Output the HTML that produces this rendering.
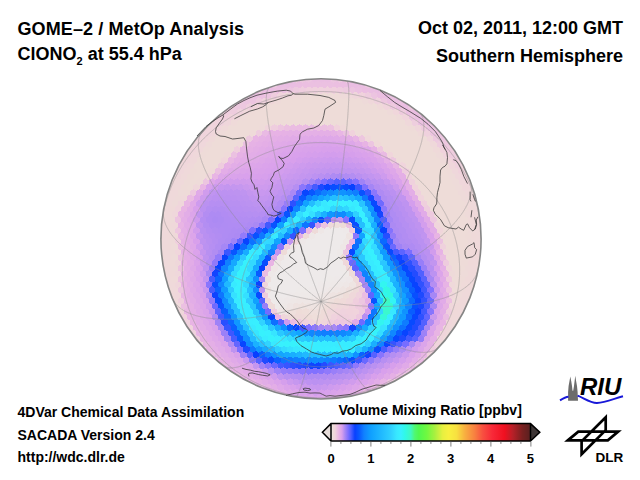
<!DOCTYPE html><html><head><meta charset="utf-8"><style>
body{margin:0;width:640px;height:480px;background:#fff;position:relative;overflow:hidden;font-family:"Liberation Sans",Arial,sans-serif;font-weight:bold;color:#000}
.t{position:absolute;white-space:nowrap;line-height:1}
svg{position:absolute;left:0;top:0}
</style></head><body>

<svg width="640" height="480" viewBox="0 0 640 480">
<defs><clipPath id="gc"><circle cx="321.0" cy="238.9" r="160.1"/></clipPath></defs>
<g clip-path="url(#gc)" shape-rendering="crispEdges"><path fill="#eedcd8" d="M318.1 70.2l3.27 1.90v3.80l-3.27 1.90l-3.27-1.90v-3.80zM324.4 70.2l3.27 1.90v3.80l-3.27 1.90l-3.27-1.90v-3.80zM311.9 91.8l3.27 1.90v3.80l-3.27 1.90l-3.27-1.90v-3.80zM318.1 91.8l3.27 1.90v3.80l-3.27 1.90l-3.27-1.90v-3.80zM324.4 91.8l3.27 1.90v3.80l-3.27 1.90l-3.27-1.90v-3.80zM283.8 97.2l3.27 1.90v3.80l-3.27 1.90l-3.27-1.90v-3.80zM290.1 97.2l3.27 1.90v3.80l-3.27 1.90l-3.27-1.90v-3.80zM296.3 97.2l3.27 1.90v3.80l-3.27 1.90l-3.27-1.90v-3.80zM302.5 97.2l3.27 1.90v3.80l-3.27 1.90l-3.27-1.90v-3.80zM308.8 97.2l3.27 1.90v3.80l-3.27 1.90l-3.27-1.90v-3.80zM315.0 97.2l3.27 1.90v3.80l-3.27 1.90l-3.27-1.90v-3.80zM321.2 97.2l3.27 1.90v3.80l-3.27 1.90l-3.27-1.90v-3.80zM327.5 97.2l3.27 1.90v3.80l-3.27 1.90l-3.27-1.90v-3.80zM333.7 97.2l3.27 1.90v3.80l-3.27 1.90l-3.27-1.90v-3.80zM339.9 97.2l3.27 1.90v3.80l-3.27 1.90l-3.27-1.90v-3.80zM346.2 97.2l3.27 1.90v3.80l-3.27 1.90l-3.27-1.90v-3.80zM352.4 97.2l3.27 1.90v3.80l-3.27 1.90l-3.27-1.90v-3.80zM358.6 97.2l3.27 1.90v3.80l-3.27 1.90l-3.27-1.90v-3.80zM268.2 102.6l3.27 1.90v3.80l-3.27 1.90l-3.27-1.90v-3.80zM274.5 102.6l3.27 1.90v3.80l-3.27 1.90l-3.27-1.90v-3.80zM280.7 102.6l3.27 1.90v3.80l-3.27 1.90l-3.27-1.90v-3.80zM286.9 102.6l3.27 1.90v3.80l-3.27 1.90l-3.27-1.90v-3.80zM293.2 102.6l3.27 1.90v3.80l-3.27 1.90l-3.27-1.90v-3.80zM299.4 102.6l3.27 1.90v3.80l-3.27 1.90l-3.27-1.90v-3.80zM305.6 102.6l3.27 1.90v3.80l-3.27 1.90l-3.27-1.90v-3.80zM311.9 102.6l3.27 1.90v3.80l-3.27 1.90l-3.27-1.90v-3.80zM318.1 102.6l3.27 1.90v3.80l-3.27 1.90l-3.27-1.90v-3.80zM324.4 102.6l3.27 1.90v3.80l-3.27 1.90l-3.27-1.90v-3.80zM330.6 102.6l3.27 1.90v3.80l-3.27 1.90l-3.27-1.90v-3.80zM336.8 102.6l3.27 1.90v3.80l-3.27 1.90l-3.27-1.90v-3.80zM343.1 102.6l3.27 1.90v3.80l-3.27 1.90l-3.27-1.90v-3.80zM349.3 102.6l3.27 1.90v3.80l-3.27 1.90l-3.27-1.90v-3.80zM355.5 102.6l3.27 1.90v3.80l-3.27 1.90l-3.27-1.90v-3.80zM361.8 102.6l3.27 1.90v3.80l-3.27 1.90l-3.27-1.90v-3.80zM368.0 102.6l3.27 1.90v3.80l-3.27 1.90l-3.27-1.90v-3.80zM374.2 102.6l3.27 1.90v3.80l-3.27 1.90l-3.27-1.90v-3.80zM258.9 108.0l3.27 1.90v3.80l-3.27 1.90l-3.27-1.90v-3.80zM265.1 108.0l3.27 1.90v3.80l-3.27 1.90l-3.27-1.90v-3.80zM271.4 108.0l3.27 1.90v3.80l-3.27 1.90l-3.27-1.90v-3.80zM277.6 108.0l3.27 1.90v3.80l-3.27 1.90l-3.27-1.90v-3.80zM283.8 108.0l3.27 1.90v3.80l-3.27 1.90l-3.27-1.90v-3.80zM290.1 108.0l3.27 1.90v3.80l-3.27 1.90l-3.27-1.90v-3.80zM296.3 108.0l3.27 1.90v3.80l-3.27 1.90l-3.27-1.90v-3.80zM302.5 108.0l3.27 1.90v3.80l-3.27 1.90l-3.27-1.90v-3.80zM308.8 108.0l3.27 1.90v3.80l-3.27 1.90l-3.27-1.90v-3.80zM315.0 108.0l3.27 1.90v3.80l-3.27 1.90l-3.27-1.90v-3.80zM321.2 108.0l3.27 1.90v3.80l-3.27 1.90l-3.27-1.90v-3.80zM327.5 108.0l3.27 1.90v3.80l-3.27 1.90l-3.27-1.90v-3.80zM333.7 108.0l3.27 1.90v3.80l-3.27 1.90l-3.27-1.90v-3.80zM339.9 108.0l3.27 1.90v3.80l-3.27 1.90l-3.27-1.90v-3.80zM346.2 108.0l3.27 1.90v3.80l-3.27 1.90l-3.27-1.90v-3.80zM352.4 108.0l3.27 1.90v3.80l-3.27 1.90l-3.27-1.90v-3.80zM358.6 108.0l3.27 1.90v3.80l-3.27 1.90l-3.27-1.90v-3.80zM364.9 108.0l3.27 1.90v3.80l-3.27 1.90l-3.27-1.90v-3.80zM371.1 108.0l3.27 1.90v3.80l-3.27 1.90l-3.27-1.90v-3.80zM377.4 108.0l3.27 1.90v3.80l-3.27 1.90l-3.27-1.90v-3.80zM383.6 108.0l3.27 1.90v3.80l-3.27 1.90l-3.27-1.90v-3.80zM249.5 113.4l3.27 1.90v3.80l-3.27 1.90l-3.27-1.90v-3.80zM255.8 113.4l3.27 1.90v3.80l-3.27 1.90l-3.27-1.90v-3.80zM262.0 113.4l3.27 1.90v3.80l-3.27 1.90l-3.27-1.90v-3.80zM268.2 113.4l3.27 1.90v3.80l-3.27 1.90l-3.27-1.90v-3.80zM274.5 113.4l3.27 1.90v3.80l-3.27 1.90l-3.27-1.90v-3.80zM280.7 113.4l3.27 1.90v3.80l-3.27 1.90l-3.27-1.90v-3.80zM286.9 113.4l3.27 1.90v3.80l-3.27 1.90l-3.27-1.90v-3.80zM293.2 113.4l3.27 1.90v3.80l-3.27 1.90l-3.27-1.90v-3.80zM299.4 113.4l3.27 1.90v3.80l-3.27 1.90l-3.27-1.90v-3.80zM305.6 113.4l3.27 1.90v3.80l-3.27 1.90l-3.27-1.90v-3.80zM311.9 113.4l3.27 1.90v3.80l-3.27 1.90l-3.27-1.90v-3.80zM318.1 113.4l3.27 1.90v3.80l-3.27 1.90l-3.27-1.90v-3.80zM324.4 113.4l3.27 1.90v3.80l-3.27 1.90l-3.27-1.90v-3.80zM330.6 113.4l3.27 1.90v3.80l-3.27 1.90l-3.27-1.90v-3.80zM336.8 113.4l3.27 1.90v3.80l-3.27 1.90l-3.27-1.90v-3.80zM343.1 113.4l3.27 1.90v3.80l-3.27 1.90l-3.27-1.90v-3.80zM349.3 113.4l3.27 1.90v3.80l-3.27 1.90l-3.27-1.90v-3.80zM355.5 113.4l3.27 1.90v3.80l-3.27 1.90l-3.27-1.90v-3.80zM361.8 113.4l3.27 1.90v3.80l-3.27 1.90l-3.27-1.90v-3.80zM368.0 113.4l3.27 1.90v3.80l-3.27 1.90l-3.27-1.90v-3.80zM374.2 113.4l3.27 1.90v3.80l-3.27 1.90l-3.27-1.90v-3.80zM380.5 113.4l3.27 1.90v3.80l-3.27 1.90l-3.27-1.90v-3.80zM386.7 113.4l3.27 1.90v3.80l-3.27 1.90l-3.27-1.90v-3.80zM392.9 113.4l3.27 1.90v3.80l-3.27 1.90l-3.27-1.90v-3.80zM240.2 118.8l3.27 1.90v3.80l-3.27 1.90l-3.27-1.90v-3.80zM246.4 118.8l3.27 1.90v3.80l-3.27 1.90l-3.27-1.90v-3.80zM252.6 118.8l3.27 1.90v3.80l-3.27 1.90l-3.27-1.90v-3.80zM258.9 118.8l3.27 1.90v3.80l-3.27 1.90l-3.27-1.90v-3.80zM265.1 118.8l3.27 1.90v3.80l-3.27 1.90l-3.27-1.90v-3.80zM271.4 118.8l3.27 1.90v3.80l-3.27 1.90l-3.27-1.90v-3.80zM277.6 118.8l3.27 1.90v3.80l-3.27 1.90l-3.27-1.90v-3.80zM283.8 118.8l3.27 1.90v3.80l-3.27 1.90l-3.27-1.90v-3.80zM290.1 118.8l3.27 1.90v3.80l-3.27 1.90l-3.27-1.90v-3.80zM296.3 118.8l3.27 1.90v3.80l-3.27 1.90l-3.27-1.90v-3.80zM302.5 118.8l3.27 1.90v3.80l-3.27 1.90l-3.27-1.90v-3.80zM308.8 118.8l3.27 1.90v3.80l-3.27 1.90l-3.27-1.90v-3.80zM315.0 118.8l3.27 1.90v3.80l-3.27 1.90l-3.27-1.90v-3.80zM321.2 118.8l3.27 1.90v3.80l-3.27 1.90l-3.27-1.90v-3.80zM327.5 118.8l3.27 1.90v3.80l-3.27 1.90l-3.27-1.90v-3.80zM333.7 118.8l3.27 1.90v3.80l-3.27 1.90l-3.27-1.90v-3.80zM339.9 118.8l3.27 1.90v3.80l-3.27 1.90l-3.27-1.90v-3.80zM346.2 118.8l3.27 1.90v3.80l-3.27 1.90l-3.27-1.90v-3.80zM352.4 118.8l3.27 1.90v3.80l-3.27 1.90l-3.27-1.90v-3.80zM358.6 118.8l3.27 1.90v3.80l-3.27 1.90l-3.27-1.90v-3.80zM364.9 118.8l3.27 1.90v3.80l-3.27 1.90l-3.27-1.90v-3.80zM371.1 118.8l3.27 1.90v3.80l-3.27 1.90l-3.27-1.90v-3.80zM377.4 118.8l3.27 1.90v3.80l-3.27 1.90l-3.27-1.90v-3.80zM383.6 118.8l3.27 1.90v3.80l-3.27 1.90l-3.27-1.90v-3.80zM389.8 118.8l3.27 1.90v3.80l-3.27 1.90l-3.27-1.90v-3.80zM396.1 118.8l3.27 1.90v3.80l-3.27 1.90l-3.27-1.90v-3.80zM402.3 118.8l3.27 1.90v3.80l-3.27 1.90l-3.27-1.90v-3.80zM230.8 124.2l3.27 1.90v3.80l-3.27 1.90l-3.27-1.90v-3.80zM237.1 124.2l3.27 1.90v3.80l-3.27 1.90l-3.27-1.90v-3.80zM243.3 124.2l3.27 1.90v3.80l-3.27 1.90l-3.27-1.90v-3.80zM249.5 124.2l3.27 1.90v3.80l-3.27 1.90l-3.27-1.90v-3.80zM255.8 124.2l3.27 1.90v3.80l-3.27 1.90l-3.27-1.90v-3.80zM349.3 124.2l3.27 1.90v3.80l-3.27 1.90l-3.27-1.90v-3.80zM355.5 124.2l3.27 1.90v3.80l-3.27 1.90l-3.27-1.90v-3.80zM361.8 124.2l3.27 1.90v3.80l-3.27 1.90l-3.27-1.90v-3.80zM368.0 124.2l3.27 1.90v3.80l-3.27 1.90l-3.27-1.90v-3.80zM374.2 124.2l3.27 1.90v3.80l-3.27 1.90l-3.27-1.90v-3.80zM380.5 124.2l3.27 1.90v3.80l-3.27 1.90l-3.27-1.90v-3.80zM386.7 124.2l3.27 1.90v3.80l-3.27 1.90l-3.27-1.90v-3.80zM392.9 124.2l3.27 1.90v3.80l-3.27 1.90l-3.27-1.90v-3.80zM399.2 124.2l3.27 1.90v3.80l-3.27 1.90l-3.27-1.90v-3.80zM405.4 124.2l3.27 1.90v3.80l-3.27 1.90l-3.27-1.90v-3.80zM227.7 129.6l3.27 1.90v3.80l-3.27 1.90l-3.27-1.90v-3.80zM233.9 129.6l3.27 1.90v3.80l-3.27 1.90l-3.27-1.90v-3.80zM240.2 129.6l3.27 1.90v3.80l-3.27 1.90l-3.27-1.90v-3.80zM246.4 129.6l3.27 1.90v3.80l-3.27 1.90l-3.27-1.90v-3.80zM364.9 129.6l3.27 1.90v3.80l-3.27 1.90l-3.27-1.90v-3.80zM371.1 129.6l3.27 1.90v3.80l-3.27 1.90l-3.27-1.90v-3.80zM377.4 129.6l3.27 1.90v3.80l-3.27 1.90l-3.27-1.90v-3.80zM383.6 129.6l3.27 1.90v3.80l-3.27 1.90l-3.27-1.90v-3.80zM389.8 129.6l3.27 1.90v3.80l-3.27 1.90l-3.27-1.90v-3.80zM396.1 129.6l3.27 1.90v3.80l-3.27 1.90l-3.27-1.90v-3.80zM402.3 129.6l3.27 1.90v3.80l-3.27 1.90l-3.27-1.90v-3.80zM408.5 129.6l3.27 1.90v3.80l-3.27 1.90l-3.27-1.90v-3.80zM414.8 129.6l3.27 1.90v3.80l-3.27 1.90l-3.27-1.90v-3.80zM218.4 135.0l3.27 1.90v3.80l-3.27 1.90l-3.27-1.90v-3.80zM224.6 135.0l3.27 1.90v3.80l-3.27 1.90l-3.27-1.90v-3.80zM230.8 135.0l3.27 1.90v3.80l-3.27 1.90l-3.27-1.90v-3.80zM237.1 135.0l3.27 1.90v3.80l-3.27 1.90l-3.27-1.90v-3.80zM243.3 135.0l3.27 1.90v3.80l-3.27 1.90l-3.27-1.90v-3.80zM374.2 135.0l3.27 1.90v3.80l-3.27 1.90l-3.27-1.90v-3.80zM380.5 135.0l3.27 1.90v3.80l-3.27 1.90l-3.27-1.90v-3.80zM386.7 135.0l3.27 1.90v3.80l-3.27 1.90l-3.27-1.90v-3.80zM392.9 135.0l3.27 1.90v3.80l-3.27 1.90l-3.27-1.90v-3.80zM399.2 135.0l3.27 1.90v3.80l-3.27 1.90l-3.27-1.90v-3.80zM405.4 135.0l3.27 1.90v3.80l-3.27 1.90l-3.27-1.90v-3.80zM411.7 135.0l3.27 1.90v3.80l-3.27 1.90l-3.27-1.90v-3.80zM417.9 135.0l3.27 1.90v3.80l-3.27 1.90l-3.27-1.90v-3.80zM424.1 135.0l3.27 1.90v3.80l-3.27 1.90l-3.27-1.90v-3.80zM215.2 140.4l3.27 1.90v3.80l-3.27 1.90l-3.27-1.90v-3.80zM221.5 140.4l3.27 1.90v3.80l-3.27 1.90l-3.27-1.90v-3.80zM227.7 140.4l3.27 1.90v3.80l-3.27 1.90l-3.27-1.90v-3.80zM233.9 140.4l3.27 1.90v3.80l-3.27 1.90l-3.27-1.90v-3.80zM383.6 140.4l3.27 1.90v3.80l-3.27 1.90l-3.27-1.90v-3.80zM389.8 140.4l3.27 1.90v3.80l-3.27 1.90l-3.27-1.90v-3.80zM396.1 140.4l3.27 1.90v3.80l-3.27 1.90l-3.27-1.90v-3.80zM402.3 140.4l3.27 1.90v3.80l-3.27 1.90l-3.27-1.90v-3.80zM408.5 140.4l3.27 1.90v3.80l-3.27 1.90l-3.27-1.90v-3.80zM414.8 140.4l3.27 1.90v3.80l-3.27 1.90l-3.27-1.90v-3.80zM421.0 140.4l3.27 1.90v3.80l-3.27 1.90l-3.27-1.90v-3.80zM427.2 140.4l3.27 1.90v3.80l-3.27 1.90l-3.27-1.90v-3.80zM212.1 145.8l3.27 1.90v3.80l-3.27 1.90l-3.27-1.90v-3.80zM218.4 145.8l3.27 1.90v3.80l-3.27 1.90l-3.27-1.90v-3.80zM224.6 145.8l3.27 1.90v3.80l-3.27 1.90l-3.27-1.90v-3.80zM230.8 145.8l3.27 1.90v3.80l-3.27 1.90l-3.27-1.90v-3.80zM392.9 145.8l3.27 1.90v3.80l-3.27 1.90l-3.27-1.90v-3.80zM399.2 145.8l3.27 1.90v3.80l-3.27 1.90l-3.27-1.90v-3.80zM405.4 145.8l3.27 1.90v3.80l-3.27 1.90l-3.27-1.90v-3.80zM411.7 145.8l3.27 1.90v3.80l-3.27 1.90l-3.27-1.90v-3.80zM417.9 145.8l3.27 1.90v3.80l-3.27 1.90l-3.27-1.90v-3.80zM424.1 145.8l3.27 1.90v3.80l-3.27 1.90l-3.27-1.90v-3.80zM430.4 145.8l3.27 1.90v3.80l-3.27 1.90l-3.27-1.90v-3.80zM209.0 151.2l3.27 1.90v3.80l-3.27 1.90l-3.27-1.90v-3.80zM215.2 151.2l3.27 1.90v3.80l-3.27 1.90l-3.27-1.90v-3.80zM221.5 151.2l3.27 1.90v3.80l-3.27 1.90l-3.27-1.90v-3.80zM396.1 151.2l3.27 1.90v3.80l-3.27 1.90l-3.27-1.90v-3.80zM402.3 151.2l3.27 1.90v3.80l-3.27 1.90l-3.27-1.90v-3.80zM408.5 151.2l3.27 1.90v3.80l-3.27 1.90l-3.27-1.90v-3.80zM414.8 151.2l3.27 1.90v3.80l-3.27 1.90l-3.27-1.90v-3.80zM421.0 151.2l3.27 1.90v3.80l-3.27 1.90l-3.27-1.90v-3.80zM427.2 151.2l3.27 1.90v3.80l-3.27 1.90l-3.27-1.90v-3.80zM433.5 151.2l3.27 1.90v3.80l-3.27 1.90l-3.27-1.90v-3.80zM199.6 156.6l3.27 1.90v3.80l-3.27 1.90l-3.27-1.90v-3.80zM205.9 156.6l3.27 1.90v3.80l-3.27 1.90l-3.27-1.90v-3.80zM212.1 156.6l3.27 1.90v3.80l-3.27 1.90l-3.27-1.90v-3.80zM218.4 156.6l3.27 1.90v3.80l-3.27 1.90l-3.27-1.90v-3.80zM405.4 156.6l3.27 1.90v3.80l-3.27 1.90l-3.27-1.90v-3.80zM411.7 156.6l3.27 1.90v3.80l-3.27 1.90l-3.27-1.90v-3.80zM417.9 156.6l3.27 1.90v3.80l-3.27 1.90l-3.27-1.90v-3.80zM424.1 156.6l3.27 1.90v3.80l-3.27 1.90l-3.27-1.90v-3.80zM430.4 156.6l3.27 1.90v3.80l-3.27 1.90l-3.27-1.90v-3.80zM436.6 156.6l3.27 1.90v3.80l-3.27 1.90l-3.27-1.90v-3.80zM196.5 162.0l3.27 1.90v3.80l-3.27 1.90l-3.27-1.90v-3.80zM202.8 162.0l3.27 1.90v3.80l-3.27 1.90l-3.27-1.90v-3.80zM209.0 162.0l3.27 1.90v3.80l-3.27 1.90l-3.27-1.90v-3.80zM215.2 162.0l3.27 1.90v3.80l-3.27 1.90l-3.27-1.90v-3.80zM408.5 162.0l3.27 1.90v3.80l-3.27 1.90l-3.27-1.90v-3.80zM414.8 162.0l3.27 1.90v3.80l-3.27 1.90l-3.27-1.90v-3.80zM421.0 162.0l3.27 1.90v3.80l-3.27 1.90l-3.27-1.90v-3.80zM427.2 162.0l3.27 1.90v3.80l-3.27 1.90l-3.27-1.90v-3.80zM433.5 162.0l3.27 1.90v3.80l-3.27 1.90l-3.27-1.90v-3.80zM439.7 162.0l3.27 1.90v3.80l-3.27 1.90l-3.27-1.90v-3.80zM199.6 167.4l3.27 1.90v3.80l-3.27 1.90l-3.27-1.90v-3.80zM205.9 167.4l3.27 1.90v3.80l-3.27 1.90l-3.27-1.90v-3.80zM411.7 167.4l3.27 1.90v3.80l-3.27 1.90l-3.27-1.90v-3.80zM417.9 167.4l3.27 1.90v3.80l-3.27 1.90l-3.27-1.90v-3.80zM424.1 167.4l3.27 1.90v3.80l-3.27 1.90l-3.27-1.90v-3.80zM430.4 167.4l3.27 1.90v3.80l-3.27 1.90l-3.27-1.90v-3.80zM436.6 167.4l3.27 1.90v3.80l-3.27 1.90l-3.27-1.90v-3.80zM442.8 167.4l3.27 1.90v3.80l-3.27 1.90l-3.27-1.90v-3.80zM196.5 172.8l3.27 1.90v3.80l-3.27 1.90l-3.27-1.90v-3.80zM202.8 172.8l3.27 1.90v3.80l-3.27 1.90l-3.27-1.90v-3.80zM414.8 172.8l3.27 1.90v3.80l-3.27 1.90l-3.27-1.90v-3.80zM421.0 172.8l3.27 1.90v3.80l-3.27 1.90l-3.27-1.90v-3.80zM427.2 172.8l3.27 1.90v3.80l-3.27 1.90l-3.27-1.90v-3.80zM433.5 172.8l3.27 1.90v3.80l-3.27 1.90l-3.27-1.90v-3.80zM439.7 172.8l3.27 1.90v3.80l-3.27 1.90l-3.27-1.90v-3.80zM445.9 172.8l3.27 1.90v3.80l-3.27 1.90l-3.27-1.90v-3.80zM193.4 178.2l3.27 1.90v3.80l-3.27 1.90l-3.27-1.90v-3.80zM417.9 178.2l3.27 1.90v3.80l-3.27 1.90l-3.27-1.90v-3.80zM424.1 178.2l3.27 1.90v3.80l-3.27 1.90l-3.27-1.90v-3.80zM430.4 178.2l3.27 1.90v3.80l-3.27 1.90l-3.27-1.90v-3.80zM436.6 178.2l3.27 1.90v3.80l-3.27 1.90l-3.27-1.90v-3.80zM442.8 178.2l3.27 1.90v3.80l-3.27 1.90l-3.27-1.90v-3.80zM449.1 178.2l3.27 1.90v3.80l-3.27 1.90l-3.27-1.90v-3.80zM165.4 183.6l3.27 1.90v3.80l-3.27 1.90l-3.27-1.90v-3.80zM190.3 183.6l3.27 1.90v3.80l-3.27 1.90l-3.27-1.90v-3.80zM421.0 183.6l3.27 1.90v3.80l-3.27 1.90l-3.27-1.90v-3.80zM427.2 183.6l3.27 1.90v3.80l-3.27 1.90l-3.27-1.90v-3.80zM433.5 183.6l3.27 1.90v3.80l-3.27 1.90l-3.27-1.90v-3.80zM439.7 183.6l3.27 1.90v3.80l-3.27 1.90l-3.27-1.90v-3.80zM445.9 183.6l3.27 1.90v3.80l-3.27 1.90l-3.27-1.90v-3.80zM452.2 183.6l3.27 1.90v3.80l-3.27 1.90l-3.27-1.90v-3.80zM477.1 183.6l3.27 1.90v3.80l-3.27 1.90l-3.27-1.90v-3.80zM424.1 189.0l3.27 1.90v3.80l-3.27 1.90l-3.27-1.90v-3.80zM430.4 189.0l3.27 1.90v3.80l-3.27 1.90l-3.27-1.90v-3.80zM436.6 189.0l3.27 1.90v3.80l-3.27 1.90l-3.27-1.90v-3.80zM442.8 189.0l3.27 1.90v3.80l-3.27 1.90l-3.27-1.90v-3.80zM449.1 189.0l3.27 1.90v3.80l-3.27 1.90l-3.27-1.90v-3.80zM455.3 189.0l3.27 1.90v3.80l-3.27 1.90l-3.27-1.90v-3.80zM427.2 194.4l3.27 1.90v3.80l-3.27 1.90l-3.27-1.90v-3.80zM433.5 194.4l3.27 1.90v3.80l-3.27 1.90l-3.27-1.90v-3.80zM439.7 194.4l3.27 1.90v3.80l-3.27 1.90l-3.27-1.90v-3.80zM445.9 194.4l3.27 1.90v3.80l-3.27 1.90l-3.27-1.90v-3.80zM452.2 194.4l3.27 1.90v3.80l-3.27 1.90l-3.27-1.90v-3.80zM458.4 194.4l3.27 1.90v3.80l-3.27 1.90l-3.27-1.90v-3.80zM430.4 199.8l3.27 1.90v3.80l-3.27 1.90l-3.27-1.90v-3.80zM436.6 199.8l3.27 1.90v3.80l-3.27 1.90l-3.27-1.90v-3.80zM442.8 199.8l3.27 1.90v3.80l-3.27 1.90l-3.27-1.90v-3.80zM449.1 199.8l3.27 1.90v3.80l-3.27 1.90l-3.27-1.90v-3.80zM455.3 199.8l3.27 1.90v3.80l-3.27 1.90l-3.27-1.90v-3.80zM461.5 199.8l3.27 1.90v3.80l-3.27 1.90l-3.27-1.90v-3.80zM159.1 205.2l3.27 1.90v3.80l-3.27 1.90l-3.27-1.90v-3.80zM433.5 205.2l3.27 1.90v3.80l-3.27 1.90l-3.27-1.90v-3.80zM439.7 205.2l3.27 1.90v3.80l-3.27 1.90l-3.27-1.90v-3.80zM445.9 205.2l3.27 1.90v3.80l-3.27 1.90l-3.27-1.90v-3.80zM452.2 205.2l3.27 1.90v3.80l-3.27 1.90l-3.27-1.90v-3.80zM458.4 205.2l3.27 1.90v3.80l-3.27 1.90l-3.27-1.90v-3.80zM436.6 210.6l3.27 1.90v3.80l-3.27 1.90l-3.27-1.90v-3.80zM442.8 210.6l3.27 1.90v3.80l-3.27 1.90l-3.27-1.90v-3.80zM449.1 210.6l3.27 1.90v3.80l-3.27 1.90l-3.27-1.90v-3.80zM455.3 210.6l3.27 1.90v3.80l-3.27 1.90l-3.27-1.90v-3.80zM461.5 210.6l3.27 1.90v3.80l-3.27 1.90l-3.27-1.90v-3.80zM439.7 216.0l3.27 1.90v3.80l-3.27 1.90l-3.27-1.90v-3.80zM445.9 216.0l3.27 1.90v3.80l-3.27 1.90l-3.27-1.90v-3.80zM452.2 216.0l3.27 1.90v3.80l-3.27 1.90l-3.27-1.90v-3.80zM458.4 216.0l3.27 1.90v3.80l-3.27 1.90l-3.27-1.90v-3.80zM464.7 216.0l3.27 1.90v3.80l-3.27 1.90l-3.27-1.90v-3.80zM343.1 221.4l3.27 1.90v3.80l-3.27 1.90l-3.27-1.90v-3.80zM442.8 221.4l3.27 1.90v3.80l-3.27 1.90l-3.27-1.90v-3.80zM449.1 221.4l3.27 1.90v3.80l-3.27 1.90l-3.27-1.90v-3.80zM455.3 221.4l3.27 1.90v3.80l-3.27 1.90l-3.27-1.90v-3.80zM461.5 221.4l3.27 1.90v3.80l-3.27 1.90l-3.27-1.90v-3.80zM445.9 226.8l3.27 1.90v3.80l-3.27 1.90l-3.27-1.90v-3.80zM452.2 226.8l3.27 1.90v3.80l-3.27 1.90l-3.27-1.90v-3.80zM458.4 226.8l3.27 1.90v3.80l-3.27 1.90l-3.27-1.90v-3.80zM464.7 226.8l3.27 1.90v3.80l-3.27 1.90l-3.27-1.90v-3.80zM156.0 232.2l3.27 1.90v3.80l-3.27 1.90l-3.27-1.90v-3.80zM449.1 232.2l3.27 1.90v3.80l-3.27 1.90l-3.27-1.90v-3.80zM455.3 232.2l3.27 1.90v3.80l-3.27 1.90l-3.27-1.90v-3.80zM461.5 232.2l3.27 1.90v3.80l-3.27 1.90l-3.27-1.90v-3.80zM445.9 237.6l3.27 1.90v3.80l-3.27 1.90l-3.27-1.90v-3.80zM452.2 237.6l3.27 1.90v3.80l-3.27 1.90l-3.27-1.90v-3.80zM458.4 237.6l3.27 1.90v3.80l-3.27 1.90l-3.27-1.90v-3.80zM464.7 237.6l3.27 1.90v3.80l-3.27 1.90l-3.27-1.90v-3.80zM449.1 243.0l3.27 1.90v3.80l-3.27 1.90l-3.27-1.90v-3.80zM455.3 243.0l3.27 1.90v3.80l-3.27 1.90l-3.27-1.90v-3.80zM461.5 243.0l3.27 1.90v3.80l-3.27 1.90l-3.27-1.90v-3.80zM452.2 248.4l3.27 1.90v3.80l-3.27 1.90l-3.27-1.90v-3.80zM458.4 248.4l3.27 1.90v3.80l-3.27 1.90l-3.27-1.90v-3.80zM464.7 248.4l3.27 1.90v3.80l-3.27 1.90l-3.27-1.90v-3.80zM343.1 253.8l3.27 1.90v3.80l-3.27 1.90l-3.27-1.90v-3.80zM449.1 253.8l3.27 1.90v3.80l-3.27 1.90l-3.27-1.90v-3.80zM455.3 253.8l3.27 1.90v3.80l-3.27 1.90l-3.27-1.90v-3.80zM461.5 253.8l3.27 1.90v3.80l-3.27 1.90l-3.27-1.90v-3.80zM452.2 259.1l3.27 1.90v3.80l-3.27 1.90l-3.27-1.90v-3.80zM458.4 259.1l3.27 1.90v3.80l-3.27 1.90l-3.27-1.90v-3.80zM455.3 264.6l3.27 1.90v3.80l-3.27 1.90l-3.27-1.90v-3.80zM461.5 264.6l3.27 1.90v3.80l-3.27 1.90l-3.27-1.90v-3.80zM458.4 270.0l3.27 1.90v3.80l-3.27 1.90l-3.27-1.90v-3.80zM162.2 275.4l3.27 1.90v3.80l-3.27 1.90l-3.27-1.90v-3.80zM455.3 275.4l3.27 1.90v3.80l-3.27 1.90l-3.27-1.90v-3.80zM480.2 275.4l3.27 1.90v3.80l-3.27 1.90l-3.27-1.90v-3.80zM458.4 280.8l3.27 1.90v3.80l-3.27 1.90l-3.27-1.90v-3.80zM455.3 286.1l3.27 1.90v3.80l-3.27 1.90l-3.27-1.90v-3.80zM168.5 297.0l3.27 1.90v3.80l-3.27 1.90l-3.27-1.90v-3.80zM336.8 297.0l3.27 1.90v3.80l-3.27 1.90l-3.27-1.90v-3.80zM474.0 297.0l3.27 1.90v3.80l-3.27 1.90l-3.27-1.90v-3.80zM470.9 302.4l3.27 1.90v3.80l-3.27 1.90l-3.27-1.90v-3.80zM299.4 307.8l3.27 1.90v3.80l-3.27 1.90l-3.27-1.90v-3.80zM467.8 307.8l3.27 1.90v3.80l-3.27 1.90l-3.27-1.90v-3.80zM308.8 313.2l3.27 1.90v3.80l-3.27 1.90l-3.27-1.90v-3.80zM187.2 329.4l3.27 1.90v3.80l-3.27 1.90l-3.27-1.90v-3.80zM455.3 329.4l3.27 1.90v3.80l-3.27 1.90l-3.27-1.90v-3.80zM190.3 334.8l3.27 1.90v3.80l-3.27 1.90l-3.27-1.90v-3.80zM452.2 334.8l3.27 1.90v3.80l-3.27 1.90l-3.27-1.90v-3.80zM436.6 351.0l3.27 1.90v3.80l-3.27 1.90l-3.27-1.90v-3.80zM209.0 356.4l3.27 1.90v3.80l-3.27 1.90l-3.27-1.90v-3.80zM411.7 372.6l3.27 1.90v3.80l-3.27 1.90l-3.27-1.90v-3.80zM402.3 378.0l3.27 1.90v3.80l-3.27 1.90l-3.27-1.90v-3.80zM392.9 383.4l3.27 1.90v3.80l-3.27 1.90l-3.27-1.90v-3.80z"/><path fill="#eedad9" d="M283.8 75.6l3.27 1.90v3.80l-3.27 1.90l-3.27-1.90v-3.80zM389.8 86.4l3.27 1.90v3.80l-3.27 1.90l-3.27-1.90v-3.80zM299.4 91.8l3.27 1.90v3.80l-3.27 1.90l-3.27-1.90v-3.80zM343.1 91.8l3.27 1.90v3.80l-3.27 1.90l-3.27-1.90v-3.80zM277.6 97.2l3.27 1.90v3.80l-3.27 1.90l-3.27-1.90v-3.80zM364.9 97.2l3.27 1.90v3.80l-3.27 1.90l-3.27-1.90v-3.80zM389.8 108.0l3.27 1.90v3.80l-3.27 1.90l-3.27-1.90v-3.80zM399.2 113.4l3.27 1.90v3.80l-3.27 1.90l-3.27-1.90v-3.80zM196.5 129.6l3.27 1.90v3.80l-3.27 1.90l-3.27-1.90v-3.80zM445.9 129.6l3.27 1.90v3.80l-3.27 1.90l-3.27-1.90v-3.80zM209.0 140.4l3.27 1.90v3.80l-3.27 1.90l-3.27-1.90v-3.80zM439.7 151.2l3.27 1.90v3.80l-3.27 1.90l-3.27-1.90v-3.80zM442.8 156.6l3.27 1.90v3.80l-3.27 1.90l-3.27-1.90v-3.80zM474.0 178.2l3.27 1.90v3.80l-3.27 1.90l-3.27-1.90v-3.80zM461.5 189.0l3.27 1.90v3.80l-3.27 1.90l-3.27-1.90v-3.80zM177.8 194.4l3.27 1.90v3.80l-3.27 1.90l-3.27-1.90v-3.80zM464.7 194.4l3.27 1.90v3.80l-3.27 1.90l-3.27-1.90v-3.80zM174.7 199.8l3.27 1.90v3.80l-3.27 1.90l-3.27-1.90v-3.80zM467.8 210.6l3.27 1.90v3.80l-3.27 1.90l-3.27-1.90v-3.80zM171.6 216.0l3.27 1.90v3.80l-3.27 1.90l-3.27-1.90v-3.80zM171.6 226.8l3.27 1.90v3.80l-3.27 1.90l-3.27-1.90v-3.80zM470.9 226.8l3.27 1.90v3.80l-3.27 1.90l-3.27-1.90v-3.80zM159.1 237.6l3.27 1.90v3.80l-3.27 1.90l-3.27-1.90v-3.80zM171.6 237.6l3.27 1.90v3.80l-3.27 1.90l-3.27-1.90v-3.80zM470.9 237.6l3.27 1.90v3.80l-3.27 1.90l-3.27-1.90v-3.80zM483.4 237.6l3.27 1.90v3.80l-3.27 1.90l-3.27-1.90v-3.80zM171.6 248.4l3.27 1.90v3.80l-3.27 1.90l-3.27-1.90v-3.80zM162.2 264.6l3.27 1.90v3.80l-3.27 1.90l-3.27-1.90v-3.80zM174.7 264.6l3.27 1.90v3.80l-3.27 1.90l-3.27-1.90v-3.80zM467.8 264.6l3.27 1.90v3.80l-3.27 1.90l-3.27-1.90v-3.80zM480.2 264.6l3.27 1.90v3.80l-3.27 1.90l-3.27-1.90v-3.80zM452.2 270.0l3.27 1.90v3.80l-3.27 1.90l-3.27-1.90v-3.80zM355.5 275.4l3.27 1.90v3.80l-3.27 1.90l-3.27-1.90v-3.80zM355.5 286.1l3.27 1.90v3.80l-3.27 1.90l-3.27-1.90v-3.80zM461.5 286.1l3.27 1.90v3.80l-3.27 1.90l-3.27-1.90v-3.80zM290.1 313.2l3.27 1.90v3.80l-3.27 1.90l-3.27-1.90v-3.80zM296.3 313.2l3.27 1.90v3.80l-3.27 1.90l-3.27-1.90v-3.80zM302.5 313.2l3.27 1.90v3.80l-3.27 1.90l-3.27-1.90v-3.80zM439.7 345.6l3.27 1.90v3.80l-3.27 1.90l-3.27-1.90v-3.80z"/><path fill="#f0d5db" d="M290.1 75.6l3.27 1.90v3.80l-3.27 1.90l-3.27-1.90v-3.80zM352.4 75.6l3.27 1.90v3.80l-3.27 1.90l-3.27-1.90v-3.80zM399.2 91.8l3.27 1.90v3.80l-3.27 1.90l-3.27-1.90v-3.80zM255.8 102.6l3.27 1.90v3.80l-3.27 1.90l-3.27-1.90v-3.80zM449.1 135.0l3.27 1.90v3.80l-3.27 1.90l-3.27-1.90v-3.80zM193.4 145.8l3.27 1.90v3.80l-3.27 1.90l-3.27-1.90v-3.80zM389.8 151.2l3.27 1.90v3.80l-3.27 1.90l-3.27-1.90v-3.80zM449.1 156.6l3.27 1.90v3.80l-3.27 1.90l-3.27-1.90v-3.80zM461.5 156.6l3.27 1.90v3.80l-3.27 1.90l-3.27-1.90v-3.80zM467.8 178.2l3.27 1.90v3.80l-3.27 1.90l-3.27-1.90v-3.80zM439.7 226.8l3.27 1.90v3.80l-3.27 1.90l-3.27-1.90v-3.80zM324.4 318.6l3.27 1.90v3.80l-3.27 1.90l-3.27-1.90v-3.80zM445.9 324.0l3.27 1.90v3.80l-3.27 1.90l-3.27-1.90v-3.80zM442.8 329.4l3.27 1.90v3.80l-3.27 1.90l-3.27-1.90v-3.80zM265.1 388.8l3.27 1.90v3.80l-3.27 1.90l-3.27-1.90v-3.80z"/><path fill="#efcedd" d="M296.3 75.6l3.27 1.90v3.80l-3.27 1.90l-3.27-1.90v-3.80zM346.2 75.6l3.27 1.90v3.80l-3.27 1.90l-3.27-1.90v-3.80zM455.3 156.6l3.27 1.90v3.80l-3.27 1.90l-3.27-1.90v-3.80zM361.8 286.1l3.27 1.90v3.80l-3.27 1.90l-3.27-1.90v-3.80zM355.5 297.0l3.27 1.90v3.80l-3.27 1.90l-3.27-1.90v-3.80zM274.5 307.8l3.27 1.90v3.80l-3.27 1.90l-3.27-1.90v-3.80zM339.9 313.2l3.27 1.90v3.80l-3.27 1.90l-3.27-1.90v-3.80z"/><path fill="#edc7df" d="M302.5 75.6l3.27 1.90v3.80l-3.27 1.90l-3.27-1.90v-3.80zM383.6 97.2l3.27 1.90v3.80l-3.27 1.90l-3.27-1.90v-3.80zM380.5 145.8l3.27 1.90v3.80l-3.27 1.90l-3.27-1.90v-3.80zM392.9 156.6l3.27 1.90v3.80l-3.27 1.90l-3.27-1.90v-3.80zM177.8 226.8l3.27 1.90v3.80l-3.27 1.90l-3.27-1.90v-3.80zM299.4 318.6l3.27 1.90v3.80l-3.27 1.90l-3.27-1.90v-3.80zM343.1 318.6l3.27 1.90v3.80l-3.27 1.90l-3.27-1.90v-3.80zM227.7 367.1l3.27 1.90v3.80l-3.27 1.90l-3.27-1.90v-3.80zM246.4 378.0l3.27 1.90v3.80l-3.27 1.90l-3.27-1.90v-3.80z"/><path fill="#ecc5e0" d="M308.8 75.6l3.27 1.90v3.80l-3.27 1.90l-3.27-1.90v-3.80zM333.7 75.6l3.27 1.90v3.80l-3.27 1.90l-3.27-1.90v-3.80zM290.1 86.4l3.27 1.90v3.80l-3.27 1.90l-3.27-1.90v-3.80zM352.4 86.4l3.27 1.90v3.80l-3.27 1.90l-3.27-1.90v-3.80zM249.5 91.8l3.27 1.90v3.80l-3.27 1.90l-3.27-1.90v-3.80zM252.6 97.2l3.27 1.90v3.80l-3.27 1.90l-3.27-1.90v-3.80zM411.7 113.4l3.27 1.90v3.80l-3.27 1.90l-3.27-1.90v-3.80zM280.7 124.2l3.27 1.90v3.80l-3.27 1.90l-3.27-1.90v-3.80zM436.6 124.2l3.27 1.90v3.80l-3.27 1.90l-3.27-1.90v-3.80zM433.5 129.6l3.27 1.90v3.80l-3.27 1.90l-3.27-1.90v-3.80zM439.7 129.6l3.27 1.90v3.80l-3.27 1.90l-3.27-1.90v-3.80zM371.1 140.4l3.27 1.90v3.80l-3.27 1.90l-3.27-1.90v-3.80zM205.9 178.2l3.27 1.90v3.80l-3.27 1.90l-3.27-1.90v-3.80zM180.9 286.1l3.27 1.90v3.80l-3.27 1.90l-3.27-1.90v-3.80z"/><path fill="#eabee2" d="M315.0 75.6l3.27 1.90v3.80l-3.27 1.90l-3.27-1.90v-3.80zM321.2 75.6l3.27 1.90v3.80l-3.27 1.90l-3.27-1.90v-3.80zM327.5 75.6l3.27 1.90v3.80l-3.27 1.90l-3.27-1.90v-3.80zM280.7 81.0l3.27 1.90v3.80l-3.27 1.90l-3.27-1.90v-3.80zM286.9 81.0l3.27 1.90v3.80l-3.27 1.90l-3.27-1.90v-3.80zM293.2 81.0l3.27 1.90v3.80l-3.27 1.90l-3.27-1.90v-3.80zM349.3 81.0l3.27 1.90v3.80l-3.27 1.90l-3.27-1.90v-3.80zM355.5 81.0l3.27 1.90v3.80l-3.27 1.90l-3.27-1.90v-3.80zM361.8 81.0l3.27 1.90v3.80l-3.27 1.90l-3.27-1.90v-3.80zM265.1 86.4l3.27 1.90v3.80l-3.27 1.90l-3.27-1.90v-3.80zM271.4 86.4l3.27 1.90v3.80l-3.27 1.90l-3.27-1.90v-3.80zM371.1 86.4l3.27 1.90v3.80l-3.27 1.90l-3.27-1.90v-3.80zM377.4 86.4l3.27 1.90v3.80l-3.27 1.90l-3.27-1.90v-3.80zM386.7 91.8l3.27 1.90v3.80l-3.27 1.90l-3.27-1.90v-3.80zM396.1 97.2l3.27 1.90v3.80l-3.27 1.90l-3.27-1.90v-3.80zM405.4 102.6l3.27 1.90v3.80l-3.27 1.90l-3.27-1.90v-3.80zM414.8 108.0l3.27 1.90v3.80l-3.27 1.90l-3.27-1.90v-3.80zM417.9 113.4l3.27 1.90v3.80l-3.27 1.90l-3.27-1.90v-3.80zM311.9 124.2l3.27 1.90v3.80l-3.27 1.90l-3.27-1.90v-3.80z"/><path fill="#edc8df" d="M339.9 75.6l3.27 1.90v3.80l-3.27 1.90l-3.27-1.90v-3.80zM274.5 81.0l3.27 1.90v3.80l-3.27 1.90l-3.27-1.90v-3.80zM368.0 81.0l3.27 1.90v3.80l-3.27 1.90l-3.27-1.90v-3.80zM243.3 102.6l3.27 1.90v3.80l-3.27 1.90l-3.27-1.90v-3.80zM411.7 102.6l3.27 1.90v3.80l-3.27 1.90l-3.27-1.90v-3.80zM445.9 140.4l3.27 1.90v3.80l-3.27 1.90l-3.27-1.90v-3.80zM433.5 216.0l3.27 1.90v3.80l-3.27 1.90l-3.27-1.90v-3.80zM358.6 313.2l3.27 1.90v3.80l-3.27 1.90l-3.27-1.90v-3.80zM336.8 318.6l3.27 1.90v3.80l-3.27 1.90l-3.27-1.90v-3.80z"/><path fill="#eedbd8" d="M358.6 75.6l3.27 1.90v3.80l-3.27 1.90l-3.27-1.90v-3.80zM305.6 91.8l3.27 1.90v3.80l-3.27 1.90l-3.27-1.90v-3.80zM330.6 91.8l3.27 1.90v3.80l-3.27 1.90l-3.27-1.90v-3.80zM336.8 91.8l3.27 1.90v3.80l-3.27 1.90l-3.27-1.90v-3.80zM417.9 102.6l3.27 1.90v3.80l-3.27 1.90l-3.27-1.90v-3.80zM252.6 108.0l3.27 1.90v3.80l-3.27 1.90l-3.27-1.90v-3.80zM199.6 124.2l3.27 1.90v3.80l-3.27 1.90l-3.27-1.90v-3.80zM411.7 124.2l3.27 1.90v3.80l-3.27 1.90l-3.27-1.90v-3.80zM442.8 124.2l3.27 1.90v3.80l-3.27 1.90l-3.27-1.90v-3.80zM205.9 145.8l3.27 1.90v3.80l-3.27 1.90l-3.27-1.90v-3.80zM386.7 145.8l3.27 1.90v3.80l-3.27 1.90l-3.27-1.90v-3.80zM202.8 151.2l3.27 1.90v3.80l-3.27 1.90l-3.27-1.90v-3.80zM445.9 162.0l3.27 1.90v3.80l-3.27 1.90l-3.27-1.90v-3.80zM193.4 167.4l3.27 1.90v3.80l-3.27 1.90l-3.27-1.90v-3.80zM449.1 167.4l3.27 1.90v3.80l-3.27 1.90l-3.27-1.90v-3.80zM190.3 172.8l3.27 1.90v3.80l-3.27 1.90l-3.27-1.90v-3.80zM187.2 178.2l3.27 1.90v3.80l-3.27 1.90l-3.27-1.90v-3.80zM184.1 183.6l3.27 1.90v3.80l-3.27 1.90l-3.27-1.90v-3.80zM187.2 189.0l3.27 1.90v3.80l-3.27 1.90l-3.27-1.90v-3.80zM464.7 205.2l3.27 1.90v3.80l-3.27 1.90l-3.27-1.90v-3.80zM159.1 216.0l3.27 1.90v3.80l-3.27 1.90l-3.27-1.90v-3.80zM483.4 216.0l3.27 1.90v3.80l-3.27 1.90l-3.27-1.90v-3.80zM305.6 232.2l3.27 1.90v3.80l-3.27 1.90l-3.27-1.90v-3.80zM467.8 232.2l3.27 1.90v3.80l-3.27 1.90l-3.27-1.90v-3.80zM283.8 248.4l3.27 1.90v3.80l-3.27 1.90l-3.27-1.90v-3.80zM159.1 259.1l3.27 1.90v3.80l-3.27 1.90l-3.27-1.90v-3.80zM464.7 259.1l3.27 1.90v3.80l-3.27 1.90l-3.27-1.90v-3.80zM483.4 259.1l3.27 1.90v3.80l-3.27 1.90l-3.27-1.90v-3.80zM461.5 275.4l3.27 1.90v3.80l-3.27 1.90l-3.27-1.90v-3.80zM171.6 302.4l3.27 1.90v3.80l-3.27 1.90l-3.27-1.90v-3.80zM174.7 307.8l3.27 1.90v3.80l-3.27 1.90l-3.27-1.90v-3.80zM324.4 307.8l3.27 1.90v3.80l-3.27 1.90l-3.27-1.90v-3.80zM321.2 313.2l3.27 1.90v3.80l-3.27 1.90l-3.27-1.90v-3.80zM464.7 313.2l3.27 1.90v3.80l-3.27 1.90l-3.27-1.90v-3.80zM461.5 318.6l3.27 1.90v3.80l-3.27 1.90l-3.27-1.90v-3.80zM184.1 324.0l3.27 1.90v3.80l-3.27 1.90l-3.27-1.90v-3.80zM458.4 324.0l3.27 1.90v3.80l-3.27 1.90l-3.27-1.90v-3.80zM424.1 361.8l3.27 1.90v3.80l-3.27 1.90l-3.27-1.90v-3.80z"/><path fill="#f0d6db" d="M268.2 81.0l3.27 1.90v3.80l-3.27 1.90l-3.27-1.90v-3.80zM374.2 81.0l3.27 1.90v3.80l-3.27 1.90l-3.27-1.90v-3.80zM221.5 108.0l3.27 1.90v3.80l-3.27 1.90l-3.27-1.90v-3.80zM396.1 108.0l3.27 1.90v3.80l-3.27 1.90l-3.27-1.90v-3.80zM218.4 124.2l3.27 1.90v3.80l-3.27 1.90l-3.27-1.90v-3.80zM205.9 135.0l3.27 1.90v3.80l-3.27 1.90l-3.27-1.90v-3.80zM190.3 151.2l3.27 1.90v3.80l-3.27 1.90l-3.27-1.90v-3.80zM224.6 156.6l3.27 1.90v3.80l-3.27 1.90l-3.27-1.90v-3.80zM464.7 162.0l3.27 1.90v3.80l-3.27 1.90l-3.27-1.90v-3.80zM209.0 172.8l3.27 1.90v3.80l-3.27 1.90l-3.27-1.90v-3.80zM177.8 248.4l3.27 1.90v3.80l-3.27 1.90l-3.27-1.90v-3.80zM346.2 302.4l3.27 1.90v3.80l-3.27 1.90l-3.27-1.90v-3.80zM449.1 318.6l3.27 1.90v3.80l-3.27 1.90l-3.27-1.90v-3.80z"/><path fill="#ebbee1" d="M299.4 81.0l3.27 1.90v3.80l-3.27 1.90l-3.27-1.90v-3.80zM343.1 81.0l3.27 1.90v3.80l-3.27 1.90l-3.27-1.90v-3.80zM364.9 86.4l3.27 1.90v3.80l-3.27 1.90l-3.27-1.90v-3.80zM364.9 302.4l3.27 1.90v3.80l-3.27 1.90l-3.27-1.90v-3.80z"/><path fill="#ebbfe1" d="M305.6 81.0l3.27 1.90v3.80l-3.27 1.90l-3.27-1.90v-3.80zM336.8 81.0l3.27 1.90v3.80l-3.27 1.90l-3.27-1.90v-3.80zM277.6 86.4l3.27 1.90v3.80l-3.27 1.90l-3.27-1.90v-3.80zM380.5 91.8l3.27 1.90v3.80l-3.27 1.90l-3.27-1.90v-3.80zM408.5 108.0l3.27 1.90v3.80l-3.27 1.90l-3.27-1.90v-3.80zM424.1 113.4l3.27 1.90v3.80l-3.27 1.90l-3.27-1.90v-3.80zM427.2 118.8l3.27 1.90v3.80l-3.27 1.90l-3.27-1.90v-3.80zM286.9 124.2l3.27 1.90v3.80l-3.27 1.90l-3.27-1.90v-3.80zM318.1 124.2l3.27 1.90v3.80l-3.27 1.90l-3.27-1.90v-3.80zM324.4 124.2l3.27 1.90v3.80l-3.27 1.90l-3.27-1.90v-3.80zM268.2 264.6l3.27 1.90v3.80l-3.27 1.90l-3.27-1.90v-3.80zM449.1 297.0l3.27 1.90v3.80l-3.27 1.90l-3.27-1.90v-3.80zM212.1 351.0l3.27 1.90v3.80l-3.27 1.90l-3.27-1.90v-3.80z"/><path fill="#ebc0e1" d="M311.9 81.0l3.27 1.90v3.80l-3.27 1.90l-3.27-1.90v-3.80zM318.1 81.0l3.27 1.90v3.80l-3.27 1.90l-3.27-1.90v-3.80zM324.4 81.0l3.27 1.90v3.80l-3.27 1.90l-3.27-1.90v-3.80zM330.6 81.0l3.27 1.90v3.80l-3.27 1.90l-3.27-1.90v-3.80zM262.0 91.8l3.27 1.90v3.80l-3.27 1.90l-3.27-1.90v-3.80zM389.8 97.2l3.27 1.90v3.80l-3.27 1.90l-3.27-1.90v-3.80zM399.2 102.6l3.27 1.90v3.80l-3.27 1.90l-3.27-1.90v-3.80zM218.4 167.4l3.27 1.90v3.80l-3.27 1.90l-3.27-1.90v-3.80zM184.1 302.4l3.27 1.90v3.80l-3.27 1.90l-3.27-1.90v-3.80zM408.5 367.1l3.27 1.90v3.80l-3.27 1.90l-3.27-1.90v-3.80z"/><path fill="#efd9d9" d="M252.6 86.4l3.27 1.90v3.80l-3.27 1.90l-3.27-1.90v-3.80zM262.0 102.6l3.27 1.90v3.80l-3.27 1.90l-3.27-1.90v-3.80zM380.5 102.6l3.27 1.90v3.80l-3.27 1.90l-3.27-1.90v-3.80zM224.6 124.2l3.27 1.90v3.80l-3.27 1.90l-3.27-1.90v-3.80zM343.1 124.2l3.27 1.90v3.80l-3.27 1.90l-3.27-1.90v-3.80zM421.0 129.6l3.27 1.90v3.80l-3.27 1.90l-3.27-1.90v-3.80zM212.1 135.0l3.27 1.90v3.80l-3.27 1.90l-3.27-1.90v-3.80zM377.4 140.4l3.27 1.90v3.80l-3.27 1.90l-3.27-1.90v-3.80zM436.6 145.8l3.27 1.90v3.80l-3.27 1.90l-3.27-1.90v-3.80zM171.6 172.8l3.27 1.90v3.80l-3.27 1.90l-3.27-1.90v-3.80zM470.9 172.8l3.27 1.90v3.80l-3.27 1.90l-3.27-1.90v-3.80zM171.6 205.2l3.27 1.90v3.80l-3.27 1.90l-3.27-1.90v-3.80zM470.9 205.2l3.27 1.90v3.80l-3.27 1.90l-3.27-1.90v-3.80zM168.5 221.4l3.27 1.90v3.80l-3.27 1.90l-3.27-1.90v-3.80zM330.6 221.4l3.27 1.90v3.80l-3.27 1.90l-3.27-1.90v-3.80zM474.0 221.4l3.27 1.90v3.80l-3.27 1.90l-3.27-1.90v-3.80zM168.5 232.2l3.27 1.90v3.80l-3.27 1.90l-3.27-1.90v-3.80zM174.7 232.2l3.27 1.90v3.80l-3.27 1.90l-3.27-1.90v-3.80zM442.8 232.2l3.27 1.90v3.80l-3.27 1.90l-3.27-1.90v-3.80zM474.0 232.2l3.27 1.90v3.80l-3.27 1.90l-3.27-1.90v-3.80zM168.5 243.0l3.27 1.90v3.80l-3.27 1.90l-3.27-1.90v-3.80zM474.0 243.0l3.27 1.90v3.80l-3.27 1.90l-3.27-1.90v-3.80zM162.2 253.8l3.27 1.90v3.80l-3.27 1.90l-3.27-1.90v-3.80zM480.2 253.8l3.27 1.90v3.80l-3.27 1.90l-3.27-1.90v-3.80zM470.9 259.1l3.27 1.90v3.80l-3.27 1.90l-3.27-1.90v-3.80zM171.6 270.0l3.27 1.90v3.80l-3.27 1.90l-3.27-1.90v-3.80zM470.9 270.0l3.27 1.90v3.80l-3.27 1.90l-3.27-1.90v-3.80zM467.8 275.4l3.27 1.90v3.80l-3.27 1.90l-3.27-1.90v-3.80zM470.9 291.6l3.27 1.90v3.80l-3.27 1.90l-3.27-1.90v-3.80zM333.7 302.4l3.27 1.90v3.80l-3.27 1.90l-3.27-1.90v-3.80zM458.4 302.4l3.27 1.90v3.80l-3.27 1.90l-3.27-1.90v-3.80zM455.3 307.8l3.27 1.90v3.80l-3.27 1.90l-3.27-1.90v-3.80zM452.2 313.2l3.27 1.90v3.80l-3.27 1.90l-3.27-1.90v-3.80zM218.4 361.8l3.27 1.90v3.80l-3.27 1.90l-3.27-1.90v-3.80zM377.4 388.8l3.27 1.90v3.80l-3.27 1.90l-3.27-1.90v-3.80z"/><path fill="#eeccde" d="M258.9 86.4l3.27 1.90v3.80l-3.27 1.90l-3.27-1.90v-3.80zM274.5 91.8l3.27 1.90v3.80l-3.27 1.90l-3.27-1.90v-3.80zM368.0 91.8l3.27 1.90v3.80l-3.27 1.90l-3.27-1.90v-3.80zM233.9 108.0l3.27 1.90v3.80l-3.27 1.90l-3.27-1.90v-3.80zM258.9 129.6l3.27 1.90v3.80l-3.27 1.90l-3.27-1.90v-3.80zM452.2 151.2l3.27 1.90v3.80l-3.27 1.90l-3.27-1.90v-3.80zM221.5 162.0l3.27 1.90v3.80l-3.27 1.90l-3.27-1.90v-3.80zM405.4 167.4l3.27 1.90v3.80l-3.27 1.90l-3.27-1.90v-3.80zM265.1 291.6l3.27 1.90v3.80l-3.27 1.90l-3.27-1.90v-3.80zM215.2 356.4l3.27 1.90v3.80l-3.27 1.90l-3.27-1.90v-3.80z"/><path fill="#ebc1e1" d="M283.8 86.4l3.27 1.90v3.80l-3.27 1.90l-3.27-1.90v-3.80zM358.6 86.4l3.27 1.90v3.80l-3.27 1.90l-3.27-1.90v-3.80zM255.8 91.8l3.27 1.90v3.80l-3.27 1.90l-3.27-1.90v-3.80zM392.9 91.8l3.27 1.90v3.80l-3.27 1.90l-3.27-1.90v-3.80zM402.3 97.2l3.27 1.90v3.80l-3.27 1.90l-3.27-1.90v-3.80zM421.0 118.8l3.27 1.90v3.80l-3.27 1.90l-3.27-1.90v-3.80zM233.9 151.2l3.27 1.90v3.80l-3.27 1.90l-3.27-1.90v-3.80zM349.3 221.4l3.27 1.90v3.80l-3.27 1.90l-3.27-1.90v-3.80zM439.7 237.6l3.27 1.90v3.80l-3.27 1.90l-3.27-1.90v-3.80z"/><path fill="#edcadf" d="M296.3 86.4l3.27 1.90v3.80l-3.27 1.90l-3.27-1.90v-3.80zM346.2 86.4l3.27 1.90v3.80l-3.27 1.90l-3.27-1.90v-3.80zM249.5 135.0l3.27 1.90v3.80l-3.27 1.90l-3.27-1.90v-3.80zM361.8 307.8l3.27 1.90v3.80l-3.27 1.90l-3.27-1.90v-3.80z"/><path fill="#eecdde" d="M302.5 86.4l3.27 1.90v3.80l-3.27 1.90l-3.27-1.90v-3.80zM339.9 86.4l3.27 1.90v3.80l-3.27 1.90l-3.27-1.90v-3.80zM383.6 86.4l3.27 1.90v3.80l-3.27 1.90l-3.27-1.90v-3.80zM227.7 108.0l3.27 1.90v3.80l-3.27 1.90l-3.27-1.90v-3.80zM274.5 124.2l3.27 1.90v3.80l-3.27 1.90l-3.27-1.90v-3.80zM439.7 140.4l3.27 1.90v3.80l-3.27 1.90l-3.27-1.90v-3.80zM427.2 205.2l3.27 1.90v3.80l-3.27 1.90l-3.27-1.90v-3.80zM449.1 307.8l3.27 1.90v3.80l-3.27 1.90l-3.27-1.90v-3.80zM330.6 318.6l3.27 1.90v3.80l-3.27 1.90l-3.27-1.90v-3.80zM196.5 334.8l3.27 1.90v3.80l-3.27 1.90l-3.27-1.90v-3.80zM371.1 388.8l3.27 1.90v3.80l-3.27 1.90l-3.27-1.90v-3.80z"/><path fill="#efd0dd" d="M308.8 86.4l3.27 1.90v3.80l-3.27 1.90l-3.27-1.90v-3.80zM230.8 102.6l3.27 1.90v3.80l-3.27 1.90l-3.27-1.90v-3.80zM458.4 151.2l3.27 1.90v3.80l-3.27 1.90l-3.27-1.90v-3.80zM346.2 313.2l3.27 1.90v3.80l-3.27 1.90l-3.27-1.90v-3.80zM405.4 372.6l3.27 1.90v3.80l-3.27 1.90l-3.27-1.90v-3.80z"/><path fill="#efd1dd" d="M315.0 86.4l3.27 1.90v3.80l-3.27 1.90l-3.27-1.90v-3.80zM327.5 86.4l3.27 1.90v3.80l-3.27 1.90l-3.27-1.90v-3.80zM427.2 129.6l3.27 1.90v3.80l-3.27 1.90l-3.27-1.90v-3.80zM458.4 162.0l3.27 1.90v3.80l-3.27 1.90l-3.27-1.90v-3.80zM411.7 178.2l3.27 1.90v3.80l-3.27 1.90l-3.27-1.90v-3.80zM417.9 189.0l3.27 1.90v3.80l-3.27 1.90l-3.27-1.90v-3.80zM442.8 243.0l3.27 1.90v3.80l-3.27 1.90l-3.27-1.90v-3.80zM187.2 318.6l3.27 1.90v3.80l-3.27 1.90l-3.27-1.90v-3.80zM305.6 318.6l3.27 1.90v3.80l-3.27 1.90l-3.27-1.90v-3.80z"/><path fill="#efd2dd" d="M321.2 86.4l3.27 1.90v3.80l-3.27 1.90l-3.27-1.90v-3.80zM265.1 97.2l3.27 1.90v3.80l-3.27 1.90l-3.27-1.90v-3.80zM377.4 97.2l3.27 1.90v3.80l-3.27 1.90l-3.27-1.90v-3.80zM240.2 108.0l3.27 1.90v3.80l-3.27 1.90l-3.27-1.90v-3.80zM218.4 113.4l3.27 1.90v3.80l-3.27 1.90l-3.27-1.90v-3.80zM221.5 118.8l3.27 1.90v3.80l-3.27 1.90l-3.27-1.90v-3.80zM358.6 291.6l3.27 1.90v3.80l-3.27 1.90l-3.27-1.90v-3.80zM343.1 307.8l3.27 1.90v3.80l-3.27 1.90l-3.27-1.90v-3.80zM333.7 313.2l3.27 1.90v3.80l-3.27 1.90l-3.27-1.90v-3.80zM352.4 313.2l3.27 1.90v3.80l-3.27 1.90l-3.27-1.90v-3.80zM193.4 329.4l3.27 1.90v3.80l-3.27 1.90l-3.27-1.90v-3.80z"/><path fill="#efcfdd" d="M333.7 86.4l3.27 1.90v3.80l-3.27 1.90l-3.27-1.90v-3.80zM249.5 102.6l3.27 1.90v3.80l-3.27 1.90l-3.27-1.90v-3.80zM224.6 113.4l3.27 1.90v3.80l-3.27 1.90l-3.27-1.90v-3.80zM237.1 145.8l3.27 1.90v3.80l-3.27 1.90l-3.27-1.90v-3.80zM455.3 145.8l3.27 1.90v3.80l-3.27 1.90l-3.27-1.90v-3.80zM424.1 199.8l3.27 1.90v3.80l-3.27 1.90l-3.27-1.90v-3.80zM352.4 226.8l3.27 1.90v3.80l-3.27 1.90l-3.27-1.90v-3.80zM177.8 237.6l3.27 1.90v3.80l-3.27 1.90l-3.27-1.90v-3.80zM286.9 243.0l3.27 1.90v3.80l-3.27 1.90l-3.27-1.90v-3.80zM180.9 297.0l3.27 1.90v3.80l-3.27 1.90l-3.27-1.90v-3.80zM355.5 394.1l3.27 1.90v3.80l-3.27 1.90l-3.27-1.90v-3.80z"/><path fill="#efd7db" d="M243.3 91.8l3.27 1.90v3.80l-3.27 1.90l-3.27-1.90v-3.80zM286.9 91.8l3.27 1.90v3.80l-3.27 1.90l-3.27-1.90v-3.80zM246.4 108.0l3.27 1.90v3.80l-3.27 1.90l-3.27-1.90v-3.80zM237.1 113.4l3.27 1.90v3.80l-3.27 1.90l-3.27-1.90v-3.80zM209.0 118.8l3.27 1.90v3.80l-3.27 1.90l-3.27-1.90v-3.80zM202.8 140.4l3.27 1.90v3.80l-3.27 1.90l-3.27-1.90v-3.80zM187.2 145.8l3.27 1.90v3.80l-3.27 1.90l-3.27-1.90v-3.80zM184.1 151.2l3.27 1.90v3.80l-3.27 1.90l-3.27-1.90v-3.80zM184.1 162.0l3.27 1.90v3.80l-3.27 1.90l-3.27-1.90v-3.80zM180.9 167.4l3.27 1.90v3.80l-3.27 1.90l-3.27-1.90v-3.80zM455.3 167.4l3.27 1.90v3.80l-3.27 1.90l-3.27-1.90v-3.80zM458.4 172.8l3.27 1.90v3.80l-3.27 1.90l-3.27-1.90v-3.80zM461.5 178.2l3.27 1.90v3.80l-3.27 1.90l-3.27-1.90v-3.80zM174.7 210.6l3.27 1.90v3.80l-3.27 1.90l-3.27-1.90v-3.80zM177.8 270.0l3.27 1.90v3.80l-3.27 1.90l-3.27-1.90v-3.80zM177.8 291.6l3.27 1.90v3.80l-3.27 1.90l-3.27-1.90v-3.80zM349.3 297.0l3.27 1.90v3.80l-3.27 1.90l-3.27-1.90v-3.80zM330.6 307.8l3.27 1.90v3.80l-3.27 1.90l-3.27-1.90v-3.80zM311.9 318.6l3.27 1.90v3.80l-3.27 1.90l-3.27-1.90v-3.80zM318.1 318.6l3.27 1.90v3.80l-3.27 1.90l-3.27-1.90v-3.80z"/><path fill="#ecc4e0" d="M268.2 91.8l3.27 1.90v3.80l-3.27 1.90l-3.27-1.90v-3.80zM374.2 91.8l3.27 1.90v3.80l-3.27 1.90l-3.27-1.90v-3.80zM324.4 221.4l3.27 1.90v3.80l-3.27 1.90l-3.27-1.90v-3.80zM389.8 378.0l3.27 1.90v3.80l-3.27 1.90l-3.27-1.90v-3.80z"/><path fill="#f0d3dc" d="M280.7 91.8l3.27 1.90v3.80l-3.27 1.90l-3.27-1.90v-3.80zM215.2 118.8l3.27 1.90v3.80l-3.27 1.90l-3.27-1.90v-3.80zM414.8 183.6l3.27 1.90v3.80l-3.27 1.90l-3.27-1.90v-3.80zM355.5 307.8l3.27 1.90v3.80l-3.27 1.90l-3.27-1.90v-3.80zM190.3 324.0l3.27 1.90v3.80l-3.27 1.90l-3.27-1.90v-3.80zM430.4 351.0l3.27 1.90v3.80l-3.27 1.90l-3.27-1.90v-3.80z"/><path fill="#efd9da" d="M293.2 91.8l3.27 1.90v3.80l-3.27 1.90l-3.27-1.90v-3.80zM349.3 91.8l3.27 1.90v3.80l-3.27 1.90l-3.27-1.90v-3.80zM408.5 97.2l3.27 1.90v3.80l-3.27 1.90l-3.27-1.90v-3.80zM430.4 113.4l3.27 1.90v3.80l-3.27 1.90l-3.27-1.90v-3.80zM193.4 135.0l3.27 1.90v3.80l-3.27 1.90l-3.27-1.90v-3.80zM190.3 162.0l3.27 1.90v3.80l-3.27 1.90l-3.27-1.90v-3.80zM187.2 167.4l3.27 1.90v3.80l-3.27 1.90l-3.27-1.90v-3.80zM184.1 172.8l3.27 1.90v3.80l-3.27 1.90l-3.27-1.90v-3.80zM180.9 178.2l3.27 1.90v3.80l-3.27 1.90l-3.27-1.90v-3.80zM177.8 183.6l3.27 1.90v3.80l-3.27 1.90l-3.27-1.90v-3.80zM168.5 189.0l3.27 1.90v3.80l-3.27 1.90l-3.27-1.90v-3.80zM174.7 189.0l3.27 1.90v3.80l-3.27 1.90l-3.27-1.90v-3.80zM171.6 194.4l3.27 1.90v3.80l-3.27 1.90l-3.27-1.90v-3.80zM184.1 194.4l3.27 1.90v3.80l-3.27 1.90l-3.27-1.90v-3.80zM470.9 194.4l3.27 1.90v3.80l-3.27 1.90l-3.27-1.90v-3.80zM168.5 199.8l3.27 1.90v3.80l-3.27 1.90l-3.27-1.90v-3.80zM474.0 199.8l3.27 1.90v3.80l-3.27 1.90l-3.27-1.90v-3.80zM165.4 205.2l3.27 1.90v3.80l-3.27 1.90l-3.27-1.90v-3.80zM477.1 205.2l3.27 1.90v3.80l-3.27 1.90l-3.27-1.90v-3.80zM168.5 210.6l3.27 1.90v3.80l-3.27 1.90l-3.27-1.90v-3.80zM474.0 210.6l3.27 1.90v3.80l-3.27 1.90l-3.27-1.90v-3.80zM165.4 216.0l3.27 1.90v3.80l-3.27 1.90l-3.27-1.90v-3.80zM477.1 216.0l3.27 1.90v3.80l-3.27 1.90l-3.27-1.90v-3.80zM162.2 221.4l3.27 1.90v3.80l-3.27 1.90l-3.27-1.90v-3.80zM480.2 221.4l3.27 1.90v3.80l-3.27 1.90l-3.27-1.90v-3.80zM165.4 226.8l3.27 1.90v3.80l-3.27 1.90l-3.27-1.90v-3.80zM477.1 226.8l3.27 1.90v3.80l-3.27 1.90l-3.27-1.90v-3.80zM162.2 232.2l3.27 1.90v3.80l-3.27 1.90l-3.27-1.90v-3.80zM480.2 232.2l3.27 1.90v3.80l-3.27 1.90l-3.27-1.90v-3.80zM165.4 237.6l3.27 1.90v3.80l-3.27 1.90l-3.27-1.90v-3.80zM477.1 237.6l3.27 1.90v3.80l-3.27 1.90l-3.27-1.90v-3.80zM162.2 243.0l3.27 1.90v3.80l-3.27 1.90l-3.27-1.90v-3.80zM480.2 243.0l3.27 1.90v3.80l-3.27 1.90l-3.27-1.90v-3.80zM165.4 248.4l3.27 1.90v3.80l-3.27 1.90l-3.27-1.90v-3.80zM445.9 248.4l3.27 1.90v3.80l-3.27 1.90l-3.27-1.90v-3.80zM477.1 248.4l3.27 1.90v3.80l-3.27 1.90l-3.27-1.90v-3.80zM168.5 253.8l3.27 1.90v3.80l-3.27 1.90l-3.27-1.90v-3.80zM474.0 253.8l3.27 1.90v3.80l-3.27 1.90l-3.27-1.90v-3.80zM165.4 259.1l3.27 1.90v3.80l-3.27 1.90l-3.27-1.90v-3.80zM477.1 259.1l3.27 1.90v3.80l-3.27 1.90l-3.27-1.90v-3.80zM168.5 264.6l3.27 1.90v3.80l-3.27 1.90l-3.27-1.90v-3.80zM474.0 264.6l3.27 1.90v3.80l-3.27 1.90l-3.27-1.90v-3.80zM165.4 270.0l3.27 1.90v3.80l-3.27 1.90l-3.27-1.90v-3.80zM477.1 270.0l3.27 1.90v3.80l-3.27 1.90l-3.27-1.90v-3.80zM168.5 275.4l3.27 1.90v3.80l-3.27 1.90l-3.27-1.90v-3.80zM474.0 275.4l3.27 1.90v3.80l-3.27 1.90l-3.27-1.90v-3.80zM171.6 280.8l3.27 1.90v3.80l-3.27 1.90l-3.27-1.90v-3.80zM452.2 280.8l3.27 1.90v3.80l-3.27 1.90l-3.27-1.90v-3.80zM470.9 280.8l3.27 1.90v3.80l-3.27 1.90l-3.27-1.90v-3.80zM174.7 286.1l3.27 1.90v3.80l-3.27 1.90l-3.27-1.90v-3.80zM467.8 286.1l3.27 1.90v3.80l-3.27 1.90l-3.27-1.90v-3.80zM171.6 291.6l3.27 1.90v3.80l-3.27 1.90l-3.27-1.90v-3.80zM464.7 291.6l3.27 1.90v3.80l-3.27 1.90l-3.27-1.90v-3.80zM174.7 297.0l3.27 1.90v3.80l-3.27 1.90l-3.27-1.90v-3.80zM461.5 297.0l3.27 1.90v3.80l-3.27 1.90l-3.27-1.90v-3.80zM467.8 297.0l3.27 1.90v3.80l-3.27 1.90l-3.27-1.90v-3.80zM177.8 302.4l3.27 1.90v3.80l-3.27 1.90l-3.27-1.90v-3.80zM464.7 302.4l3.27 1.90v3.80l-3.27 1.90l-3.27-1.90v-3.80zM461.5 307.8l3.27 1.90v3.80l-3.27 1.90l-3.27-1.90v-3.80zM458.4 313.2l3.27 1.90v3.80l-3.27 1.90l-3.27-1.90v-3.80zM455.3 318.6l3.27 1.90v3.80l-3.27 1.90l-3.27-1.90v-3.80zM452.2 324.0l3.27 1.90v3.80l-3.27 1.90l-3.27-1.90v-3.80zM449.1 329.4l3.27 1.90v3.80l-3.27 1.90l-3.27-1.90v-3.80zM445.9 334.8l3.27 1.90v3.80l-3.27 1.90l-3.27-1.90v-3.80zM249.5 383.4l3.27 1.90v3.80l-3.27 1.90l-3.27-1.90v-3.80z"/><path fill="#efd6db" d="M355.5 91.8l3.27 1.90v3.80l-3.27 1.90l-3.27-1.90v-3.80zM227.7 118.8l3.27 1.90v3.80l-3.27 1.90l-3.27-1.90v-3.80zM417.9 124.2l3.27 1.90v3.80l-3.27 1.90l-3.27-1.90v-3.80zM430.4 135.0l3.27 1.90v3.80l-3.27 1.90l-3.27-1.90v-3.80zM187.2 156.6l3.27 1.90v3.80l-3.27 1.90l-3.27-1.90v-3.80zM452.2 162.0l3.27 1.90v3.80l-3.27 1.90l-3.27-1.90v-3.80zM196.5 183.6l3.27 1.90v3.80l-3.27 1.90l-3.27-1.90v-3.80zM470.9 183.6l3.27 1.90v3.80l-3.27 1.90l-3.27-1.90v-3.80zM180.9 199.8l3.27 1.90v3.80l-3.27 1.90l-3.27-1.90v-3.80zM296.3 237.6l3.27 1.90v3.80l-3.27 1.90l-3.27-1.90v-3.80zM449.1 264.6l3.27 1.90v3.80l-3.27 1.90l-3.27-1.90v-3.80zM177.8 280.8l3.27 1.90v3.80l-3.27 1.90l-3.27-1.90v-3.80zM452.2 291.6l3.27 1.90v3.80l-3.27 1.90l-3.27-1.90v-3.80zM283.8 313.2l3.27 1.90v3.80l-3.27 1.90l-3.27-1.90v-3.80zM202.8 345.6l3.27 1.90v3.80l-3.27 1.90l-3.27-1.90v-3.80zM396.1 378.0l3.27 1.90v3.80l-3.27 1.90l-3.27-1.90v-3.80z"/><path fill="#f0d2dc" d="M361.8 91.8l3.27 1.90v3.80l-3.27 1.90l-3.27-1.90v-3.80zM230.8 113.4l3.27 1.90v3.80l-3.27 1.90l-3.27-1.90v-3.80zM336.8 124.2l3.27 1.90v3.80l-3.27 1.90l-3.27-1.90v-3.80zM352.4 129.6l3.27 1.90v3.80l-3.27 1.90l-3.27-1.90v-3.80zM442.8 145.8l3.27 1.90v3.80l-3.27 1.90l-3.27-1.90v-3.80zM461.5 167.4l3.27 1.90v3.80l-3.27 1.90l-3.27-1.90v-3.80zM352.4 302.4l3.27 1.90v3.80l-3.27 1.90l-3.27-1.90v-3.80zM349.3 307.8l3.27 1.90v3.80l-3.27 1.90l-3.27-1.90v-3.80zM184.1 313.2l3.27 1.90v3.80l-3.27 1.90l-3.27-1.90v-3.80z"/><path fill="#efd8da" d="M233.9 97.2l3.27 1.90v3.80l-3.27 1.90l-3.27-1.90v-3.80zM408.5 118.8l3.27 1.90v3.80l-3.27 1.90l-3.27-1.90v-3.80zM368.0 135.0l3.27 1.90v3.80l-3.27 1.90l-3.27-1.90v-3.80zM190.3 140.4l3.27 1.90v3.80l-3.27 1.90l-3.27-1.90v-3.80zM433.5 140.4l3.27 1.90v3.80l-3.27 1.90l-3.27-1.90v-3.80zM199.6 145.8l3.27 1.90v3.80l-3.27 1.90l-3.27-1.90v-3.80zM196.5 151.2l3.27 1.90v3.80l-3.27 1.90l-3.27-1.90v-3.80zM193.4 156.6l3.27 1.90v3.80l-3.27 1.90l-3.27-1.90v-3.80zM174.7 167.4l3.27 1.90v3.80l-3.27 1.90l-3.27-1.90v-3.80zM174.7 178.2l3.27 1.90v3.80l-3.27 1.90l-3.27-1.90v-3.80zM171.6 183.6l3.27 1.90v3.80l-3.27 1.90l-3.27-1.90v-3.80zM467.8 189.0l3.27 1.90v3.80l-3.27 1.90l-3.27-1.90v-3.80zM474.0 189.0l3.27 1.90v3.80l-3.27 1.90l-3.27-1.90v-3.80zM174.7 221.4l3.27 1.90v3.80l-3.27 1.90l-3.27-1.90v-3.80zM349.3 264.6l3.27 1.90v3.80l-3.27 1.90l-3.27-1.90v-3.80zM352.4 291.6l3.27 1.90v3.80l-3.27 1.90l-3.27-1.90v-3.80zM268.2 297.0l3.27 1.90v3.80l-3.27 1.90l-3.27-1.90v-3.80zM327.5 313.2l3.27 1.90v3.80l-3.27 1.90l-3.27-1.90v-3.80zM414.8 367.1l3.27 1.90v3.80l-3.27 1.90l-3.27-1.90v-3.80zM230.8 372.6l3.27 1.90v3.80l-3.27 1.90l-3.27-1.90v-3.80zM386.7 383.4l3.27 1.90v3.80l-3.27 1.90l-3.27-1.90v-3.80z"/><path fill="#eecade" d="M240.2 97.2l3.27 1.90v3.80l-3.27 1.90l-3.27-1.90v-3.80zM449.1 145.8l3.27 1.90v3.80l-3.27 1.90l-3.27-1.90v-3.80zM430.4 210.6l3.27 1.90v3.80l-3.27 1.90l-3.27-1.90v-3.80zM449.1 275.4l3.27 1.90v3.80l-3.27 1.90l-3.27-1.90v-3.80z"/><path fill="#ecc6e0" d="M246.4 97.2l3.27 1.90v3.80l-3.27 1.90l-3.27-1.90v-3.80zM442.8 135.0l3.27 1.90v3.80l-3.27 1.90l-3.27-1.90v-3.80zM346.2 248.4l3.27 1.90v3.80l-3.27 1.90l-3.27-1.90v-3.80zM361.8 297.0l3.27 1.90v3.80l-3.27 1.90l-3.27-1.90v-3.80zM349.3 318.6l3.27 1.90v3.80l-3.27 1.90l-3.27-1.90v-3.80z"/><path fill="#eecbde" d="M258.9 97.2l3.27 1.90v3.80l-3.27 1.90l-3.27-1.90v-3.80zM402.3 108.0l3.27 1.90v3.80l-3.27 1.90l-3.27-1.90v-3.80zM421.0 108.0l3.27 1.90v3.80l-3.27 1.90l-3.27-1.90v-3.80zM424.1 124.2l3.27 1.90v3.80l-3.27 1.90l-3.27-1.90v-3.80zM445.9 259.1l3.27 1.90v3.80l-3.27 1.90l-3.27-1.90v-3.80zM358.6 302.4l3.27 1.90v3.80l-3.27 1.90l-3.27-1.90v-3.80zM433.5 345.6l3.27 1.90v3.80l-3.27 1.90l-3.27-1.90v-3.80zM255.8 383.4l3.27 1.90v3.80l-3.27 1.90l-3.27-1.90v-3.80z"/><path fill="#efd7da" d="M271.4 97.2l3.27 1.90v3.80l-3.27 1.90l-3.27-1.90v-3.80zM371.1 97.2l3.27 1.90v3.80l-3.27 1.90l-3.27-1.90v-3.80zM215.2 129.6l3.27 1.90v3.80l-3.27 1.90l-3.27-1.90v-3.80zM180.9 156.6l3.27 1.90v3.80l-3.27 1.90l-3.27-1.90v-3.80zM177.8 162.0l3.27 1.90v3.80l-3.27 1.90l-3.27-1.90v-3.80zM467.8 167.4l3.27 1.90v3.80l-3.27 1.90l-3.27-1.90v-3.80zM177.8 172.8l3.27 1.90v3.80l-3.27 1.90l-3.27-1.90v-3.80zM464.7 183.6l3.27 1.90v3.80l-3.27 1.90l-3.27-1.90v-3.80zM177.8 259.1l3.27 1.90v3.80l-3.27 1.90l-3.27-1.90v-3.80zM346.2 259.1l3.27 1.90v3.80l-3.27 1.90l-3.27-1.90v-3.80zM358.6 280.8l3.27 1.90v3.80l-3.27 1.90l-3.27-1.90v-3.80zM339.9 302.4l3.27 1.90v3.80l-3.27 1.90l-3.27-1.90v-3.80zM452.2 302.4l3.27 1.90v3.80l-3.27 1.90l-3.27-1.90v-3.80zM180.9 307.8l3.27 1.90v3.80l-3.27 1.90l-3.27-1.90v-3.80zM427.2 356.4l3.27 1.90v3.80l-3.27 1.90l-3.27-1.90v-3.80z"/><path fill="#eedbd9" d="M224.6 102.6l3.27 1.90v3.80l-3.27 1.90l-3.27-1.90v-3.80zM212.1 113.4l3.27 1.90v3.80l-3.27 1.90l-3.27-1.90v-3.80zM243.3 113.4l3.27 1.90v3.80l-3.27 1.90l-3.27-1.90v-3.80zM262.0 124.2l3.27 1.90v3.80l-3.27 1.90l-3.27-1.90v-3.80zM221.5 129.6l3.27 1.90v3.80l-3.27 1.90l-3.27-1.90v-3.80zM358.6 129.6l3.27 1.90v3.80l-3.27 1.90l-3.27-1.90v-3.80zM399.2 156.6l3.27 1.90v3.80l-3.27 1.90l-3.27-1.90v-3.80zM452.2 172.8l3.27 1.90v3.80l-3.27 1.90l-3.27-1.90v-3.80zM168.5 178.2l3.27 1.90v3.80l-3.27 1.90l-3.27-1.90v-3.80zM199.6 178.2l3.27 1.90v3.80l-3.27 1.90l-3.27-1.90v-3.80zM455.3 178.2l3.27 1.90v3.80l-3.27 1.90l-3.27-1.90v-3.80zM458.4 183.6l3.27 1.90v3.80l-3.27 1.90l-3.27-1.90v-3.80zM180.9 189.0l3.27 1.90v3.80l-3.27 1.90l-3.27-1.90v-3.80zM162.2 199.8l3.27 1.90v3.80l-3.27 1.90l-3.27-1.90v-3.80zM480.2 199.8l3.27 1.90v3.80l-3.27 1.90l-3.27-1.90v-3.80zM467.8 221.4l3.27 1.90v3.80l-3.27 1.90l-3.27-1.90v-3.80zM159.1 226.8l3.27 1.90v3.80l-3.27 1.90l-3.27-1.90v-3.80zM315.0 226.8l3.27 1.90v3.80l-3.27 1.90l-3.27-1.90v-3.80zM483.4 226.8l3.27 1.90v3.80l-3.27 1.90l-3.27-1.90v-3.80zM174.7 243.0l3.27 1.90v3.80l-3.27 1.90l-3.27-1.90v-3.80zM467.8 243.0l3.27 1.90v3.80l-3.27 1.90l-3.27-1.90v-3.80zM159.1 248.4l3.27 1.90v3.80l-3.27 1.90l-3.27-1.90v-3.80zM483.4 248.4l3.27 1.90v3.80l-3.27 1.90l-3.27-1.90v-3.80zM174.7 253.8l3.27 1.90v3.80l-3.27 1.90l-3.27-1.90v-3.80zM467.8 253.8l3.27 1.90v3.80l-3.27 1.90l-3.27-1.90v-3.80zM464.7 270.0l3.27 1.90v3.80l-3.27 1.90l-3.27-1.90v-3.80zM165.4 280.8l3.27 1.90v3.80l-3.27 1.90l-3.27-1.90v-3.80zM477.1 280.8l3.27 1.90v3.80l-3.27 1.90l-3.27-1.90v-3.80zM458.4 291.6l3.27 1.90v3.80l-3.27 1.90l-3.27-1.90v-3.80zM455.3 297.0l3.27 1.90v3.80l-3.27 1.90l-3.27-1.90v-3.80zM177.8 313.2l3.27 1.90v3.80l-3.27 1.90l-3.27-1.90v-3.80zM180.9 318.6l3.27 1.90v3.80l-3.27 1.90l-3.27-1.90v-3.80z"/><path fill="#edc9df" d="M237.1 102.6l3.27 1.90v3.80l-3.27 1.90l-3.27-1.90v-3.80zM392.9 102.6l3.27 1.90v3.80l-3.27 1.90l-3.27-1.90v-3.80zM436.6 135.0l3.27 1.90v3.80l-3.27 1.90l-3.27-1.90v-3.80zM193.4 189.0l3.27 1.90v3.80l-3.27 1.90l-3.27-1.90v-3.80zM417.9 361.8l3.27 1.90v3.80l-3.27 1.90l-3.27-1.90v-3.80z"/><path fill="#f0d4dc" d="M386.7 102.6l3.27 1.90v3.80l-3.27 1.90l-3.27-1.90v-3.80zM405.4 113.4l3.27 1.90v3.80l-3.27 1.90l-3.27-1.90v-3.80zM205.9 124.2l3.27 1.90v3.80l-3.27 1.90l-3.27-1.90v-3.80zM212.1 124.2l3.27 1.90v3.80l-3.27 1.90l-3.27-1.90v-3.80zM268.2 124.2l3.27 1.90v3.80l-3.27 1.90l-3.27-1.90v-3.80zM202.8 129.6l3.27 1.90v3.80l-3.27 1.90l-3.27-1.90v-3.80zM452.2 140.4l3.27 1.90v3.80l-3.27 1.90l-3.27-1.90v-3.80zM445.9 151.2l3.27 1.90v3.80l-3.27 1.90l-3.27-1.90v-3.80zM402.3 162.0l3.27 1.90v3.80l-3.27 1.90l-3.27-1.90v-3.80zM408.5 172.8l3.27 1.90v3.80l-3.27 1.90l-3.27-1.90v-3.80zM464.7 172.8l3.27 1.90v3.80l-3.27 1.90l-3.27-1.90v-3.80zM421.0 194.4l3.27 1.90v3.80l-3.27 1.90l-3.27-1.90v-3.80zM265.1 280.8l3.27 1.90v3.80l-3.27 1.90l-3.27-1.90v-3.80zM336.8 307.8l3.27 1.90v3.80l-3.27 1.90l-3.27-1.90v-3.80zM439.7 334.8l3.27 1.90v3.80l-3.27 1.90l-3.27-1.90v-3.80zM436.6 340.1l3.27 1.90v3.80l-3.27 1.90l-3.27-1.90v-3.80z"/><path fill="#efdad9" d="M233.9 118.8l3.27 1.90v3.80l-3.27 1.90l-3.27-1.90v-3.80zM252.6 129.6l3.27 1.90v3.80l-3.27 1.90l-3.27-1.90v-3.80zM240.2 140.4l3.27 1.90v3.80l-3.27 1.90l-3.27-1.90v-3.80zM227.7 151.2l3.27 1.90v3.80l-3.27 1.90l-3.27-1.90v-3.80zM212.1 167.4l3.27 1.90v3.80l-3.27 1.90l-3.27-1.90v-3.80zM165.4 194.4l3.27 1.90v3.80l-3.27 1.90l-3.27-1.90v-3.80zM477.1 194.4l3.27 1.90v3.80l-3.27 1.90l-3.27-1.90v-3.80zM467.8 199.8l3.27 1.90v3.80l-3.27 1.90l-3.27-1.90v-3.80zM162.2 210.6l3.27 1.90v3.80l-3.27 1.90l-3.27-1.90v-3.80zM480.2 210.6l3.27 1.90v3.80l-3.27 1.90l-3.27-1.90v-3.80zM470.9 216.0l3.27 1.90v3.80l-3.27 1.90l-3.27-1.90v-3.80zM470.9 248.4l3.27 1.90v3.80l-3.27 1.90l-3.27-1.90v-3.80zM171.6 259.1l3.27 1.90v3.80l-3.27 1.90l-3.27-1.90v-3.80zM174.7 275.4l3.27 1.90v3.80l-3.27 1.90l-3.27-1.90v-3.80zM464.7 280.8l3.27 1.90v3.80l-3.27 1.90l-3.27-1.90v-3.80zM168.5 286.1l3.27 1.90v3.80l-3.27 1.90l-3.27-1.90v-3.80zM474.0 286.1l3.27 1.90v3.80l-3.27 1.90l-3.27-1.90v-3.80zM343.1 297.0l3.27 1.90v3.80l-3.27 1.90l-3.27-1.90v-3.80zM442.8 340.1l3.27 1.90v3.80l-3.27 1.90l-3.27-1.90v-3.80zM205.9 351.0l3.27 1.90v3.80l-3.27 1.90l-3.27-1.90v-3.80zM240.2 378.0l3.27 1.90v3.80l-3.27 1.90l-3.27-1.90v-3.80zM361.8 394.1l3.27 1.90v3.80l-3.27 1.90l-3.27-1.90v-3.80z"/><path fill="#eecede" d="M414.8 118.8l3.27 1.90v3.80l-3.27 1.90l-3.27-1.90v-3.80zM433.5 118.8l3.27 1.90v3.80l-3.27 1.90l-3.27-1.90v-3.80zM280.7 394.1l3.27 1.90v3.80l-3.27 1.90l-3.27-1.90v-3.80z"/><path fill="#eabce2" d="M293.2 124.2l3.27 1.90v3.80l-3.27 1.90l-3.27-1.90v-3.80zM299.4 124.2l3.27 1.90v3.80l-3.27 1.90l-3.27-1.90v-3.80zM305.6 124.2l3.27 1.90v3.80l-3.27 1.90l-3.27-1.90v-3.80zM180.9 243.0l3.27 1.90v3.80l-3.27 1.90l-3.27-1.90v-3.80zM293.2 318.6l3.27 1.90v3.80l-3.27 1.90l-3.27-1.90v-3.80zM364.9 388.8l3.27 1.90v3.80l-3.27 1.90l-3.27-1.90v-3.80zM349.3 394.1l3.27 1.90v3.80l-3.27 1.90l-3.27-1.90v-3.80z"/><path fill="#ecc2e0" d="M330.6 124.2l3.27 1.90v3.80l-3.27 1.90l-3.27-1.90v-3.80zM180.9 275.4l3.27 1.90v3.80l-3.27 1.90l-3.27-1.90v-3.80z"/><path fill="#ebc2e1" d="M430.4 124.2l3.27 1.90v3.80l-3.27 1.90l-3.27-1.90v-3.80zM346.2 129.6l3.27 1.90v3.80l-3.27 1.90l-3.27-1.90v-3.80zM246.4 140.4l3.27 1.90v3.80l-3.27 1.90l-3.27-1.90v-3.80z"/><path fill="#f0d5dc" d="M209.0 129.6l3.27 1.90v3.80l-3.27 1.90l-3.27-1.90v-3.80zM199.6 135.0l3.27 1.90v3.80l-3.27 1.90l-3.27-1.90v-3.80zM196.5 140.4l3.27 1.90v3.80l-3.27 1.90l-3.27-1.90v-3.80zM177.8 205.2l3.27 1.90v3.80l-3.27 1.90l-3.27-1.90v-3.80zM436.6 221.4l3.27 1.90v3.80l-3.27 1.90l-3.27-1.90v-3.80zM199.6 340.1l3.27 1.90v3.80l-3.27 1.90l-3.27-1.90v-3.80z"/><path fill="#e9bae3" d="M265.1 129.6l3.27 1.90v3.80l-3.27 1.90l-3.27-1.90v-3.80zM383.6 151.2l3.27 1.90v3.80l-3.27 1.90l-3.27-1.90v-3.80zM421.0 356.4l3.27 1.90v3.80l-3.27 1.90l-3.27-1.90v-3.80zM224.6 361.8l3.27 1.90v3.80l-3.27 1.90l-3.27-1.90v-3.80zM262.0 383.4l3.27 1.90v3.80l-3.27 1.90l-3.27-1.90v-3.80zM333.7 399.6l3.27 1.90v3.80l-3.27 1.90l-3.27-1.90v-3.80z"/><path fill="#e7b3e4" d="M271.4 129.6l3.27 1.90v3.80l-3.27 1.90l-3.27-1.90v-3.80zM364.9 140.4l3.27 1.90v3.80l-3.27 1.90l-3.27-1.90v-3.80zM184.1 259.1l3.27 1.90v3.80l-3.27 1.90l-3.27-1.90v-3.80zM184.1 270.0l3.27 1.90v3.80l-3.27 1.90l-3.27-1.90v-3.80zM445.9 302.4l3.27 1.90v3.80l-3.27 1.90l-3.27-1.90v-3.80zM202.8 334.8l3.27 1.90v3.80l-3.27 1.90l-3.27-1.90v-3.80zM243.3 372.6l3.27 1.90v3.80l-3.27 1.90l-3.27-1.90v-3.80zM277.6 388.8l3.27 1.90v3.80l-3.27 1.90l-3.27-1.90v-3.80z"/><path fill="#e7b2e5" d="M277.6 129.6l3.27 1.90v3.80l-3.27 1.90l-3.27-1.90v-3.80zM358.6 388.8l3.27 1.90v3.80l-3.27 1.90l-3.27-1.90v-3.80z"/><path fill="#e6b1e5" d="M283.8 129.6l3.27 1.90v3.80l-3.27 1.90l-3.27-1.90v-3.80zM374.2 145.8l3.27 1.90v3.80l-3.27 1.90l-3.27-1.90v-3.80zM227.7 162.0l3.27 1.90v3.80l-3.27 1.90l-3.27-1.90v-3.80zM218.4 351.0l3.27 1.90v3.80l-3.27 1.90l-3.27-1.90v-3.80zM343.1 394.1l3.27 1.90v3.80l-3.27 1.90l-3.27-1.90v-3.80zM321.2 399.6l3.27 1.90v3.80l-3.27 1.90l-3.27-1.90v-3.80z"/><path fill="#e5b1e5" d="M290.1 129.6l3.27 1.90v3.80l-3.27 1.90l-3.27-1.90v-3.80zM333.7 129.6l3.27 1.90v3.80l-3.27 1.90l-3.27-1.90v-3.80zM184.1 237.6l3.27 1.90v3.80l-3.27 1.90l-3.27-1.90v-3.80zM315.0 399.6l3.27 1.90v3.80l-3.27 1.90l-3.27-1.90v-3.80z"/><path fill="#e5b0e6" d="M296.3 129.6l3.27 1.90v3.80l-3.27 1.90l-3.27-1.90v-3.80zM302.5 129.6l3.27 1.90v3.80l-3.27 1.90l-3.27-1.90v-3.80zM268.2 135.0l3.27 1.90v3.80l-3.27 1.90l-3.27-1.90v-3.80zM258.9 140.4l3.27 1.90v3.80l-3.27 1.90l-3.27-1.90v-3.80zM237.1 156.6l3.27 1.90v3.80l-3.27 1.90l-3.27-1.90v-3.80zM386.7 156.6l3.27 1.90v3.80l-3.27 1.90l-3.27-1.90v-3.80zM442.8 264.6l3.27 1.90v3.80l-3.27 1.90l-3.27-1.90v-3.80zM187.2 286.1l3.27 1.90v3.80l-3.27 1.90l-3.27-1.90v-3.80zM433.5 334.8l3.27 1.90v3.80l-3.27 1.90l-3.27-1.90v-3.80zM427.2 345.6l3.27 1.90v3.80l-3.27 1.90l-3.27-1.90v-3.80zM240.2 367.1l3.27 1.90v3.80l-3.27 1.90l-3.27-1.90v-3.80zM402.3 367.1l3.27 1.90v3.80l-3.27 1.90l-3.27-1.90v-3.80zM293.2 394.1l3.27 1.90v3.80l-3.27 1.90l-3.27-1.90v-3.80z"/><path fill="#e4b0e6" d="M308.8 129.6l3.27 1.90v3.80l-3.27 1.90l-3.27-1.90v-3.80zM315.0 129.6l3.27 1.90v3.80l-3.27 1.90l-3.27-1.90v-3.80zM184.1 226.8l3.27 1.90v3.80l-3.27 1.90l-3.27-1.90v-3.80z"/><path fill="#e4afe6" d="M321.2 129.6l3.27 1.90v3.80l-3.27 1.90l-3.27-1.90v-3.80zM327.5 129.6l3.27 1.90v3.80l-3.27 1.90l-3.27-1.90v-3.80zM274.5 135.0l3.27 1.90v3.80l-3.27 1.90l-3.27-1.90v-3.80zM246.4 151.2l3.27 1.90v3.80l-3.27 1.90l-3.27-1.90v-3.80zM402.3 172.8l3.27 1.90v3.80l-3.27 1.90l-3.27-1.90v-3.80zM408.5 183.6l3.27 1.90v3.80l-3.27 1.90l-3.27-1.90v-3.80zM184.1 216.0l3.27 1.90v3.80l-3.27 1.90l-3.27-1.90v-3.80zM187.2 253.8l3.27 1.90v3.80l-3.27 1.90l-3.27-1.90v-3.80zM187.2 264.6l3.27 1.90v3.80l-3.27 1.90l-3.27-1.90v-3.80zM187.2 275.4l3.27 1.90v3.80l-3.27 1.90l-3.27-1.90v-3.80zM368.0 297.0l3.27 1.90v3.80l-3.27 1.90l-3.27-1.90v-3.80zM193.4 307.8l3.27 1.90v3.80l-3.27 1.90l-3.27-1.90v-3.80zM212.1 340.1l3.27 1.90v3.80l-3.27 1.90l-3.27-1.90v-3.80zM215.2 345.6l3.27 1.90v3.80l-3.27 1.90l-3.27-1.90v-3.80zM249.5 372.6l3.27 1.90v3.80l-3.27 1.90l-3.27-1.90v-3.80zM368.0 383.4l3.27 1.90v3.80l-3.27 1.90l-3.27-1.90v-3.80z"/><path fill="#e8b6e4" d="M339.9 129.6l3.27 1.90v3.80l-3.27 1.90l-3.27-1.90v-3.80zM396.1 162.0l3.27 1.90v3.80l-3.27 1.90l-3.27-1.90v-3.80zM184.1 291.6l3.27 1.90v3.80l-3.27 1.90l-3.27-1.90v-3.80zM277.6 313.2l3.27 1.90v3.80l-3.27 1.90l-3.27-1.90v-3.80zM205.9 340.1l3.27 1.90v3.80l-3.27 1.90l-3.27-1.90v-3.80z"/><path fill="#e8b4e4" d="M255.8 135.0l3.27 1.90v3.80l-3.27 1.90l-3.27-1.90v-3.80zM355.5 135.0l3.27 1.90v3.80l-3.27 1.90l-3.27-1.90v-3.80zM184.1 205.2l3.27 1.90v3.80l-3.27 1.90l-3.27-1.90v-3.80zM180.9 210.6l3.27 1.90v3.80l-3.27 1.90l-3.27-1.90v-3.80zM180.9 221.4l3.27 1.90v3.80l-3.27 1.90l-3.27-1.90v-3.80zM436.6 232.2l3.27 1.90v3.80l-3.27 1.90l-3.27-1.90v-3.80zM271.4 259.1l3.27 1.90v3.80l-3.27 1.90l-3.27-1.90v-3.80zM184.1 280.8l3.27 1.90v3.80l-3.27 1.90l-3.27-1.90v-3.80zM190.3 313.2l3.27 1.90v3.80l-3.27 1.90l-3.27-1.90v-3.80zM193.4 318.6l3.27 1.90v3.80l-3.27 1.90l-3.27-1.90v-3.80zM442.8 318.6l3.27 1.90v3.80l-3.27 1.90l-3.27-1.90v-3.80zM436.6 329.4l3.27 1.90v3.80l-3.27 1.90l-3.27-1.90v-3.80zM221.5 356.4l3.27 1.90v3.80l-3.27 1.90l-3.27-1.90v-3.80zM411.7 361.8l3.27 1.90v3.80l-3.27 1.90l-3.27-1.90v-3.80zM233.9 367.1l3.27 1.90v3.80l-3.27 1.90l-3.27-1.90v-3.80z"/><path fill="#e6b2e5" d="M262.0 135.0l3.27 1.90v3.80l-3.27 1.90l-3.27-1.90v-3.80zM252.6 140.4l3.27 1.90v3.80l-3.27 1.90l-3.27-1.90v-3.80zM240.2 151.2l3.27 1.90v3.80l-3.27 1.90l-3.27-1.90v-3.80zM184.1 248.4l3.27 1.90v3.80l-3.27 1.90l-3.27-1.90v-3.80zM187.2 297.0l3.27 1.90v3.80l-3.27 1.90l-3.27-1.90v-3.80zM268.2 383.4l3.27 1.90v3.80l-3.27 1.90l-3.27-1.90v-3.80zM308.8 399.6l3.27 1.90v3.80l-3.27 1.90l-3.27-1.90v-3.80zM327.5 399.6l3.27 1.90v3.80l-3.27 1.90l-3.27-1.90v-3.80z"/><path fill="#e3aee6" d="M280.7 135.0l3.27 1.90v3.80l-3.27 1.90l-3.27-1.90v-3.80zM349.3 135.0l3.27 1.90v3.80l-3.27 1.90l-3.27-1.90v-3.80zM255.8 145.8l3.27 1.90v3.80l-3.27 1.90l-3.27-1.90v-3.80zM411.7 189.0l3.27 1.90v3.80l-3.27 1.90l-3.27-1.90v-3.80zM414.8 194.4l3.27 1.90v3.80l-3.27 1.90l-3.27-1.90v-3.80zM187.2 243.0l3.27 1.90v3.80l-3.27 1.90l-3.27-1.90v-3.80zM190.3 291.6l3.27 1.90v3.80l-3.27 1.90l-3.27-1.90v-3.80zM442.8 307.8l3.27 1.90v3.80l-3.27 1.90l-3.27-1.90v-3.80zM227.7 356.4l3.27 1.90v3.80l-3.27 1.90l-3.27-1.90v-3.80zM274.5 383.4l3.27 1.90v3.80l-3.27 1.90l-3.27-1.90v-3.80zM283.8 388.8l3.27 1.90v3.80l-3.27 1.90l-3.27-1.90v-3.80z"/><path fill="#e2ade7" d="M286.9 135.0l3.27 1.90v3.80l-3.27 1.90l-3.27-1.90v-3.80zM271.4 140.4l3.27 1.90v3.80l-3.27 1.90l-3.27-1.90v-3.80zM252.6 151.2l3.27 1.90v3.80l-3.27 1.90l-3.27-1.90v-3.80zM233.9 162.0l3.27 1.90v3.80l-3.27 1.90l-3.27-1.90v-3.80zM187.2 210.6l3.27 1.90v3.80l-3.27 1.90l-3.27-1.90v-3.80zM433.5 226.8l3.27 1.90v3.80l-3.27 1.90l-3.27-1.90v-3.80zM187.2 232.2l3.27 1.90v3.80l-3.27 1.90l-3.27-1.90v-3.80zM190.3 280.8l3.27 1.90v3.80l-3.27 1.90l-3.27-1.90v-3.80zM193.4 297.0l3.27 1.90v3.80l-3.27 1.90l-3.27-1.90v-3.80zM414.8 356.4l3.27 1.90v3.80l-3.27 1.90l-3.27-1.90v-3.80zM237.1 361.8l3.27 1.90v3.80l-3.27 1.90l-3.27-1.90v-3.80zM265.1 378.0l3.27 1.90v3.80l-3.27 1.90l-3.27-1.90v-3.80zM377.4 378.0l3.27 1.90v3.80l-3.27 1.90l-3.27-1.90v-3.80z"/><path fill="#e1abe7" d="M293.2 135.0l3.27 1.90v3.80l-3.27 1.90l-3.27-1.90v-3.80zM343.1 135.0l3.27 1.90v3.80l-3.27 1.90l-3.27-1.90v-3.80zM190.3 205.2l3.27 1.90v3.80l-3.27 1.90l-3.27-1.90v-3.80zM421.0 205.2l3.27 1.90v3.80l-3.27 1.90l-3.27-1.90v-3.80zM436.6 243.0l3.27 1.90v3.80l-3.27 1.90l-3.27-1.90v-3.80zM190.3 248.4l3.27 1.90v3.80l-3.27 1.90l-3.27-1.90v-3.80zM442.8 275.4l3.27 1.90v3.80l-3.27 1.90l-3.27-1.90v-3.80z"/><path fill="#e0aae8" d="M299.4 135.0l3.27 1.90v3.80l-3.27 1.90l-3.27-1.90v-3.80zM305.6 135.0l3.27 1.90v3.80l-3.27 1.90l-3.27-1.90v-3.80zM283.8 140.4l3.27 1.90v3.80l-3.27 1.90l-3.27-1.90v-3.80zM268.2 145.8l3.27 1.90v3.80l-3.27 1.90l-3.27-1.90v-3.80zM240.2 162.0l3.27 1.90v3.80l-3.27 1.90l-3.27-1.90v-3.80zM389.8 162.0l3.27 1.90v3.80l-3.27 1.90l-3.27-1.90v-3.80zM199.6 189.0l3.27 1.90v3.80l-3.27 1.90l-3.27-1.90v-3.80zM193.4 199.8l3.27 1.90v3.80l-3.27 1.90l-3.27-1.90v-3.80zM427.2 216.0l3.27 1.90v3.80l-3.27 1.90l-3.27-1.90v-3.80zM190.3 237.6l3.27 1.90v3.80l-3.27 1.90l-3.27-1.90v-3.80zM439.7 259.1l3.27 1.90v3.80l-3.27 1.90l-3.27-1.90v-3.80zM193.4 286.1l3.27 1.90v3.80l-3.27 1.90l-3.27-1.90v-3.80zM442.8 286.1l3.27 1.90v3.80l-3.27 1.90l-3.27-1.90v-3.80zM196.5 302.4l3.27 1.90v3.80l-3.27 1.90l-3.27-1.90v-3.80zM439.7 313.2l3.27 1.90v3.80l-3.27 1.90l-3.27-1.90v-3.80zM355.5 318.6l3.27 1.90v3.80l-3.27 1.90l-3.27-1.90v-3.80zM218.4 340.1l3.27 1.90v3.80l-3.27 1.90l-3.27-1.90v-3.80zM417.9 351.0l3.27 1.90v3.80l-3.27 1.90l-3.27-1.90v-3.80zM233.9 356.4l3.27 1.90v3.80l-3.27 1.90l-3.27-1.90v-3.80zM405.4 361.8l3.27 1.90v3.80l-3.27 1.90l-3.27-1.90v-3.80zM386.7 372.6l3.27 1.90v3.80l-3.27 1.90l-3.27-1.90v-3.80zM361.8 383.4l3.27 1.90v3.80l-3.27 1.90l-3.27-1.90v-3.80z"/><path fill="#dfa9e8" d="M311.9 135.0l3.27 1.90v3.80l-3.27 1.90l-3.27-1.90v-3.80zM336.8 135.0l3.27 1.90v3.80l-3.27 1.90l-3.27-1.90v-3.80zM368.0 145.8l3.27 1.90v3.80l-3.27 1.90l-3.27-1.90v-3.80zM265.1 151.2l3.27 1.90v3.80l-3.27 1.90l-3.27-1.90v-3.80zM255.8 156.6l3.27 1.90v3.80l-3.27 1.90l-3.27-1.90v-3.80zM230.8 167.4l3.27 1.90v3.80l-3.27 1.90l-3.27-1.90v-3.80zM190.3 226.8l3.27 1.90v3.80l-3.27 1.90l-3.27-1.90v-3.80zM193.4 253.8l3.27 1.90v3.80l-3.27 1.90l-3.27-1.90v-3.80zM193.4 264.6l3.27 1.90v3.80l-3.27 1.90l-3.27-1.90v-3.80zM193.4 275.4l3.27 1.90v3.80l-3.27 1.90l-3.27-1.90v-3.80zM199.6 307.8l3.27 1.90v3.80l-3.27 1.90l-3.27-1.90v-3.80zM202.8 313.2l3.27 1.90v3.80l-3.27 1.90l-3.27-1.90v-3.80zM243.3 361.8l3.27 1.90v3.80l-3.27 1.90l-3.27-1.90v-3.80zM271.4 378.0l3.27 1.90v3.80l-3.27 1.90l-3.27-1.90v-3.80zM290.1 388.8l3.27 1.90v3.80l-3.27 1.90l-3.27-1.90v-3.80zM305.6 394.1l3.27 1.90v3.80l-3.27 1.90l-3.27-1.90v-3.80z"/><path fill="#dfa9e9" d="M318.1 135.0l3.27 1.90v3.80l-3.27 1.90l-3.27-1.90v-3.80zM274.5 145.8l3.27 1.90v3.80l-3.27 1.90l-3.27-1.90v-3.80zM280.7 383.4l3.27 1.90v3.80l-3.27 1.90l-3.27-1.90v-3.80z"/><path fill="#dea8e9" d="M324.4 135.0l3.27 1.90v3.80l-3.27 1.90l-3.27-1.90v-3.80zM330.6 135.0l3.27 1.90v3.80l-3.27 1.90l-3.27-1.90v-3.80zM221.5 172.8l3.27 1.90v3.80l-3.27 1.90l-3.27-1.90v-3.80zM196.5 291.6l3.27 1.90v3.80l-3.27 1.90l-3.27-1.90v-3.80zM436.6 318.6l3.27 1.90v3.80l-3.27 1.90l-3.27-1.90v-3.80zM212.1 329.4l3.27 1.90v3.80l-3.27 1.90l-3.27-1.90v-3.80zM230.8 351.0l3.27 1.90v3.80l-3.27 1.90l-3.27-1.90v-3.80zM252.6 367.1l3.27 1.90v3.80l-3.27 1.90l-3.27-1.90v-3.80zM324.4 394.1l3.27 1.90v3.80l-3.27 1.90l-3.27-1.90v-3.80z"/><path fill="#edc6df" d="M361.8 135.0l3.27 1.90v3.80l-3.27 1.90l-3.27-1.90v-3.80zM380.5 383.4l3.27 1.90v3.80l-3.27 1.90l-3.27-1.90v-3.80z"/><path fill="#e4aee6" d="M265.1 140.4l3.27 1.90v3.80l-3.27 1.90l-3.27-1.90v-3.80z"/><path fill="#e1abe8" d="M277.6 140.4l3.27 1.90v3.80l-3.27 1.90l-3.27-1.90v-3.80zM258.9 151.2l3.27 1.90v3.80l-3.27 1.90l-3.27-1.90v-3.80zM377.4 151.2l3.27 1.90v3.80l-3.27 1.90l-3.27-1.90v-3.80zM249.5 156.6l3.27 1.90v3.80l-3.27 1.90l-3.27-1.90v-3.80zM424.1 210.6l3.27 1.90v3.80l-3.27 1.90l-3.27-1.90v-3.80zM442.8 297.0l3.27 1.90v3.80l-3.27 1.90l-3.27-1.90v-3.80zM255.8 372.6l3.27 1.90v3.80l-3.27 1.90l-3.27-1.90v-3.80z"/><path fill="#dfa8e9" d="M290.1 140.4l3.27 1.90v3.80l-3.27 1.90l-3.27-1.90v-3.80zM246.4 162.0l3.27 1.90v3.80l-3.27 1.90l-3.27-1.90v-3.80zM190.3 216.0l3.27 1.90v3.80l-3.27 1.90l-3.27-1.90v-3.80zM205.9 318.6l3.27 1.90v3.80l-3.27 1.90l-3.27-1.90v-3.80zM209.0 324.0l3.27 1.90v3.80l-3.27 1.90l-3.27-1.90v-3.80zM215.2 334.8l3.27 1.90v3.80l-3.27 1.90l-3.27-1.90v-3.80zM346.2 388.8l3.27 1.90v3.80l-3.27 1.90l-3.27-1.90v-3.80z"/><path fill="#dda7e9" d="M296.3 140.4l3.27 1.90v3.80l-3.27 1.90l-3.27-1.90v-3.80zM352.4 140.4l3.27 1.90v3.80l-3.27 1.90l-3.27-1.90v-3.80zM280.7 145.8l3.27 1.90v3.80l-3.27 1.90l-3.27-1.90v-3.80zM380.5 156.6l3.27 1.90v3.80l-3.27 1.90l-3.27-1.90v-3.80zM237.1 167.4l3.27 1.90v3.80l-3.27 1.90l-3.27-1.90v-3.80zM199.6 297.0l3.27 1.90v3.80l-3.27 1.90l-3.27-1.90v-3.80zM439.7 302.4l3.27 1.90v3.80l-3.27 1.90l-3.27-1.90v-3.80z"/><path fill="#dca6ea" d="M302.5 140.4l3.27 1.90v3.80l-3.27 1.90l-3.27-1.90v-3.80zM240.2 356.4l3.27 1.90v3.80l-3.27 1.90l-3.27-1.90v-3.80z"/><path fill="#dca5ea" d="M308.8 140.4l3.27 1.90v3.80l-3.27 1.90l-3.27-1.90v-3.80zM346.2 140.4l3.27 1.90v3.80l-3.27 1.90l-3.27-1.90v-3.80zM286.9 145.8l3.27 1.90v3.80l-3.27 1.90l-3.27-1.90v-3.80zM361.8 145.8l3.27 1.90v3.80l-3.27 1.90l-3.27-1.90v-3.80zM277.6 151.2l3.27 1.90v3.80l-3.27 1.90l-3.27-1.90v-3.80zM268.2 156.6l3.27 1.90v3.80l-3.27 1.90l-3.27-1.90v-3.80zM258.9 162.0l3.27 1.90v3.80l-3.27 1.90l-3.27-1.90v-3.80zM243.3 167.4l3.27 1.90v3.80l-3.27 1.90l-3.27-1.90v-3.80zM396.1 172.8l3.27 1.90v3.80l-3.27 1.90l-3.27-1.90v-3.80zM193.4 210.6l3.27 1.90v3.80l-3.27 1.90l-3.27-1.90v-3.80zM193.4 221.4l3.27 1.90v3.80l-3.27 1.90l-3.27-1.90v-3.80zM193.4 232.2l3.27 1.90v3.80l-3.27 1.90l-3.27-1.90v-3.80zM439.7 270.0l3.27 1.90v3.80l-3.27 1.90l-3.27-1.90v-3.80zM202.8 302.4l3.27 1.90v3.80l-3.27 1.90l-3.27-1.90v-3.80zM433.5 324.0l3.27 1.90v3.80l-3.27 1.90l-3.27-1.90v-3.80zM424.1 340.1l3.27 1.90v3.80l-3.27 1.90l-3.27-1.90v-3.80zM421.0 345.6l3.27 1.90v3.80l-3.27 1.90l-3.27-1.90v-3.80zM408.5 356.4l3.27 1.90v3.80l-3.27 1.90l-3.27-1.90v-3.80zM339.9 388.8l3.27 1.90v3.80l-3.27 1.90l-3.27-1.90v-3.80zM318.1 394.1l3.27 1.90v3.80l-3.27 1.90l-3.27-1.90v-3.80z"/><path fill="#dba4ea" d="M315.0 140.4l3.27 1.90v3.80l-3.27 1.90l-3.27-1.90v-3.80zM339.9 140.4l3.27 1.90v3.80l-3.27 1.90l-3.27-1.90v-3.80zM293.2 145.8l3.27 1.90v3.80l-3.27 1.90l-3.27-1.90v-3.80zM371.1 151.2l3.27 1.90v3.80l-3.27 1.90l-3.27-1.90v-3.80zM274.5 156.6l3.27 1.90v3.80l-3.27 1.90l-3.27-1.90v-3.80zM249.5 167.4l3.27 1.90v3.80l-3.27 1.90l-3.27-1.90v-3.80zM227.7 172.8l3.27 1.90v3.80l-3.27 1.90l-3.27-1.90v-3.80zM433.5 237.6l3.27 1.90v3.80l-3.27 1.90l-3.27-1.90v-3.80zM436.6 253.8l3.27 1.90v3.80l-3.27 1.90l-3.27-1.90v-3.80zM196.5 259.1l3.27 1.90v3.80l-3.27 1.90l-3.27-1.90v-3.80zM196.5 270.0l3.27 1.90v3.80l-3.27 1.90l-3.27-1.90v-3.80zM439.7 291.6l3.27 1.90v3.80l-3.27 1.90l-3.27-1.90v-3.80zM205.9 307.8l3.27 1.90v3.80l-3.27 1.90l-3.27-1.90v-3.80zM427.2 334.8l3.27 1.90v3.80l-3.27 1.90l-3.27-1.90v-3.80zM249.5 361.8l3.27 1.90v3.80l-3.27 1.90l-3.27-1.90v-3.80zM399.2 361.8l3.27 1.90v3.80l-3.27 1.90l-3.27-1.90v-3.80zM389.8 367.1l3.27 1.90v3.80l-3.27 1.90l-3.27-1.90v-3.80zM380.5 372.6l3.27 1.90v3.80l-3.27 1.90l-3.27-1.90v-3.80zM277.6 378.0l3.27 1.90v3.80l-3.27 1.90l-3.27-1.90v-3.80zM286.9 383.4l3.27 1.90v3.80l-3.27 1.90l-3.27-1.90v-3.80z"/><path fill="#dba3eb" d="M321.2 140.4l3.27 1.90v3.80l-3.27 1.90l-3.27-1.90v-3.80zM333.7 140.4l3.27 1.90v3.80l-3.27 1.90l-3.27-1.90v-3.80zM283.8 151.2l3.27 1.90v3.80l-3.27 1.90l-3.27-1.90v-3.80zM265.1 162.0l3.27 1.90v3.80l-3.27 1.90l-3.27-1.90v-3.80zM383.6 162.0l3.27 1.90v3.80l-3.27 1.90l-3.27-1.90v-3.80zM196.5 248.4l3.27 1.90v3.80l-3.27 1.90l-3.27-1.90v-3.80zM439.7 280.8l3.27 1.90v3.80l-3.27 1.90l-3.27-1.90v-3.80zM224.6 340.1l3.27 1.90v3.80l-3.27 1.90l-3.27-1.90v-3.80z"/><path fill="#daa3eb" d="M327.5 140.4l3.27 1.90v3.80l-3.27 1.90l-3.27-1.90v-3.80zM299.4 145.8l3.27 1.90v3.80l-3.27 1.90l-3.27-1.90v-3.80zM355.5 145.8l3.27 1.90v3.80l-3.27 1.90l-3.27-1.90v-3.80zM255.8 167.4l3.27 1.90v3.80l-3.27 1.90l-3.27-1.90v-3.80zM233.9 172.8l3.27 1.90v3.80l-3.27 1.90l-3.27-1.90v-3.80zM399.2 178.2l3.27 1.90v3.80l-3.27 1.90l-3.27-1.90v-3.80zM209.0 313.2l3.27 1.90v3.80l-3.27 1.90l-3.27-1.90v-3.80zM221.5 334.8l3.27 1.90v3.80l-3.27 1.90l-3.27-1.90v-3.80zM258.9 367.1l3.27 1.90v3.80l-3.27 1.90l-3.27-1.90v-3.80zM268.2 372.6l3.27 1.90v3.80l-3.27 1.90l-3.27-1.90v-3.80zM364.9 378.0l3.27 1.90v3.80l-3.27 1.90l-3.27-1.90v-3.80zM333.7 388.8l3.27 1.90v3.80l-3.27 1.90l-3.27-1.90v-3.80z"/><path fill="#e2ace7" d="M358.6 140.4l3.27 1.90v3.80l-3.27 1.90l-3.27-1.90v-3.80zM262.0 145.8l3.27 1.90v3.80l-3.27 1.90l-3.27-1.90v-3.80zM187.2 221.4l3.27 1.90v3.80l-3.27 1.90l-3.27-1.90v-3.80zM190.3 259.1l3.27 1.90v3.80l-3.27 1.90l-3.27-1.90v-3.80zM190.3 270.0l3.27 1.90v3.80l-3.27 1.90l-3.27-1.90v-3.80zM246.4 367.1l3.27 1.90v3.80l-3.27 1.90l-3.27-1.90v-3.80zM352.4 388.8l3.27 1.90v3.80l-3.27 1.90l-3.27-1.90v-3.80zM299.4 394.1l3.27 1.90v3.80l-3.27 1.90l-3.27-1.90v-3.80z"/><path fill="#e8b5e4" d="M243.3 145.8l3.27 1.90v3.80l-3.27 1.90l-3.27-1.90v-3.80zM215.2 172.8l3.27 1.90v3.80l-3.27 1.90l-3.27-1.90v-3.80zM202.8 183.6l3.27 1.90v3.80l-3.27 1.90l-3.27-1.90v-3.80zM187.2 199.8l3.27 1.90v3.80l-3.27 1.90l-3.27-1.90v-3.80zM439.7 324.0l3.27 1.90v3.80l-3.27 1.90l-3.27-1.90v-3.80zM424.1 351.0l3.27 1.90v3.80l-3.27 1.90l-3.27-1.90v-3.80zM252.6 378.0l3.27 1.90v3.80l-3.27 1.90l-3.27-1.90v-3.80zM383.6 378.0l3.27 1.90v3.80l-3.27 1.90l-3.27-1.90v-3.80z"/><path fill="#e5b0e5" d="M249.5 145.8l3.27 1.90v3.80l-3.27 1.90l-3.27-1.90v-3.80zM399.2 167.4l3.27 1.90v3.80l-3.27 1.90l-3.27-1.90v-3.80zM299.4 232.2l3.27 1.90v3.80l-3.27 1.90l-3.27-1.90v-3.80zM445.9 291.6l3.27 1.90v3.80l-3.27 1.90l-3.27-1.90v-3.80zM190.3 302.4l3.27 1.90v3.80l-3.27 1.90l-3.27-1.90v-3.80zM430.4 340.1l3.27 1.90v3.80l-3.27 1.90l-3.27-1.90v-3.80zM230.8 361.8l3.27 1.90v3.80l-3.27 1.90l-3.27-1.90v-3.80zM392.9 372.6l3.27 1.90v3.80l-3.27 1.90l-3.27-1.90v-3.80zM258.9 378.0l3.27 1.90v3.80l-3.27 1.90l-3.27-1.90v-3.80z"/><path fill="#d9a2eb" d="M305.6 145.8l3.27 1.90v3.80l-3.27 1.90l-3.27-1.90v-3.80zM386.7 167.4l3.27 1.90v3.80l-3.27 1.90l-3.27-1.90v-3.80zM240.2 172.8l3.27 1.90v3.80l-3.27 1.90l-3.27-1.90v-3.80zM402.3 183.6l3.27 1.90v3.80l-3.27 1.90l-3.27-1.90v-3.80zM215.2 324.0l3.27 1.90v3.80l-3.27 1.90l-3.27-1.90v-3.80z"/><path fill="#d9a1eb" d="M311.9 145.8l3.27 1.90v3.80l-3.27 1.90l-3.27-1.90v-3.80zM349.3 145.8l3.27 1.90v3.80l-3.27 1.90l-3.27-1.90v-3.80zM202.8 291.6l3.27 1.90v3.80l-3.27 1.90l-3.27-1.90v-3.80zM436.6 307.8l3.27 1.90v3.80l-3.27 1.90l-3.27-1.90v-3.80zM218.4 329.4l3.27 1.90v3.80l-3.27 1.90l-3.27-1.90v-3.80zM237.1 351.0l3.27 1.90v3.80l-3.27 1.90l-3.27-1.90v-3.80z"/><path fill="#d9a1ec" d="M318.1 145.8l3.27 1.90v3.80l-3.27 1.90l-3.27-1.90v-3.80zM343.1 145.8l3.27 1.90v3.80l-3.27 1.90l-3.27-1.90v-3.80zM296.3 151.2l3.27 1.90v3.80l-3.27 1.90l-3.27-1.90v-3.80zM286.9 156.6l3.27 1.90v3.80l-3.27 1.90l-3.27-1.90v-3.80zM277.6 162.0l3.27 1.90v3.80l-3.27 1.90l-3.27-1.90v-3.80zM268.2 167.4l3.27 1.90v3.80l-3.27 1.90l-3.27-1.90v-3.80zM246.4 172.8l3.27 1.90v3.80l-3.27 1.90l-3.27-1.90v-3.80zM430.4 232.2l3.27 1.90v3.80l-3.27 1.90l-3.27-1.90v-3.80zM199.6 275.4l3.27 1.90v3.80l-3.27 1.90l-3.27-1.90v-3.80z"/><path fill="#d8a0ec" d="M324.4 145.8l3.27 1.90v3.80l-3.27 1.90l-3.27-1.90v-3.80zM330.6 145.8l3.27 1.90v3.80l-3.27 1.90l-3.27-1.90v-3.80zM336.8 145.8l3.27 1.90v3.80l-3.27 1.90l-3.27-1.90v-3.80zM302.5 151.2l3.27 1.90v3.80l-3.27 1.90l-3.27-1.90v-3.80zM293.2 156.6l3.27 1.90v3.80l-3.27 1.90l-3.27-1.90v-3.80zM368.0 156.6l3.27 1.90v3.80l-3.27 1.90l-3.27-1.90v-3.80zM258.9 172.8l3.27 1.90v3.80l-3.27 1.90l-3.27-1.90v-3.80zM389.8 172.8l3.27 1.90v3.80l-3.27 1.90l-3.27-1.90v-3.80zM218.4 178.2l3.27 1.90v3.80l-3.27 1.90l-3.27-1.90v-3.80zM408.5 194.4l3.27 1.90v3.80l-3.27 1.90l-3.27-1.90v-3.80zM196.5 205.2l3.27 1.90v3.80l-3.27 1.90l-3.27-1.90v-3.80zM196.5 237.6l3.27 1.90v3.80l-3.27 1.90l-3.27-1.90v-3.80zM199.6 264.6l3.27 1.90v3.80l-3.27 1.90l-3.27-1.90v-3.80zM383.6 367.1l3.27 1.90v3.80l-3.27 1.90l-3.27-1.90v-3.80zM374.2 372.6l3.27 1.90v3.80l-3.27 1.90l-3.27-1.90v-3.80zM358.6 378.0l3.27 1.90v3.80l-3.27 1.90l-3.27-1.90v-3.80zM308.8 388.8l3.27 1.90v3.80l-3.27 1.90l-3.27-1.90v-3.80z"/><path fill="#dea7e9" d="M271.4 151.2l3.27 1.90v3.80l-3.27 1.90l-3.27-1.90v-3.80zM262.0 156.6l3.27 1.90v3.80l-3.27 1.90l-3.27-1.90v-3.80zM392.9 167.4l3.27 1.90v3.80l-3.27 1.90l-3.27-1.90v-3.80zM212.1 178.2l3.27 1.90v3.80l-3.27 1.90l-3.27-1.90v-3.80zM196.5 194.4l3.27 1.90v3.80l-3.27 1.90l-3.27-1.90v-3.80zM193.4 243.0l3.27 1.90v3.80l-3.27 1.90l-3.27-1.90v-3.80zM274.5 253.8l3.27 1.90v3.80l-3.27 1.90l-3.27-1.90v-3.80zM262.0 372.6l3.27 1.90v3.80l-3.27 1.90l-3.27-1.90v-3.80zM371.1 378.0l3.27 1.90v3.80l-3.27 1.90l-3.27-1.90v-3.80z"/><path fill="#daa2eb" d="M290.1 151.2l3.27 1.90v3.80l-3.27 1.90l-3.27-1.90v-3.80zM364.9 151.2l3.27 1.90v3.80l-3.27 1.90l-3.27-1.90v-3.80zM280.7 156.6l3.27 1.90v3.80l-3.27 1.90l-3.27-1.90v-3.80zM374.2 156.6l3.27 1.90v3.80l-3.27 1.90l-3.27-1.90v-3.80zM271.4 162.0l3.27 1.90v3.80l-3.27 1.90l-3.27-1.90v-3.80zM262.0 167.4l3.27 1.90v3.80l-3.27 1.90l-3.27-1.90v-3.80zM212.1 318.6l3.27 1.90v3.80l-3.27 1.90l-3.27-1.90v-3.80zM411.7 351.0l3.27 1.90v3.80l-3.27 1.90l-3.27-1.90v-3.80zM349.3 383.4l3.27 1.90v3.80l-3.27 1.90l-3.27-1.90v-3.80zM302.5 388.8l3.27 1.90v3.80l-3.27 1.90l-3.27-1.90v-3.80z"/><path fill="#d69fec" d="M308.8 151.2l3.27 1.90v3.80l-3.27 1.90l-3.27-1.90v-3.80zM352.4 151.2l3.27 1.90v3.80l-3.27 1.90l-3.27-1.90v-3.80zM283.8 162.0l3.27 1.90v3.80l-3.27 1.90l-3.27-1.90v-3.80zM199.6 253.8l3.27 1.90v3.80l-3.27 1.90l-3.27-1.90v-3.80zM205.9 297.0l3.27 1.90v3.80l-3.27 1.90l-3.27-1.90v-3.80zM321.2 388.8l3.27 1.90v3.80l-3.27 1.90l-3.27-1.90v-3.80z"/><path fill="#d59fec" d="M315.0 151.2l3.27 1.90v3.80l-3.27 1.90l-3.27-1.90v-3.80zM427.2 226.8l3.27 1.90v3.80l-3.27 1.90l-3.27-1.90v-3.80zM283.8 378.0l3.27 1.90v3.80l-3.27 1.90l-3.27-1.90v-3.80z"/><path fill="#d49eed" d="M321.2 151.2l3.27 1.90v3.80l-3.27 1.90l-3.27-1.90v-3.80zM339.9 151.2l3.27 1.90v3.80l-3.27 1.90l-3.27-1.90v-3.80zM346.2 151.2l3.27 1.90v3.80l-3.27 1.90l-3.27-1.90v-3.80zM361.8 156.6l3.27 1.90v3.80l-3.27 1.90l-3.27-1.90v-3.80zM271.4 172.8l3.27 1.90v3.80l-3.27 1.90l-3.27-1.90v-3.80zM411.7 199.8l3.27 1.90v3.80l-3.27 1.90l-3.27-1.90v-3.80zM402.3 356.4l3.27 1.90v3.80l-3.27 1.90l-3.27-1.90v-3.80z"/><path fill="#d39ded" d="M327.5 151.2l3.27 1.90v3.80l-3.27 1.90l-3.27-1.90v-3.80zM333.7 151.2l3.27 1.90v3.80l-3.27 1.90l-3.27-1.90v-3.80zM255.8 178.2l3.27 1.90v3.80l-3.27 1.90l-3.27-1.90v-3.80zM262.0 178.2l3.27 1.90v3.80l-3.27 1.90l-3.27-1.90v-3.80zM417.9 210.6l3.27 1.90v3.80l-3.27 1.90l-3.27-1.90v-3.80zM202.8 280.8l3.27 1.90v3.80l-3.27 1.90l-3.27-1.90v-3.80zM414.8 345.6l3.27 1.90v3.80l-3.27 1.90l-3.27-1.90v-3.80zM299.4 383.4l3.27 1.90v3.80l-3.27 1.90l-3.27-1.90v-3.80z"/><path fill="#d8a1ec" d="M358.6 151.2l3.27 1.90v3.80l-3.27 1.90l-3.27-1.90v-3.80zM252.6 172.8l3.27 1.90v3.80l-3.27 1.90l-3.27-1.90v-3.80zM293.2 383.4l3.27 1.90v3.80l-3.27 1.90l-3.27-1.90v-3.80zM327.5 388.8l3.27 1.90v3.80l-3.27 1.90l-3.27-1.90v-3.80z"/><path fill="#e9b8e3" d="M230.8 156.6l3.27 1.90v3.80l-3.27 1.90l-3.27-1.90v-3.80zM352.4 237.6l3.27 1.90v3.80l-3.27 1.90l-3.27-1.90v-3.80zM349.3 243.0l3.27 1.90v3.80l-3.27 1.90l-3.27-1.90v-3.80z"/><path fill="#e3ade7" d="M243.3 156.6l3.27 1.90v3.80l-3.27 1.90l-3.27-1.90v-3.80zM224.6 167.4l3.27 1.90v3.80l-3.27 1.90l-3.27-1.90v-3.80zM405.4 178.2l3.27 1.90v3.80l-3.27 1.90l-3.27-1.90v-3.80zM199.6 318.6l3.27 1.90v3.80l-3.27 1.90l-3.27-1.90v-3.80zM202.8 324.0l3.27 1.90v3.80l-3.27 1.90l-3.27-1.90v-3.80zM205.9 329.4l3.27 1.90v3.80l-3.27 1.90l-3.27-1.90v-3.80zM209.0 334.8l3.27 1.90v3.80l-3.27 1.90l-3.27-1.90v-3.80z"/><path fill="#d59eed" d="M299.4 156.6l3.27 1.90v3.80l-3.27 1.90l-3.27-1.90v-3.80zM436.6 264.6l3.27 1.90v3.80l-3.27 1.90l-3.27-1.90v-3.80zM368.0 307.8l3.27 1.90v3.80l-3.27 1.90l-3.27-1.90v-3.80z"/><path fill="#d29ded" d="M305.6 156.6l3.27 1.90v3.80l-3.27 1.90l-3.27-1.90v-3.80zM371.1 162.0l3.27 1.90v3.80l-3.27 1.90l-3.27-1.90v-3.80zM380.5 167.4l3.27 1.90v3.80l-3.27 1.90l-3.27-1.90v-3.80zM224.6 178.2l3.27 1.90v3.80l-3.27 1.90l-3.27-1.90v-3.80zM414.8 205.2l3.27 1.90v3.80l-3.27 1.90l-3.27-1.90v-3.80zM196.5 226.8l3.27 1.90v3.80l-3.27 1.90l-3.27-1.90v-3.80zM336.8 383.4l3.27 1.90v3.80l-3.27 1.90l-3.27-1.90v-3.80z"/><path fill="#d09ced" d="M311.9 156.6l3.27 1.90v3.80l-3.27 1.90l-3.27-1.90v-3.80zM296.3 162.0l3.27 1.90v3.80l-3.27 1.90l-3.27-1.90v-3.80zM286.9 167.4l3.27 1.90v3.80l-3.27 1.90l-3.27-1.90v-3.80zM237.1 178.2l3.27 1.90v3.80l-3.27 1.90l-3.27-1.90v-3.80zM243.3 178.2l3.27 1.90v3.80l-3.27 1.90l-3.27-1.90v-3.80zM268.2 178.2l3.27 1.90v3.80l-3.27 1.90l-3.27-1.90v-3.80zM392.9 178.2l3.27 1.90v3.80l-3.27 1.90l-3.27-1.90v-3.80zM205.9 189.0l3.27 1.90v3.80l-3.27 1.90l-3.27-1.90v-3.80zM318.1 221.4l3.27 1.90v3.80l-3.27 1.90l-3.27-1.90v-3.80zM274.5 372.6l3.27 1.90v3.80l-3.27 1.90l-3.27-1.90v-3.80zM352.4 378.0l3.27 1.90v3.80l-3.27 1.90l-3.27-1.90v-3.80z"/><path fill="#cf9ced" d="M318.1 156.6l3.27 1.90v3.80l-3.27 1.90l-3.27-1.90v-3.80zM368.0 372.6l3.27 1.90v3.80l-3.27 1.90l-3.27-1.90v-3.80z"/><path fill="#ce9bee" d="M324.4 156.6l3.27 1.90v3.80l-3.27 1.90l-3.27-1.90v-3.80zM343.1 156.6l3.27 1.90v3.80l-3.27 1.90l-3.27-1.90v-3.80zM383.6 172.8l3.27 1.90v3.80l-3.27 1.90l-3.27-1.90v-3.80zM258.9 183.6l3.27 1.90v3.80l-3.27 1.90l-3.27-1.90v-3.80zM265.1 183.6l3.27 1.90v3.80l-3.27 1.90l-3.27-1.90v-3.80zM202.8 194.4l3.27 1.90v3.80l-3.27 1.90l-3.27-1.90v-3.80zM199.6 199.8l3.27 1.90v3.80l-3.27 1.90l-3.27-1.90v-3.80zM199.6 243.0l3.27 1.90v3.80l-3.27 1.90l-3.27-1.90v-3.80zM202.8 270.0l3.27 1.90v3.80l-3.27 1.90l-3.27-1.90v-3.80zM436.6 275.4l3.27 1.90v3.80l-3.27 1.90l-3.27-1.90v-3.80zM436.6 297.0l3.27 1.90v3.80l-3.27 1.90l-3.27-1.90v-3.80zM286.9 318.6l3.27 1.90v3.80l-3.27 1.90l-3.27-1.90v-3.80zM417.9 340.1l3.27 1.90v3.80l-3.27 1.90l-3.27-1.90v-3.80zM330.6 383.4l3.27 1.90v3.80l-3.27 1.90l-3.27-1.90v-3.80z"/><path fill="#cd9aee" d="M330.6 156.6l3.27 1.90v3.80l-3.27 1.90l-3.27-1.90v-3.80zM374.2 167.4l3.27 1.90v3.80l-3.27 1.90l-3.27-1.90v-3.80zM386.7 361.8l3.27 1.90v3.80l-3.27 1.90l-3.27-1.90v-3.80z"/><path fill="#cd9bee" d="M336.8 156.6l3.27 1.90v3.80l-3.27 1.90l-3.27-1.90v-3.80zM302.5 162.0l3.27 1.90v3.80l-3.27 1.90l-3.27-1.90v-3.80zM364.9 162.0l3.27 1.90v3.80l-3.27 1.90l-3.27-1.90v-3.80zM293.2 167.4l3.27 1.90v3.80l-3.27 1.90l-3.27-1.90v-3.80zM283.8 172.8l3.27 1.90v3.80l-3.27 1.90l-3.27-1.90v-3.80zM274.5 178.2l3.27 1.90v3.80l-3.27 1.90l-3.27-1.90v-3.80zM215.2 183.6l3.27 1.90v3.80l-3.27 1.90l-3.27-1.90v-3.80zM377.4 367.1l3.27 1.90v3.80l-3.27 1.90l-3.27-1.90v-3.80z"/><path fill="#cf9bee" d="M349.3 156.6l3.27 1.90v3.80l-3.27 1.90l-3.27-1.90v-3.80zM196.5 216.0l3.27 1.90v3.80l-3.27 1.90l-3.27-1.90v-3.80zM209.0 302.4l3.27 1.90v3.80l-3.27 1.90l-3.27-1.90v-3.80z"/><path fill="#d19ded" d="M355.5 156.6l3.27 1.90v3.80l-3.27 1.90l-3.27-1.90v-3.80zM249.5 178.2l3.27 1.90v3.80l-3.27 1.90l-3.27-1.90v-3.80zM421.0 216.0l3.27 1.90v3.80l-3.27 1.90l-3.27-1.90v-3.80z"/><path fill="#dda6e9" d="M252.6 162.0l3.27 1.90v3.80l-3.27 1.90l-3.27-1.90v-3.80z"/><path fill="#d39eed" d="M290.1 162.0l3.27 1.90v3.80l-3.27 1.90l-3.27-1.90v-3.80zM280.7 167.4l3.27 1.90v3.80l-3.27 1.90l-3.27-1.90v-3.80zM424.1 221.4l3.27 1.90v3.80l-3.27 1.90l-3.27-1.90v-3.80zM315.0 388.8l3.27 1.90v3.80l-3.27 1.90l-3.27-1.90v-3.80z"/><path fill="#cb99ee" d="M308.8 162.0l3.27 1.90v3.80l-3.27 1.90l-3.27-1.90v-3.80zM436.6 286.1l3.27 1.90v3.80l-3.27 1.90l-3.27-1.90v-3.80zM405.4 351.0l3.27 1.90v3.80l-3.27 1.90l-3.27-1.90v-3.80z"/><path fill="#c999ee" d="M315.0 162.0l3.27 1.90v3.80l-3.27 1.90l-3.27-1.90v-3.80zM280.7 178.2l3.27 1.90v3.80l-3.27 1.90l-3.27-1.90v-3.80zM246.4 183.6l3.27 1.90v3.80l-3.27 1.90l-3.27-1.90v-3.80z"/><path fill="#c898ef" d="M321.2 162.0l3.27 1.90v3.80l-3.27 1.90l-3.27-1.90v-3.80zM352.4 162.0l3.27 1.90v3.80l-3.27 1.90l-3.27-1.90v-3.80zM368.0 167.4l3.27 1.90v3.80l-3.27 1.90l-3.27-1.90v-3.80zM430.4 243.0l3.27 1.90v3.80l-3.27 1.90l-3.27-1.90v-3.80zM311.9 383.4l3.27 1.90v3.80l-3.27 1.90l-3.27-1.90v-3.80z"/><path fill="#c797ef" d="M327.5 162.0l3.27 1.90v3.80l-3.27 1.90l-3.27-1.90v-3.80zM346.2 162.0l3.27 1.90v3.80l-3.27 1.90l-3.27-1.90v-3.80zM377.4 172.8l3.27 1.90v3.80l-3.27 1.90l-3.27-1.90v-3.80zM277.6 183.6l3.27 1.90v3.80l-3.27 1.90l-3.27-1.90v-3.80zM268.2 189.0l3.27 1.90v3.80l-3.27 1.90l-3.27-1.90v-3.80zM318.1 383.4l3.27 1.90v3.80l-3.27 1.90l-3.27-1.90v-3.80z"/><path fill="#c697ef" d="M333.7 162.0l3.27 1.90v3.80l-3.27 1.90l-3.27-1.90v-3.80zM339.9 162.0l3.27 1.90v3.80l-3.27 1.90l-3.27-1.90v-3.80zM286.9 178.2l3.27 1.90v3.80l-3.27 1.90l-3.27-1.90v-3.80zM386.7 178.2l3.27 1.90v3.80l-3.27 1.90l-3.27-1.90v-3.80zM221.5 183.6l3.27 1.90v3.80l-3.27 1.90l-3.27-1.90v-3.80zM296.3 378.0l3.27 1.90v3.80l-3.27 1.90l-3.27-1.90v-3.80z"/><path fill="#ca99ee" d="M358.6 162.0l3.27 1.90v3.80l-3.27 1.90l-3.27-1.90v-3.80zM299.4 167.4l3.27 1.90v3.80l-3.27 1.90l-3.27-1.90v-3.80zM290.1 172.8l3.27 1.90v3.80l-3.27 1.90l-3.27-1.90v-3.80zM271.4 183.6l3.27 1.90v3.80l-3.27 1.90l-3.27-1.90v-3.80zM202.8 259.1l3.27 1.90v3.80l-3.27 1.90l-3.27-1.90v-3.80zM433.5 313.2l3.27 1.90v3.80l-3.27 1.90l-3.27-1.90v-3.80zM265.1 367.1l3.27 1.90v3.80l-3.27 1.90l-3.27-1.90v-3.80zM346.2 378.0l3.27 1.90v3.80l-3.27 1.90l-3.27-1.90v-3.80zM324.4 383.4l3.27 1.90v3.80l-3.27 1.90l-3.27-1.90v-3.80z"/><path fill="#d7a0ec" d="M377.4 162.0l3.27 1.90v3.80l-3.27 1.90l-3.27-1.90v-3.80zM274.5 167.4l3.27 1.90v3.80l-3.27 1.90l-3.27-1.90v-3.80zM265.1 172.8l3.27 1.90v3.80l-3.27 1.90l-3.27-1.90v-3.80zM209.0 183.6l3.27 1.90v3.80l-3.27 1.90l-3.27-1.90v-3.80zM405.4 189.0l3.27 1.90v3.80l-3.27 1.90l-3.27-1.90v-3.80z"/><path fill="#c798ef" d="M305.6 167.4l3.27 1.90v3.80l-3.27 1.90l-3.27-1.90v-3.80zM296.3 172.8l3.27 1.90v3.80l-3.27 1.90l-3.27-1.90v-3.80zM255.8 189.0l3.27 1.90v3.80l-3.27 1.90l-3.27-1.90v-3.80zM361.8 372.6l3.27 1.90v3.80l-3.27 1.90l-3.27-1.90v-3.80z"/><path fill="#c596ef" d="M311.9 167.4l3.27 1.90v3.80l-3.27 1.90l-3.27-1.90v-3.80zM361.8 167.4l3.27 1.90v3.80l-3.27 1.90l-3.27-1.90v-3.80zM202.8 248.4l3.27 1.90v3.80l-3.27 1.90l-3.27-1.90v-3.80z"/><path fill="#c396ef" d="M318.1 167.4l3.27 1.90v3.80l-3.27 1.90l-3.27-1.90v-3.80zM293.2 178.2l3.27 1.90v3.80l-3.27 1.90l-3.27-1.90v-3.80zM227.7 183.6l3.27 1.90v3.80l-3.27 1.90l-3.27-1.90v-3.80zM283.8 183.6l3.27 1.90v3.80l-3.27 1.90l-3.27-1.90v-3.80z"/><path fill="#c295f0" d="M324.4 167.4l3.27 1.90v3.80l-3.27 1.90l-3.27-1.90v-3.80zM355.5 167.4l3.27 1.90v3.80l-3.27 1.90l-3.27-1.90v-3.80zM371.1 172.8l3.27 1.90v3.80l-3.27 1.90l-3.27-1.90v-3.80zM433.5 259.1l3.27 1.90v3.80l-3.27 1.90l-3.27-1.90v-3.80zM408.5 345.6l3.27 1.90v3.80l-3.27 1.90l-3.27-1.90v-3.80zM380.5 361.8l3.27 1.90v3.80l-3.27 1.90l-3.27-1.90v-3.80z"/><path fill="#c094f0" d="M330.6 167.4l3.27 1.90v3.80l-3.27 1.90l-3.27-1.90v-3.80zM336.8 167.4l3.27 1.90v3.80l-3.27 1.90l-3.27-1.90v-3.80zM343.1 167.4l3.27 1.90v3.80l-3.27 1.90l-3.27-1.90v-3.80zM349.3 167.4l3.27 1.90v3.80l-3.27 1.90l-3.27-1.90v-3.80zM299.4 178.2l3.27 1.90v3.80l-3.27 1.90l-3.27-1.90v-3.80zM290.1 183.6l3.27 1.90v3.80l-3.27 1.90l-3.27-1.90v-3.80zM212.1 189.0l3.27 1.90v3.80l-3.27 1.90l-3.27-1.90v-3.80zM280.7 189.0l3.27 1.90v3.80l-3.27 1.90l-3.27-1.90v-3.80zM262.0 199.8l3.27 1.90v3.80l-3.27 1.90l-3.27-1.90v-3.80zM205.9 264.6l3.27 1.90v3.80l-3.27 1.90l-3.27-1.90v-3.80zM302.5 378.0l3.27 1.90v3.80l-3.27 1.90l-3.27-1.90v-3.80z"/><path fill="#d19ced" d="M277.6 172.8l3.27 1.90v3.80l-3.27 1.90l-3.27-1.90v-3.80zM230.8 178.2l3.27 1.90v3.80l-3.27 1.90l-3.27-1.90v-3.80zM433.5 248.4l3.27 1.90v3.80l-3.27 1.90l-3.27-1.90v-3.80z"/><path fill="#c496ef" d="M302.5 172.8l3.27 1.90v3.80l-3.27 1.90l-3.27-1.90v-3.80zM233.9 183.6l3.27 1.90v3.80l-3.27 1.90l-3.27-1.90v-3.80zM249.5 189.0l3.27 1.90v3.80l-3.27 1.90l-3.27-1.90v-3.80zM274.5 189.0l3.27 1.90v3.80l-3.27 1.90l-3.27-1.90v-3.80zM399.2 189.0l3.27 1.90v3.80l-3.27 1.90l-3.27-1.90v-3.80zM258.9 194.4l3.27 1.90v3.80l-3.27 1.90l-3.27-1.90v-3.80zM265.1 194.4l3.27 1.90v3.80l-3.27 1.90l-3.27-1.90v-3.80zM199.6 232.2l3.27 1.90v3.80l-3.27 1.90l-3.27-1.90v-3.80zM427.2 237.6l3.27 1.90v3.80l-3.27 1.90l-3.27-1.90v-3.80zM255.8 361.8l3.27 1.90v3.80l-3.27 1.90l-3.27-1.90v-3.80zM371.1 367.1l3.27 1.90v3.80l-3.27 1.90l-3.27-1.90v-3.80zM339.9 378.0l3.27 1.90v3.80l-3.27 1.90l-3.27-1.90v-3.80z"/><path fill="#c195f0" d="M308.8 172.8l3.27 1.90v3.80l-3.27 1.90l-3.27-1.90v-3.80zM290.1 237.6l3.27 1.90v3.80l-3.27 1.90l-3.27-1.90v-3.80zM277.6 248.4l3.27 1.90v3.80l-3.27 1.90l-3.27-1.90v-3.80zM280.7 372.6l3.27 1.90v3.80l-3.27 1.90l-3.27-1.90v-3.80zM355.5 372.6l3.27 1.90v3.80l-3.27 1.90l-3.27-1.90v-3.80zM333.7 378.0l3.27 1.90v3.80l-3.27 1.90l-3.27-1.90v-3.80z"/><path fill="#bd92f1" d="M315.0 172.8l3.27 1.90v3.80l-3.27 1.90l-3.27-1.90v-3.80zM218.4 189.0l3.27 1.90v3.80l-3.27 1.90l-3.27-1.90v-3.80zM230.8 189.0l3.27 1.90v3.80l-3.27 1.90l-3.27-1.90v-3.80zM268.2 199.8l3.27 1.90v3.80l-3.27 1.90l-3.27-1.90v-3.80zM308.8 378.0l3.27 1.90v3.80l-3.27 1.90l-3.27-1.90v-3.80z"/><path fill="#b990f1" d="M321.2 172.8l3.27 1.90v3.80l-3.27 1.90l-3.27-1.90v-3.80zM358.6 172.8l3.27 1.90v3.80l-3.27 1.90l-3.27-1.90v-3.80zM374.2 178.2l3.27 1.90v3.80l-3.27 1.90l-3.27-1.90v-3.80zM399.2 199.8l3.27 1.90v3.80l-3.27 1.90l-3.27-1.90v-3.80zM252.6 205.2l3.27 1.90v3.80l-3.27 1.90l-3.27-1.90v-3.80zM265.1 205.2l3.27 1.90v3.80l-3.27 1.90l-3.27-1.90v-3.80zM402.3 205.2l3.27 1.90v3.80l-3.27 1.90l-3.27-1.90v-3.80zM405.4 210.6l3.27 1.90v3.80l-3.27 1.90l-3.27-1.90v-3.80zM205.9 232.2l3.27 1.90v3.80l-3.27 1.90l-3.27-1.90v-3.80z"/><path fill="#b58ef2" d="M327.5 172.8l3.27 1.90v3.80l-3.27 1.90l-3.27-1.90v-3.80zM243.3 210.6l3.27 1.90v3.80l-3.27 1.90l-3.27-1.90v-3.80zM262.0 210.6l3.27 1.90v3.80l-3.27 1.90l-3.27-1.90v-3.80zM202.8 216.0l3.27 1.90v3.80l-3.27 1.90l-3.27-1.90v-3.80zM402.3 216.0l3.27 1.90v3.80l-3.27 1.90l-3.27-1.90v-3.80zM212.1 232.2l3.27 1.90v3.80l-3.27 1.90l-3.27-1.90v-3.80zM414.8 237.6l3.27 1.90v3.80l-3.27 1.90l-3.27-1.90v-3.80zM433.5 280.8l3.27 1.90v3.80l-3.27 1.90l-3.27-1.90v-3.80zM293.2 372.6l3.27 1.90v3.80l-3.27 1.90l-3.27-1.90v-3.80z"/><path fill="#ae8bf3" d="M333.7 172.8l3.27 1.90v3.80l-3.27 1.90l-3.27-1.90v-3.80zM383.6 194.4l3.27 1.90v3.80l-3.27 1.90l-3.27-1.90v-3.80zM386.7 199.8l3.27 1.90v3.80l-3.27 1.90l-3.27-1.90v-3.80zM277.6 205.2l3.27 1.90v3.80l-3.27 1.90l-3.27-1.90v-3.80zM389.8 205.2l3.27 1.90v3.80l-3.27 1.90l-3.27-1.90v-3.80zM212.1 210.6l3.27 1.90v3.80l-3.27 1.90l-3.27-1.90v-3.80zM218.4 210.6l3.27 1.90v3.80l-3.27 1.90l-3.27-1.90v-3.80zM218.4 221.4l3.27 1.90v3.80l-3.27 1.90l-3.27-1.90v-3.80zM249.5 221.4l3.27 1.90v3.80l-3.27 1.90l-3.27-1.90v-3.80zM233.9 226.8l3.27 1.90v3.80l-3.27 1.90l-3.27-1.90v-3.80zM230.8 232.2l3.27 1.90v3.80l-3.27 1.90l-3.27-1.90v-3.80zM399.2 232.2l3.27 1.90v3.80l-3.27 1.90l-3.27-1.90v-3.80z"/><path fill="#aa89f4" d="M339.9 172.8l3.27 1.90v3.80l-3.27 1.90l-3.27-1.90v-3.80zM327.5 324.0l3.27 1.90v3.80l-3.27 1.90l-3.27-1.90v-3.80zM427.2 324.0l3.27 1.90v3.80l-3.27 1.90l-3.27-1.90v-3.80zM386.7 351.0l3.27 1.90v3.80l-3.27 1.90l-3.27-1.90v-3.80z"/><path fill="#af8cf3" d="M346.2 172.8l3.27 1.90v3.80l-3.27 1.90l-3.27-1.90v-3.80zM392.9 210.6l3.27 1.90v3.80l-3.27 1.90l-3.27-1.90v-3.80zM224.6 221.4l3.27 1.90v3.80l-3.27 1.90l-3.27-1.90v-3.80zM227.7 226.8l3.27 1.90v3.80l-3.27 1.90l-3.27-1.90v-3.80zM224.6 232.2l3.27 1.90v3.80l-3.27 1.90l-3.27-1.90v-3.80zM402.3 237.6l3.27 1.90v3.80l-3.27 1.90l-3.27-1.90v-3.80zM311.9 372.6l3.27 1.90v3.80l-3.27 1.90l-3.27-1.90v-3.80zM318.1 372.6l3.27 1.90v3.80l-3.27 1.90l-3.27-1.90v-3.80z"/><path fill="#b38ef2" d="M352.4 172.8l3.27 1.90v3.80l-3.27 1.90l-3.27-1.90v-3.80zM392.9 199.8l3.27 1.90v3.80l-3.27 1.90l-3.27-1.90v-3.80zM205.9 221.4l3.27 1.90v3.80l-3.27 1.90l-3.27-1.90v-3.80zM424.1 253.8l3.27 1.90v3.80l-3.27 1.90l-3.27-1.90v-3.80z"/><path fill="#be93f0" d="M364.9 172.8l3.27 1.90v3.80l-3.27 1.90l-3.27-1.90v-3.80zM380.5 178.2l3.27 1.90v3.80l-3.27 1.90l-3.27-1.90v-3.80zM405.4 199.8l3.27 1.90v3.80l-3.27 1.90l-3.27-1.90v-3.80zM414.8 216.0l3.27 1.90v3.80l-3.27 1.90l-3.27-1.90v-3.80zM202.8 237.6l3.27 1.90v3.80l-3.27 1.90l-3.27-1.90v-3.80zM205.9 253.8l3.27 1.90v3.80l-3.27 1.90l-3.27-1.90v-3.80zM233.9 345.6l3.27 1.90v3.80l-3.27 1.90l-3.27-1.90v-3.80zM399.2 351.0l3.27 1.90v3.80l-3.27 1.90l-3.27-1.90v-3.80zM327.5 378.0l3.27 1.90v3.80l-3.27 1.90l-3.27-1.90v-3.80z"/><path fill="#b48ef2" d="M305.6 178.2l3.27 1.90v3.80l-3.27 1.90l-3.27-1.90v-3.80zM389.8 194.4l3.27 1.90v3.80l-3.27 1.90l-3.27-1.90v-3.80zM209.0 205.2l3.27 1.90v3.80l-3.27 1.90l-3.27-1.90v-3.80zM227.7 205.2l3.27 1.90v3.80l-3.27 1.90l-3.27-1.90v-3.80zM271.4 205.2l3.27 1.90v3.80l-3.27 1.90l-3.27-1.90v-3.80zM396.1 205.2l3.27 1.90v3.80l-3.27 1.90l-3.27-1.90v-3.80zM237.1 210.6l3.27 1.90v3.80l-3.27 1.90l-3.27-1.90v-3.80zM399.2 210.6l3.27 1.90v3.80l-3.27 1.90l-3.27-1.90v-3.80zM209.0 226.8l3.27 1.90v3.80l-3.27 1.90l-3.27-1.90v-3.80zM215.2 237.6l3.27 1.90v3.80l-3.27 1.90l-3.27-1.90v-3.80zM417.9 243.0l3.27 1.90v3.80l-3.27 1.90l-3.27-1.90v-3.80zM421.0 248.4l3.27 1.90v3.80l-3.27 1.90l-3.27-1.90v-3.80zM427.2 259.1l3.27 1.90v3.80l-3.27 1.90l-3.27-1.90v-3.80zM336.8 372.6l3.27 1.90v3.80l-3.27 1.90l-3.27-1.90v-3.80z"/><path fill="#a385f5" d="M311.9 178.2l3.27 1.90v3.80l-3.27 1.90l-3.27-1.90v-3.80zM321.2 324.0l3.27 1.90v3.80l-3.27 1.90l-3.27-1.90v-3.80z"/><path fill="#8f79fb" d="M318.1 178.2l3.27 1.90v3.80l-3.27 1.90l-3.27-1.90v-3.80zM355.5 361.8l3.27 1.90v3.80l-3.27 1.90l-3.27-1.90v-3.80zM296.3 367.1l3.27 1.90v3.80l-3.27 1.90l-3.27-1.90v-3.80z"/><path fill="#7d6fff" d="M324.4 178.2l3.27 1.90v3.80l-3.27 1.90l-3.27-1.90v-3.80zM240.2 345.6l3.27 1.90v3.80l-3.27 1.90l-3.27-1.90v-3.80z"/><path fill="#6868ff" d="M330.6 178.2l3.27 1.90v3.80l-3.27 1.90l-3.27-1.90v-3.80zM299.4 189.0l3.27 1.90v3.80l-3.27 1.90l-3.27-1.90v-3.80zM430.4 297.0l3.27 1.90v3.80l-3.27 1.90l-3.27-1.90v-3.80z"/><path fill="#5562ff" d="M336.8 178.2l3.27 1.90v3.80l-3.27 1.90l-3.27-1.90v-3.80z"/><path fill="#5a63ff" d="M343.1 178.2l3.27 1.90v3.80l-3.27 1.90l-3.27-1.90v-3.80zM355.5 264.6l3.27 1.90v3.80l-3.27 1.90l-3.27-1.90v-3.80zM414.8 334.8l3.27 1.90v3.80l-3.27 1.90l-3.27-1.90v-3.80z"/><path fill="#6f6aff" d="M349.3 178.2l3.27 1.90v3.80l-3.27 1.90l-3.27-1.90v-3.80zM380.5 199.8l3.27 1.90v3.80l-3.27 1.90l-3.27-1.90v-3.80zM215.2 302.4l3.27 1.90v3.80l-3.27 1.90l-3.27-1.90v-3.80zM361.8 318.6l3.27 1.90v3.80l-3.27 1.90l-3.27-1.90v-3.80z"/><path fill="#8472fe" d="M355.5 178.2l3.27 1.90v3.80l-3.27 1.90l-3.27-1.90v-3.80zM389.8 226.8l3.27 1.90v3.80l-3.27 1.90l-3.27-1.90v-3.80z"/><path fill="#a083f6" d="M361.8 178.2l3.27 1.90v3.80l-3.27 1.90l-3.27-1.90v-3.80zM233.9 237.6l3.27 1.90v3.80l-3.27 1.90l-3.27-1.90v-3.80zM399.2 243.0l3.27 1.90v3.80l-3.27 1.90l-3.27-1.90v-3.80zM262.0 361.8l3.27 1.90v3.80l-3.27 1.90l-3.27-1.90v-3.80zM339.9 367.1l3.27 1.90v3.80l-3.27 1.90l-3.27-1.90v-3.80z"/><path fill="#b28df2" d="M368.0 178.2l3.27 1.90v3.80l-3.27 1.90l-3.27-1.90v-3.80zM215.2 205.2l3.27 1.90v3.80l-3.27 1.90l-3.27-1.90v-3.80zM221.5 205.2l3.27 1.90v3.80l-3.27 1.90l-3.27-1.90v-3.80zM240.2 216.0l3.27 1.90v3.80l-3.27 1.90l-3.27-1.90v-3.80zM246.4 216.0l3.27 1.90v3.80l-3.27 1.90l-3.27-1.90v-3.80zM218.4 232.2l3.27 1.90v3.80l-3.27 1.90l-3.27-1.90v-3.80zM405.4 232.2l3.27 1.90v3.80l-3.27 1.90l-3.27-1.90v-3.80zM408.5 237.6l3.27 1.90v3.80l-3.27 1.90l-3.27-1.90v-3.80zM368.0 361.8l3.27 1.90v3.80l-3.27 1.90l-3.27-1.90v-3.80z"/><path fill="#c597ef" d="M240.2 183.6l3.27 1.90v3.80l-3.27 1.90l-3.27-1.90v-3.80zM339.9 216.0l3.27 1.90v3.80l-3.27 1.90l-3.27-1.90v-3.80zM212.1 307.8l3.27 1.90v3.80l-3.27 1.90l-3.27-1.90v-3.80z"/><path fill="#cc9aee" d="M252.6 183.6l3.27 1.90v3.80l-3.27 1.90l-3.27-1.90v-3.80zM290.1 378.0l3.27 1.90v3.80l-3.27 1.90l-3.27-1.90v-3.80zM305.6 383.4l3.27 1.90v3.80l-3.27 1.90l-3.27-1.90v-3.80z"/><path fill="#b68ff2" d="M296.3 183.6l3.27 1.90v3.80l-3.27 1.90l-3.27-1.90v-3.80zM386.7 189.0l3.27 1.90v3.80l-3.27 1.90l-3.27-1.90v-3.80zM283.8 194.4l3.27 1.90v3.80l-3.27 1.90l-3.27-1.90v-3.80zM218.4 199.8l3.27 1.90v3.80l-3.27 1.90l-3.27-1.90v-3.80zM233.9 205.2l3.27 1.90v3.80l-3.27 1.90l-3.27-1.90v-3.80zM255.8 210.6l3.27 1.90v3.80l-3.27 1.90l-3.27-1.90v-3.80zM408.5 226.8l3.27 1.90v3.80l-3.27 1.90l-3.27-1.90v-3.80zM411.7 232.2l3.27 1.90v3.80l-3.27 1.90l-3.27-1.90v-3.80zM212.1 243.0l3.27 1.90v3.80l-3.27 1.90l-3.27-1.90v-3.80zM364.9 313.2l3.27 1.90v3.80l-3.27 1.90l-3.27-1.90v-3.80zM358.6 367.1l3.27 1.90v3.80l-3.27 1.90l-3.27-1.90v-3.80z"/><path fill="#8a76fc" d="M302.5 183.6l3.27 1.90v3.80l-3.27 1.90l-3.27-1.90v-3.80z"/><path fill="#6b69ff" d="M308.8 183.6l3.27 1.90v3.80l-3.27 1.90l-3.27-1.90v-3.80zM392.9 243.0l3.27 1.90v3.80l-3.27 1.90l-3.27-1.90v-3.80z"/><path fill="#465bff" d="M315.0 183.6l3.27 1.90v3.80l-3.27 1.90l-3.27-1.90v-3.80z"/><path fill="#1c49ff" d="M321.2 183.6l3.27 1.90v3.80l-3.27 1.90l-3.27-1.90v-3.80zM421.0 302.4l3.27 1.90v3.80l-3.27 1.90l-3.27-1.90v-3.80zM305.6 361.8l3.27 1.90v3.80l-3.27 1.90l-3.27-1.90v-3.80z"/><path fill="#0843ff" d="M327.5 183.6l3.27 1.90v3.80l-3.27 1.90l-3.27-1.90v-3.80zM224.6 253.8l3.27 1.90v3.80l-3.27 1.90l-3.27-1.90v-3.80zM402.3 259.1l3.27 1.90v3.80l-3.27 1.90l-3.27-1.90v-3.80zM414.8 280.8l3.27 1.90v3.80l-3.27 1.90l-3.27-1.90v-3.80z"/><path fill="#084eff" d="M333.7 183.6l3.27 1.90v3.80l-3.27 1.90l-3.27-1.90v-3.80zM355.5 221.4l3.27 1.90v3.80l-3.27 1.90l-3.27-1.90v-3.80zM352.4 356.4l3.27 1.90v3.80l-3.27 1.90l-3.27-1.90v-3.80z"/><path fill="#0853ff" d="M339.9 183.6l3.27 1.90v3.80l-3.27 1.90l-3.27-1.90v-3.80zM361.8 189.0l3.27 1.90v3.80l-3.27 1.90l-3.27-1.90v-3.80zM265.1 226.8l3.27 1.90v3.80l-3.27 1.90l-3.27-1.90v-3.80zM221.5 302.4l3.27 1.90v3.80l-3.27 1.90l-3.27-1.90v-3.80z"/><path fill="#084bff" d="M346.2 183.6l3.27 1.90v3.80l-3.27 1.90l-3.27-1.90v-3.80zM321.2 216.0l3.27 1.90v3.80l-3.27 1.90l-3.27-1.90v-3.80zM408.5 324.0l3.27 1.90v3.80l-3.27 1.90l-3.27-1.90v-3.80z"/><path fill="#0841ff" d="M352.4 183.6l3.27 1.90v3.80l-3.27 1.90l-3.27-1.90v-3.80zM290.1 205.2l3.27 1.90v3.80l-3.27 1.90l-3.27-1.90v-3.80zM277.6 216.0l3.27 1.90v3.80l-3.27 1.90l-3.27-1.90v-3.80zM262.0 264.6l3.27 1.90v3.80l-3.27 1.90l-3.27-1.90v-3.80zM271.4 313.2l3.27 1.90v3.80l-3.27 1.90l-3.27-1.90v-3.80z"/><path fill="#3d57ff" d="M358.6 183.6l3.27 1.90v3.80l-3.27 1.90l-3.27-1.90v-3.80zM230.8 329.4l3.27 1.90v3.80l-3.27 1.90l-3.27-1.90v-3.80z"/><path fill="#7e6fff" d="M364.9 183.6l3.27 1.90v3.80l-3.27 1.90l-3.27-1.90v-3.80zM271.4 216.0l3.27 1.90v3.80l-3.27 1.90l-3.27-1.90v-3.80zM308.8 324.0l3.27 1.90v3.80l-3.27 1.90l-3.27-1.90v-3.80z"/><path fill="#a586f5" d="M371.1 183.6l3.27 1.90v3.80l-3.27 1.90l-3.27-1.90v-3.80zM389.8 216.0l3.27 1.90v3.80l-3.27 1.90l-3.27-1.90v-3.80z"/><path fill="#b38df2" d="M377.4 183.6l3.27 1.90v3.80l-3.27 1.90l-3.27-1.90v-3.80zM205.9 210.6l3.27 1.90v3.80l-3.27 1.90l-3.27-1.90v-3.80zM230.8 210.6l3.27 1.90v3.80l-3.27 1.90l-3.27-1.90v-3.80zM212.1 253.8l3.27 1.90v3.80l-3.27 1.90l-3.27-1.90v-3.80zM299.4 372.6l3.27 1.90v3.80l-3.27 1.90l-3.27-1.90v-3.80zM330.6 372.6l3.27 1.90v3.80l-3.27 1.90l-3.27-1.90v-3.80z"/><path fill="#ba91f1" d="M383.6 183.6l3.27 1.90v3.80l-3.27 1.90l-3.27-1.90v-3.80zM286.9 189.0l3.27 1.90v3.80l-3.27 1.90l-3.27-1.90v-3.80zM221.5 194.4l3.27 1.90v3.80l-3.27 1.90l-3.27-1.90v-3.80zM227.7 194.4l3.27 1.90v3.80l-3.27 1.90l-3.27-1.90v-3.80zM396.1 194.4l3.27 1.90v3.80l-3.27 1.90l-3.27-1.90v-3.80zM205.9 199.8l3.27 1.90v3.80l-3.27 1.90l-3.27-1.90v-3.80zM243.3 199.8l3.27 1.90v3.80l-3.27 1.90l-3.27-1.90v-3.80zM258.9 205.2l3.27 1.90v3.80l-3.27 1.90l-3.27-1.90v-3.80zM408.5 216.0l3.27 1.90v3.80l-3.27 1.90l-3.27-1.90v-3.80zM411.7 221.4l3.27 1.90v3.80l-3.27 1.90l-3.27-1.90v-3.80zM414.8 226.8l3.27 1.90v3.80l-3.27 1.90l-3.27-1.90v-3.80zM417.9 232.2l3.27 1.90v3.80l-3.27 1.90l-3.27-1.90v-3.80zM421.0 237.6l3.27 1.90v3.80l-3.27 1.90l-3.27-1.90v-3.80zM424.1 243.0l3.27 1.90v3.80l-3.27 1.90l-3.27-1.90v-3.80zM374.2 361.8l3.27 1.90v3.80l-3.27 1.90l-3.27-1.90v-3.80z"/><path fill="#bf94f0" d="M389.8 183.6l3.27 1.90v3.80l-3.27 1.90l-3.27-1.90v-3.80zM243.3 189.0l3.27 1.90v3.80l-3.27 1.90l-3.27-1.90v-3.80zM389.8 356.4l3.27 1.90v3.80l-3.27 1.90l-3.27-1.90v-3.80z"/><path fill="#cb9aee" d="M396.1 183.6l3.27 1.90v3.80l-3.27 1.90l-3.27-1.90v-3.80z"/><path fill="#bc92f1" d="M224.6 189.0l3.27 1.90v3.80l-3.27 1.90l-3.27-1.90v-3.80zM240.2 194.4l3.27 1.90v3.80l-3.27 1.90l-3.27-1.90v-3.80zM277.6 194.4l3.27 1.90v3.80l-3.27 1.90l-3.27-1.90v-3.80zM333.7 216.0l3.27 1.90v3.80l-3.27 1.90l-3.27-1.90v-3.80zM430.4 253.8l3.27 1.90v3.80l-3.27 1.90l-3.27-1.90v-3.80zM433.5 270.0l3.27 1.90v3.80l-3.27 1.90l-3.27-1.90v-3.80zM364.9 367.1l3.27 1.90v3.80l-3.27 1.90l-3.27-1.90v-3.80zM321.2 378.0l3.27 1.90v3.80l-3.27 1.90l-3.27-1.90v-3.80z"/><path fill="#bd93f0" d="M237.1 189.0l3.27 1.90v3.80l-3.27 1.90l-3.27-1.90v-3.80zM209.0 194.4l3.27 1.90v3.80l-3.27 1.90l-3.27-1.90v-3.80zM246.4 194.4l3.27 1.90v3.80l-3.27 1.90l-3.27-1.90v-3.80zM255.8 199.8l3.27 1.90v3.80l-3.27 1.90l-3.27-1.90v-3.80z"/><path fill="#c998ef" d="M262.0 189.0l3.27 1.90v3.80l-3.27 1.90l-3.27-1.90v-3.80zM205.9 286.1l3.27 1.90v3.80l-3.27 1.90l-3.27-1.90v-3.80zM246.4 356.4l3.27 1.90v3.80l-3.27 1.90l-3.27-1.90v-3.80zM396.1 356.4l3.27 1.90v3.80l-3.27 1.90l-3.27-1.90v-3.80z"/><path fill="#ab89f4" d="M293.2 189.0l3.27 1.90v3.80l-3.27 1.90l-3.27-1.90v-3.80z"/><path fill="#0846ff" d="M305.6 189.0l3.27 1.90v3.80l-3.27 1.90l-3.27-1.90v-3.80zM411.7 275.4l3.27 1.90v3.80l-3.27 1.90l-3.27-1.90v-3.80zM414.8 313.2l3.27 1.90v3.80l-3.27 1.90l-3.27-1.90v-3.80zM296.3 324.0l3.27 1.90v3.80l-3.27 1.90l-3.27-1.90v-3.80zM243.3 340.1l3.27 1.90v3.80l-3.27 1.90l-3.27-1.90v-3.80zM386.7 340.1l3.27 1.90v3.80l-3.27 1.90l-3.27-1.90v-3.80z"/><path fill="#0857ff" d="M311.9 189.0l3.27 1.90v3.80l-3.27 1.90l-3.27-1.90v-3.80zM233.9 248.4l3.27 1.90v3.80l-3.27 1.90l-3.27-1.90v-3.80zM268.2 253.8l3.27 1.90v3.80l-3.27 1.90l-3.27-1.90v-3.80z"/><path fill="#0c6cff" d="M318.1 189.0l3.27 1.90v3.80l-3.27 1.90l-3.27-1.90v-3.80zM399.2 264.6l3.27 1.90v3.80l-3.27 1.90l-3.27-1.90v-3.80z"/><path fill="#107fff" d="M324.4 189.0l3.27 1.90v3.80l-3.27 1.90l-3.27-1.90v-3.80zM271.4 226.8l3.27 1.90v3.80l-3.27 1.90l-3.27-1.90v-3.80zM271.4 248.4l3.27 1.90v3.80l-3.27 1.90l-3.27-1.90v-3.80zM324.4 329.4l3.27 1.90v3.80l-3.27 1.90l-3.27-1.90v-3.80zM330.6 329.4l3.27 1.90v3.80l-3.27 1.90l-3.27-1.90v-3.80z"/><path fill="#108aff" d="M330.6 189.0l3.27 1.90v3.80l-3.27 1.90l-3.27-1.90v-3.80zM349.3 189.0l3.27 1.90v3.80l-3.27 1.90l-3.27-1.90v-3.80zM374.2 210.6l3.27 1.90v3.80l-3.27 1.90l-3.27-1.90v-3.80zM255.8 286.1l3.27 1.90v3.80l-3.27 1.90l-3.27-1.90v-3.80z"/><path fill="#1093ff" d="M336.8 189.0l3.27 1.90v3.80l-3.27 1.90l-3.27-1.90v-3.80zM343.1 189.0l3.27 1.90v3.80l-3.27 1.90l-3.27-1.90v-3.80zM361.8 264.6l3.27 1.90v3.80l-3.27 1.90l-3.27-1.90v-3.80zM399.2 275.4l3.27 1.90v3.80l-3.27 1.90l-3.27-1.90v-3.80z"/><path fill="#107eff" d="M355.5 189.0l3.27 1.90v3.80l-3.27 1.90l-3.27-1.90v-3.80zM377.4 216.0l3.27 1.90v3.80l-3.27 1.90l-3.27-1.90v-3.80zM408.5 291.6l3.27 1.90v3.80l-3.27 1.90l-3.27-1.90v-3.80zM268.2 351.0l3.27 1.90v3.80l-3.27 1.90l-3.27-1.90v-3.80z"/><path fill="#3755ff" d="M368.0 189.0l3.27 1.90v3.80l-3.27 1.90l-3.27-1.90v-3.80zM293.2 232.2l3.27 1.90v3.80l-3.27 1.90l-3.27-1.90v-3.80z"/><path fill="#8c77fc" d="M374.2 189.0l3.27 1.90v3.80l-3.27 1.90l-3.27-1.90v-3.80zM383.6 205.2l3.27 1.90v3.80l-3.27 1.90l-3.27-1.90v-3.80zM262.0 221.4l3.27 1.90v3.80l-3.27 1.90l-3.27-1.90v-3.80zM355.5 232.2l3.27 1.90v3.80l-3.27 1.90l-3.27-1.90v-3.80zM349.3 253.8l3.27 1.90v3.80l-3.27 1.90l-3.27-1.90v-3.80z"/><path fill="#af8bf3" d="M380.5 189.0l3.27 1.90v3.80l-3.27 1.90l-3.27-1.90v-3.80zM209.0 216.0l3.27 1.90v3.80l-3.27 1.90l-3.27-1.90v-3.80zM212.1 221.4l3.27 1.90v3.80l-3.27 1.90l-3.27-1.90v-3.80zM411.7 243.0l3.27 1.90v3.80l-3.27 1.90l-3.27-1.90v-3.80z"/><path fill="#bb91f1" d="M392.9 189.0l3.27 1.90v3.80l-3.27 1.90l-3.27-1.90v-3.80zM215.2 194.4l3.27 1.90v3.80l-3.27 1.90l-3.27-1.90v-3.80zM233.9 194.4l3.27 1.90v3.80l-3.27 1.90l-3.27-1.90v-3.80zM202.8 205.2l3.27 1.90v3.80l-3.27 1.90l-3.27-1.90v-3.80zM427.2 248.4l3.27 1.90v3.80l-3.27 1.90l-3.27-1.90v-3.80zM262.0 286.1l3.27 1.90v3.80l-3.27 1.90l-3.27-1.90v-3.80zM315.0 378.0l3.27 1.90v3.80l-3.27 1.90l-3.27-1.90v-3.80z"/><path fill="#eabbe2" d="M190.3 194.4l3.27 1.90v3.80l-3.27 1.90l-3.27-1.90v-3.80zM399.2 372.6l3.27 1.90v3.80l-3.27 1.90l-3.27-1.90v-3.80z"/><path fill="#c194f0" d="M252.6 194.4l3.27 1.90v3.80l-3.27 1.90l-3.27-1.90v-3.80zM271.4 194.4l3.27 1.90v3.80l-3.27 1.90l-3.27-1.90v-3.80zM402.3 194.4l3.27 1.90v3.80l-3.27 1.90l-3.27-1.90v-3.80zM199.6 210.6l3.27 1.90v3.80l-3.27 1.90l-3.27-1.90v-3.80zM424.1 232.2l3.27 1.90v3.80l-3.27 1.90l-3.27-1.90v-3.80z"/><path fill="#a687f4" d="M290.1 194.4l3.27 1.90v3.80l-3.27 1.90l-3.27-1.90v-3.80zM361.8 275.4l3.27 1.90v3.80l-3.27 1.90l-3.27-1.90v-3.80z"/><path fill="#5863ff" d="M296.3 194.4l3.27 1.90v3.80l-3.27 1.90l-3.27-1.90v-3.80zM262.0 297.0l3.27 1.90v3.80l-3.27 1.90l-3.27-1.90v-3.80z"/><path fill="#085aff" d="M302.5 194.4l3.27 1.90v3.80l-3.27 1.90l-3.27-1.90v-3.80z"/><path fill="#1081ff" d="M308.8 194.4l3.27 1.90v3.80l-3.27 1.90l-3.27-1.90v-3.80zM315.0 216.0l3.27 1.90v3.80l-3.27 1.90l-3.27-1.90v-3.80zM227.7 259.1l3.27 1.90v3.80l-3.27 1.90l-3.27-1.90v-3.80z"/><path fill="#1092ff" d="M315.0 194.4l3.27 1.90v3.80l-3.27 1.90l-3.27-1.90v-3.80zM374.2 286.1l3.27 1.90v3.80l-3.27 1.90l-3.27-1.90v-3.80zM230.8 307.8l3.27 1.90v3.80l-3.27 1.90l-3.27-1.90v-3.80zM405.4 307.8l3.27 1.90v3.80l-3.27 1.90l-3.27-1.90v-3.80zM349.3 329.4l3.27 1.90v3.80l-3.27 1.90l-3.27-1.90v-3.80zM355.5 351.0l3.27 1.90v3.80l-3.27 1.90l-3.27-1.90v-3.80z"/><path fill="#12a3ff" d="M321.2 194.4l3.27 1.90v3.80l-3.27 1.90l-3.27-1.90v-3.80zM305.6 199.8l3.27 1.90v3.80l-3.27 1.90l-3.27-1.90v-3.80zM402.3 291.6l3.27 1.90v3.80l-3.27 1.90l-3.27-1.90v-3.80z"/><path fill="#19aeff" d="M327.5 194.4l3.27 1.90v3.80l-3.27 1.90l-3.27-1.90v-3.80zM374.2 221.4l3.27 1.90v3.80l-3.27 1.90l-3.27-1.90v-3.80zM268.2 318.6l3.27 1.90v3.80l-3.27 1.90l-3.27-1.90v-3.80zM293.2 351.0l3.27 1.90v3.80l-3.27 1.90l-3.27-1.90v-3.80z"/><path fill="#24beff" d="M333.7 194.4l3.27 1.90v3.80l-3.27 1.90l-3.27-1.90v-3.80zM392.9 318.6l3.27 1.90v3.80l-3.27 1.90l-3.27-1.90v-3.80zM321.2 334.8l3.27 1.90v3.80l-3.27 1.90l-3.27-1.90v-3.80zM339.9 334.8l3.27 1.90v3.80l-3.27 1.90l-3.27-1.90v-3.80zM324.4 351.0l3.27 1.90v3.80l-3.27 1.90l-3.27-1.90v-3.80z"/><path fill="#29c6ff" d="M339.9 194.4l3.27 1.90v3.80l-3.27 1.90l-3.27-1.90v-3.80zM364.9 259.1l3.27 1.90v3.80l-3.27 1.90l-3.27-1.90v-3.80zM252.6 302.4l3.27 1.90v3.80l-3.27 1.90l-3.27-1.90v-3.80zM243.3 318.6l3.27 1.90v3.80l-3.27 1.90l-3.27-1.90v-3.80z"/><path fill="#25c0ff" d="M346.2 194.4l3.27 1.90v3.80l-3.27 1.90l-3.27-1.90v-3.80zM374.2 275.4l3.27 1.90v3.80l-3.27 1.90l-3.27-1.90v-3.80zM246.4 324.0l3.27 1.90v3.80l-3.27 1.90l-3.27-1.90v-3.80zM346.2 334.8l3.27 1.90v3.80l-3.27 1.90l-3.27-1.90v-3.80z"/><path fill="#1fb6ff" d="M352.4 194.4l3.27 1.90v3.80l-3.27 1.90l-3.27-1.90v-3.80zM252.6 270.0l3.27 1.90v3.80l-3.27 1.90l-3.27-1.90v-3.80z"/><path fill="#15a8ff" d="M358.6 194.4l3.27 1.90v3.80l-3.27 1.90l-3.27-1.90v-3.80zM402.3 302.4l3.27 1.90v3.80l-3.27 1.90l-3.27-1.90v-3.80z"/><path fill="#0e78ff" d="M364.9 194.4l3.27 1.90v3.80l-3.27 1.90l-3.27-1.90v-3.80zM230.8 253.8l3.27 1.90v3.80l-3.27 1.90l-3.27-1.90v-3.80zM252.6 345.6l3.27 1.90v3.80l-3.27 1.90l-3.27-1.90v-3.80z"/><path fill="#1646ff" d="M371.1 194.4l3.27 1.90v3.80l-3.27 1.90l-3.27-1.90v-3.80zM380.5 210.6l3.27 1.90v3.80l-3.27 1.90l-3.27-1.90v-3.80z"/><path fill="#8171ff" d="M377.4 194.4l3.27 1.90v3.80l-3.27 1.90l-3.27-1.90v-3.80zM430.4 286.1l3.27 1.90v3.80l-3.27 1.90l-3.27-1.90v-3.80zM315.0 367.1l3.27 1.90v3.80l-3.27 1.90l-3.27-1.90v-3.80z"/><path fill="#b78ff2" d="M212.1 199.8l3.27 1.90v3.80l-3.27 1.90l-3.27-1.90v-3.80zM224.6 199.8l3.27 1.90v3.80l-3.27 1.90l-3.27-1.90v-3.80zM240.2 205.2l3.27 1.90v3.80l-3.27 1.90l-3.27-1.90v-3.80zM209.0 259.1l3.27 1.90v3.80l-3.27 1.90l-3.27-1.90v-3.80zM430.4 264.6l3.27 1.90v3.80l-3.27 1.90l-3.27-1.90v-3.80zM383.6 356.4l3.27 1.90v3.80l-3.27 1.90l-3.27-1.90v-3.80z"/><path fill="#b890f1" d="M230.8 199.8l3.27 1.90v3.80l-3.27 1.90l-3.27-1.90v-3.80zM237.1 199.8l3.27 1.90v3.80l-3.27 1.90l-3.27-1.90v-3.80zM274.5 199.8l3.27 1.90v3.80l-3.27 1.90l-3.27-1.90v-3.80zM246.4 205.2l3.27 1.90v3.80l-3.27 1.90l-3.27-1.90v-3.80zM209.0 237.6l3.27 1.90v3.80l-3.27 1.90l-3.27-1.90v-3.80zM209.0 248.4l3.27 1.90v3.80l-3.27 1.90l-3.27-1.90v-3.80z"/><path fill="#bb92f1" d="M249.5 199.8l3.27 1.90v3.80l-3.27 1.90l-3.27-1.90v-3.80zM205.9 243.0l3.27 1.90v3.80l-3.27 1.90l-3.27-1.90v-3.80zM349.3 372.6l3.27 1.90v3.80l-3.27 1.90l-3.27-1.90v-3.80z"/><path fill="#b18cf3" d="M280.7 199.8l3.27 1.90v3.80l-3.27 1.90l-3.27-1.90v-3.80zM224.6 210.6l3.27 1.90v3.80l-3.27 1.90l-3.27-1.90v-3.80zM268.2 210.6l3.27 1.90v3.80l-3.27 1.90l-3.27-1.90v-3.80zM252.6 216.0l3.27 1.90v3.80l-3.27 1.90l-3.27-1.90v-3.80zM399.2 221.4l3.27 1.90v3.80l-3.27 1.90l-3.27-1.90v-3.80zM305.6 372.6l3.27 1.90v3.80l-3.27 1.90l-3.27-1.90v-3.80zM324.4 372.6l3.27 1.90v3.80l-3.27 1.90l-3.27-1.90v-3.80z"/><path fill="#987ef8" d="M286.9 199.8l3.27 1.90v3.80l-3.27 1.90l-3.27-1.90v-3.80z"/><path fill="#2d51ff" d="M293.2 199.8l3.27 1.90v3.80l-3.27 1.90l-3.27-1.90v-3.80z"/><path fill="#0d71ff" d="M299.4 199.8l3.27 1.90v3.80l-3.27 1.90l-3.27-1.90v-3.80zM402.3 324.0l3.27 1.90v3.80l-3.27 1.90l-3.27-1.90v-3.80z"/><path fill="#24bdff" d="M311.9 199.8l3.27 1.90v3.80l-3.27 1.90l-3.27-1.90v-3.80zM327.5 334.8l3.27 1.90v3.80l-3.27 1.90l-3.27-1.90v-3.80zM311.9 351.0l3.27 1.90v3.80l-3.27 1.90l-3.27-1.90v-3.80z"/><path fill="#32d7ff" d="M318.1 199.8l3.27 1.90v3.80l-3.27 1.90l-3.27-1.90v-3.80zM380.5 286.1l3.27 1.90v3.80l-3.27 1.90l-3.27-1.90v-3.80z"/><path fill="#38e8ff" d="M324.4 199.8l3.27 1.90v3.80l-3.27 1.90l-3.27-1.90v-3.80zM352.4 205.2l3.27 1.90v3.80l-3.27 1.90l-3.27-1.90v-3.80zM364.9 248.4l3.27 1.90v3.80l-3.27 1.90l-3.27-1.90v-3.80zM246.4 270.0l3.27 1.90v3.80l-3.27 1.90l-3.27-1.90v-3.80zM389.8 280.8l3.27 1.90v3.80l-3.27 1.90l-3.27-1.90v-3.80zM392.9 307.8l3.27 1.90v3.80l-3.27 1.90l-3.27-1.90v-3.80z"/><path fill="#38eeff" d="M330.6 199.8l3.27 1.90v3.80l-3.27 1.90l-3.27-1.90v-3.80zM321.2 205.2l3.27 1.90v3.80l-3.27 1.90l-3.27-1.90v-3.80zM240.2 302.4l3.27 1.90v3.80l-3.27 1.90l-3.27-1.90v-3.80zM246.4 302.4l3.27 1.90v3.80l-3.27 1.90l-3.27-1.90v-3.80zM249.5 318.6l3.27 1.90v3.80l-3.27 1.90l-3.27-1.90v-3.80zM386.7 318.6l3.27 1.90v3.80l-3.27 1.90l-3.27-1.90v-3.80zM277.6 334.8l3.27 1.90v3.80l-3.27 1.90l-3.27-1.90v-3.80zM311.9 340.1l3.27 1.90v3.80l-3.27 1.90l-3.27-1.90v-3.80zM321.2 345.6l3.27 1.90v3.80l-3.27 1.90l-3.27-1.90v-3.80zM327.5 345.6l3.27 1.90v3.80l-3.27 1.90l-3.27-1.90v-3.80zM339.9 345.6l3.27 1.90v3.80l-3.27 1.90l-3.27-1.90v-3.80zM346.2 345.6l3.27 1.90v3.80l-3.27 1.90l-3.27-1.90v-3.80z"/><path fill="#38f0ff" d="M336.8 199.8l3.27 1.90v3.80l-3.27 1.90l-3.27-1.90v-3.80zM343.1 199.8l3.27 1.90v3.80l-3.27 1.90l-3.27-1.90v-3.80zM315.0 205.2l3.27 1.90v3.80l-3.27 1.90l-3.27-1.90v-3.80zM358.6 205.2l3.27 1.90v3.80l-3.27 1.90l-3.27-1.90v-3.80zM361.8 210.6l3.27 1.90v3.80l-3.27 1.90l-3.27-1.90v-3.80zM377.4 259.1l3.27 1.90v3.80l-3.27 1.90l-3.27-1.90v-3.80zM380.5 264.6l3.27 1.90v3.80l-3.27 1.90l-3.27-1.90v-3.80zM240.2 280.8l3.27 1.90v3.80l-3.27 1.90l-3.27-1.90v-3.80zM243.3 297.0l3.27 1.90v3.80l-3.27 1.90l-3.27-1.90v-3.80zM268.2 329.4l3.27 1.90v3.80l-3.27 1.90l-3.27-1.90v-3.80z"/><path fill="#38efff" d="M349.3 199.8l3.27 1.90v3.80l-3.27 1.90l-3.27-1.90v-3.80zM305.6 210.6l3.27 1.90v3.80l-3.27 1.90l-3.27-1.90v-3.80zM364.9 216.0l3.27 1.90v3.80l-3.27 1.90l-3.27-1.90v-3.80zM368.0 232.2l3.27 1.90v3.80l-3.27 1.90l-3.27-1.90v-3.80zM383.6 270.0l3.27 1.90v3.80l-3.27 1.90l-3.27-1.90v-3.80zM255.8 318.6l3.27 1.90v3.80l-3.27 1.90l-3.27-1.90v-3.80zM305.6 340.1l3.27 1.90v3.80l-3.27 1.90l-3.27-1.90v-3.80zM333.7 345.6l3.27 1.90v3.80l-3.27 1.90l-3.27-1.90v-3.80z"/><path fill="#38ecff" d="M355.5 199.8l3.27 1.90v3.80l-3.27 1.90l-3.27-1.90v-3.80zM243.3 275.4l3.27 1.90v3.80l-3.27 1.90l-3.27-1.90v-3.80zM380.5 275.4l3.27 1.90v3.80l-3.27 1.90l-3.27-1.90v-3.80zM249.5 307.8l3.27 1.90v3.80l-3.27 1.90l-3.27-1.90v-3.80zM252.6 313.2l3.27 1.90v3.80l-3.27 1.90l-3.27-1.90v-3.80zM265.1 334.8l3.27 1.90v3.80l-3.27 1.90l-3.27-1.90v-3.80zM324.4 340.1l3.27 1.90v3.80l-3.27 1.90l-3.27-1.90v-3.80zM330.6 340.1l3.27 1.90v3.80l-3.27 1.90l-3.27-1.90v-3.80zM343.1 340.1l3.27 1.90v3.80l-3.27 1.90l-3.27-1.90v-3.80zM349.3 340.1l3.27 1.90v3.80l-3.27 1.90l-3.27-1.90v-3.80z"/><path fill="#28c4ff" d="M361.8 199.8l3.27 1.90v3.80l-3.27 1.90l-3.27-1.90v-3.80zM302.5 205.2l3.27 1.90v3.80l-3.27 1.90l-3.27-1.90v-3.80zM318.1 210.6l3.27 1.90v3.80l-3.27 1.90l-3.27-1.90v-3.80zM268.2 243.0l3.27 1.90v3.80l-3.27 1.90l-3.27-1.90v-3.80zM249.5 275.4l3.27 1.90v3.80l-3.27 1.90l-3.27-1.90v-3.80zM255.8 307.8l3.27 1.90v3.80l-3.27 1.90l-3.27-1.90v-3.80zM308.8 334.8l3.27 1.90v3.80l-3.27 1.90l-3.27-1.90v-3.80z"/><path fill="#1091ff" d="M368.0 199.8l3.27 1.90v3.80l-3.27 1.90l-3.27-1.90v-3.80zM396.1 324.0l3.27 1.90v3.80l-3.27 1.90l-3.27-1.90v-3.80zM371.1 345.6l3.27 1.90v3.80l-3.27 1.90l-3.27-1.90v-3.80zM274.5 351.0l3.27 1.90v3.80l-3.27 1.90l-3.27-1.90v-3.80z"/><path fill="#084aff" d="M374.2 199.8l3.27 1.90v3.80l-3.27 1.90l-3.27-1.90v-3.80zM258.9 291.6l3.27 1.90v3.80l-3.27 1.90l-3.27-1.90v-3.80zM411.7 318.6l3.27 1.90v3.80l-3.27 1.90l-3.27-1.90v-3.80z"/><path fill="#e1ace7" d="M417.9 199.8l3.27 1.90v3.80l-3.27 1.90l-3.27-1.90v-3.80zM430.4 221.4l3.27 1.90v3.80l-3.27 1.90l-3.27-1.90v-3.80zM224.6 351.0l3.27 1.90v3.80l-3.27 1.90l-3.27-1.90v-3.80z"/><path fill="#8372fe" d="M283.8 205.2l3.27 1.90v3.80l-3.27 1.90l-3.27-1.90v-3.80zM308.8 367.1l3.27 1.90v3.80l-3.27 1.90l-3.27-1.90v-3.80z"/><path fill="#1085ff" d="M296.3 205.2l3.27 1.90v3.80l-3.27 1.90l-3.27-1.90v-3.80zM240.2 248.4l3.27 1.90v3.80l-3.27 1.90l-3.27-1.90v-3.80zM221.5 280.8l3.27 1.90v3.80l-3.27 1.90l-3.27-1.90v-3.80zM318.1 329.4l3.27 1.90v3.80l-3.27 1.90l-3.27-1.90v-3.80zM302.5 356.4l3.27 1.90v3.80l-3.27 1.90l-3.27-1.90v-3.80zM327.5 356.4l3.27 1.90v3.80l-3.27 1.90l-3.27-1.90v-3.80z"/><path fill="#38e9ff" d="M308.8 205.2l3.27 1.90v3.80l-3.27 1.90l-3.27-1.90v-3.80zM327.5 205.2l3.27 1.90v3.80l-3.27 1.90l-3.27-1.90v-3.80zM371.1 237.6l3.27 1.90v3.80l-3.27 1.90l-3.27-1.90v-3.80zM258.9 248.4l3.27 1.90v3.80l-3.27 1.90l-3.27-1.90v-3.80zM265.1 324.0l3.27 1.90v3.80l-3.27 1.90l-3.27-1.90v-3.80zM368.0 329.4l3.27 1.90v3.80l-3.27 1.90l-3.27-1.90v-3.80zM358.6 334.8l3.27 1.90v3.80l-3.27 1.90l-3.27-1.90v-3.80zM274.5 340.1l3.27 1.90v3.80l-3.27 1.90l-3.27-1.90v-3.80z"/><path fill="#32d5ff" d="M333.7 205.2l3.27 1.90v3.80l-3.27 1.90l-3.27-1.90v-3.80zM371.1 324.0l3.27 1.90v3.80l-3.27 1.90l-3.27-1.90v-3.80z"/><path fill="#2fcfff" d="M339.9 205.2l3.27 1.90v3.80l-3.27 1.90l-3.27-1.90v-3.80zM355.5 210.6l3.27 1.90v3.80l-3.27 1.90l-3.27-1.90v-3.80zM293.2 221.4l3.27 1.90v3.80l-3.27 1.90l-3.27-1.90v-3.80z"/><path fill="#32d6ff" d="M346.2 205.2l3.27 1.90v3.80l-3.27 1.90l-3.27-1.90v-3.80z"/><path fill="#2ecdff" d="M364.9 205.2l3.27 1.90v3.80l-3.27 1.90l-3.27-1.90v-3.80zM290.1 216.0l3.27 1.90v3.80l-3.27 1.90l-3.27-1.90v-3.80zM302.5 216.0l3.27 1.90v3.80l-3.27 1.90l-3.27-1.90v-3.80z"/><path fill="#1097ff" d="M371.1 205.2l3.27 1.90v3.80l-3.27 1.90l-3.27-1.90v-3.80zM389.8 259.1l3.27 1.90v3.80l-3.27 1.90l-3.27-1.90v-3.80zM233.9 313.2l3.27 1.90v3.80l-3.27 1.90l-3.27-1.90v-3.80zM240.2 324.0l3.27 1.90v3.80l-3.27 1.90l-3.27-1.90v-3.80zM258.9 345.6l3.27 1.90v3.80l-3.27 1.90l-3.27-1.90v-3.80z"/><path fill="#0845ff" d="M377.4 205.2l3.27 1.90v3.80l-3.27 1.90l-3.27-1.90v-3.80zM417.9 297.0l3.27 1.90v3.80l-3.27 1.90l-3.27-1.90v-3.80z"/><path fill="#bf93f0" d="M408.5 205.2l3.27 1.90v3.80l-3.27 1.90l-3.27-1.90v-3.80zM411.7 210.6l3.27 1.90v3.80l-3.27 1.90l-3.27-1.90v-3.80zM199.6 221.4l3.27 1.90v3.80l-3.27 1.90l-3.27-1.90v-3.80zM417.9 221.4l3.27 1.90v3.80l-3.27 1.90l-3.27-1.90v-3.80zM421.0 226.8l3.27 1.90v3.80l-3.27 1.90l-3.27-1.90v-3.80z"/><path fill="#b58ff2" d="M249.5 210.6l3.27 1.90v3.80l-3.27 1.90l-3.27-1.90v-3.80zM405.4 221.4l3.27 1.90v3.80l-3.27 1.90l-3.27-1.90v-3.80zM392.9 351.0l3.27 1.90v3.80l-3.27 1.90l-3.27-1.90v-3.80z"/><path fill="#a787f4" d="M274.5 210.6l3.27 1.90v3.80l-3.27 1.90l-3.27-1.90v-3.80zM430.4 275.4l3.27 1.90v3.80l-3.27 1.90l-3.27-1.90v-3.80zM364.9 280.8l3.27 1.90v3.80l-3.27 1.90l-3.27-1.90v-3.80zM433.5 302.4l3.27 1.90v3.80l-3.27 1.90l-3.27-1.90v-3.80z"/><path fill="#6166ff" d="M280.7 210.6l3.27 1.90v3.80l-3.27 1.90l-3.27-1.90v-3.80z"/><path fill="#0854ff" d="M286.9 210.6l3.27 1.90v3.80l-3.27 1.90l-3.27-1.90v-3.80zM274.5 221.4l3.27 1.90v3.80l-3.27 1.90l-3.27-1.90v-3.80zM374.2 297.0l3.27 1.90v3.80l-3.27 1.90l-3.27-1.90v-3.80z"/><path fill="#109eff" d="M293.2 210.6l3.27 1.90v3.80l-3.27 1.90l-3.27-1.90v-3.80z"/><path fill="#34ddff" d="M299.4 210.6l3.27 1.90v3.80l-3.27 1.90l-3.27-1.90v-3.80zM277.6 226.8l3.27 1.90v3.80l-3.27 1.90l-3.27-1.90v-3.80zM255.8 253.8l3.27 1.90v3.80l-3.27 1.90l-3.27-1.90v-3.80zM380.5 329.4l3.27 1.90v3.80l-3.27 1.90l-3.27-1.90v-3.80zM290.1 334.8l3.27 1.90v3.80l-3.27 1.90l-3.27-1.90v-3.80z"/><path fill="#35e0ff" d="M311.9 210.6l3.27 1.90v3.80l-3.27 1.90l-3.27-1.90v-3.80zM246.4 291.6l3.27 1.90v3.80l-3.27 1.90l-3.27-1.90v-3.80z"/><path fill="#1bb1ff" d="M324.4 210.6l3.27 1.90v3.80l-3.27 1.90l-3.27-1.90v-3.80zM355.5 329.4l3.27 1.90v3.80l-3.27 1.90l-3.27-1.90v-3.80zM255.8 340.1l3.27 1.90v3.80l-3.27 1.90l-3.27-1.90v-3.80zM349.3 351.0l3.27 1.90v3.80l-3.27 1.90l-3.27-1.90v-3.80z"/><path fill="#1096ff" d="M330.6 210.6l3.27 1.90v3.80l-3.27 1.90l-3.27-1.90v-3.80zM249.5 243.0l3.27 1.90v3.80l-3.27 1.90l-3.27-1.90v-3.80z"/><path fill="#1089ff" d="M336.8 210.6l3.27 1.90v3.80l-3.27 1.90l-3.27-1.90v-3.80zM224.6 297.0l3.27 1.90v3.80l-3.27 1.90l-3.27-1.90v-3.80zM308.8 356.4l3.27 1.90v3.80l-3.27 1.90l-3.27-1.90v-3.80z"/><path fill="#108bff" d="M343.1 210.6l3.27 1.90v3.80l-3.27 1.90l-3.27-1.90v-3.80zM249.5 340.1l3.27 1.90v3.80l-3.27 1.90l-3.27-1.90v-3.80zM321.2 356.4l3.27 1.90v3.80l-3.27 1.90l-3.27-1.90v-3.80z"/><path fill="#14a7ff" d="M349.3 210.6l3.27 1.90v3.80l-3.27 1.90l-3.27-1.90v-3.80z"/><path fill="#2bc9ff" d="M368.0 210.6l3.27 1.90v3.80l-3.27 1.90l-3.27-1.90v-3.80zM255.8 243.0l3.27 1.90v3.80l-3.27 1.90l-3.27-1.90v-3.80zM243.3 253.8l3.27 1.90v3.80l-3.27 1.90l-3.27-1.90v-3.80z"/><path fill="#997ff8" d="M386.7 210.6l3.27 1.90v3.80l-3.27 1.90l-3.27-1.90v-3.80zM265.1 302.4l3.27 1.90v3.80l-3.27 1.90l-3.27-1.90v-3.80zM333.7 367.1l3.27 1.90v3.80l-3.27 1.90l-3.27-1.90v-3.80z"/><path fill="#ecc3e0" d="M177.8 216.0l3.27 1.90v3.80l-3.27 1.90l-3.27-1.90v-3.80zM180.9 253.8l3.27 1.90v3.80l-3.27 1.90l-3.27-1.90v-3.80zM180.9 264.6l3.27 1.90v3.80l-3.27 1.90l-3.27-1.90v-3.80zM449.1 286.1l3.27 1.90v3.80l-3.27 1.90l-3.27-1.90v-3.80zM237.1 372.6l3.27 1.90v3.80l-3.27 1.90l-3.27-1.90v-3.80zM271.4 388.8l3.27 1.90v3.80l-3.27 1.90l-3.27-1.90v-3.80z"/><path fill="#ac8af3" d="M215.2 216.0l3.27 1.90v3.80l-3.27 1.90l-3.27-1.90v-3.80zM392.9 221.4l3.27 1.90v3.80l-3.27 1.90l-3.27-1.90v-3.80zM237.1 232.2l3.27 1.90v3.80l-3.27 1.90l-3.27-1.90v-3.80zM414.8 248.4l3.27 1.90v3.80l-3.27 1.90l-3.27-1.90v-3.80zM209.0 291.6l3.27 1.90v3.80l-3.27 1.90l-3.27-1.90v-3.80z"/><path fill="#ad8bf3" d="M221.5 216.0l3.27 1.90v3.80l-3.27 1.90l-3.27-1.90v-3.80zM240.2 226.8l3.27 1.90v3.80l-3.27 1.90l-3.27-1.90v-3.80zM396.1 226.8l3.27 1.90v3.80l-3.27 1.90l-3.27-1.90v-3.80zM227.7 237.6l3.27 1.90v3.80l-3.27 1.90l-3.27-1.90v-3.80zM352.4 367.1l3.27 1.90v3.80l-3.27 1.90l-3.27-1.90v-3.80z"/><path fill="#b08cf3" d="M227.7 216.0l3.27 1.90v3.80l-3.27 1.90l-3.27-1.90v-3.80zM258.9 216.0l3.27 1.90v3.80l-3.27 1.90l-3.27-1.90v-3.80zM396.1 216.0l3.27 1.90v3.80l-3.27 1.90l-3.27-1.90v-3.80zM230.8 221.4l3.27 1.90v3.80l-3.27 1.90l-3.27-1.90v-3.80zM237.1 221.4l3.27 1.90v3.80l-3.27 1.90l-3.27-1.90v-3.80zM243.3 221.4l3.27 1.90v3.80l-3.27 1.90l-3.27-1.90v-3.80zM221.5 226.8l3.27 1.90v3.80l-3.27 1.90l-3.27-1.90v-3.80zM221.5 237.6l3.27 1.90v3.80l-3.27 1.90l-3.27-1.90v-3.80zM218.4 243.0l3.27 1.90v3.80l-3.27 1.90l-3.27-1.90v-3.80zM430.4 318.6l3.27 1.90v3.80l-3.27 1.90l-3.27-1.90v-3.80zM230.8 340.1l3.27 1.90v3.80l-3.27 1.90l-3.27-1.90v-3.80z"/><path fill="#b18df2" d="M233.9 216.0l3.27 1.90v3.80l-3.27 1.90l-3.27-1.90v-3.80zM215.2 226.8l3.27 1.90v3.80l-3.27 1.90l-3.27-1.90v-3.80zM402.3 226.8l3.27 1.90v3.80l-3.27 1.90l-3.27-1.90v-3.80zM215.2 248.4l3.27 1.90v3.80l-3.27 1.90l-3.27-1.90v-3.80zM215.2 313.2l3.27 1.90v3.80l-3.27 1.90l-3.27-1.90v-3.80z"/><path fill="#a988f4" d="M265.1 216.0l3.27 1.90v3.80l-3.27 1.90l-3.27-1.90v-3.80zM246.4 226.8l3.27 1.90v3.80l-3.27 1.90l-3.27-1.90v-3.80zM377.4 356.4l3.27 1.90v3.80l-3.27 1.90l-3.27-1.90v-3.80z"/><path fill="#0f7cff" d="M283.8 216.0l3.27 1.90v3.80l-3.27 1.90l-3.27-1.90v-3.80zM405.4 318.6l3.27 1.90v3.80l-3.27 1.90l-3.27-1.90v-3.80z"/><path fill="#38edff" d="M296.3 216.0l3.27 1.90v3.80l-3.27 1.90l-3.27-1.90v-3.80zM262.0 243.0l3.27 1.90v3.80l-3.27 1.90l-3.27-1.90v-3.80zM386.7 275.4l3.27 1.90v3.80l-3.27 1.90l-3.27-1.90v-3.80zM243.3 307.8l3.27 1.90v3.80l-3.27 1.90l-3.27-1.90v-3.80zM246.4 313.2l3.27 1.90v3.80l-3.27 1.90l-3.27-1.90v-3.80zM389.8 313.2l3.27 1.90v3.80l-3.27 1.90l-3.27-1.90v-3.80zM371.1 334.8l3.27 1.90v3.80l-3.27 1.90l-3.27-1.90v-3.80zM318.1 340.1l3.27 1.90v3.80l-3.27 1.90l-3.27-1.90v-3.80zM308.8 345.6l3.27 1.90v3.80l-3.27 1.90l-3.27-1.90v-3.80zM315.0 345.6l3.27 1.90v3.80l-3.27 1.90l-3.27-1.90v-3.80z"/><path fill="#18acff" d="M308.8 216.0l3.27 1.90v3.80l-3.27 1.90l-3.27-1.90v-3.80zM380.5 243.0l3.27 1.90v3.80l-3.27 1.90l-3.27-1.90v-3.80zM246.4 248.4l3.27 1.90v3.80l-3.27 1.90l-3.27-1.90v-3.80zM399.2 286.1l3.27 1.90v3.80l-3.27 1.90l-3.27-1.90v-3.80z"/><path fill="#5662ff" d="M327.5 216.0l3.27 1.90v3.80l-3.27 1.90l-3.27-1.90v-3.80zM280.7 318.6l3.27 1.90v3.80l-3.27 1.90l-3.27-1.90v-3.80zM399.2 340.1l3.27 1.90v3.80l-3.27 1.90l-3.27-1.90v-3.80zM249.5 351.0l3.27 1.90v3.80l-3.27 1.90l-3.27-1.90v-3.80z"/><path fill="#8673fd" d="M346.2 216.0l3.27 1.90v3.80l-3.27 1.90l-3.27-1.90v-3.80zM321.2 367.1l3.27 1.90v3.80l-3.27 1.90l-3.27-1.90v-3.80z"/><path fill="#084fff" d="M352.4 216.0l3.27 1.90v3.80l-3.27 1.90l-3.27-1.90v-3.80zM215.2 280.8l3.27 1.90v3.80l-3.27 1.90l-3.27-1.90v-3.80zM414.8 291.6l3.27 1.90v3.80l-3.27 1.90l-3.27-1.90v-3.80z"/><path fill="#22bbff" d="M358.6 216.0l3.27 1.90v3.80l-3.27 1.90l-3.27-1.90v-3.80zM280.7 232.2l3.27 1.90v3.80l-3.27 1.90l-3.27-1.90v-3.80z"/><path fill="#26c1ff" d="M371.1 216.0l3.27 1.90v3.80l-3.27 1.90l-3.27-1.90v-3.80zM389.8 270.0l3.27 1.90v3.80l-3.27 1.90l-3.27-1.90v-3.80zM249.5 286.1l3.27 1.90v3.80l-3.27 1.90l-3.27-1.90v-3.80zM249.5 329.4l3.27 1.90v3.80l-3.27 1.90l-3.27-1.90v-3.80z"/><path fill="#5060ff" d="M383.6 216.0l3.27 1.90v3.80l-3.27 1.90l-3.27-1.90v-3.80zM417.9 264.6l3.27 1.90v3.80l-3.27 1.90l-3.27-1.90v-3.80zM427.2 302.4l3.27 1.90v3.80l-3.27 1.90l-3.27-1.90v-3.80z"/><path fill="#a989f4" d="M255.8 221.4l3.27 1.90v3.80l-3.27 1.90l-3.27-1.90v-3.80z"/><path fill="#415aff" d="M268.2 221.4l3.27 1.90v3.80l-3.27 1.90l-3.27-1.90v-3.80z"/><path fill="#10a1ff" d="M280.7 221.4l3.27 1.90v3.80l-3.27 1.90l-3.27-1.90v-3.80zM255.8 297.0l3.27 1.90v3.80l-3.27 1.90l-3.27-1.90v-3.80z"/><path fill="#38eaff" d="M286.9 221.4l3.27 1.90v3.80l-3.27 1.90l-3.27-1.90v-3.80zM274.5 232.2l3.27 1.90v3.80l-3.27 1.90l-3.27-1.90v-3.80zM233.9 280.8l3.27 1.90v3.80l-3.27 1.90l-3.27-1.90v-3.80zM237.1 297.0l3.27 1.90v3.80l-3.27 1.90l-3.27-1.90v-3.80zM252.6 324.0l3.27 1.90v3.80l-3.27 1.90l-3.27-1.90v-3.80zM302.5 345.6l3.27 1.90v3.80l-3.27 1.90l-3.27-1.90v-3.80z"/><path fill="#1aafff" d="M299.4 221.4l3.27 1.90v3.80l-3.27 1.90l-3.27-1.90v-3.80zM262.0 253.8l3.27 1.90v3.80l-3.27 1.90l-3.27-1.90v-3.80zM399.2 307.8l3.27 1.90v3.80l-3.27 1.90l-3.27-1.90v-3.80zM374.2 340.1l3.27 1.90v3.80l-3.27 1.90l-3.27-1.90v-3.80z"/><path fill="#0e75ff" d="M305.6 221.4l3.27 1.90v3.80l-3.27 1.90l-3.27-1.90v-3.80zM221.5 270.0l3.27 1.90v3.80l-3.27 1.90l-3.27-1.90v-3.80zM221.5 291.6l3.27 1.90v3.80l-3.27 1.90l-3.27-1.90v-3.80zM374.2 307.8l3.27 1.90v3.80l-3.27 1.90l-3.27-1.90v-3.80z"/><path fill="#3554ff" d="M311.9 221.4l3.27 1.90v3.80l-3.27 1.90l-3.27-1.90v-3.80zM249.5 232.2l3.27 1.90v3.80l-3.27 1.90l-3.27-1.90v-3.80zM392.9 340.1l3.27 1.90v3.80l-3.27 1.90l-3.27-1.90v-3.80z"/><path fill="#eedfdc" d="M336.8 221.4l3.27 1.90v3.80l-3.27 1.90l-3.27-1.90v-3.80zM330.6 297.0l3.27 1.90v3.80l-3.27 1.90l-3.27-1.90v-3.80zM293.2 307.8l3.27 1.90v3.80l-3.27 1.90l-3.27-1.90v-3.80zM311.9 307.8l3.27 1.90v3.80l-3.27 1.90l-3.27-1.90v-3.80zM318.1 307.8l3.27 1.90v3.80l-3.27 1.90l-3.27-1.90v-3.80z"/><path fill="#25bfff" d="M361.8 221.4l3.27 1.90v3.80l-3.27 1.90l-3.27-1.90v-3.80zM371.1 270.0l3.27 1.90v3.80l-3.27 1.90l-3.27-1.90v-3.80zM233.9 302.4l3.27 1.90v3.80l-3.27 1.90l-3.27-1.90v-3.80zM318.1 351.0l3.27 1.90v3.80l-3.27 1.90l-3.27-1.90v-3.80z"/><path fill="#38ebff" d="M368.0 221.4l3.27 1.90v3.80l-3.27 1.90l-3.27-1.90v-3.80zM252.6 248.4l3.27 1.90v3.80l-3.27 1.90l-3.27-1.90v-3.80zM368.0 253.8l3.27 1.90v3.80l-3.27 1.90l-3.27-1.90v-3.80zM371.1 259.1l3.27 1.90v3.80l-3.27 1.90l-3.27-1.90v-3.80zM374.2 264.6l3.27 1.90v3.80l-3.27 1.90l-3.27-1.90v-3.80zM377.4 270.0l3.27 1.90v3.80l-3.27 1.90l-3.27-1.90v-3.80zM243.3 286.1l3.27 1.90v3.80l-3.27 1.90l-3.27-1.90v-3.80zM336.8 340.1l3.27 1.90v3.80l-3.27 1.90l-3.27-1.90v-3.80zM361.8 340.1l3.27 1.90v3.80l-3.27 1.90l-3.27-1.90v-3.80zM352.4 345.6l3.27 1.90v3.80l-3.27 1.90l-3.27-1.90v-3.80z"/><path fill="#095dff" d="M380.5 221.4l3.27 1.90v3.80l-3.27 1.90l-3.27-1.90v-3.80zM411.7 286.1l3.27 1.90v3.80l-3.27 1.90l-3.27-1.90v-3.80zM411.7 307.8l3.27 1.90v3.80l-3.27 1.90l-3.27-1.90v-3.80zM399.2 329.4l3.27 1.90v3.80l-3.27 1.90l-3.27-1.90v-3.80z"/><path fill="#726bff" d="M386.7 221.4l3.27 1.90v3.80l-3.27 1.90l-3.27-1.90v-3.80zM230.8 243.0l3.27 1.90v3.80l-3.27 1.90l-3.27-1.90v-3.80z"/><path fill="#b991f1" d="M202.8 226.8l3.27 1.90v3.80l-3.27 1.90l-3.27-1.90v-3.80zM286.9 372.6l3.27 1.90v3.80l-3.27 1.90l-3.27-1.90v-3.80z"/><path fill="#7a6eff" d="M252.6 226.8l3.27 1.90v3.80l-3.27 1.90l-3.27-1.90v-3.80zM389.8 345.6l3.27 1.90v3.80l-3.27 1.90l-3.27-1.90v-3.80z"/><path fill="#2c50ff" d="M258.9 226.8l3.27 1.90v3.80l-3.27 1.90l-3.27-1.90v-3.80z"/><path fill="#31d3ff" d="M283.8 226.8l3.27 1.90v3.80l-3.27 1.90l-3.27-1.90v-3.80zM377.4 248.4l3.27 1.90v3.80l-3.27 1.90l-3.27-1.90v-3.80zM262.0 318.6l3.27 1.90v3.80l-3.27 1.90l-3.27-1.90v-3.80zM268.2 340.1l3.27 1.90v3.80l-3.27 1.90l-3.27-1.90v-3.80z"/><path fill="#16aaff" d="M290.1 226.8l3.27 1.90v3.80l-3.27 1.90l-3.27-1.90v-3.80zM364.9 324.0l3.27 1.90v3.80l-3.27 1.90l-3.27-1.90v-3.80zM286.9 351.0l3.27 1.90v3.80l-3.27 1.90l-3.27-1.90v-3.80z"/><path fill="#0c6aff" d="M296.3 226.8l3.27 1.90v3.80l-3.27 1.90l-3.27-1.90v-3.80z"/><path fill="#7b6eff" d="M302.5 226.8l3.27 1.90v3.80l-3.27 1.90l-3.27-1.90v-3.80z"/><path fill="#eabae2" d="M308.8 226.8l3.27 1.90v3.80l-3.27 1.90l-3.27-1.90v-3.80z"/><path fill="#eee7e6" d="M321.2 226.8l3.27 1.90v3.80l-3.27 1.90l-3.27-1.90v-3.80zM346.2 237.6l3.27 1.90v3.80l-3.27 1.90l-3.27-1.90v-3.80zM343.1 243.0l3.27 1.90v3.80l-3.27 1.90l-3.27-1.90v-3.80zM277.6 259.1l3.27 1.90v3.80l-3.27 1.90l-3.27-1.90v-3.80zM346.2 280.8l3.27 1.90v3.80l-3.27 1.90l-3.27-1.90v-3.80zM330.6 286.1l3.27 1.90v3.80l-3.27 1.90l-3.27-1.90v-3.80zM321.2 291.6l3.27 1.90v3.80l-3.27 1.90l-3.27-1.90v-3.80zM293.2 297.0l3.27 1.90v3.80l-3.27 1.90l-3.27-1.90v-3.80z"/><path fill="#eeeaea" d="M327.5 226.8l3.27 1.90v3.80l-3.27 1.90l-3.27-1.90v-3.80zM333.7 226.8l3.27 1.90v3.80l-3.27 1.90l-3.27-1.90v-3.80zM339.9 226.8l3.27 1.90v3.80l-3.27 1.90l-3.27-1.90v-3.80zM318.1 232.2l3.27 1.90v3.80l-3.27 1.90l-3.27-1.90v-3.80zM324.4 232.2l3.27 1.90v3.80l-3.27 1.90l-3.27-1.90v-3.80zM330.6 232.2l3.27 1.90v3.80l-3.27 1.90l-3.27-1.90v-3.80zM336.8 232.2l3.27 1.90v3.80l-3.27 1.90l-3.27-1.90v-3.80zM343.1 232.2l3.27 1.90v3.80l-3.27 1.90l-3.27-1.90v-3.80zM308.8 237.6l3.27 1.90v3.80l-3.27 1.90l-3.27-1.90v-3.80zM315.0 237.6l3.27 1.90v3.80l-3.27 1.90l-3.27-1.90v-3.80zM321.2 237.6l3.27 1.90v3.80l-3.27 1.90l-3.27-1.90v-3.80zM327.5 237.6l3.27 1.90v3.80l-3.27 1.90l-3.27-1.90v-3.80zM333.7 237.6l3.27 1.90v3.80l-3.27 1.90l-3.27-1.90v-3.80zM339.9 237.6l3.27 1.90v3.80l-3.27 1.90l-3.27-1.90v-3.80zM299.4 243.0l3.27 1.90v3.80l-3.27 1.90l-3.27-1.90v-3.80zM305.6 243.0l3.27 1.90v3.80l-3.27 1.90l-3.27-1.90v-3.80zM311.9 243.0l3.27 1.90v3.80l-3.27 1.90l-3.27-1.90v-3.80zM318.1 243.0l3.27 1.90v3.80l-3.27 1.90l-3.27-1.90v-3.80zM324.4 243.0l3.27 1.90v3.80l-3.27 1.90l-3.27-1.90v-3.80zM330.6 243.0l3.27 1.90v3.80l-3.27 1.90l-3.27-1.90v-3.80zM336.8 243.0l3.27 1.90v3.80l-3.27 1.90l-3.27-1.90v-3.80zM296.3 248.4l3.27 1.90v3.80l-3.27 1.90l-3.27-1.90v-3.80zM302.5 248.4l3.27 1.90v3.80l-3.27 1.90l-3.27-1.90v-3.80zM308.8 248.4l3.27 1.90v3.80l-3.27 1.90l-3.27-1.90v-3.80zM315.0 248.4l3.27 1.90v3.80l-3.27 1.90l-3.27-1.90v-3.80zM321.2 248.4l3.27 1.90v3.80l-3.27 1.90l-3.27-1.90v-3.80zM327.5 248.4l3.27 1.90v3.80l-3.27 1.90l-3.27-1.90v-3.80zM333.7 248.4l3.27 1.90v3.80l-3.27 1.90l-3.27-1.90v-3.80zM286.9 253.8l3.27 1.90v3.80l-3.27 1.90l-3.27-1.90v-3.80zM293.2 253.8l3.27 1.90v3.80l-3.27 1.90l-3.27-1.90v-3.80zM299.4 253.8l3.27 1.90v3.80l-3.27 1.90l-3.27-1.90v-3.80zM305.6 253.8l3.27 1.90v3.80l-3.27 1.90l-3.27-1.90v-3.80zM311.9 253.8l3.27 1.90v3.80l-3.27 1.90l-3.27-1.90v-3.80zM318.1 253.8l3.27 1.90v3.80l-3.27 1.90l-3.27-1.90v-3.80zM324.4 253.8l3.27 1.90v3.80l-3.27 1.90l-3.27-1.90v-3.80zM330.6 253.8l3.27 1.90v3.80l-3.27 1.90l-3.27-1.90v-3.80zM336.8 253.8l3.27 1.90v3.80l-3.27 1.90l-3.27-1.90v-3.80zM283.8 259.1l3.27 1.90v3.80l-3.27 1.90l-3.27-1.90v-3.80zM290.1 259.1l3.27 1.90v3.80l-3.27 1.90l-3.27-1.90v-3.80zM296.3 259.1l3.27 1.90v3.80l-3.27 1.90l-3.27-1.90v-3.80zM302.5 259.1l3.27 1.90v3.80l-3.27 1.90l-3.27-1.90v-3.80zM308.8 259.1l3.27 1.90v3.80l-3.27 1.90l-3.27-1.90v-3.80zM315.0 259.1l3.27 1.90v3.80l-3.27 1.90l-3.27-1.90v-3.80zM321.2 259.1l3.27 1.90v3.80l-3.27 1.90l-3.27-1.90v-3.80zM327.5 259.1l3.27 1.90v3.80l-3.27 1.90l-3.27-1.90v-3.80zM333.7 259.1l3.27 1.90v3.80l-3.27 1.90l-3.27-1.90v-3.80zM339.9 259.1l3.27 1.90v3.80l-3.27 1.90l-3.27-1.90v-3.80zM280.7 264.6l3.27 1.90v3.80l-3.27 1.90l-3.27-1.90v-3.80zM286.9 264.6l3.27 1.90v3.80l-3.27 1.90l-3.27-1.90v-3.80zM293.2 264.6l3.27 1.90v3.80l-3.27 1.90l-3.27-1.90v-3.80zM299.4 264.6l3.27 1.90v3.80l-3.27 1.90l-3.27-1.90v-3.80zM305.6 264.6l3.27 1.90v3.80l-3.27 1.90l-3.27-1.90v-3.80zM311.9 264.6l3.27 1.90v3.80l-3.27 1.90l-3.27-1.90v-3.80zM318.1 264.6l3.27 1.90v3.80l-3.27 1.90l-3.27-1.90v-3.80zM324.4 264.6l3.27 1.90v3.80l-3.27 1.90l-3.27-1.90v-3.80zM330.6 264.6l3.27 1.90v3.80l-3.27 1.90l-3.27-1.90v-3.80zM336.8 264.6l3.27 1.90v3.80l-3.27 1.90l-3.27-1.90v-3.80zM277.6 270.0l3.27 1.90v3.80l-3.27 1.90l-3.27-1.90v-3.80zM283.8 270.0l3.27 1.90v3.80l-3.27 1.90l-3.27-1.90v-3.80zM290.1 270.0l3.27 1.90v3.80l-3.27 1.90l-3.27-1.90v-3.80zM296.3 270.0l3.27 1.90v3.80l-3.27 1.90l-3.27-1.90v-3.80zM302.5 270.0l3.27 1.90v3.80l-3.27 1.90l-3.27-1.90v-3.80zM308.8 270.0l3.27 1.90v3.80l-3.27 1.90l-3.27-1.90v-3.80zM315.0 270.0l3.27 1.90v3.80l-3.27 1.90l-3.27-1.90v-3.80zM321.2 270.0l3.27 1.90v3.80l-3.27 1.90l-3.27-1.90v-3.80zM327.5 270.0l3.27 1.90v3.80l-3.27 1.90l-3.27-1.90v-3.80zM333.7 270.0l3.27 1.90v3.80l-3.27 1.90l-3.27-1.90v-3.80zM339.9 270.0l3.27 1.90v3.80l-3.27 1.90l-3.27-1.90v-3.80zM274.5 275.4l3.27 1.90v3.80l-3.27 1.90l-3.27-1.90v-3.80zM280.7 275.4l3.27 1.90v3.80l-3.27 1.90l-3.27-1.90v-3.80zM286.9 275.4l3.27 1.90v3.80l-3.27 1.90l-3.27-1.90v-3.80zM293.2 275.4l3.27 1.90v3.80l-3.27 1.90l-3.27-1.90v-3.80zM299.4 275.4l3.27 1.90v3.80l-3.27 1.90l-3.27-1.90v-3.80zM305.6 275.4l3.27 1.90v3.80l-3.27 1.90l-3.27-1.90v-3.80zM311.9 275.4l3.27 1.90v3.80l-3.27 1.90l-3.27-1.90v-3.80zM318.1 275.4l3.27 1.90v3.80l-3.27 1.90l-3.27-1.90v-3.80zM324.4 275.4l3.27 1.90v3.80l-3.27 1.90l-3.27-1.90v-3.80zM271.4 280.8l3.27 1.90v3.80l-3.27 1.90l-3.27-1.90v-3.80zM277.6 280.8l3.27 1.90v3.80l-3.27 1.90l-3.27-1.90v-3.80zM283.8 280.8l3.27 1.90v3.80l-3.27 1.90l-3.27-1.90v-3.80zM290.1 280.8l3.27 1.90v3.80l-3.27 1.90l-3.27-1.90v-3.80zM296.3 280.8l3.27 1.90v3.80l-3.27 1.90l-3.27-1.90v-3.80zM302.5 280.8l3.27 1.90v3.80l-3.27 1.90l-3.27-1.90v-3.80zM308.8 280.8l3.27 1.90v3.80l-3.27 1.90l-3.27-1.90v-3.80zM315.0 280.8l3.27 1.90v3.80l-3.27 1.90l-3.27-1.90v-3.80zM274.5 286.1l3.27 1.90v3.80l-3.27 1.90l-3.27-1.90v-3.80zM280.7 286.1l3.27 1.90v3.80l-3.27 1.90l-3.27-1.90v-3.80zM286.9 286.1l3.27 1.90v3.80l-3.27 1.90l-3.27-1.90v-3.80zM293.2 286.1l3.27 1.90v3.80l-3.27 1.90l-3.27-1.90v-3.80zM271.4 291.6l3.27 1.90v3.80l-3.27 1.90l-3.27-1.90v-3.80zM277.6 291.6l3.27 1.90v3.80l-3.27 1.90l-3.27-1.90v-3.80zM283.8 291.6l3.27 1.90v3.80l-3.27 1.90l-3.27-1.90v-3.80zM274.5 297.0l3.27 1.90v3.80l-3.27 1.90l-3.27-1.90v-3.80z"/><path fill="#eee9e9" d="M346.2 226.8l3.27 1.90v3.80l-3.27 1.90l-3.27-1.90v-3.80zM336.8 275.4l3.27 1.90v3.80l-3.27 1.90l-3.27-1.90v-3.80zM343.1 275.4l3.27 1.90v3.80l-3.27 1.90l-3.27-1.90v-3.80zM321.2 280.8l3.27 1.90v3.80l-3.27 1.90l-3.27-1.90v-3.80zM327.5 280.8l3.27 1.90v3.80l-3.27 1.90l-3.27-1.90v-3.80zM311.9 286.1l3.27 1.90v3.80l-3.27 1.90l-3.27-1.90v-3.80zM318.1 286.1l3.27 1.90v3.80l-3.27 1.90l-3.27-1.90v-3.80zM290.1 291.6l3.27 1.90v3.80l-3.27 1.90l-3.27-1.90v-3.80zM280.7 297.0l3.27 1.90v3.80l-3.27 1.90l-3.27-1.90v-3.80zM277.6 302.4l3.27 1.90v3.80l-3.27 1.90l-3.27-1.90v-3.80z"/><path fill="#0859ff" d="M358.6 226.8l3.27 1.90v3.80l-3.27 1.90l-3.27-1.90v-3.80z"/><path fill="#34dbff" d="M364.9 226.8l3.27 1.90v3.80l-3.27 1.90l-3.27-1.90v-3.80zM371.1 226.8l3.27 1.90v3.80l-3.27 1.90l-3.27-1.90v-3.80zM374.2 243.0l3.27 1.90v3.80l-3.27 1.90l-3.27-1.90v-3.80zM233.9 270.0l3.27 1.90v3.80l-3.27 1.90l-3.27-1.90v-3.80zM258.9 334.8l3.27 1.90v3.80l-3.27 1.90l-3.27-1.90v-3.80z"/><path fill="#109cff" d="M377.4 226.8l3.27 1.90v3.80l-3.27 1.90l-3.27-1.90v-3.80zM383.6 248.4l3.27 1.90v3.80l-3.27 1.90l-3.27-1.90v-3.80zM358.6 259.1l3.27 1.90v3.80l-3.27 1.90l-3.27-1.90v-3.80zM265.1 313.2l3.27 1.90v3.80l-3.27 1.90l-3.27-1.90v-3.80zM399.2 318.6l3.27 1.90v3.80l-3.27 1.90l-3.27-1.90v-3.80z"/><path fill="#0842ff" d="M383.6 226.8l3.27 1.90v3.80l-3.27 1.90l-3.27-1.90v-3.80zM218.4 264.6l3.27 1.90v3.80l-3.27 1.90l-3.27-1.90v-3.80z"/><path fill="#e9b6e3" d="M180.9 232.2l3.27 1.90v3.80l-3.27 1.90l-3.27-1.90v-3.80zM374.2 383.4l3.27 1.90v3.80l-3.27 1.90l-3.27-1.90v-3.80z"/><path fill="#937bfa" d="M243.3 232.2l3.27 1.90v3.80l-3.27 1.90l-3.27-1.90v-3.80zM290.1 367.1l3.27 1.90v3.80l-3.27 1.90l-3.27-1.90v-3.80z"/><path fill="#0852ff" d="M255.8 232.2l3.27 1.90v3.80l-3.27 1.90l-3.27-1.90v-3.80zM283.8 237.6l3.27 1.90v3.80l-3.27 1.90l-3.27-1.90v-3.80z"/><path fill="#0f79ff" d="M262.0 232.2l3.27 1.90v3.80l-3.27 1.90l-3.27-1.90v-3.80zM290.1 356.4l3.27 1.90v3.80l-3.27 1.90l-3.27-1.90v-3.80z"/><path fill="#1cb2ff" d="M268.2 232.2l3.27 1.90v3.80l-3.27 1.90l-3.27-1.90v-3.80zM377.4 237.6l3.27 1.90v3.80l-3.27 1.90l-3.27-1.90v-3.80z"/><path fill="#1087ff" d="M286.9 232.2l3.27 1.90v3.80l-3.27 1.90l-3.27-1.90v-3.80zM380.5 232.2l3.27 1.90v3.80l-3.27 1.90l-3.27-1.90v-3.80zM262.0 307.8l3.27 1.90v3.80l-3.27 1.90l-3.27-1.90v-3.80z"/><path fill="#eee8e7" d="M311.9 232.2l3.27 1.90v3.80l-3.27 1.90l-3.27-1.90v-3.80zM339.9 280.8l3.27 1.90v3.80l-3.27 1.90l-3.27-1.90v-3.80zM283.8 302.4l3.27 1.90v3.80l-3.27 1.90l-3.27-1.90v-3.80z"/><path fill="#eee4e2" d="M349.3 232.2l3.27 1.90v3.80l-3.27 1.90l-3.27-1.90v-3.80zM352.4 280.8l3.27 1.90v3.80l-3.27 1.90l-3.27-1.90v-3.80zM343.1 286.1l3.27 1.90v3.80l-3.27 1.90l-3.27-1.90v-3.80zM286.9 307.8l3.27 1.90v3.80l-3.27 1.90l-3.27-1.90v-3.80z"/><path fill="#12a2ff" d="M361.8 232.2l3.27 1.90v3.80l-3.27 1.90l-3.27-1.90v-3.80z"/><path fill="#27c3ff" d="M374.2 232.2l3.27 1.90v3.80l-3.27 1.90l-3.27-1.90v-3.80z"/><path fill="#264eff" d="M386.7 232.2l3.27 1.90v3.80l-3.27 1.90l-3.27-1.90v-3.80z"/><path fill="#947cf9" d="M392.9 232.2l3.27 1.90v3.80l-3.27 1.90l-3.27-1.90v-3.80z"/><path fill="#6366ff" d="M240.2 237.6l3.27 1.90v3.80l-3.27 1.90l-3.27-1.90v-3.80zM237.1 340.1l3.27 1.90v3.80l-3.27 1.90l-3.27-1.90v-3.80z"/><path fill="#0844ff" d="M246.4 237.6l3.27 1.90v3.80l-3.27 1.90l-3.27-1.90v-3.80zM221.5 259.1l3.27 1.90v3.80l-3.27 1.90l-3.27-1.90v-3.80zM405.4 329.4l3.27 1.90v3.80l-3.27 1.90l-3.27-1.90v-3.80z"/><path fill="#0d73ff" d="M252.6 237.6l3.27 1.90v3.80l-3.27 1.90l-3.27-1.90v-3.80zM371.1 313.2l3.27 1.90v3.80l-3.27 1.90l-3.27-1.90v-3.80z"/><path fill="#1095ff" d="M258.9 237.6l3.27 1.90v3.80l-3.27 1.90l-3.27-1.90v-3.80zM396.1 270.0l3.27 1.90v3.80l-3.27 1.90l-3.27-1.90v-3.80zM243.3 329.4l3.27 1.90v3.80l-3.27 1.90l-3.27-1.90v-3.80z"/><path fill="#33daff" d="M265.1 237.6l3.27 1.90v3.80l-3.27 1.90l-3.27-1.90v-3.80zM249.5 264.6l3.27 1.90v3.80l-3.27 1.90l-3.27-1.90v-3.80zM283.8 345.6l3.27 1.90v3.80l-3.27 1.90l-3.27-1.90v-3.80z"/><path fill="#33d8ff" d="M271.4 237.6l3.27 1.90v3.80l-3.27 1.90l-3.27-1.90v-3.80zM364.9 237.6l3.27 1.90v3.80l-3.27 1.90l-3.27-1.90v-3.80zM240.2 259.1l3.27 1.90v3.80l-3.27 1.90l-3.27-1.90v-3.80zM396.1 302.4l3.27 1.90v3.80l-3.27 1.90l-3.27-1.90v-3.80z"/><path fill="#12a4ff" d="M277.6 237.6l3.27 1.90v3.80l-3.27 1.90l-3.27-1.90v-3.80z"/><path fill="#eee8e8" d="M302.5 237.6l3.27 1.90v3.80l-3.27 1.90l-3.27-1.90v-3.80zM271.4 270.0l3.27 1.90v3.80l-3.27 1.90l-3.27-1.90v-3.80zM349.3 275.4l3.27 1.90v3.80l-3.27 1.90l-3.27-1.90v-3.80zM324.4 286.1l3.27 1.90v3.80l-3.27 1.90l-3.27-1.90v-3.80zM315.0 291.6l3.27 1.90v3.80l-3.27 1.90l-3.27-1.90v-3.80zM286.9 297.0l3.27 1.90v3.80l-3.27 1.90l-3.27-1.90v-3.80z"/><path fill="#0d70ff" d="M358.6 237.6l3.27 1.90v3.80l-3.27 1.90l-3.27-1.90v-3.80zM274.5 318.6l3.27 1.90v3.80l-3.27 1.90l-3.27-1.90v-3.80z"/><path fill="#0b69ff" d="M383.6 237.6l3.27 1.90v3.80l-3.27 1.90l-3.27-1.90v-3.80z"/><path fill="#4c5eff" d="M389.8 237.6l3.27 1.90v3.80l-3.27 1.90l-3.27-1.90v-3.80zM336.8 361.8l3.27 1.90v3.80l-3.27 1.90l-3.27-1.90v-3.80z"/><path fill="#a486f5" d="M396.1 237.6l3.27 1.90v3.80l-3.27 1.90l-3.27-1.90v-3.80z"/><path fill="#a687f5" d="M224.6 243.0l3.27 1.90v3.80l-3.27 1.90l-3.27-1.90v-3.80zM262.0 275.4l3.27 1.90v3.80l-3.27 1.90l-3.27-1.90v-3.80zM433.5 291.6l3.27 1.90v3.80l-3.27 1.90l-3.27-1.90v-3.80zM221.5 324.0l3.27 1.90v3.80l-3.27 1.90l-3.27-1.90v-3.80zM411.7 340.1l3.27 1.90v3.80l-3.27 1.90l-3.27-1.90v-3.80zM361.8 361.8l3.27 1.90v3.80l-3.27 1.90l-3.27-1.90v-3.80zM346.2 367.1l3.27 1.90v3.80l-3.27 1.90l-3.27-1.90v-3.80z"/><path fill="#0840ff" d="M237.1 243.0l3.27 1.90v3.80l-3.27 1.90l-3.27-1.90v-3.80zM255.8 351.0l3.27 1.90v3.80l-3.27 1.90l-3.27-1.90v-3.80z"/><path fill="#0c6bff" d="M243.3 243.0l3.27 1.90v3.80l-3.27 1.90l-3.27-1.90v-3.80zM411.7 297.0l3.27 1.90v3.80l-3.27 1.90l-3.27-1.90v-3.80zM408.5 313.2l3.27 1.90v3.80l-3.27 1.90l-3.27-1.90v-3.80z"/><path fill="#108eff" d="M274.5 243.0l3.27 1.90v3.80l-3.27 1.90l-3.27-1.90v-3.80zM405.4 286.1l3.27 1.90v3.80l-3.27 1.90l-3.27-1.90v-3.80z"/><path fill="#8875fd" d="M280.7 243.0l3.27 1.90v3.80l-3.27 1.90l-3.27-1.90v-3.80zM346.2 324.0l3.27 1.90v3.80l-3.27 1.90l-3.27-1.90v-3.80zM268.2 361.8l3.27 1.90v3.80l-3.27 1.90l-3.27-1.90v-3.80z"/><path fill="#eee5e4" d="M293.2 243.0l3.27 1.90v3.80l-3.27 1.90l-3.27-1.90v-3.80zM327.5 291.6l3.27 1.90v3.80l-3.27 1.90l-3.27-1.90v-3.80zM318.1 297.0l3.27 1.90v3.80l-3.27 1.90l-3.27-1.90v-3.80zM290.1 302.4l3.27 1.90v3.80l-3.27 1.90l-3.27-1.90v-3.80zM280.7 307.8l3.27 1.90v3.80l-3.27 1.90l-3.27-1.90v-3.80z"/><path fill="#0c6dff" d="M355.5 243.0l3.27 1.90v3.80l-3.27 1.90l-3.27-1.90v-3.80z"/><path fill="#28c3ff" d="M361.8 243.0l3.27 1.90v3.80l-3.27 1.90l-3.27-1.90v-3.80zM368.0 264.6l3.27 1.90v3.80l-3.27 1.90l-3.27-1.90v-3.80z"/><path fill="#37f1fd" d="M368.0 243.0l3.27 1.90v3.80l-3.27 1.90l-3.27-1.90v-3.80zM371.1 248.4l3.27 1.90v3.80l-3.27 1.90l-3.27-1.90v-3.80zM249.5 253.8l3.27 1.90v3.80l-3.27 1.90l-3.27-1.90v-3.80zM374.2 253.8l3.27 1.90v3.80l-3.27 1.90l-3.27-1.90v-3.80zM246.4 259.1l3.27 1.90v3.80l-3.27 1.90l-3.27-1.90v-3.80zM237.1 275.4l3.27 1.90v3.80l-3.27 1.90l-3.27-1.90v-3.80zM262.0 329.4l3.27 1.90v3.80l-3.27 1.90l-3.27-1.90v-3.80zM364.9 334.8l3.27 1.90v3.80l-3.27 1.90l-3.27-1.90v-3.80zM299.4 340.1l3.27 1.90v3.80l-3.27 1.90l-3.27-1.90v-3.80z"/><path fill="#0856ff" d="M386.7 243.0l3.27 1.90v3.80l-3.27 1.90l-3.27-1.90v-3.80z"/><path fill="#ab8af3" d="M405.4 243.0l3.27 1.90v3.80l-3.27 1.90l-3.27-1.90v-3.80zM402.3 345.6l3.27 1.90v3.80l-3.27 1.90l-3.27-1.90v-3.80z"/><path fill="#a485f5" d="M221.5 248.4l3.27 1.90v3.80l-3.27 1.90l-3.27-1.90v-3.80z"/><path fill="#3b57ff" d="M227.7 248.4l3.27 1.90v3.80l-3.27 1.90l-3.27-1.90v-3.80z"/><path fill="#23bcff" d="M265.1 248.4l3.27 1.90v3.80l-3.27 1.90l-3.27-1.90v-3.80zM252.6 334.8l3.27 1.90v3.80l-3.27 1.90l-3.27-1.90v-3.80zM333.7 334.8l3.27 1.90v3.80l-3.27 1.90l-3.27-1.90v-3.80zM330.6 351.0l3.27 1.90v3.80l-3.27 1.90l-3.27-1.90v-3.80z"/><path fill="#eeeae9" d="M290.1 248.4l3.27 1.90v3.80l-3.27 1.90l-3.27-1.90v-3.80zM343.1 264.6l3.27 1.90v3.80l-3.27 1.90l-3.27-1.90v-3.80zM346.2 270.0l3.27 1.90v3.80l-3.27 1.90l-3.27-1.90v-3.80zM330.6 275.4l3.27 1.90v3.80l-3.27 1.90l-3.27-1.90v-3.80zM299.4 286.1l3.27 1.90v3.80l-3.27 1.90l-3.27-1.90v-3.80zM305.6 286.1l3.27 1.90v3.80l-3.27 1.90l-3.27-1.90v-3.80z"/><path fill="#eee9e8" d="M339.9 248.4l3.27 1.90v3.80l-3.27 1.90l-3.27-1.90v-3.80zM333.7 280.8l3.27 1.90v3.80l-3.27 1.90l-3.27-1.90v-3.80zM296.3 291.6l3.27 1.90v3.80l-3.27 1.90l-3.27-1.90v-3.80zM302.5 291.6l3.27 1.90v3.80l-3.27 1.90l-3.27-1.90v-3.80zM308.8 291.6l3.27 1.90v3.80l-3.27 1.90l-3.27-1.90v-3.80z"/><path fill="#0848ff" d="M352.4 248.4l3.27 1.90v3.80l-3.27 1.90l-3.27-1.90v-3.80z"/><path fill="#1eb6ff" d="M358.6 248.4l3.27 1.90v3.80l-3.27 1.90l-3.27-1.90v-3.80z"/><path fill="#0849ff" d="M389.8 248.4l3.27 1.90v3.80l-3.27 1.90l-3.27-1.90v-3.80zM408.5 270.0l3.27 1.90v3.80l-3.27 1.90l-3.27-1.90v-3.80zM218.4 297.0l3.27 1.90v3.80l-3.27 1.90l-3.27-1.90v-3.80zM396.1 334.8l3.27 1.90v3.80l-3.27 1.90l-3.27-1.90v-3.80zM271.4 356.4l3.27 1.90v3.80l-3.27 1.90l-3.27-1.90v-3.80z"/><path fill="#435aff" d="M396.1 248.4l3.27 1.90v3.80l-3.27 1.90l-3.27-1.90v-3.80zM408.5 334.8l3.27 1.90v3.80l-3.27 1.90l-3.27-1.90v-3.80zM280.7 361.8l3.27 1.90v3.80l-3.27 1.90l-3.27-1.90v-3.80z"/><path fill="#5d64ff" d="M402.3 248.4l3.27 1.90v3.80l-3.27 1.90l-3.27-1.90v-3.80z"/><path fill="#7c6fff" d="M408.5 248.4l3.27 1.90v3.80l-3.27 1.90l-3.27-1.90v-3.80z"/><path fill="#e7b3e5" d="M439.7 248.4l3.27 1.90v3.80l-3.27 1.90l-3.27-1.90v-3.80zM445.9 280.8l3.27 1.90v3.80l-3.27 1.90l-3.27-1.90v-3.80zM196.5 324.0l3.27 1.90v3.80l-3.27 1.90l-3.27-1.90v-3.80zM199.6 329.4l3.27 1.90v3.80l-3.27 1.90l-3.27-1.90v-3.80z"/><path fill="#927bfa" d="M218.4 253.8l3.27 1.90v3.80l-3.27 1.90l-3.27-1.90v-3.80zM339.9 324.0l3.27 1.90v3.80l-3.27 1.90l-3.27-1.90v-3.80z"/><path fill="#10a0ff" d="M237.1 253.8l3.27 1.90v3.80l-3.27 1.90l-3.27-1.90v-3.80zM355.5 253.8l3.27 1.90v3.80l-3.27 1.90l-3.27-1.90v-3.80z"/><path fill="#eee4e3" d="M280.7 253.8l3.27 1.90v3.80l-3.27 1.90l-3.27-1.90v-3.80z"/><path fill="#2ac7ff" d="M361.8 253.8l3.27 1.90v3.80l-3.27 1.90l-3.27-1.90v-3.80zM383.6 259.1l3.27 1.90v3.80l-3.27 1.90l-3.27-1.90v-3.80zM377.4 280.8l3.27 1.90v3.80l-3.27 1.90l-3.27-1.90v-3.80z"/><path fill="#31d2ff" d="M380.5 253.8l3.27 1.90v3.80l-3.27 1.90l-3.27-1.90v-3.80z"/><path fill="#109bff" d="M386.7 253.8l3.27 1.90v3.80l-3.27 1.90l-3.27-1.90v-3.80zM224.6 275.4l3.27 1.90v3.80l-3.27 1.90l-3.27-1.90v-3.80zM405.4 297.0l3.27 1.90v3.80l-3.27 1.90l-3.27-1.90v-3.80z"/><path fill="#095eff" d="M392.9 253.8l3.27 1.90v3.80l-3.27 1.90l-3.27-1.90v-3.80zM237.1 329.4l3.27 1.90v3.80l-3.27 1.90l-3.27-1.90v-3.80z"/><path fill="#1244ff" d="M399.2 253.8l3.27 1.90v3.80l-3.27 1.90l-3.27-1.90v-3.80z"/><path fill="#3253ff" d="M405.4 253.8l3.27 1.90v3.80l-3.27 1.90l-3.27-1.90v-3.80z"/><path fill="#5c64ff" d="M411.7 253.8l3.27 1.90v3.80l-3.27 1.90l-3.27-1.90v-3.80zM218.4 307.8l3.27 1.90v3.80l-3.27 1.90l-3.27-1.90v-3.80z"/><path fill="#a284f6" d="M417.9 253.8l3.27 1.90v3.80l-3.27 1.90l-3.27-1.90v-3.80z"/><path fill="#eabde2" d="M442.8 253.8l3.27 1.90v3.80l-3.27 1.90l-3.27-1.90v-3.80zM265.1 270.0l3.27 1.90v3.80l-3.27 1.90l-3.27-1.90v-3.80zM364.9 291.6l3.27 1.90v3.80l-3.27 1.90l-3.27-1.90v-3.80zM445.9 313.2l3.27 1.90v3.80l-3.27 1.90l-3.27-1.90v-3.80z"/><path fill="#917afa" d="M215.2 259.1l3.27 1.90v3.80l-3.27 1.90l-3.27-1.90v-3.80z"/><path fill="#16a8ff" d="M233.9 259.1l3.27 1.90v3.80l-3.27 1.90l-3.27-1.90v-3.80zM227.7 270.0l3.27 1.90v3.80l-3.27 1.90l-3.27-1.90v-3.80z"/><path fill="#33d9ff" d="M252.6 259.1l3.27 1.90v3.80l-3.27 1.90l-3.27-1.90v-3.80zM246.4 280.8l3.27 1.90v3.80l-3.27 1.90l-3.27-1.90v-3.80z"/><path fill="#17aaff" d="M258.9 259.1l3.27 1.90v3.80l-3.27 1.90l-3.27-1.90v-3.80zM255.8 264.6l3.27 1.90v3.80l-3.27 1.90l-3.27-1.90v-3.80z"/><path fill="#084cff" d="M265.1 259.1l3.27 1.90v3.80l-3.27 1.90l-3.27-1.90v-3.80z"/><path fill="#6a69ff" d="M352.4 259.1l3.27 1.90v3.80l-3.27 1.90l-3.27-1.90v-3.80zM364.9 356.4l3.27 1.90v3.80l-3.27 1.90l-3.27-1.90v-3.80zM274.5 361.8l3.27 1.90v3.80l-3.27 1.90l-3.27-1.90v-3.80zM349.3 361.8l3.27 1.90v3.80l-3.27 1.90l-3.27-1.90v-3.80z"/><path fill="#0b68ff" d="M396.1 259.1l3.27 1.90v3.80l-3.27 1.90l-3.27-1.90v-3.80z"/><path fill="#2e51ff" d="M408.5 259.1l3.27 1.90v3.80l-3.27 1.90l-3.27-1.90v-3.80zM421.0 313.2l3.27 1.90v3.80l-3.27 1.90l-3.27-1.90v-3.80z"/><path fill="#5461ff" d="M414.8 259.1l3.27 1.90v3.80l-3.27 1.90l-3.27-1.90v-3.80z"/><path fill="#977ef9" d="M421.0 259.1l3.27 1.90v3.80l-3.27 1.90l-3.27-1.90v-3.80zM424.1 264.6l3.27 1.90v3.80l-3.27 1.90l-3.27-1.90v-3.80z"/><path fill="#957cf9" d="M212.1 264.6l3.27 1.90v3.80l-3.27 1.90l-3.27-1.90v-3.80zM421.0 334.8l3.27 1.90v3.80l-3.27 1.90l-3.27-1.90v-3.80z"/><path fill="#1084ff" d="M224.6 264.6l3.27 1.90v3.80l-3.27 1.90l-3.27-1.90v-3.80z"/><path fill="#17abff" d="M230.8 264.6l3.27 1.90v3.80l-3.27 1.90l-3.27-1.90v-3.80zM277.6 324.0l3.27 1.90v3.80l-3.27 1.90l-3.27-1.90v-3.80z"/><path fill="#34dcff" d="M237.1 264.6l3.27 1.90v3.80l-3.27 1.90l-3.27-1.90v-3.80z"/><path fill="#37f1fb" d="M243.3 264.6l3.27 1.90v3.80l-3.27 1.90l-3.27-1.90v-3.80zM240.2 270.0l3.27 1.90v3.80l-3.27 1.90l-3.27-1.90v-3.80zM240.2 291.6l3.27 1.90v3.80l-3.27 1.90l-3.27-1.90v-3.80zM258.9 324.0l3.27 1.90v3.80l-3.27 1.90l-3.27-1.90v-3.80zM374.2 329.4l3.27 1.90v3.80l-3.27 1.90l-3.27-1.90v-3.80z"/><path fill="#eee6e5" d="M274.5 264.6l3.27 1.90v3.80l-3.27 1.90l-3.27-1.90v-3.80zM336.8 286.1l3.27 1.90v3.80l-3.27 1.90l-3.27-1.90v-3.80zM299.4 297.0l3.27 1.90v3.80l-3.27 1.90l-3.27-1.90v-3.80zM305.6 297.0l3.27 1.90v3.80l-3.27 1.90l-3.27-1.90v-3.80zM311.9 297.0l3.27 1.90v3.80l-3.27 1.90l-3.27-1.90v-3.80z"/><path fill="#27c2ff" d="M386.7 264.6l3.27 1.90v3.80l-3.27 1.90l-3.27-1.90v-3.80zM237.1 307.8l3.27 1.90v3.80l-3.27 1.90l-3.27-1.90v-3.80zM315.0 334.8l3.27 1.90v3.80l-3.27 1.90l-3.27-1.90v-3.80zM262.0 340.1l3.27 1.90v3.80l-3.27 1.90l-3.27-1.90v-3.80z"/><path fill="#1094ff" d="M392.9 264.6l3.27 1.90v3.80l-3.27 1.90l-3.27-1.90v-3.80zM305.6 329.4l3.27 1.90v3.80l-3.27 1.90l-3.27-1.90v-3.80z"/><path fill="#0847ff" d="M405.4 264.6l3.27 1.90v3.80l-3.27 1.90l-3.27-1.90v-3.80z"/><path fill="#274eff" d="M411.7 264.6l3.27 1.90v3.80l-3.27 1.90l-3.27-1.90v-3.80z"/><path fill="#a788f4" d="M209.0 270.0l3.27 1.90v3.80l-3.27 1.90l-3.27-1.90v-3.80z"/><path fill="#1144ff" d="M215.2 270.0l3.27 1.90v3.80l-3.27 1.90l-3.27-1.90v-3.80zM311.9 361.8l3.27 1.90v3.80l-3.27 1.90l-3.27-1.90v-3.80z"/><path fill="#095bff" d="M258.9 270.0l3.27 1.90v3.80l-3.27 1.90l-3.27-1.90v-3.80z"/><path fill="#eeddda" d="M352.4 270.0l3.27 1.90v3.80l-3.27 1.90l-3.27-1.90v-3.80z"/><path fill="#9d81f7" d="M358.6 270.0l3.27 1.90v3.80l-3.27 1.90l-3.27-1.90v-3.80zM427.2 270.0l3.27 1.90v3.80l-3.27 1.90l-3.27-1.90v-3.80zM243.3 351.0l3.27 1.90v3.80l-3.27 1.90l-3.27-1.90v-3.80z"/><path fill="#1083ff" d="M364.9 270.0l3.27 1.90v3.80l-3.27 1.90l-3.27-1.90v-3.80zM408.5 302.4l3.27 1.90v3.80l-3.27 1.90l-3.27-1.90v-3.80zM358.6 324.0l3.27 1.90v3.80l-3.27 1.90l-3.27-1.90v-3.80zM380.5 340.1l3.27 1.90v3.80l-3.27 1.90l-3.27-1.90v-3.80z"/><path fill="#0e74ff" d="M402.3 270.0l3.27 1.90v3.80l-3.27 1.90l-3.27-1.90v-3.80zM283.8 356.4l3.27 1.90v3.80l-3.27 1.90l-3.27-1.90v-3.80z"/><path fill="#234cff" d="M414.8 270.0l3.27 1.90v3.80l-3.27 1.90l-3.27-1.90v-3.80zM411.7 329.4l3.27 1.90v3.80l-3.27 1.90l-3.27-1.90v-3.80z"/><path fill="#5160ff" d="M421.0 270.0l3.27 1.90v3.80l-3.27 1.90l-3.27-1.90v-3.80zM427.2 291.6l3.27 1.90v3.80l-3.27 1.90l-3.27-1.90v-3.80zM421.0 324.0l3.27 1.90v3.80l-3.27 1.90l-3.27-1.90v-3.80z"/><path fill="#e9b7e3" d="M445.9 270.0l3.27 1.90v3.80l-3.27 1.90l-3.27-1.90v-3.80zM187.2 307.8l3.27 1.90v3.80l-3.27 1.90l-3.27-1.90v-3.80zM209.0 345.6l3.27 1.90v3.80l-3.27 1.90l-3.27-1.90v-3.80z"/><path fill="#c395f0" d="M205.9 275.4l3.27 1.90v3.80l-3.27 1.90l-3.27-1.90v-3.80z"/><path fill="#495dff" d="M212.1 275.4l3.27 1.90v3.80l-3.27 1.90l-3.27-1.90v-3.80zM383.6 345.6l3.27 1.90v3.80l-3.27 1.90l-3.27-1.90v-3.80z"/><path fill="#0a62ff" d="M218.4 275.4l3.27 1.90v3.80l-3.27 1.90l-3.27-1.90v-3.80zM218.4 286.1l3.27 1.90v3.80l-3.27 1.90l-3.27-1.90v-3.80zM361.8 351.0l3.27 1.90v3.80l-3.27 1.90l-3.27-1.90v-3.80zM277.6 356.4l3.27 1.90v3.80l-3.27 1.90l-3.27-1.90v-3.80z"/><path fill="#2dccff" d="M230.8 275.4l3.27 1.90v3.80l-3.27 1.90l-3.27-1.90v-3.80zM249.5 297.0l3.27 1.90v3.80l-3.27 1.90l-3.27-1.90v-3.80z"/><path fill="#108fff" d="M255.8 275.4l3.27 1.90v3.80l-3.27 1.90l-3.27-1.90v-3.80zM227.7 302.4l3.27 1.90v3.80l-3.27 1.90l-3.27-1.90v-3.80zM258.9 302.4l3.27 1.90v3.80l-3.27 1.90l-3.27-1.90v-3.80zM283.8 324.0l3.27 1.90v3.80l-3.27 1.90l-3.27-1.90v-3.80z"/><path fill="#eee1df" d="M268.2 275.4l3.27 1.90v3.80l-3.27 1.90l-3.27-1.90v-3.80z"/><path fill="#1082ff" d="M368.0 275.4l3.27 1.90v3.80l-3.27 1.90l-3.27-1.90v-3.80zM368.0 318.6l3.27 1.90v3.80l-3.27 1.90l-3.27-1.90v-3.80zM336.8 329.4l3.27 1.90v3.80l-3.27 1.90l-3.27-1.90v-3.80z"/><path fill="#20b9ff" d="M392.9 275.4l3.27 1.90v3.80l-3.27 1.90l-3.27-1.90v-3.80zM336.8 351.0l3.27 1.90v3.80l-3.27 1.90l-3.27-1.90v-3.80z"/><path fill="#0d72ff" d="M405.4 275.4l3.27 1.90v3.80l-3.27 1.90l-3.27-1.90v-3.80zM339.9 356.4l3.27 1.90v3.80l-3.27 1.90l-3.27-1.90v-3.80z"/><path fill="#294eff" d="M417.9 275.4l3.27 1.90v3.80l-3.27 1.90l-3.27-1.90v-3.80z"/><path fill="#5762ff" d="M424.1 275.4l3.27 1.90v3.80l-3.27 1.90l-3.27-1.90v-3.80zM374.2 351.0l3.27 1.90v3.80l-3.27 1.90l-3.27-1.90v-3.80z"/><path fill="#dda6ea" d="M196.5 280.8l3.27 1.90v3.80l-3.27 1.90l-3.27-1.90v-3.80zM355.5 383.4l3.27 1.90v3.80l-3.27 1.90l-3.27-1.90v-3.80zM296.3 388.8l3.27 1.90v3.80l-3.27 1.90l-3.27-1.90v-3.80zM311.9 394.1l3.27 1.90v3.80l-3.27 1.90l-3.27-1.90v-3.80z"/><path fill="#8975fd" d="M209.0 280.8l3.27 1.90v3.80l-3.27 1.90l-3.27-1.90v-3.80zM380.5 351.0l3.27 1.90v3.80l-3.27 1.90l-3.27-1.90v-3.80zM302.5 367.1l3.27 1.90v3.80l-3.27 1.90l-3.27-1.90v-3.80z"/><path fill="#20b8ff" d="M227.7 280.8l3.27 1.90v3.80l-3.27 1.90l-3.27-1.90v-3.80zM286.9 329.4l3.27 1.90v3.80l-3.27 1.90l-3.27-1.90v-3.80z"/><path fill="#18abff" d="M252.6 280.8l3.27 1.90v3.80l-3.27 1.90l-3.27-1.90v-3.80z"/><path fill="#0d42ff" d="M258.9 280.8l3.27 1.90v3.80l-3.27 1.90l-3.27-1.90v-3.80z"/><path fill="#1086ff" d="M371.1 280.8l3.27 1.90v3.80l-3.27 1.90l-3.27-1.90v-3.80z"/><path fill="#33f5f1" d="M383.6 280.8l3.27 1.90v3.80l-3.27 1.90l-3.27-1.90v-3.80z"/><path fill="#1bb0ff" d="M396.1 280.8l3.27 1.90v3.80l-3.27 1.90l-3.27-1.90v-3.80zM252.6 291.6l3.27 1.90v3.80l-3.27 1.90l-3.27-1.90v-3.80zM386.7 329.4l3.27 1.90v3.80l-3.27 1.90l-3.27-1.90v-3.80z"/><path fill="#1090ff" d="M402.3 280.8l3.27 1.90v3.80l-3.27 1.90l-3.27-1.90v-3.80zM246.4 334.8l3.27 1.90v3.80l-3.27 1.90l-3.27-1.90v-3.80z"/><path fill="#0a64ff" d="M408.5 280.8l3.27 1.90v3.80l-3.27 1.90l-3.27-1.90v-3.80z"/><path fill="#3052ff" d="M421.0 280.8l3.27 1.90v3.80l-3.27 1.90l-3.27-1.90v-3.80z"/><path fill="#5f65ff" d="M427.2 280.8l3.27 1.90v3.80l-3.27 1.90l-3.27-1.90v-3.80zM371.1 291.6l3.27 1.90v3.80l-3.27 1.90l-3.27-1.90v-3.80z"/><path fill="#dba4eb" d="M199.6 286.1l3.27 1.90v3.80l-3.27 1.90l-3.27-1.90v-3.80z"/><path fill="#485cff" d="M212.1 286.1l3.27 1.90v3.80l-3.27 1.90l-3.27-1.90v-3.80z"/><path fill="#1099ff" d="M224.6 286.1l3.27 1.90v3.80l-3.27 1.90l-3.27-1.90v-3.80zM402.3 313.2l3.27 1.90v3.80l-3.27 1.90l-3.27-1.90v-3.80zM237.1 318.6l3.27 1.90v3.80l-3.27 1.90l-3.27-1.90v-3.80z"/><path fill="#2ccbff" d="M230.8 286.1l3.27 1.90v3.80l-3.27 1.90l-3.27-1.90v-3.80zM352.4 334.8l3.27 1.90v3.80l-3.27 1.90l-3.27-1.90v-3.80z"/><path fill="#38f0fe" d="M237.1 286.1l3.27 1.90v3.80l-3.27 1.90l-3.27-1.90v-3.80zM280.7 340.1l3.27 1.90v3.80l-3.27 1.90l-3.27-1.90v-3.80z"/><path fill="#eee3e1" d="M268.2 286.1l3.27 1.90v3.80l-3.27 1.90l-3.27-1.90v-3.80zM333.7 291.6l3.27 1.90v3.80l-3.27 1.90l-3.27-1.90v-3.80zM324.4 297.0l3.27 1.90v3.80l-3.27 1.90l-3.27-1.90v-3.80zM308.8 302.4l3.27 1.90v3.80l-3.27 1.90l-3.27-1.90v-3.80zM315.0 302.4l3.27 1.90v3.80l-3.27 1.90l-3.27-1.90v-3.80z"/><path fill="#eee0dd" d="M349.3 286.1l3.27 1.90v3.80l-3.27 1.90l-3.27-1.90v-3.80z"/><path fill="#9a80f8" d="M368.0 286.1l3.27 1.90v3.80l-3.27 1.90l-3.27-1.90v-3.80zM224.6 329.4l3.27 1.90v3.80l-3.27 1.90l-3.27-1.90v-3.80z"/><path fill="#32f8e2" d="M386.7 286.1l3.27 1.90v3.80l-3.27 1.90l-3.27-1.90v-3.80zM389.8 291.6l3.27 1.90v3.80l-3.27 1.90l-3.27-1.90v-3.80z"/><path fill="#36e2ff" d="M392.9 286.1l3.27 1.90v3.80l-3.27 1.90l-3.27-1.90v-3.80z"/><path fill="#0a41ff" d="M417.9 286.1l3.27 1.90v3.80l-3.27 1.90l-3.27-1.90v-3.80z"/><path fill="#3e58ff" d="M424.1 286.1l3.27 1.90v3.80l-3.27 1.90l-3.27-1.90v-3.80z"/><path fill="#0e43ff" d="M215.2 291.6l3.27 1.90v3.80l-3.27 1.90l-3.27-1.90v-3.80z"/><path fill="#16a9ff" d="M227.7 291.6l3.27 1.90v3.80l-3.27 1.90l-3.27-1.90v-3.80zM265.1 345.6l3.27 1.90v3.80l-3.27 1.90l-3.27-1.90v-3.80z"/><path fill="#36e1ff" d="M233.9 291.6l3.27 1.90v3.80l-3.27 1.90l-3.27-1.90v-3.80zM290.1 345.6l3.27 1.90v3.80l-3.27 1.90l-3.27-1.90v-3.80z"/><path fill="#eee1de" d="M339.9 291.6l3.27 1.90v3.80l-3.27 1.90l-3.27-1.90v-3.80zM321.2 302.4l3.27 1.90v3.80l-3.27 1.90l-3.27-1.90v-3.80z"/><path fill="#eeddd9" d="M346.2 291.6l3.27 1.90v3.80l-3.27 1.90l-3.27-1.90v-3.80zM305.6 307.8l3.27 1.90v3.80l-3.27 1.90l-3.27-1.90v-3.80z"/><path fill="#13a5ff" d="M377.4 291.6l3.27 1.90v3.80l-3.27 1.90l-3.27-1.90v-3.80z"/><path fill="#31f7ec" d="M383.6 291.6l3.27 1.90v3.80l-3.27 1.90l-3.27-1.90v-3.80z"/><path fill="#2fceff" d="M396.1 291.6l3.27 1.90v3.80l-3.27 1.90l-3.27-1.90v-3.80zM277.6 345.6l3.27 1.90v3.80l-3.27 1.90l-3.27-1.90v-3.80z"/><path fill="#1e4aff" d="M421.0 291.6l3.27 1.90v3.80l-3.27 1.90l-3.27-1.90v-3.80zM402.3 334.8l3.27 1.90v3.80l-3.27 1.90l-3.27-1.90v-3.80z"/><path fill="#947cfa" d="M212.1 297.0l3.27 1.90v3.80l-3.27 1.90l-3.27-1.90v-3.80z"/><path fill="#1eb5ff" d="M230.8 297.0l3.27 1.90v3.80l-3.27 1.90l-3.27-1.90v-3.80zM343.1 351.0l3.27 1.90v3.80l-3.27 1.90l-3.27-1.90v-3.80z"/><path fill="#28c5ff" d="M380.5 297.0l3.27 1.90v3.80l-3.27 1.90l-3.27-1.90v-3.80zM240.2 313.2l3.27 1.90v3.80l-3.27 1.90l-3.27-1.90v-3.80z"/><path fill="#3ff8c2" d="M386.7 297.0l3.27 1.90v3.80l-3.27 1.90l-3.27-1.90v-3.80z"/><path fill="#34f4f4" d="M392.9 297.0l3.27 1.90v3.80l-3.27 1.90l-3.27-1.90v-3.80z"/><path fill="#23bdff" d="M399.2 297.0l3.27 1.90v3.80l-3.27 1.90l-3.27-1.90v-3.80z"/><path fill="#3152ff" d="M424.1 297.0l3.27 1.90v3.80l-3.27 1.90l-3.27-1.90v-3.80z"/><path fill="#eedcd9" d="M271.4 302.4l3.27 1.90v3.80l-3.27 1.90l-3.27-1.90v-3.80zM327.5 302.4l3.27 1.90v3.80l-3.27 1.90l-3.27-1.90v-3.80z"/><path fill="#eee2e0" d="M296.3 302.4l3.27 1.90v3.80l-3.27 1.90l-3.27-1.90v-3.80z"/><path fill="#eee2df" d="M302.5 302.4l3.27 1.90v3.80l-3.27 1.90l-3.27-1.90v-3.80z"/><path fill="#8774fd" d="M371.1 302.4l3.27 1.90v3.80l-3.27 1.90l-3.27-1.90v-3.80zM430.4 307.8l3.27 1.90v3.80l-3.27 1.90l-3.27-1.90v-3.80z"/><path fill="#13a4ff" d="M377.4 302.4l3.27 1.90v3.80l-3.27 1.90l-3.27-1.90v-3.80zM299.4 329.4l3.27 1.90v3.80l-3.27 1.90l-3.27-1.90v-3.80z"/><path fill="#38f8d4" d="M383.6 302.4l3.27 1.90v3.80l-3.27 1.90l-3.27-1.90v-3.80z"/><path fill="#38f8d3" d="M389.8 302.4l3.27 1.90v3.80l-3.27 1.90l-3.27-1.90v-3.80z"/><path fill="#0850ff" d="M414.8 302.4l3.27 1.90v3.80l-3.27 1.90l-3.27-1.90v-3.80z"/><path fill="#095fff" d="M224.6 307.8l3.27 1.90v3.80l-3.27 1.90l-3.27-1.90v-3.80z"/><path fill="#736cff" d="M268.2 307.8l3.27 1.90v3.80l-3.27 1.90l-3.27-1.90v-3.80z"/><path fill="#31d4ff" d="M380.5 307.8l3.27 1.90v3.80l-3.27 1.90l-3.27-1.90v-3.80zM296.3 334.8l3.27 1.90v3.80l-3.27 1.90l-3.27-1.90v-3.80z"/><path fill="#3bf8cd" d="M386.7 307.8l3.27 1.90v3.80l-3.27 1.90l-3.27-1.90v-3.80z"/><path fill="#0b41ff" d="M417.9 307.8l3.27 1.90v3.80l-3.27 1.90l-3.27-1.90v-3.80z"/><path fill="#4059ff" d="M424.1 307.8l3.27 1.90v3.80l-3.27 1.90l-3.27-1.90v-3.80zM302.5 324.0l3.27 1.90v3.80l-3.27 1.90l-3.27-1.90v-3.80z"/><path fill="#e3aee7" d="M196.5 313.2l3.27 1.90v3.80l-3.27 1.90l-3.27-1.90v-3.80zM336.8 394.1l3.27 1.90v3.80l-3.27 1.90l-3.27-1.90v-3.80z"/><path fill="#445bff" d="M221.5 313.2l3.27 1.90v3.80l-3.27 1.90l-3.27-1.90v-3.80z"/><path fill="#0b65ff" d="M227.7 313.2l3.27 1.90v3.80l-3.27 1.90l-3.27-1.90v-3.80z"/><path fill="#2ac6ff" d="M258.9 313.2l3.27 1.90v3.80l-3.27 1.90l-3.27-1.90v-3.80z"/><path fill="#eededa" d="M315.0 313.2l3.27 1.90v3.80l-3.27 1.90l-3.27-1.90v-3.80z"/><path fill="#26c0ff" d="M377.4 313.2l3.27 1.90v3.80l-3.27 1.90l-3.27-1.90v-3.80z"/><path fill="#36f8d9" d="M383.6 313.2l3.27 1.90v3.80l-3.27 1.90l-3.27-1.90v-3.80z"/><path fill="#20b7ff" d="M396.1 313.2l3.27 1.90v3.80l-3.27 1.90l-3.27-1.90v-3.80z"/><path fill="#6266ff" d="M427.2 313.2l3.27 1.90v3.80l-3.27 1.90l-3.27-1.90v-3.80z"/><path fill="#9e82f7" d="M218.4 318.6l3.27 1.90v3.80l-3.27 1.90l-3.27-1.90v-3.80zM424.1 329.4l3.27 1.90v3.80l-3.27 1.90l-3.27-1.90v-3.80z"/><path fill="#294fff" d="M224.6 318.6l3.27 1.90v3.80l-3.27 1.90l-3.27-1.90v-3.80z"/><path fill="#0b67ff" d="M230.8 318.6l3.27 1.90v3.80l-3.27 1.90l-3.27-1.90v-3.80z"/><path fill="#29c5ff" d="M374.2 318.6l3.27 1.90v3.80l-3.27 1.90l-3.27-1.90v-3.80z"/><path fill="#33f5f0" d="M380.5 318.6l3.27 1.90v3.80l-3.27 1.90l-3.27-1.90v-3.80z"/><path fill="#244cff" d="M417.9 318.6l3.27 1.90v3.80l-3.27 1.90l-3.27-1.90v-3.80zM324.4 361.8l3.27 1.90v3.80l-3.27 1.90l-3.27-1.90v-3.80z"/><path fill="#5361ff" d="M424.1 318.6l3.27 1.90v3.80l-3.27 1.90l-3.27-1.90v-3.80zM258.9 356.4l3.27 1.90v3.80l-3.27 1.90l-3.27-1.90v-3.80z"/><path fill="#3855ff" d="M227.7 324.0l3.27 1.90v3.80l-3.27 1.90l-3.27-1.90v-3.80z"/><path fill="#0a61ff" d="M233.9 324.0l3.27 1.90v3.80l-3.27 1.90l-3.27-1.90v-3.80zM290.1 324.0l3.27 1.90v3.80l-3.27 1.90l-3.27-1.90v-3.80z"/><path fill="#2bc8ff" d="M271.4 324.0l3.27 1.90v3.80l-3.27 1.90l-3.27-1.90v-3.80z"/><path fill="#8d78fb" d="M315.0 324.0l3.27 1.90v3.80l-3.27 1.90l-3.27-1.90v-3.80z"/><path fill="#a888f4" d="M333.7 324.0l3.27 1.90v3.80l-3.27 1.90l-3.27-1.90v-3.80z"/><path fill="#1446ff" d="M352.4 324.0l3.27 1.90v3.80l-3.27 1.90l-3.27-1.90v-3.80z"/><path fill="#35f3f6" d="M377.4 324.0l3.27 1.90v3.80l-3.27 1.90l-3.27-1.90v-3.80z"/><path fill="#36e3ff" d="M383.6 324.0l3.27 1.90v3.80l-3.27 1.90l-3.27-1.90v-3.80z"/><path fill="#1db4ff" d="M389.8 324.0l3.27 1.90v3.80l-3.27 1.90l-3.27-1.90v-3.80z"/><path fill="#204bff" d="M414.8 324.0l3.27 1.90v3.80l-3.27 1.90l-3.27-1.90v-3.80z"/><path fill="#37e5ff" d="M255.8 329.4l3.27 1.90v3.80l-3.27 1.90l-3.27-1.90v-3.80z"/><path fill="#37e4ff" d="M274.5 329.4l3.27 1.90v3.80l-3.27 1.90l-3.27-1.90v-3.80z"/><path fill="#2ac8ff" d="M280.7 329.4l3.27 1.90v3.80l-3.27 1.90l-3.27-1.90v-3.80z"/><path fill="#19adff" d="M293.2 329.4l3.27 1.90v3.80l-3.27 1.90l-3.27-1.90v-3.80z"/><path fill="#1088ff" d="M311.9 329.4l3.27 1.90v3.80l-3.27 1.90l-3.27-1.90v-3.80zM343.1 329.4l3.27 1.90v3.80l-3.27 1.90l-3.27-1.90v-3.80zM392.9 329.4l3.27 1.90v3.80l-3.27 1.90l-3.27-1.90v-3.80z"/><path fill="#2ccaff" d="M361.8 329.4l3.27 1.90v3.80l-3.27 1.90l-3.27-1.90v-3.80zM302.5 334.8l3.27 1.90v3.80l-3.27 1.90l-3.27-1.90v-3.80z"/><path fill="#4b5eff" d="M417.9 329.4l3.27 1.90v3.80l-3.27 1.90l-3.27-1.90v-3.80z"/><path fill="#dca4ea" d="M430.4 329.4l3.27 1.90v3.80l-3.27 1.90l-3.27-1.90v-3.80zM227.7 345.6l3.27 1.90v3.80l-3.27 1.90l-3.27-1.90v-3.80z"/><path fill="#9f83f6" d="M227.7 334.8l3.27 1.90v3.80l-3.27 1.90l-3.27-1.90v-3.80z"/><path fill="#465cff" d="M233.9 334.8l3.27 1.90v3.80l-3.27 1.90l-3.27-1.90v-3.80z"/><path fill="#0858ff" d="M240.2 334.8l3.27 1.90v3.80l-3.27 1.90l-3.27-1.90v-3.80z"/><path fill="#37f1fc" d="M271.4 334.8l3.27 1.90v3.80l-3.27 1.90l-3.27-1.90v-3.80zM286.9 340.1l3.27 1.90v3.80l-3.27 1.90l-3.27-1.90v-3.80zM293.2 340.1l3.27 1.90v3.80l-3.27 1.90l-3.27-1.90v-3.80zM355.5 340.1l3.27 1.90v3.80l-3.27 1.90l-3.27-1.90v-3.80z"/><path fill="#38e7ff" d="M283.8 334.8l3.27 1.90v3.80l-3.27 1.90l-3.27-1.90v-3.80zM296.3 345.6l3.27 1.90v3.80l-3.27 1.90l-3.27-1.90v-3.80z"/><path fill="#2eccff" d="M377.4 334.8l3.27 1.90v3.80l-3.27 1.90l-3.27-1.90v-3.80z"/><path fill="#11a2ff" d="M383.6 334.8l3.27 1.90v3.80l-3.27 1.90l-3.27-1.90v-3.80z"/><path fill="#0e77ff" d="M389.8 334.8l3.27 1.90v3.80l-3.27 1.90l-3.27-1.90v-3.80z"/><path fill="#30d0ff" d="M368.0 340.1l3.27 1.90v3.80l-3.27 1.90l-3.27-1.90v-3.80z"/><path fill="#776dff" d="M405.4 340.1l3.27 1.90v3.80l-3.27 1.90l-3.27-1.90v-3.80z"/><path fill="#e0abe8" d="M221.5 345.6l3.27 1.90v3.80l-3.27 1.90l-3.27-1.90v-3.80zM330.6 394.1l3.27 1.90v3.80l-3.27 1.90l-3.27-1.90v-3.80z"/><path fill="#1f4aff" d="M246.4 345.6l3.27 1.90v3.80l-3.27 1.90l-3.27-1.90v-3.80z"/><path fill="#21baff" d="M271.4 345.6l3.27 1.90v3.80l-3.27 1.90l-3.27-1.90v-3.80z"/><path fill="#2dcbff" d="M358.6 345.6l3.27 1.90v3.80l-3.27 1.90l-3.27-1.90v-3.80z"/><path fill="#1cb3ff" d="M364.9 345.6l3.27 1.90v3.80l-3.27 1.90l-3.27-1.90v-3.80zM299.4 351.0l3.27 1.90v3.80l-3.27 1.90l-3.27-1.90v-3.80z"/><path fill="#084dff" d="M377.4 345.6l3.27 1.90v3.80l-3.27 1.90l-3.27-1.90v-3.80z"/><path fill="#957df9" d="M396.1 345.6l3.27 1.90v3.80l-3.27 1.90l-3.27-1.90v-3.80z"/><path fill="#0a60ff" d="M262.0 351.0l3.27 1.90v3.80l-3.27 1.90l-3.27-1.90v-3.80z"/><path fill="#14a5ff" d="M280.7 351.0l3.27 1.90v3.80l-3.27 1.90l-3.27-1.90v-3.80z"/><path fill="#21b9ff" d="M305.6 351.0l3.27 1.90v3.80l-3.27 1.90l-3.27-1.90v-3.80z"/><path fill="#1043ff" d="M368.0 351.0l3.27 1.90v3.80l-3.27 1.90l-3.27-1.90v-3.80zM318.1 361.8l3.27 1.90v3.80l-3.27 1.90l-3.27-1.90v-3.80z"/><path fill="#8b76fc" d="M252.6 356.4l3.27 1.90v3.80l-3.27 1.90l-3.27-1.90v-3.80z"/><path fill="#214bff" d="M265.1 356.4l3.27 1.90v3.80l-3.27 1.90l-3.27-1.90v-3.80z"/><path fill="#1080ff" d="M296.3 356.4l3.27 1.90v3.80l-3.27 1.90l-3.27-1.90v-3.80z"/><path fill="#108dff" d="M315.0 356.4l3.27 1.90v3.80l-3.27 1.90l-3.27-1.90v-3.80z"/><path fill="#0f7dff" d="M333.7 356.4l3.27 1.90v3.80l-3.27 1.90l-3.27-1.90v-3.80z"/><path fill="#0b66ff" d="M346.2 356.4l3.27 1.90v3.80l-3.27 1.90l-3.27-1.90v-3.80z"/><path fill="#3956ff" d="M358.6 356.4l3.27 1.90v3.80l-3.27 1.90l-3.27-1.90v-3.80zM286.9 361.8l3.27 1.90v3.80l-3.27 1.90l-3.27-1.90v-3.80z"/><path fill="#8e79fb" d="M371.1 356.4l3.27 1.90v3.80l-3.27 1.90l-3.27-1.90v-3.80z"/><path fill="#2d50ff" d="M293.2 361.8l3.27 1.90v3.80l-3.27 1.90l-3.27-1.90v-3.80z"/><path fill="#254dff" d="M299.4 361.8l3.27 1.90v3.80l-3.27 1.90l-3.27-1.90v-3.80z"/><path fill="#3a56ff" d="M330.6 361.8l3.27 1.90v3.80l-3.27 1.90l-3.27-1.90v-3.80z"/><path fill="#5b64ff" d="M343.1 361.8l3.27 1.90v3.80l-3.27 1.90l-3.27-1.90v-3.80z"/><path fill="#d79fec" d="M392.9 361.8l3.27 1.90v3.80l-3.27 1.90l-3.27-1.90v-3.80zM343.1 383.4l3.27 1.90v3.80l-3.27 1.90l-3.27-1.90v-3.80z"/><path fill="#b790f1" d="M271.4 367.1l3.27 1.90v3.80l-3.27 1.90l-3.27-1.90v-3.80zM343.1 372.6l3.27 1.90v3.80l-3.27 1.90l-3.27-1.90v-3.80z"/><path fill="#a184f6" d="M277.6 367.1l3.27 1.90v3.80l-3.27 1.90l-3.27-1.90v-3.80z"/><path fill="#967df9" d="M283.8 367.1l3.27 1.90v3.80l-3.27 1.90l-3.27-1.90v-3.80z"/><path fill="#9079fb" d="M327.5 367.1l3.27 1.90v3.80l-3.27 1.90l-3.27-1.90v-3.80z"/><path fill="#e0a9e8" d="M396.1 367.1l3.27 1.90v3.80l-3.27 1.90l-3.27-1.90v-3.80z"/><path fill="#e9b9e3" d="M286.9 394.1l3.27 1.90v3.80l-3.27 1.90l-3.27-1.90v-3.80z"/></g>
<g clip-path="url(#gc)"><path d="M321.0,301.5 L320.6,301.9 L320.1,302.4 L319.7,302.9 L319.2,303.4 L318.8,303.9 L318.3,304.4 L317.9,304.9 L317.4,305.4 L317.0,305.8 L316.5,306.3 L316.1,306.8 L315.6,307.3 L315.2,307.8 L314.7,308.2 L314.3,308.7 L313.8,309.2 L313.4,309.7 L312.9,310.1 L312.5,310.6 L312.0,311.1 L311.6,311.5 L311.1,312.0 L310.7,312.5 L310.2,312.9 L309.8,313.4 L309.4,313.8 L308.9,314.3 L308.5,314.7 L308.0,315.2 L307.6,315.7 L307.1,316.1 L306.7,316.6 L306.2,317.0 L305.8,317.5 L305.3,317.9 L304.9,318.3 L304.5,318.8 L304.0,319.2 L303.6,319.7 L303.1,320.1 L302.7,320.5 L302.2,321.0 L301.8,321.4 L301.4,321.8 L300.9,322.3 L300.5,322.7 L300.0,323.1 L299.6,323.6 L299.2,324.0 L298.7,324.4 L298.3,324.8 L297.9,325.2 L297.4,325.7 L297.0,326.1 L296.5,326.5 L296.1,326.9 L295.7,327.3 L295.2,327.7 L294.8,328.1 L294.4,328.5 L293.9,328.9 L293.5,329.4 L293.1,329.8 L292.6,330.2 L292.2,330.5 L291.8,330.9 L291.3,331.3 L290.9,331.7 L290.5,332.1 L290.1,332.5 L289.6,332.9 L289.2,333.3 L288.8,333.7 L288.3,334.0 L287.9,334.4 L287.5,334.8 L287.1,335.2 L286.6,335.6 L286.2,335.9 L285.8,336.3 L285.4,336.7 L285.0,337.0 L284.5,337.4 L284.1,337.8 L283.7,338.1 L283.3,338.5 L282.9,338.8 L282.4,339.2 L282.0,339.5 L281.6,339.9 L281.2,340.2 L280.8,340.6 L280.4,340.9 L280.0,341.3 L279.6,341.6 L279.1,342.0 L278.7,342.3 L278.3,342.6 L277.9,343.0 L277.5,343.3 L277.1,343.6 L276.7,344.0 L276.3,344.3 L275.9,344.6 L275.5,344.9 L275.1,345.3 L274.7,345.6 L274.3,345.9 L273.9,346.2 L273.5,346.5 L273.1,346.8 L272.7,347.1 L272.3,347.4 L271.9,347.7 L271.5,348.0 L271.1,348.3 L270.7,348.6 L270.3,348.9 L269.9,349.2 L269.5,349.5 L269.2,349.8 L268.8,350.1 L268.4,350.4 L268.0,350.7 L267.6,350.9 L267.2,351.2 L266.8,351.5 L266.5,351.8 L266.1,352.0 L265.7,352.3 L265.3,352.6 L265.0,352.9 L264.6,353.1 L264.2,353.4 L263.8,353.6 L263.5,353.9 L263.1,354.1 L262.7,354.4 L262.3,354.6 L262.0,354.9 L261.6,355.1 L261.2,355.4 L260.9,355.6 L260.5,355.9 L260.1,356.1 L259.8,356.3 L259.4,356.6 L259.1,356.8 L258.7,357.0 L258.4,357.3 L258.0,357.5 L257.6,357.7 L257.3,357.9 L256.9,358.1 L256.6,358.3 L256.2,358.6 L255.9,358.8 L255.5,359.0 L255.2,359.2 L254.9,359.4 L254.5,359.6 L254.2,359.8 L253.8,360.0 L253.5,360.2 L253.1,360.4 L252.8,360.6 L252.5,360.7 L252.1,360.9 L251.8,361.1 L251.5,361.3 L251.1,361.5 L250.8,361.6 L250.5,361.8 L250.2,362.0 L249.8,362.2 L249.5,362.3 L249.2,362.5 L248.9,362.6 L248.5,362.8 L248.2,363.0 L247.9,363.1 L247.6,363.3 L247.3,363.4 L247.0,363.6 L246.7,363.7 L246.4,363.9 L246.0,364.0 L245.7,364.1 L245.4,364.3 L245.1,364.4 L244.8,364.5 L244.5,364.7 L244.2,364.8 L243.9,364.9 L243.6,365.0 L243.3,365.1 L243.0,365.3 L242.7,365.4 L242.5,365.5 L242.2,365.6 L241.9,365.7 L241.6,365.8 L241.3,365.9 L241.0,366.0 L240.7,366.1 L240.5,366.2 L240.2,366.3 L239.9,366.4 L239.6,366.5 L239.4,366.5 L239.1,366.6 L238.8,366.7 L238.5,366.8 L238.3,366.9 L238.0,366.9 L237.7,367.0 L237.5,367.1 L237.2,367.1 L237.0,367.2 L236.7,367.3 L236.4,367.3 L236.2,367.4 L235.9,367.4 L235.7,367.5 L235.4,367.5 L235.2,367.6 L234.9,367.6 L234.7,367.7 L234.4,367.7 L234.2,367.7 L234.0,367.8 L233.7,367.8 L233.5,367.8 L233.3,367.8 L233.0,367.9 L232.8,367.9 L232.6,367.9 L232.3,367.9 L232.1,367.9 L231.9,367.9 L231.7,368.0 L231.4,368.0 L231.2,368.0 L231.0,368.0 L230.8,368.0 L230.6,368.0 L230.3,368.0 L230.1,367.9 L229.9,367.9 L229.7,367.9 L229.5,367.9 L229.3,367.9 L229.1,367.9 L228.9,367.8 L228.7,367.8 L228.5,367.8 L228.3,367.8 L228.1,367.7 L227.9,367.7 L227.7,367.7 L227.5,367.6 L227.4,367.6 L227.2,367.5 L227.0,367.5 L226.8,367.4 L226.6,367.4 L226.4,367.3 L226.3,367.3 L226.1,367.2 L225.9,367.1 L225.8,367.1 L225.6,367.0 L225.4,366.9 L225.3,366.9 L225.1,366.8 L224.9,366.7 L224.8,366.6 L224.6,366.6 L224.5,366.5 L224.3,366.4 L224.1,366.3 L224.0,366.2 L223.8,366.1 L223.7,366.0 L223.6,365.9 L223.4,365.8 L223.3,365.7M321.0,301.5 L320.3,301.7 L319.7,301.9 L319.0,302.1 L318.4,302.3 L317.7,302.5 L317.1,302.8 L316.4,303.0 L315.7,303.2 L315.1,303.4 L314.4,303.6 L313.8,303.8 L313.1,304.0 L312.5,304.2 L311.8,304.4 L311.2,304.6 L310.5,304.8 L309.9,305.0 L309.2,305.2 L308.5,305.4 L307.9,305.6 L307.2,305.8 L306.6,306.0 L305.9,306.2 L305.3,306.4 L304.6,306.6 L304.0,306.8 L303.3,306.9 L302.7,307.1 L302.0,307.3 L301.4,307.5 L300.7,307.7 L300.1,307.9 L299.4,308.0 L298.8,308.2 L298.1,308.4 L297.5,308.6 L296.8,308.7 L296.2,308.9 L295.5,309.1 L294.9,309.3 L294.2,309.4 L293.6,309.6 L292.9,309.8 L292.3,309.9 L291.6,310.1 L291.0,310.2 L290.4,310.4 L289.7,310.6 L289.1,310.7 L288.4,310.9 L287.8,311.0 L287.2,311.2 L286.5,311.3 L285.9,311.5 L285.2,311.6 L284.6,311.8 L284.0,311.9 L283.3,312.1 L282.7,312.2 L282.1,312.4 L281.4,312.5 L280.8,312.7 L280.2,312.8 L279.5,312.9 L278.9,313.1 L278.3,313.2 L277.6,313.3 L277.0,313.5 L276.4,313.6 L275.8,313.7 L275.1,313.8 L274.5,314.0 L273.9,314.1 L273.3,314.2 L272.6,314.3 L272.0,314.5 L271.4,314.6 L270.8,314.7 L270.2,314.8 L269.5,314.9 L268.9,315.0 L268.3,315.1 L267.7,315.3 L267.1,315.4 L266.5,315.5 L265.9,315.6 L265.3,315.7 L264.6,315.8 L264.0,315.9 L263.4,316.0 L262.8,316.1 L262.2,316.2 L261.6,316.3 L261.0,316.4 L260.4,316.5 L259.8,316.5 L259.2,316.6 L258.6,316.7 L258.0,316.8 L257.4,316.9 L256.8,317.0 L256.2,317.1 L255.6,317.1 L255.0,317.2 L254.5,317.3 L253.9,317.4 L253.3,317.4 L252.7,317.5 L252.1,317.6 L251.5,317.7 L251.0,317.7 L250.4,317.8 L249.8,317.9 L249.2,317.9 L248.6,318.0 L248.1,318.0 L247.5,318.1 L246.9,318.2 L246.3,318.2 L245.8,318.3 L245.2,318.3 L244.6,318.4 L244.1,318.4 L243.5,318.5 L243.0,318.5 L242.4,318.6 L241.8,318.6 L241.3,318.7 L240.7,318.7 L240.2,318.7 L239.6,318.8 L239.1,318.8 L238.5,318.9 L238.0,318.9 L237.4,318.9 L236.9,318.9 L236.3,319.0 L235.8,319.0 L235.2,319.0 L234.7,319.1 L234.2,319.1 L233.6,319.1 L233.1,319.1 L232.6,319.1 L232.0,319.2 L231.5,319.2 L231.0,319.2 L230.5,319.2 L229.9,319.2 L229.4,319.2 L228.9,319.2 L228.4,319.2 L227.9,319.2 L227.3,319.2 L226.8,319.2 L226.3,319.2 L225.8,319.2 L225.3,319.2 L224.8,319.2 L224.3,319.2 L223.8,319.2 L223.3,319.2 L222.8,319.2 L222.3,319.2 L221.8,319.2 L221.3,319.2 L220.8,319.1 L220.3,319.1 L219.8,319.1 L219.4,319.1 L218.9,319.1 L218.4,319.0 L217.9,319.0 L217.4,319.0 L217.0,318.9 L216.5,318.9 L216.0,318.9 L215.6,318.8 L215.1,318.8 L214.6,318.8 L214.2,318.7 L213.7,318.7 L213.2,318.7 L212.8,318.6 L212.3,318.6 L211.9,318.5 L211.4,318.5 L211.0,318.4 L210.5,318.4 L210.1,318.3 L209.6,318.3 L209.2,318.2 L208.8,318.2 L208.3,318.1 L207.9,318.0 L207.5,318.0 L207.0,317.9 L206.6,317.9 L206.2,317.8 L205.8,317.7 L205.3,317.7 L204.9,317.6 L204.5,317.5 L204.1,317.4 L203.7,317.4 L203.3,317.3 L202.9,317.2 L202.4,317.1 L202.0,317.1 L201.6,317.0 L201.2,316.9 L200.8,316.8 L200.5,316.7 L200.1,316.6 L199.7,316.5 L199.3,316.4 L198.9,316.4 L198.5,316.3 L198.1,316.2 L197.8,316.1 L197.4,316.0 L197.0,315.9 L196.6,315.8 L196.3,315.7 L195.9,315.6 L195.5,315.5 L195.2,315.4 L194.8,315.2 L194.5,315.1 L194.1,315.0 L193.8,314.9 L193.4,314.8 L193.1,314.7 L192.7,314.6 L192.4,314.4 L192.0,314.3 L191.7,314.2 L191.4,314.1 L191.0,314.0 L190.7,313.8 L190.4,313.7 L190.1,313.6 L189.7,313.4 L189.4,313.3 L189.1,313.2 L188.8,313.0 L188.5,312.9 L188.2,312.8 L187.9,312.6 L187.6,312.5 L187.3,312.4 L187.0,312.2 L186.7,312.1 L186.4,311.9 L186.1,311.8 L185.8,311.6 L185.5,311.5 L185.2,311.3 L184.9,311.2 L184.7,311.0 L184.4,310.9 L184.1,310.7 L183.8,310.5 L183.6,310.4 L183.3,310.2 L183.0,310.1 L182.8,309.9 L182.5,309.7 L182.3,309.6 L182.0,309.4 L181.8,309.2 L181.5,309.1 L181.3,308.9 L181.0,308.7 L180.8,308.6 L180.5,308.4 L180.3,308.2 L180.1,308.0 L179.9,307.8 L179.6,307.7 L179.4,307.5 L179.2,307.3 L179.0,307.1 L178.8,306.9 L178.5,306.7 L178.3,306.5 L178.1,306.4 L177.9,306.2 L177.7,306.0 L177.5,305.8 L177.3,305.6 L177.1,305.4 L176.9,305.2 L176.8,305.0 L176.6,304.8 L176.4,304.6 L176.2,304.4 L176.0,304.2 L175.9,304.0 L175.7,303.8 L175.5,303.6 L175.3,303.4 L175.2,303.2 L175.0,302.9 L174.9,302.7 L174.7,302.5 L174.6,302.3 L174.4,302.1 L174.3,301.9 L174.1,301.6 L174.0,301.4 L173.8,301.2 L173.7,301.0 L173.6,300.8 L173.4,300.5 L173.3,300.3 L173.2,300.1 L173.1,299.9 L173.0,299.6 L172.8,299.4 L172.7,299.2 L172.6,298.9 L172.5,298.7 L172.4,298.5 L172.3,298.2 L172.2,298.0M321.0,301.5 L320.3,301.3 L319.6,301.2 L318.9,301.1 L318.2,301.0 L317.6,300.9 L316.9,300.8 L316.2,300.6 L315.5,300.5 L314.8,300.4 L314.1,300.3 L313.4,300.2 L312.7,300.0 L312.1,299.9 L311.4,299.8 L310.7,299.6 L310.0,299.5 L309.3,299.4 L308.6,299.3 L307.9,299.1 L307.3,299.0 L306.6,298.9 L305.9,298.7 L305.2,298.6 L304.5,298.4 L303.8,298.3 L303.2,298.2 L302.5,298.0 L301.8,297.9 L301.1,297.7 L300.4,297.6 L299.7,297.4 L299.1,297.3 L298.4,297.1 L297.7,297.0 L297.0,296.8 L296.3,296.7 L295.7,296.5 L295.0,296.4 L294.3,296.2 L293.6,296.1 L292.9,295.9 L292.3,295.7 L291.6,295.6 L290.9,295.4 L290.2,295.3 L289.6,295.1 L288.9,294.9 L288.2,294.8 L287.5,294.6 L286.9,294.4 L286.2,294.3 L285.5,294.1 L284.9,293.9 L284.2,293.8 L283.5,293.6 L282.9,293.4 L282.2,293.2 L281.5,293.1 L280.9,292.9 L280.2,292.7 L279.5,292.5 L278.9,292.3 L278.2,292.2 L277.5,292.0 L276.9,291.8 L276.2,291.6 L275.6,291.4 L274.9,291.2 L274.2,291.1 L273.6,290.9 L272.9,290.7 L272.3,290.5 L271.6,290.3 L271.0,290.1 L270.3,289.9 L269.7,289.7 L269.0,289.5 L268.4,289.3 L267.7,289.1 L267.1,288.9 L266.4,288.7 L265.8,288.5 L265.1,288.3 L264.5,288.1 L263.9,287.9 L263.2,287.7 L262.6,287.5 L261.9,287.3 L261.3,287.1 L260.7,286.9 L260.0,286.7 L259.4,286.5 L258.8,286.3 L258.1,286.1 L257.5,285.9 L256.9,285.6 L256.2,285.4 L255.6,285.2 L255.0,285.0 L254.4,284.8 L253.7,284.6 L253.1,284.3 L252.5,284.1 L251.9,283.9 L251.3,283.7 L250.6,283.5 L250.0,283.2 L249.4,283.0 L248.8,282.8 L248.2,282.6 L247.6,282.3 L247.0,282.1 L246.4,281.9 L245.8,281.7 L245.2,281.4 L244.6,281.2 L244.0,281.0 L243.4,280.7 L242.8,280.5 L242.2,280.3 L241.6,280.0 L241.0,279.8 L240.4,279.6 L239.8,279.3 L239.2,279.1 L238.6,278.9 L238.0,278.6 L237.4,278.4 L236.9,278.1 L236.3,277.9 L235.7,277.7 L235.1,277.4 L234.6,277.2 L234.0,276.9 L233.4,276.7 L232.8,276.5 L232.3,276.2 L231.7,276.0 L231.1,275.7 L230.6,275.5 L230.0,275.2 L229.4,275.0 L228.9,274.7 L228.3,274.5 L227.8,274.2 L227.2,274.0 L226.7,273.7 L226.1,273.5 L225.6,273.2 L225.0,273.0 L224.5,272.7 L223.9,272.4 L223.4,272.2 L222.8,271.9 L222.3,271.7 L221.8,271.4 L221.2,271.2 L220.7,270.9 L220.2,270.6 L219.7,270.4 L219.1,270.1 L218.6,269.8 L218.1,269.6 L217.6,269.3 L217.0,269.1 L216.5,268.8 L216.0,268.5 L215.5,268.3 L215.0,268.0 L214.5,267.7 L214.0,267.5 L213.5,267.2 L213.0,266.9 L212.5,266.7 L212.0,266.4 L211.5,266.1 L211.0,265.9 L210.5,265.6 L210.0,265.3 L209.5,265.0 L209.0,264.8 L208.5,264.5 L208.1,264.2 L207.6,263.9 L207.1,263.7 L206.6,263.4 L206.2,263.1 L205.7,262.8 L205.2,262.6 L204.8,262.3 L204.3,262.0 L203.8,261.7 L203.4,261.5 L202.9,261.2 L202.5,260.9 L202.0,260.6 L201.6,260.3 L201.1,260.1 L200.7,259.8 L200.2,259.5 L199.8,259.2 L199.3,258.9 L198.9,258.7 L198.5,258.4 L198.0,258.1 L197.6,257.8 L197.2,257.5 L196.8,257.2 L196.3,257.0 L195.9,256.7 L195.5,256.4 L195.1,256.1 L194.7,255.8 L194.3,255.5 L193.8,255.3 L193.4,255.0 L193.0,254.7 L192.6,254.4 L192.2,254.1 L191.8,253.8 L191.5,253.5 L191.1,253.2 L190.7,253.0 L190.3,252.7 L189.9,252.4 L189.5,252.1 L189.1,251.8 L188.8,251.5 L188.4,251.2 L188.0,250.9 L187.7,250.6 L187.3,250.3 L186.9,250.1 L186.6,249.8 L186.2,249.5 L185.9,249.2 L185.5,248.9 L185.1,248.6 L184.8,248.3 L184.5,248.0 L184.1,247.7 L183.8,247.4 L183.4,247.1 L183.1,246.8 L182.8,246.6 L182.4,246.3 L182.1,246.0 L181.8,245.7 L181.5,245.4 L181.1,245.1 L180.8,244.8 L180.5,244.5 L180.2,244.2 L179.9,243.9 L179.6,243.6 L179.3,243.3 L179.0,243.0 L178.7,242.7 L178.4,242.4 L178.1,242.1 L177.8,241.8 L177.5,241.6 L177.2,241.3 L177.0,241.0 L176.7,240.7 L176.4,240.4 L176.1,240.1 L175.9,239.8 L175.6,239.5 L175.3,239.2 L175.1,238.9 L174.8,238.6 L174.6,238.3 L174.3,238.0 L174.1,237.7 L173.8,237.4 L173.6,237.1 L173.3,236.8 L173.1,236.5 L172.8,236.2 L172.6,236.0 L172.4,235.7 L172.1,235.4 L171.9,235.1 L171.7,234.8 L171.5,234.5 L171.3,234.2 L171.0,233.9 L170.8,233.6 L170.6,233.3 L170.4,233.0 L170.2,232.7 L170.0,232.4 L169.8,232.1 L169.6,231.8 L169.4,231.5 L169.3,231.3 L169.1,231.0 L168.9,230.7 L168.7,230.4 L168.5,230.1 L168.4,229.8 L168.2,229.5 L168.0,229.2 L167.9,228.9 L167.7,228.6 L167.5,228.3 L167.4,228.0 L167.2,227.7 L167.1,227.5 L166.9,227.2 L166.8,226.9 L166.6,226.6 L166.5,226.3 L166.4,226.0 L166.2,225.7 L166.1,225.4 L166.0,225.1 L165.8,224.8 L165.7,224.6 L165.6,224.3 L165.5,224.0 L165.4,223.7 L165.3,223.4 L165.2,223.1 L165.1,222.8 L165.0,222.6 L164.9,222.3 L164.8,222.0 L164.7,221.7 L164.6,221.4 L164.5,221.1 L164.4,220.8 L164.3,220.6 L164.3,220.3 L164.2,220.0 L164.1,219.7 L164.1,219.4 L164.0,219.1 L163.9,218.9 L163.9,218.6 L163.8,218.3 L163.8,218.0 L163.7,217.7 L163.7,217.5 L163.6,217.2 L163.6,216.9 L163.5,216.6 L163.5,216.3 L163.5,216.1 L163.5,215.8 L163.4,215.5 L163.4,215.2 L163.4,215.0 L163.4,214.7 L163.4,214.4 L163.3,214.1 L163.3,213.9 L163.3,213.6 L163.3,213.3 L163.3,213.0 L163.3,212.8 L163.3,212.5 L163.4,212.2 L163.4,212.0 L163.4,211.7 L163.4,211.4 L163.4,211.1 L163.5,210.9 L163.5,210.6 L163.5,210.3 L163.5,210.1 L163.6,209.8 L163.6,209.5 L163.7,209.3 L163.7,209.0M321.0,301.5 L320.5,301.0 L319.9,300.6 L319.4,300.2 L318.9,299.8 L318.3,299.4 L317.8,299.0 L317.3,298.5 L316.7,298.1 L316.2,297.7 L315.7,297.3 L315.1,296.8 L314.6,296.4 L314.0,296.0 L313.5,295.6 L313.0,295.1 L312.4,294.7 L311.9,294.3 L311.4,293.8 L310.8,293.4 L310.3,293.0 L309.8,292.5 L309.2,292.1 L308.7,291.7 L308.2,291.2 L307.6,290.8 L307.1,290.3 L306.6,289.9 L306.1,289.4 L305.5,289.0 L305.0,288.6 L304.5,288.1 L303.9,287.7 L303.4,287.2 L302.9,286.8 L302.3,286.3 L301.8,285.9 L301.3,285.4 L300.8,285.0 L300.2,284.5 L299.7,284.1 L299.2,283.6 L298.6,283.1 L298.1,282.7 L297.6,282.2 L297.1,281.8 L296.5,281.3 L296.0,280.9 L295.5,280.4 L295.0,279.9 L294.5,279.5 L293.9,279.0 L293.4,278.5 L292.9,278.1 L292.4,277.6 L291.8,277.1 L291.3,276.7 L290.8,276.2 L290.3,275.7 L289.8,275.3 L289.3,274.8 L288.7,274.3 L288.2,273.9 L287.7,273.4 L287.2,272.9 L286.7,272.4 L286.2,272.0 L285.7,271.5 L285.1,271.0 L284.6,270.6 L284.1,270.1 L283.6,269.6 L283.1,269.1 L282.6,268.6 L282.1,268.2 L281.6,267.7 L281.1,267.2 L280.6,266.7 L280.1,266.2 L279.6,265.8 L279.1,265.3 L278.6,264.8 L278.0,264.3 L277.5,263.8 L277.0,263.4 L276.5,262.9 L276.1,262.4 L275.6,261.9 L275.1,261.4 L274.6,260.9 L274.1,260.4 L273.6,260.0 L273.1,259.5 L272.6,259.0 L272.1,258.5 L271.6,258.0 L271.1,257.5 L270.6,257.0 L270.1,256.5 L269.7,256.1 L269.2,255.6 L268.7,255.1 L268.2,254.6 L267.7,254.1 L267.2,253.6 L266.8,253.1 L266.3,252.6 L265.8,252.1 L265.3,251.6 L264.8,251.1 L264.4,250.6 L263.9,250.2 L263.4,249.7 L263.0,249.2 L262.5,248.7 L262.0,248.2 L261.5,247.7 L261.1,247.2 L260.6,246.7 L260.1,246.2 L259.7,245.7 L259.2,245.2 L258.8,244.7 L258.3,244.2 L257.8,243.7 L257.4,243.2 L256.9,242.7 L256.5,242.2 L256.0,241.8 L255.6,241.3 L255.1,240.8 L254.7,240.3 L254.2,239.8 L253.8,239.3 L253.3,238.8 L252.9,238.3 L252.4,237.8 L252.0,237.3 L251.5,236.8 L251.1,236.3 L250.7,235.8 L250.2,235.3 L249.8,234.8 L249.3,234.3 L248.9,233.8 L248.5,233.3 L248.0,232.8 L247.6,232.3 L247.2,231.8 L246.8,231.4 L246.3,230.9 L245.9,230.4 L245.5,229.9 L245.1,229.4 L244.7,228.9 L244.2,228.4 L243.8,227.9 L243.4,227.4 L243.0,226.9 L242.6,226.4 L242.2,225.9 L241.8,225.4 L241.3,224.9 L240.9,224.5 L240.5,224.0 L240.1,223.5 L239.7,223.0 L239.3,222.5 L238.9,222.0 L238.5,221.5 L238.1,221.0 L237.7,220.5 L237.4,220.0 L237.0,219.6 L236.6,219.1 L236.2,218.6 L235.8,218.1 L235.4,217.6 L235.0,217.1 L234.7,216.6 L234.3,216.1 L233.9,215.7 L233.5,215.2 L233.2,214.7 L232.8,214.2 L232.4,213.7 L232.0,213.2 L231.7,212.8 L231.3,212.3 L230.9,211.8 L230.6,211.3 L230.2,210.8 L229.9,210.4 L229.5,209.9 L229.1,209.4 L228.8,208.9 L228.4,208.4 L228.1,208.0 L227.7,207.5 L227.4,207.0 L227.0,206.5 L226.7,206.1 L226.4,205.6 L226.0,205.1 L225.7,204.6 L225.4,204.2 L225.0,203.7 L224.7,203.2 L224.4,202.8 L224.0,202.3 L223.7,201.8 L223.4,201.4 L223.1,200.9 L222.7,200.4 L222.4,200.0 L222.1,199.5 L221.8,199.0 L221.5,198.6 L221.2,198.1 L220.8,197.6 L220.5,197.2 L220.2,196.7 L219.9,196.3 L219.6,195.8 L219.3,195.3 L219.0,194.9 L218.7,194.4 L218.4,194.0 L218.1,193.5 L217.9,193.1 L217.6,192.6 L217.3,192.2 L217.0,191.7 L216.7,191.3 L216.4,190.8 L216.2,190.4 L215.9,189.9 L215.6,189.5 L215.3,189.0 L215.1,188.6 L214.8,188.1 L214.5,187.7 L214.3,187.3 L214.0,186.8 L213.7,186.4 L213.5,185.9 L213.2,185.5 L213.0,185.1 L212.7,184.6 L212.5,184.2 L212.2,183.8 L212.0,183.3 L211.7,182.9 L211.5,182.5 L211.2,182.0 L211.0,181.6 L210.8,181.2 L210.5,180.8 L210.3,180.3 L210.1,179.9 L209.8,179.5 L209.6,179.1 L209.4,178.6 L209.2,178.2 L209.0,177.8 L208.7,177.4 L208.5,177.0 L208.3,176.6 L208.1,176.1 L207.9,175.7 L207.7,175.3 L207.5,174.9 L207.3,174.5 L207.1,174.1 L206.9,173.7 L206.7,173.3 L206.5,172.9 L206.3,172.5 L206.1,172.1 L205.9,171.7 L205.8,171.3 L205.6,170.9 L205.4,170.5 L205.2,170.1 L205.0,169.7 L204.9,169.3 L204.7,168.9 L204.5,168.5 L204.4,168.1 L204.2,167.8 L204.0,167.4 L203.9,167.0 L203.7,166.6 L203.6,166.2 L203.4,165.8 L203.3,165.5 L203.1,165.1 L203.0,164.7 L202.8,164.3 L202.7,164.0 L202.5,163.6 L202.4,163.2 L202.3,162.9 L202.1,162.5 L202.0,162.1 L201.9,161.8 L201.7,161.4 L201.6,161.0 L201.5,160.7 L201.4,160.3 L201.3,160.0 L201.1,159.6 L201.0,159.2 L200.9,158.9 L200.8,158.5 L200.7,158.2 L200.6,157.8 L200.5,157.5 L200.4,157.2 L200.3,156.8 L200.2,156.5 L200.1,156.1 L200.0,155.8 L200.0,155.5 L199.9,155.1 L199.8,154.8 L199.7,154.5 L199.6,154.1 L199.5,153.8 L199.5,153.5 L199.4,153.1 L199.3,152.8 L199.3,152.5 L199.2,152.2 L199.1,151.9 L199.1,151.5 L199.0,151.2 L199.0,150.9 L198.9,150.6 L198.9,150.3 L198.8,150.0 L198.8,149.7 L198.7,149.4 L198.7,149.1 L198.7,148.8 L198.6,148.5 L198.6,148.2 L198.6,147.9 L198.5,147.6 L198.5,147.3 L198.5,147.0 L198.5,146.7 L198.4,146.4 L198.4,146.1 L198.4,145.8 L198.4,145.6 L198.4,145.3 L198.4,145.0 L198.4,144.7 L198.4,144.4 L198.4,144.2 L198.4,143.9 L198.4,143.6 L198.4,143.4 L198.4,143.1 L198.4,142.8 L198.4,142.6 L198.4,142.3 L198.4,142.0 L198.5,141.8 L198.5,141.5 L198.5,141.3 L198.5,141.0 L198.6,140.8 L198.6,140.5 L198.6,140.3 L198.7,140.0 L198.7,139.8 L198.7,139.6 L198.8,139.3 L198.8,139.1 L198.9,138.8 L198.9,138.6 L199.0,138.4 L199.0,138.2 L199.1,137.9 L199.1,137.7 L199.2,137.5 L199.3,137.3 L199.3,137.0 L199.4,136.8 L199.5,136.6 L199.5,136.4 L199.6,136.2 L199.7,136.0 L199.8,135.8 L199.9,135.6 L200.0,135.3 L200.0,135.1 L200.1,134.9 L200.2,134.7 L200.3,134.6 L200.4,134.4 L200.5,134.2 L200.6,134.0 L200.7,133.8 L200.8,133.6 L200.9,133.4 L201.0,133.2 L201.1,133.1 L201.3,132.9 L201.4,132.7 L201.5,132.5 L201.6,132.4 L201.7,132.2 L201.9,132.0 L202.0,131.9 L202.1,131.7 L202.3,131.5 L202.4,131.4 L202.5,131.2 L202.7,131.1M321.0,301.5 L320.8,300.9 L320.5,300.2 L320.3,299.6 L320.0,299.0 L319.8,298.4 L319.6,297.8 L319.3,297.2 L319.1,296.6 L318.9,296.0 L318.6,295.4 L318.4,294.7 L318.1,294.1 L317.9,293.5 L317.7,292.9 L317.4,292.3 L317.2,291.6 L316.9,291.0 L316.7,290.4 L316.5,289.8 L316.2,289.1 L316.0,288.5 L315.8,287.9 L315.5,287.3 L315.3,286.6 L315.0,286.0 L314.8,285.4 L314.6,284.7 L314.3,284.1 L314.1,283.5 L313.9,282.8 L313.6,282.2 L313.4,281.6 L313.1,280.9 L312.9,280.3 L312.7,279.7 L312.4,279.0 L312.2,278.4 L312.0,277.7 L311.7,277.1 L311.5,276.5 L311.3,275.8 L311.0,275.2 L310.8,274.5 L310.6,273.9 L310.3,273.2 L310.1,272.6 L309.8,271.9 L309.6,271.3 L309.4,270.6 L309.1,270.0 L308.9,269.4 L308.7,268.7 L308.4,268.0 L308.2,267.4 L308.0,266.7 L307.8,266.1 L307.5,265.4 L307.3,264.8 L307.1,264.1 L306.8,263.5 L306.6,262.8 L306.4,262.2 L306.1,261.5 L305.9,260.9 L305.7,260.2 L305.4,259.5 L305.2,258.9 L305.0,258.2 L304.8,257.6 L304.5,256.9 L304.3,256.3 L304.1,255.6 L303.9,254.9 L303.6,254.3 L303.4,253.6 L303.2,253.0 L302.9,252.3 L302.7,251.6 L302.5,251.0 L302.3,250.3 L302.0,249.7 L301.8,249.0 L301.6,248.3 L301.4,247.7 L301.2,247.0 L300.9,246.3 L300.7,245.7 L300.5,245.0 L300.3,244.4 L300.0,243.7 L299.8,243.0 L299.6,242.4 L299.4,241.7 L299.2,241.0 L298.9,240.4 L298.7,239.7 L298.5,239.1 L298.3,238.4 L298.1,237.7 L297.9,237.1 L297.6,236.4 L297.4,235.7 L297.2,235.1 L297.0,234.4 L296.8,233.8 L296.6,233.1 L296.4,232.4 L296.1,231.8 L295.9,231.1 L295.7,230.4 L295.5,229.8 L295.3,229.1 L295.1,228.5 L294.9,227.8 L294.7,227.1 L294.5,226.5 L294.2,225.8 L294.0,225.2 L293.8,224.5 L293.6,223.8 L293.4,223.2 L293.2,222.5 L293.0,221.9 L292.8,221.2 L292.6,220.5 L292.4,219.9 L292.2,219.2 L292.0,218.6 L291.8,217.9 L291.6,217.3 L291.4,216.6 L291.2,215.9 L291.0,215.3 L290.8,214.6 L290.6,214.0 L290.4,213.3 L290.2,212.7 L290.0,212.0 L289.8,211.4 L289.6,210.7 L289.4,210.1 L289.2,209.4 L289.0,208.8 L288.8,208.1 L288.6,207.5 L288.4,206.8 L288.2,206.2 L288.0,205.5 L287.9,204.9 L287.7,204.2 L287.5,203.6 L287.3,202.9 L287.1,202.3 L286.9,201.6 L286.7,201.0 L286.5,200.4 L286.4,199.7 L286.2,199.1 L286.0,198.4 L285.8,197.8 L285.6,197.2 L285.4,196.5 L285.3,195.9 L285.1,195.3 L284.9,194.6 L284.7,194.0 L284.5,193.4 L284.4,192.7 L284.2,192.1 L284.0,191.5 L283.8,190.8 L283.7,190.2 L283.5,189.6 L283.3,188.9 L283.1,188.3 L283.0,187.7 L282.8,187.1 L282.6,186.5 L282.4,185.8 L282.3,185.2 L282.1,184.6 L281.9,184.0 L281.8,183.4 L281.6,182.7 L281.4,182.1 L281.3,181.5 L281.1,180.9 L281.0,180.3 L280.8,179.7 L280.6,179.1 L280.5,178.5 L280.3,177.8 L280.1,177.2 L280.0,176.6 L279.8,176.0 L279.7,175.4 L279.5,174.8 L279.4,174.2 L279.2,173.6 L279.1,173.0 L278.9,172.4 L278.7,171.8 L278.6,171.2 L278.4,170.6 L278.3,170.1 L278.1,169.5 L278.0,168.9 L277.9,168.3 L277.7,167.7 L277.6,167.1 L277.4,166.5 L277.3,165.9 L277.1,165.4 L277.0,164.8 L276.8,164.2 L276.7,163.6 L276.6,163.1 L276.4,162.5 L276.3,161.9 L276.1,161.3 L276.0,160.8 L275.9,160.2 L275.7,159.6 L275.6,159.1 L275.5,158.5 L275.3,157.9 L275.2,157.4 L275.1,156.8 L274.9,156.3 L274.8,155.7 L274.7,155.2 L274.6,154.6 L274.4,154.1 L274.3,153.5 L274.2,153.0 L274.1,152.4 L273.9,151.9 L273.8,151.3 L273.7,150.8 L273.6,150.2 L273.5,149.7 L273.3,149.2 L273.2,148.6 L273.1,148.1 L273.0,147.6 L272.9,147.0 L272.8,146.5 L272.7,146.0 L272.5,145.5 L272.4,144.9 L272.3,144.4 L272.2,143.9 L272.1,143.4 L272.0,142.9 L271.9,142.4 L271.8,141.9 L271.7,141.3 L271.6,140.8 L271.5,140.3 L271.4,139.8 L271.3,139.3 L271.2,138.8 L271.1,138.3 L271.0,137.8 L270.9,137.3 L270.8,136.8 L270.7,136.4 L270.6,135.9 L270.5,135.4 L270.4,134.9 L270.3,134.4 L270.2,133.9 L270.1,133.5 L270.1,133.0 L270.0,132.5 L269.9,132.0 L269.8,131.6 L269.7,131.1 L269.6,130.6 L269.5,130.2 L269.5,129.7 L269.4,129.2 L269.3,128.8 L269.2,128.3 L269.1,127.9 L269.1,127.4 L269.0,127.0 L268.9,126.5 L268.8,126.1 L268.8,125.6 L268.7,125.2 L268.6,124.8 L268.6,124.3 L268.5,123.9 L268.4,123.5 L268.4,123.0 L268.3,122.6 L268.2,122.2 L268.2,121.7 L268.1,121.3 L268.0,120.9 L268.0,120.5 L267.9,120.1 L267.9,119.7 L267.8,119.3 L267.8,118.8 L267.7,118.4 L267.6,118.0 L267.6,117.6 L267.5,117.2 L267.5,116.8 L267.4,116.4 L267.4,116.1 L267.3,115.7 L267.3,115.3 L267.2,114.9 L267.2,114.5 L267.2,114.1 L267.1,113.8 L267.1,113.4 L267.0,113.0 L267.0,112.6 L267.0,112.3 L266.9,111.9 L266.9,111.5 L266.8,111.2 L266.8,110.8 L266.8,110.5 L266.7,110.1 L266.7,109.8 L266.7,109.4 L266.7,109.1 L266.6,108.7 L266.6,108.4 L266.6,108.0 L266.5,107.7 L266.5,107.4 L266.5,107.0 L266.5,106.7 L266.5,106.4 L266.4,106.1 L266.4,105.7 L266.4,105.4 L266.4,105.1 L266.4,104.8 L266.3,104.5 L266.3,104.2 L266.3,103.9 L266.3,103.6 L266.3,103.3 L266.3,103.0 L266.3,102.7 L266.3,102.4 L266.3,102.1 L266.3,101.8 L266.3,101.5 L266.2,101.2 L266.2,101.0 L266.2,100.7 L266.2,100.4 L266.2,100.1 L266.2,99.9 L266.2,99.6 L266.3,99.3 L266.3,99.1 L266.3,98.8 L266.3,98.6 L266.3,98.3 L266.3,98.1 L266.3,97.8 L266.3,97.6 L266.3,97.3 L266.3,97.1 L266.3,96.9 L266.4,96.6 L266.4,96.4 L266.4,96.2 L266.4,95.9 L266.4,95.7 L266.5,95.5 L266.5,95.3 L266.5,95.1 L266.5,94.8 L266.5,94.6 L266.6,94.4 L266.6,94.2 L266.6,94.0 L266.7,93.8 L266.7,93.6 L266.7,93.4 L266.7,93.2 L266.8,93.1 L266.8,92.9 L266.8,92.7 L266.9,92.5 L266.9,92.3 L267.0,92.2 L267.0,92.0 L267.0,91.8 L267.1,91.7 L267.1,91.5 L267.2,91.3 L267.2,91.2 L267.2,91.0 L267.3,90.9 L267.3,90.7 L267.4,90.6 L267.4,90.4 L267.5,90.3 L267.5,90.2 L267.6,90.0 L267.6,89.9 L267.7,89.8 L267.8,89.6 L267.8,89.5 L267.9,89.4 L267.9,89.3 L268.0,89.2 L268.0,89.1 L268.1,88.9 L268.2,88.8 L268.2,88.7 L268.3,88.6 L268.4,88.5 L268.4,88.4 L268.5,88.4 L268.6,88.3 L268.6,88.2 L268.7,88.1 L268.8,88.0 L268.8,87.9 L268.9,87.9 L269.0,87.8 L269.1,87.7 L269.1,87.7 L269.2,87.6 L269.3,87.5 L269.4,87.5 L269.5,87.4 L269.5,87.4 L269.6,87.3 L269.7,87.3 L269.8,87.2 L269.9,87.2 L270.0,87.2 L270.1,87.1M321.0,301.5 L321.1,300.8 L321.2,300.2 L321.4,299.6 L321.5,298.9 L321.6,298.3 L321.7,297.6 L321.8,297.0 L322.0,296.4 L322.1,295.7 L322.2,295.1 L322.3,294.4 L322.5,293.8 L322.6,293.1 L322.7,292.5 L322.8,291.8 L322.9,291.2 L323.1,290.5 L323.2,289.9 L323.3,289.2 L323.4,288.6 L323.5,287.9 L323.7,287.3 L323.8,286.6 L323.9,285.9 L324.0,285.3 L324.1,284.6 L324.3,284.0 L324.4,283.3 L324.5,282.6 L324.6,282.0 L324.7,281.3 L324.9,280.6 L325.0,280.0 L325.1,279.3 L325.2,278.6 L325.3,278.0 L325.5,277.3 L325.6,276.6 L325.7,276.0 L325.8,275.3 L325.9,274.6 L326.1,274.0 L326.2,273.3 L326.3,272.6 L326.4,271.9 L326.5,271.3 L326.7,270.6 L326.8,269.9 L326.9,269.2 L327.0,268.6 L327.1,267.9 L327.3,267.2 L327.4,266.5 L327.5,265.8 L327.6,265.2 L327.7,264.5 L327.8,263.8 L328.0,263.1 L328.1,262.4 L328.2,261.8 L328.3,261.1 L328.4,260.4 L328.5,259.7 L328.7,259.0 L328.8,258.3 L328.9,257.7 L329.0,257.0 L329.1,256.3 L329.2,255.6 L329.4,254.9 L329.5,254.2 L329.6,253.5 L329.7,252.9 L329.8,252.2 L329.9,251.5 L330.1,250.8 L330.2,250.1 L330.3,249.4 L330.4,248.7 L330.5,248.0 L330.6,247.4 L330.7,246.7 L330.8,246.0 L331.0,245.3 L331.1,244.6 L331.2,243.9 L331.3,243.2 L331.4,242.5 L331.5,241.8 L331.6,241.2 L331.8,240.5 L331.9,239.8 L332.0,239.1 L332.1,238.4 L332.2,237.7 L332.3,237.0 L332.4,236.3 L332.5,235.6 L332.6,234.9 L332.7,234.3 L332.9,233.6 L333.0,232.9 L333.1,232.2 L333.2,231.5 L333.3,230.8 L333.4,230.1 L333.5,229.4 L333.6,228.7 L333.7,228.1 L333.8,227.4 L333.9,226.7 L334.1,226.0 L334.2,225.3 L334.3,224.6 L334.4,223.9 L334.5,223.3 L334.6,222.6 L334.7,221.9 L334.8,221.2 L334.9,220.5 L335.0,219.8 L335.1,219.1 L335.2,218.5 L335.3,217.8 L335.4,217.1 L335.5,216.4 L335.6,215.7 L335.7,215.0 L335.8,214.4 L335.9,213.7 L336.0,213.0 L336.1,212.3 L336.2,211.6 L336.3,211.0 L336.4,210.3 L336.5,209.6 L336.6,208.9 L336.7,208.2 L336.8,207.6 L336.9,206.9 L337.0,206.2 L337.1,205.5 L337.2,204.9 L337.3,204.2 L337.4,203.5 L337.5,202.9 L337.6,202.2 L337.7,201.5 L337.8,200.8 L337.9,200.2 L338.0,199.5 L338.1,198.8 L338.2,198.2 L338.3,197.5 L338.4,196.8 L338.5,196.2 L338.6,195.5 L338.7,194.9 L338.8,194.2 L338.9,193.5 L339.0,192.9 L339.1,192.2 L339.1,191.6 L339.2,190.9 L339.3,190.2 L339.4,189.6 L339.5,188.9 L339.6,188.3 L339.7,187.6 L339.8,187.0 L339.9,186.3 L340.0,185.7 L340.0,185.0 L340.1,184.4 L340.2,183.7 L340.3,183.1 L340.4,182.4 L340.5,181.8 L340.6,181.1 L340.7,180.5 L340.7,179.9 L340.8,179.2 L340.9,178.6 L341.0,178.0 L341.1,177.3 L341.2,176.7 L341.2,176.1 L341.3,175.4 L341.4,174.8 L341.5,174.2 L341.6,173.5 L341.7,172.9 L341.7,172.3 L341.8,171.7 L341.9,171.0 L342.0,170.4 L342.1,169.8 L342.1,169.2 L342.2,168.5 L342.3,167.9 L342.4,167.3 L342.5,166.7 L342.5,166.1 L342.6,165.5 L342.7,164.9 L342.8,164.3 L342.8,163.7 L342.9,163.0 L343.0,162.4 L343.1,161.8 L343.1,161.2 L343.2,160.6 L343.3,160.0 L343.3,159.4 L343.4,158.8 L343.5,158.3 L343.6,157.7 L343.6,157.1 L343.7,156.5 L343.8,155.9 L343.8,155.3 L343.9,154.7 L344.0,154.1 L344.0,153.6 L344.1,153.0 L344.2,152.4 L344.2,151.8 L344.3,151.3 L344.4,150.7 L344.4,150.1 L344.5,149.5 L344.6,149.0 L344.6,148.4 L344.7,147.8 L344.8,147.3 L344.8,146.7 L344.9,146.2 L345.0,145.6 L345.0,145.0 L345.1,144.5 L345.1,143.9 L345.2,143.4 L345.3,142.8 L345.3,142.3 L345.4,141.7 L345.4,141.2 L345.5,140.7 L345.5,140.1 L345.6,139.6 L345.7,139.0 L345.7,138.5 L345.8,138.0 L345.8,137.5 L345.9,136.9 L345.9,136.4 L346.0,135.9 L346.0,135.4 L346.1,134.8 L346.1,134.3 L346.2,133.8 L346.2,133.3 L346.3,132.8 L346.3,132.3 L346.4,131.8 L346.4,131.3 L346.5,130.7 L346.5,130.2 L346.6,129.7 L346.6,129.2 L346.7,128.8 L346.7,128.3 L346.8,127.8 L346.8,127.3 L346.9,126.8 L346.9,126.3 L347.0,125.8 L347.0,125.3 L347.0,124.9 L347.1,124.4 L347.1,123.9 L347.2,123.4 L347.2,123.0 L347.2,122.5 L347.3,122.0 L347.3,121.6 L347.4,121.1 L347.4,120.7 L347.4,120.2 L347.5,119.7 L347.5,119.3 L347.6,118.8 L347.6,118.4 L347.6,118.0 L347.7,117.5 L347.7,117.1 L347.7,116.6 L347.8,116.2 L347.8,115.8 L347.8,115.3 L347.9,114.9 L347.9,114.5 L347.9,114.1 L347.9,113.6 L348.0,113.2 L348.0,112.8 L348.0,112.4 L348.1,112.0 L348.1,111.6 L348.1,111.2 L348.1,110.7 L348.2,110.3 L348.2,109.9 L348.2,109.5 L348.2,109.2 L348.3,108.8 L348.3,108.4 L348.3,108.0 L348.3,107.6 L348.4,107.2 L348.4,106.8 L348.4,106.5 L348.4,106.1 L348.4,105.7 L348.5,105.3 L348.5,105.0 L348.5,104.6 L348.5,104.2 L348.5,103.9 L348.5,103.5 L348.6,103.2 L348.6,102.8 L348.6,102.5 L348.6,102.1 L348.6,101.8 L348.6,101.4 L348.6,101.1 L348.7,100.8 L348.7,100.4 L348.7,100.1 L348.7,99.8 L348.7,99.4 L348.7,99.1 L348.7,98.8 L348.7,98.5 L348.7,98.2 L348.7,97.9 L348.8,97.5 L348.8,97.2 L348.8,96.9 L348.8,96.6 L348.8,96.3 L348.8,96.0 L348.8,95.7 L348.8,95.5 L348.8,95.2 L348.8,94.9 L348.8,94.6 L348.8,94.3 L348.8,94.0 L348.8,93.8 L348.8,93.5 L348.8,93.2 L348.8,93.0 L348.8,92.7 L348.8,92.4 L348.8,92.2 L348.8,91.9 L348.8,91.7 L348.8,91.4 L348.8,91.2 L348.8,90.9 L348.8,90.7 L348.8,90.5 L348.7,90.2 L348.7,90.0 L348.7,89.8 L348.7,89.5 L348.7,89.3 L348.7,89.1 L348.7,88.9 L348.7,88.7 L348.7,88.4 L348.7,88.2 L348.6,88.0 L348.6,87.8 L348.6,87.6 L348.6,87.4 L348.6,87.2 L348.6,87.0 L348.6,86.8 L348.5,86.7 L348.5,86.5 L348.5,86.3 L348.5,86.1 L348.5,85.9 L348.5,85.8 L348.4,85.6 L348.4,85.4 L348.4,85.3 L348.4,85.1 L348.4,85.0 L348.3,84.8 L348.3,84.6 L348.3,84.5 L348.3,84.4 L348.2,84.2 L348.2,84.1 L348.2,83.9 L348.2,83.8 L348.1,83.7 L348.1,83.5 L348.1,83.4 L348.1,83.3 L348.0,83.2 L348.0,83.1 L348.0,82.9 L347.9,82.8 L347.9,82.7 L347.9,82.6 L347.9,82.5 L347.8,82.4 L347.8,82.3 L347.8,82.2 L347.7,82.1 L347.7,82.1 L347.7,82.0 L347.6,81.9 L347.6,81.8 L347.6,81.7 L347.5,81.7 L347.5,81.6 L347.4,81.5 L347.4,81.5 L347.4,81.4 L347.3,81.4 L347.3,81.3 L347.2,81.3 L347.2,81.2 L347.2,81.2 L347.1,81.1 L347.1,81.1 L347.0,81.0 L347.0,81.0 L347.0,81.0 L346.9,81.0 L346.9,80.9 L346.8,80.9 L346.8,80.9 L346.7,80.9 L346.7,80.9M321.0,301.5 L321.4,301.0 L321.9,300.5 L322.3,300.0 L322.8,299.5 L323.2,299.0 L323.7,298.5 L324.1,298.0 L324.6,297.5 L325.0,297.0 L325.5,296.5 L325.9,296.0 L326.4,295.5 L326.8,295.0 L327.3,294.4 L327.7,293.9 L328.2,293.4 L328.6,292.9 L329.1,292.4 L329.5,291.9 L330.0,291.4 L330.4,290.9 L330.9,290.3 L331.3,289.8 L331.8,289.3 L332.2,288.8 L332.6,288.3 L333.1,287.8 L333.5,287.2 L334.0,286.7 L334.4,286.2 L334.9,285.7 L335.3,285.1 L335.8,284.6 L336.2,284.1 L336.7,283.6 L337.1,283.0 L337.5,282.5 L338.0,282.0 L338.4,281.4 L338.9,280.9 L339.3,280.4 L339.8,279.8 L340.2,279.3 L340.6,278.8 L341.1,278.2 L341.5,277.7 L342.0,277.2 L342.4,276.6 L342.8,276.1 L343.3,275.5 L343.7,275.0 L344.1,274.5 L344.6,273.9 L345.0,273.4 L345.5,272.8 L345.9,272.3 L346.3,271.7 L346.8,271.2 L347.2,270.7 L347.6,270.1 L348.1,269.6 L348.5,269.0 L348.9,268.5 L349.4,267.9 L349.8,267.4 L350.2,266.8 L350.7,266.3 L351.1,265.7 L351.5,265.2 L351.9,264.6 L352.4,264.1 L352.8,263.5 L353.2,263.0 L353.7,262.4 L354.1,261.8 L354.5,261.3 L354.9,260.7 L355.4,260.2 L355.8,259.6 L356.2,259.1 L356.6,258.5 L357.0,258.0 L357.5,257.4 L357.9,256.8 L358.3,256.3 L358.7,255.7 L359.1,255.2 L359.6,254.6 L360.0,254.1 L360.4,253.5 L360.8,252.9 L361.2,252.4 L361.6,251.8 L362.0,251.3 L362.4,250.7 L362.9,250.1 L363.3,249.6 L363.7,249.0 L364.1,248.4 L364.5,247.9 L364.9,247.3 L365.3,246.8 L365.7,246.2 L366.1,245.6 L366.5,245.1 L366.9,244.5 L367.3,243.9 L367.7,243.4 L368.1,242.8 L368.5,242.3 L368.9,241.7 L369.3,241.1 L369.7,240.6 L370.1,240.0 L370.5,239.4 L370.9,238.9 L371.3,238.3 L371.7,237.8 L372.1,237.2 L372.5,236.6 L372.8,236.1 L373.2,235.5 L373.6,234.9 L374.0,234.4 L374.4,233.8 L374.8,233.3 L375.2,232.7 L375.5,232.1 L375.9,231.6 L376.3,231.0 L376.7,230.4 L377.0,229.9 L377.4,229.3 L377.8,228.8 L378.2,228.2 L378.5,227.6 L378.9,227.1 L379.3,226.5 L379.7,225.9 L380.0,225.4 L380.4,224.8 L380.8,224.3 L381.1,223.7 L381.5,223.2 L381.9,222.6 L382.2,222.0 L382.6,221.5 L382.9,220.9 L383.3,220.4 L383.6,219.8 L384.0,219.2 L384.4,218.7 L384.7,218.1 L385.1,217.6 L385.4,217.0 L385.8,216.5 L386.1,215.9 L386.5,215.4 L386.8,214.8 L387.1,214.3 L387.5,213.7 L387.8,213.1 L388.2,212.6 L388.5,212.0 L388.9,211.5 L389.2,210.9 L389.5,210.4 L389.9,209.8 L390.2,209.3 L390.5,208.8 L390.9,208.2 L391.2,207.7 L391.5,207.1 L391.8,206.6 L392.2,206.0 L392.5,205.5 L392.8,204.9 L393.1,204.4 L393.5,203.8 L393.8,203.3 L394.1,202.8 L394.4,202.2 L394.7,201.7 L395.0,201.1 L395.3,200.6 L395.6,200.1 L396.0,199.5 L396.3,199.0 L396.6,198.5 L396.9,197.9 L397.2,197.4 L397.5,196.9 L397.8,196.3 L398.1,195.8 L398.4,195.3 L398.7,194.7 L399.0,194.2 L399.3,193.7 L399.5,193.2 L399.8,192.6 L400.1,192.1 L400.4,191.6 L400.7,191.1 L401.0,190.5 L401.3,190.0 L401.5,189.5 L401.8,189.0 L402.1,188.5 L402.4,187.9 L402.6,187.4 L402.9,186.9 L403.2,186.4 L403.5,185.9 L403.7,185.4 L404.0,184.8 L404.3,184.3 L404.5,183.8 L404.8,183.3 L405.0,182.8 L405.3,182.3 L405.6,181.8 L405.8,181.3 L406.1,180.8 L406.3,180.3 L406.6,179.8 L406.8,179.3 L407.1,178.8 L407.3,178.3 L407.6,177.8 L407.8,177.3 L408.0,176.8 L408.3,176.3 L408.5,175.8 L408.7,175.3 L409.0,174.8 L409.2,174.3 L409.4,173.9 L409.7,173.4 L409.9,172.9 L410.1,172.4 L410.3,171.9 L410.6,171.4 L410.8,171.0 L411.0,170.5 L411.2,170.0 L411.4,169.5 L411.7,169.1 L411.9,168.6 L412.1,168.1 L412.3,167.6 L412.5,167.2 L412.7,166.7 L412.9,166.2 L413.1,165.8 L413.3,165.3 L413.5,164.9 L413.7,164.4 L413.9,163.9 L414.1,163.5 L414.3,163.0 L414.5,162.6 L414.6,162.1 L414.8,161.7 L415.0,161.2 L415.2,160.8 L415.4,160.3 L415.6,159.9 L415.7,159.4 L415.9,159.0 L416.1,158.5 L416.2,158.1 L416.4,157.7 L416.6,157.2 L416.7,156.8 L416.9,156.4 L417.1,155.9 L417.2,155.5 L417.4,155.1 L417.5,154.6 L417.7,154.2 L417.9,153.8 L418.0,153.4 L418.2,152.9 L418.3,152.5 L418.4,152.1 L418.6,151.7 L418.7,151.3 L418.9,150.9 L419.0,150.5 L419.1,150.0 L419.3,149.6 L419.4,149.2 L419.5,148.8 L419.7,148.4 L419.8,148.0 L419.9,147.6 L420.0,147.2 L420.2,146.8 L420.3,146.4 L420.4,146.0 L420.5,145.7 L420.6,145.3 L420.7,144.9 L420.9,144.5 L421.0,144.1 L421.1,143.7 L421.2,143.3 L421.3,143.0 L421.4,142.6 L421.5,142.2 L421.6,141.8 L421.7,141.5 L421.8,141.1 L421.8,140.7 L421.9,140.4 L422.0,140.0 L422.1,139.7 L422.2,139.3 L422.3,138.9 L422.3,138.6 L422.4,138.2 L422.5,137.9 L422.6,137.5 L422.6,137.2 L422.7,136.8 L422.8,136.5 L422.8,136.2 L422.9,135.8 L423.0,135.5 L423.0,135.1 L423.1,134.8 L423.1,134.5 L423.2,134.1 L423.2,133.8 L423.3,133.5 L423.3,133.2 L423.4,132.8 L423.4,132.5 L423.5,132.2 L423.5,131.9 L423.6,131.6 L423.6,131.3 L423.6,131.0 L423.7,130.6 L423.7,130.3 L423.7,130.0 L423.7,129.7 L423.8,129.4 L423.8,129.1 L423.8,128.8 L423.8,128.5 L423.8,128.3 L423.9,128.0 L423.9,127.7 L423.9,127.4 L423.9,127.1 L423.9,126.8 L423.9,126.6 L423.9,126.3 L423.9,126.0 L423.9,125.7 L423.9,125.5 L423.9,125.2 L423.9,124.9 L423.9,124.7 L423.9,124.4 L423.9,124.1 L423.8,123.9 L423.8,123.6 L423.8,123.4 L423.8,123.1 L423.8,122.9 L423.7,122.6 L423.7,122.4 L423.7,122.2 L423.7,121.9 L423.6,121.7 L423.6,121.4 L423.6,121.2 L423.5,121.0 L423.5,120.8 L423.4,120.5 L423.4,120.3 L423.3,120.1 L423.3,119.9 L423.2,119.7 L423.2,119.4 L423.1,119.2 L423.1,119.0 L423.0,118.8 L423.0,118.6 L422.9,118.4 L422.8,118.2 L422.8,118.0 L422.7,117.8 L422.6,117.6 L422.6,117.4 L422.5,117.2 L422.4,117.0 L422.3,116.9 L422.3,116.7 L422.2,116.5 L422.1,116.3 L422.0,116.1 L421.9,116.0 L421.8,115.8 L421.8,115.6 L421.7,115.5 L421.6,115.3 L421.5,115.1 L421.4,115.0 L421.3,114.8 L421.2,114.7 L421.1,114.5 L421.0,114.4 L420.9,114.2 L420.7,114.1 L420.6,113.9 L420.5,113.8 L420.4,113.7 L420.3,113.5 L420.2,113.4 L420.0,113.3 L419.9,113.1 L419.8,113.0 L419.7,112.9 L419.5,112.8 L419.4,112.6 L419.3,112.5 L419.1,112.4 L419.0,112.3 L418.9,112.2M321.0,301.5 L321.7,301.2 L322.3,301.0 L323.0,300.8 L323.6,300.6 L324.3,300.3 L324.9,300.1 L325.6,299.9 L326.3,299.7 L326.9,299.4 L327.6,299.2 L328.2,299.0 L328.9,298.7 L329.5,298.5 L330.2,298.3 L330.8,298.0 L331.5,297.8 L332.1,297.5 L332.8,297.3 L333.5,297.1 L334.1,296.8 L334.8,296.6 L335.4,296.3 L336.1,296.1 L336.7,295.8 L337.4,295.6 L338.0,295.3 L338.7,295.1 L339.3,294.8 L340.0,294.6 L340.6,294.3 L341.3,294.1 L341.9,293.8 L342.6,293.6 L343.2,293.3 L343.9,293.1 L344.5,292.8 L345.2,292.5 L345.8,292.3 L346.5,292.0 L347.1,291.8 L347.8,291.5 L348.4,291.2 L349.1,291.0 L349.7,290.7 L350.4,290.4 L351.0,290.2 L351.6,289.9 L352.3,289.6 L352.9,289.3 L353.6,289.1 L354.2,288.8 L354.8,288.5 L355.5,288.2 L356.1,288.0 L356.8,287.7 L357.4,287.4 L358.0,287.1 L358.7,286.8 L359.3,286.6 L359.9,286.3 L360.6,286.0 L361.2,285.7 L361.8,285.4 L362.5,285.1 L363.1,284.9 L363.7,284.6 L364.4,284.3 L365.0,284.0 L365.6,283.7 L366.2,283.4 L366.9,283.1 L367.5,282.8 L368.1,282.5 L368.7,282.2 L369.4,281.9 L370.0,281.6 L370.6,281.3 L371.2,281.0 L371.8,280.7 L372.5,280.4 L373.1,280.1 L373.7,279.8 L374.3,279.5 L374.9,279.2 L375.5,278.9 L376.1,278.6 L376.7,278.3 L377.4,278.0 L378.0,277.7 L378.6,277.4 L379.2,277.1 L379.8,276.8 L380.4,276.5 L381.0,276.2 L381.6,275.9 L382.2,275.5 L382.8,275.2 L383.4,274.9 L384.0,274.6 L384.6,274.3 L385.2,274.0 L385.8,273.7 L386.4,273.3 L387.0,273.0 L387.5,272.7 L388.1,272.4 L388.7,272.1 L389.3,271.8 L389.9,271.4 L390.5,271.1 L391.0,270.8 L391.6,270.5 L392.2,270.1 L392.8,269.8 L393.4,269.5 L393.9,269.2 L394.5,268.9 L395.1,268.5 L395.7,268.2 L396.2,267.9 L396.8,267.5 L397.4,267.2 L397.9,266.9 L398.5,266.6 L399.0,266.2 L399.6,265.9 L400.2,265.6 L400.7,265.2 L401.3,264.9 L401.8,264.6 L402.4,264.2 L402.9,263.9 L403.5,263.6 L404.0,263.2 L404.6,262.9 L405.1,262.6 L405.7,262.2 L406.2,261.9 L406.8,261.6 L407.3,261.2 L407.8,260.9 L408.4,260.6 L408.9,260.2 L409.4,259.9 L410.0,259.5 L410.5,259.2 L411.0,258.9 L411.5,258.5 L412.1,258.2 L412.6,257.8 L413.1,257.5 L413.6,257.2 L414.1,256.8 L414.7,256.5 L415.2,256.1 L415.7,255.8 L416.2,255.5 L416.7,255.1 L417.2,254.8 L417.7,254.4 L418.2,254.1 L418.7,253.7 L419.2,253.4 L419.7,253.0 L420.2,252.7 L420.7,252.4 L421.2,252.0 L421.7,251.7 L422.2,251.3 L422.6,251.0 L423.1,250.6 L423.6,250.3 L424.1,249.9 L424.6,249.6 L425.0,249.2 L425.5,248.9 L426.0,248.5 L426.4,248.2 L426.9,247.8 L427.4,247.5 L427.8,247.1 L428.3,246.8 L428.8,246.4 L429.2,246.1 L429.7,245.7 L430.1,245.4 L430.6,245.0 L431.0,244.7 L431.5,244.3 L431.9,244.0 L432.4,243.7 L432.8,243.3 L433.2,243.0 L433.7,242.6 L434.1,242.2 L434.5,241.9 L435.0,241.5 L435.4,241.2 L435.8,240.8 L436.2,240.5 L436.7,240.1 L437.1,239.8 L437.5,239.4 L437.9,239.1 L438.3,238.7 L438.7,238.4 L439.1,238.0 L439.6,237.7 L440.0,237.3 L440.4,237.0 L440.8,236.6 L441.2,236.3 L441.5,235.9 L441.9,235.6 L442.3,235.2 L442.7,234.9 L443.1,234.5 L443.5,234.2 L443.9,233.8 L444.2,233.5 L444.6,233.1 L445.0,232.8 L445.4,232.4 L445.7,232.1 L446.1,231.7 L446.5,231.4 L446.8,231.0 L447.2,230.7 L447.5,230.3 L447.9,230.0 L448.2,229.7 L448.6,229.3 L448.9,229.0 L449.3,228.6 L449.6,228.3 L450.0,227.9 L450.3,227.6 L450.6,227.2 L451.0,226.9 L451.3,226.5 L451.6,226.2 L451.9,225.8 L452.3,225.5 L452.6,225.1 L452.9,224.8 L453.2,224.5 L453.5,224.1 L453.8,223.8 L454.1,223.4 L454.4,223.1 L454.7,222.7 L455.0,222.4 L455.3,222.0 L455.6,221.7 L455.9,221.4 L456.2,221.0 L456.5,220.7 L456.8,220.3 L457.1,220.0 L457.3,219.7 L457.6,219.3 L457.9,219.0 L458.2,218.6 L458.4,218.3 L458.7,218.0 L459.0,217.6 L459.2,217.3 L459.5,216.9 L459.7,216.6 L460.0,216.3 L460.2,215.9 L460.5,215.6 L460.7,215.3 L461.0,214.9 L461.2,214.6 L461.5,214.3 L461.7,213.9 L461.9,213.6 L462.1,213.3 L462.4,212.9 L462.6,212.6 L462.8,212.3 L463.0,211.9 L463.2,211.6 L463.5,211.3 L463.7,210.9 L463.9,210.6 L464.1,210.3 L464.3,210.0 L464.5,209.6 L464.7,209.3 L464.9,209.0 L465.1,208.7 L465.2,208.3 L465.4,208.0 L465.6,207.7 L465.8,207.4 L466.0,207.0 L466.1,206.7 L466.3,206.4 L466.5,206.1 L466.7,205.8 L466.8,205.4 L467.0,205.1 L467.1,204.8 L467.3,204.5 L467.4,204.2 L467.6,203.9 L467.7,203.5 L467.9,203.2 L468.0,202.9 L468.2,202.6 L468.3,202.3 L468.4,202.0 L468.6,201.7 L468.7,201.4 L468.8,201.0 L468.9,200.7 L469.0,200.4 L469.2,200.1 L469.3,199.8 L469.4,199.5 L469.5,199.2 L469.6,198.9 L469.7,198.6 L469.8,198.3 L469.9,198.0 L470.0,197.7 L470.1,197.4 L470.2,197.1 L470.2,196.8 L470.3,196.5 L470.4,196.2 L470.5,195.9 L470.6,195.6 L470.6,195.3 L470.7,195.0 L470.8,194.7 L470.8,194.4 L470.9,194.1 L470.9,193.8 L471.0,193.6 L471.0,193.3 L471.1,193.0 L471.1,192.7 L471.2,192.4 L471.2,192.1 L471.2,191.8 L471.3,191.6 L471.3,191.3 L471.3,191.0 L471.4,190.7 L471.4,190.4 L471.4,190.2 L471.4,189.9 L471.4,189.6 L471.4,189.3 L471.4,189.0 L471.4,188.8 L471.4,188.5 L471.4,188.2 L471.4,188.0 L471.4,187.7 L471.4,187.4 L471.4,187.1 L471.4,186.9 L471.4,186.6 L471.4,186.3 L471.3,186.1 L471.3,185.8 L471.3,185.6 L471.2,185.3 L471.2,185.0 L471.2,184.8 L471.1,184.5 L471.1,184.3 L471.0,184.0 L471.0,183.7 L470.9,183.5 L470.9,183.2 L470.8,183.0 L470.8,182.7 L470.7,182.5 L470.6,182.2 L470.6,182.0 L470.5,181.7 L470.4,181.5 L470.3,181.2 L470.2,181.0 L470.2,180.8 L470.1,180.5 L470.0,180.3 L469.9,180.0M321.0,301.5 L321.7,301.6 L322.4,301.7 L323.1,301.8 L323.8,301.9 L324.4,302.0 L325.1,302.1 L325.8,302.2 L326.5,302.3 L327.2,302.4 L327.9,302.5 L328.6,302.6 L329.3,302.7 L329.9,302.8 L330.6,302.9 L331.3,303.0 L332.0,303.1 L332.7,303.2 L333.4,303.3 L334.1,303.4 L334.7,303.4 L335.4,303.5 L336.1,303.6 L336.8,303.7 L337.5,303.8 L338.2,303.9 L338.8,304.0 L339.5,304.0 L340.2,304.1 L340.9,304.2 L341.6,304.3 L342.3,304.3 L342.9,304.4 L343.6,304.5 L344.3,304.6 L345.0,304.6 L345.7,304.7 L346.3,304.8 L347.0,304.8 L347.7,304.9 L348.4,304.9 L349.1,305.0 L349.7,305.1 L350.4,305.1 L351.1,305.2 L351.8,305.2 L352.4,305.3 L353.1,305.4 L353.8,305.4 L354.5,305.5 L355.1,305.5 L355.8,305.6 L356.5,305.6 L357.1,305.7 L357.8,305.7 L358.5,305.7 L359.1,305.8 L359.8,305.8 L360.5,305.9 L361.1,305.9 L361.8,305.9 L362.5,306.0 L363.1,306.0 L363.8,306.1 L364.5,306.1 L365.1,306.1 L365.8,306.1 L366.4,306.2 L367.1,306.2 L367.8,306.2 L368.4,306.3 L369.1,306.3 L369.7,306.3 L370.4,306.3 L371.0,306.3 L371.7,306.4 L372.3,306.4 L373.0,306.4 L373.6,306.4 L374.3,306.4 L374.9,306.4 L375.6,306.4 L376.2,306.5 L376.9,306.5 L377.5,306.5 L378.1,306.5 L378.8,306.5 L379.4,306.5 L380.1,306.5 L380.7,306.5 L381.3,306.5 L382.0,306.5 L382.6,306.5 L383.2,306.5 L383.9,306.5 L384.5,306.5 L385.1,306.5 L385.8,306.4 L386.4,306.4 L387.0,306.4 L387.6,306.4 L388.3,306.4 L388.9,306.4 L389.5,306.4 L390.1,306.3 L390.7,306.3 L391.4,306.3 L392.0,306.3 L392.6,306.3 L393.2,306.2 L393.8,306.2 L394.4,306.2 L395.0,306.1 L395.6,306.1 L396.2,306.1 L396.8,306.1 L397.4,306.0 L398.0,306.0 L398.6,305.9 L399.2,305.9 L399.8,305.9 L400.4,305.8 L401.0,305.8 L401.6,305.7 L402.2,305.7 L402.8,305.7 L403.4,305.6 L404.0,305.6 L404.6,305.5 L405.1,305.5 L405.7,305.4 L406.3,305.4 L406.9,305.3 L407.4,305.2 L408.0,305.2 L408.6,305.1 L409.2,305.1 L409.7,305.0 L410.3,304.9 L410.9,304.9 L411.4,304.8 L412.0,304.8 L412.6,304.7 L413.1,304.6 L413.7,304.6 L414.2,304.5 L414.8,304.4 L415.3,304.3 L415.9,304.3 L416.4,304.2 L417.0,304.1 L417.5,304.0 L418.1,304.0 L418.6,303.9 L419.2,303.8 L419.7,303.7 L420.2,303.6 L420.8,303.5 L421.3,303.4 L421.8,303.4 L422.3,303.3 L422.9,303.2 L423.4,303.1 L423.9,303.0 L424.4,302.9 L425.0,302.8 L425.5,302.7 L426.0,302.6 L426.5,302.5 L427.0,302.4 L427.5,302.3 L428.0,302.2 L428.5,302.1 L429.0,302.0 L429.5,301.9 L430.0,301.8 L430.5,301.7 L431.0,301.6 L431.5,301.5 L432.0,301.3 L432.5,301.2 L433.0,301.1 L433.5,301.0 L433.9,300.9 L434.4,300.8 L434.9,300.6 L435.4,300.5 L435.8,300.4 L436.3,300.3 L436.8,300.2 L437.2,300.0 L437.7,299.9 L438.2,299.8 L438.6,299.6 L439.1,299.5 L439.5,299.4 L440.0,299.3 L440.4,299.1 L440.9,299.0 L441.3,298.9 L441.8,298.7 L442.2,298.6 L442.7,298.4 L443.1,298.3 L443.5,298.2 L444.0,298.0 L444.4,297.9 L444.8,297.7 L445.2,297.6 L445.7,297.4 L446.1,297.3 L446.5,297.1 L446.9,297.0 L447.3,296.8 L447.7,296.7 L448.2,296.5 L448.6,296.4 L449.0,296.2 L449.4,296.1 L449.8,295.9 L450.2,295.7 L450.5,295.6 L450.9,295.4 L451.3,295.3 L451.7,295.1 L452.1,294.9 L452.5,294.8 L452.9,294.6 L453.2,294.4 L453.6,294.3 L454.0,294.1 L454.3,293.9 L454.7,293.8 L455.1,293.6 L455.4,293.4 L455.8,293.2 L456.1,293.1 L456.5,292.9 L456.9,292.7 L457.2,292.5 L457.5,292.3 L457.9,292.2 L458.2,292.0 L458.6,291.8 L458.9,291.6 L459.2,291.4 L459.6,291.2 L459.9,291.1 L460.2,290.9 L460.5,290.7 L460.9,290.5 L461.2,290.3 L461.5,290.1 L461.8,289.9 L462.1,289.7 L462.4,289.5 L462.7,289.3 L463.0,289.1 L463.3,288.9 L463.6,288.7 L463.9,288.5 L464.2,288.3 L464.5,288.1 L464.8,287.9 L465.0,287.7 L465.3,287.5 L465.6,287.3 L465.9,287.1 L466.1,286.9 L466.4,286.7 L466.7,286.5 L466.9,286.3 L467.2,286.1 L467.4,285.8 L467.7,285.6 L467.9,285.4 L468.2,285.2 L468.4,285.0 L468.7,284.8 L468.9,284.6 L469.2,284.3 L469.4,284.1 L469.6,283.9 L469.9,283.7 L470.1,283.5 L470.3,283.2 L470.5,283.0 L470.7,282.8 L471.0,282.6 L471.2,282.3 L471.4,282.1 L471.6,281.9 L471.8,281.7 L472.0,281.4 L472.2,281.2 L472.4,281.0 L472.6,280.7 L472.7,280.5 L472.9,280.3 L473.1,280.0 L473.3,279.8 L473.5,279.6 L473.6,279.3 L473.8,279.1 L474.0,278.9 L474.1,278.6 L474.3,278.4 L474.5,278.1 L474.6,277.9 L474.8,277.7 L474.9,277.4 L475.1,277.2 L475.2,276.9 L475.4,276.7 L475.5,276.4 L475.6,276.2 L475.8,276.0 L475.9,275.7 L476.0,275.5 L476.2,275.2 L476.3,275.0 L476.4,274.7 L476.5,274.5 L476.6,274.2 L476.7,274.0 L476.8,273.7 L476.9,273.5 L477.0,273.2 L477.1,272.9 L477.2,272.7 L477.3,272.4 L477.4,272.2 L477.5,271.9 L477.6,271.7 L477.7,271.4 L477.7,271.1 L477.8,270.9 L477.9,270.6 L477.9,270.4 L478.0,270.1 L478.1,269.8 L478.1,269.6 L478.2,269.3 L478.2,269.1M321.0,301.5 L321.5,301.9 L322.1,302.3 L322.6,302.7 L323.1,303.1 L323.7,303.5 L324.2,303.9 L324.7,304.3 L325.3,304.7 L325.8,305.1 L326.3,305.5 L326.9,305.9 L327.4,306.3 L328.0,306.7 L328.5,307.1 L329.0,307.5 L329.6,307.9 L330.1,308.3 L330.6,308.7 L331.2,309.1 L331.7,309.5 L332.2,309.9 L332.8,310.2 L333.3,310.6 L333.8,311.0 L334.4,311.4 L334.9,311.8 L335.4,312.2 L335.9,312.5 L336.5,312.9 L337.0,313.3 L337.5,313.7 L338.1,314.0 L338.6,314.4 L339.1,314.8 L339.7,315.1 L340.2,315.5 L340.7,315.9 L341.2,316.2 L341.8,316.6 L342.3,317.0 L342.8,317.3 L343.4,317.7 L343.9,318.0 L344.4,318.4 L344.9,318.7 L345.5,319.1 L346.0,319.4 L346.5,319.8 L347.0,320.1 L347.5,320.5 L348.1,320.8 L348.6,321.2 L349.1,321.5 L349.6,321.8 L350.2,322.2 L350.7,322.5 L351.2,322.8 L351.7,323.2 L352.2,323.5 L352.7,323.8 L353.3,324.2 L353.8,324.5 L354.3,324.8 L354.8,325.1 L355.3,325.5 L355.8,325.8 L356.3,326.1 L356.9,326.4 L357.4,326.7 L357.9,327.0 L358.4,327.4 L358.9,327.7 L359.4,328.0 L359.9,328.3 L360.4,328.6 L360.9,328.9 L361.4,329.2 L361.9,329.5 L362.4,329.8 L362.9,330.1 L363.4,330.4 L364.0,330.7 L364.5,331.0 L365.0,331.2 L365.5,331.5 L365.9,331.8 L366.4,332.1 L366.9,332.4 L367.4,332.7 L367.9,332.9 L368.4,333.2 L368.9,333.5 L369.4,333.8 L369.9,334.0 L370.4,334.3 L370.9,334.6 L371.4,334.8 L371.9,335.1 L372.3,335.4 L372.8,335.6 L373.3,335.9 L373.8,336.1 L374.3,336.4 L374.8,336.7 L375.2,336.9 L375.7,337.2 L376.2,337.4 L376.7,337.6 L377.2,337.9 L377.6,338.1 L378.1,338.4 L378.6,338.6 L379.0,338.8 L379.5,339.1 L380.0,339.3 L380.5,339.5 L380.9,339.8 L381.4,340.0 L381.9,340.2 L382.3,340.4 L382.8,340.7 L383.2,340.9 L383.7,341.1 L384.2,341.3 L384.6,341.5 L385.1,341.7 L385.5,341.9 L386.0,342.1 L386.4,342.4 L386.9,342.6 L387.3,342.8 L387.8,343.0 L388.2,343.2 L388.7,343.3 L389.1,343.5 L389.6,343.7 L390.0,343.9 L390.5,344.1 L390.9,344.3 L391.3,344.5 L391.8,344.7 L392.2,344.8 L392.7,345.0 L393.1,345.2 L393.5,345.4 L394.0,345.5 L394.4,345.7 L394.8,345.9 L395.2,346.0 L395.7,346.2 L396.1,346.4 L396.5,346.5 L396.9,346.7 L397.3,346.8 L397.8,347.0 L398.2,347.1 L398.6,347.3 L399.0,347.4 L399.4,347.6 L399.8,347.7 L400.2,347.9 L400.7,348.0 L401.1,348.1 L401.5,348.3 L401.9,348.4 L402.3,348.5 L402.7,348.6 L403.1,348.8 L403.5,348.9 L403.9,349.0 L404.3,349.1 L404.6,349.3 L405.0,349.4 L405.4,349.5 L405.8,349.6 L406.2,349.7 L406.6,349.8 L407.0,349.9 L407.3,350.0 L407.7,350.1 L408.1,350.2 L408.5,350.3 L408.8,350.4 L409.2,350.5 L409.6,350.6 L410.0,350.7 L410.3,350.8 L410.7,350.8 L411.1,350.9 L411.4,351.0 L411.8,351.1 L412.1,351.2 L412.5,351.2 L412.9,351.3 L413.2,351.4 L413.6,351.4 L413.9,351.5 L414.3,351.6 L414.6,351.6 L415.0,351.7 L415.3,351.7 L415.6,351.8 L416.0,351.8 L416.3,351.9 L416.6,351.9 L417.0,352.0 L417.3,352.0 L417.6,352.1 L418.0,352.1 L418.3,352.1 L418.6,352.2 L418.9,352.2 L419.3,352.2 L419.6,352.3 L419.9,352.3 L420.2,352.3 L420.5,352.3 L420.8,352.3 L421.2,352.4 L421.5,352.4 L421.8,352.4 L422.1,352.4 L422.4,352.4 L422.7,352.4 L423.0,352.4 L423.3,352.4 L423.6,352.4 L423.9,352.4 L424.1,352.4 L424.4,352.4 L424.7,352.4 L425.0,352.4 L425.3,352.4 L425.6,352.4 L425.8,352.3 L426.1,352.3 L426.4,352.3 L426.7,352.3 L426.9,352.2 L427.2,352.2 L427.5,352.2 L427.7,352.2 L428.0,352.1 L428.3,352.1 L428.5,352.0 L428.8,352.0 L429.0,352.0 L429.3,351.9 L429.5,351.9 L429.8,351.8 L430.0,351.8 L430.3,351.7 L430.5,351.6 L430.8,351.6 L431.0,351.5 L431.2,351.5 L431.5,351.4 L431.7,351.3 L431.9,351.3 L432.2,351.2 L432.4,351.1 L432.6,351.0 L432.8,351.0 L433.0,350.9 L433.3,350.8 L433.5,350.7 L433.7,350.6 L433.9,350.5 L434.1,350.5 L434.3,350.4 L434.5,350.3 L434.7,350.2 L434.9,350.1 L435.1,350.0 L435.3,349.9 L435.5,349.8 L435.7,349.6 L435.9,349.5 L436.1,349.4 L436.2,349.3 L436.4,349.2 L436.6,349.1 L436.8,349.0 L437.0,348.8 L437.1,348.7 L437.3,348.6 L437.5,348.5 L437.6,348.3 L437.8,348.2 L438.0,348.1 L438.1,347.9 L438.3,347.8 L438.4,347.6 L438.6,347.5 L438.7,347.3 L438.9,347.2 L439.0,347.1 L439.2,346.9M321.0,301.5 L321.2,302.1 L321.5,302.7 L321.7,303.3 L322.0,303.9 L322.2,304.5 L322.4,305.1 L322.7,305.7 L322.9,306.3 L323.1,306.8 L323.4,307.4 L323.6,308.0 L323.9,308.6 L324.1,309.2 L324.3,309.8 L324.6,310.4 L324.8,311.0 L325.1,311.5 L325.3,312.1 L325.5,312.7 L325.8,313.3 L326.0,313.9 L326.2,314.4 L326.5,315.0 L326.7,315.6 L327.0,316.2 L327.2,316.7 L327.4,317.3 L327.7,317.9 L327.9,318.4 L328.1,319.0 L328.4,319.6 L328.6,320.1 L328.9,320.7 L329.1,321.2 L329.3,321.8 L329.6,322.3 L329.8,322.9 L330.0,323.5 L330.3,324.0 L330.5,324.6 L330.7,325.1 L331.0,325.6 L331.2,326.2 L331.4,326.7 L331.7,327.3 L331.9,327.8 L332.2,328.3 L332.4,328.9 L332.6,329.4 L332.9,329.9 L333.1,330.5 L333.3,331.0 L333.6,331.5 L333.8,332.1 L334.0,332.6 L334.2,333.1 L334.5,333.6 L334.7,334.1 L334.9,334.7 L335.2,335.2 L335.4,335.7 L335.6,336.2 L335.9,336.7 L336.1,337.2 L336.3,337.7 L336.6,338.2 L336.8,338.7 L337.0,339.2 L337.2,339.7 L337.5,340.2 L337.7,340.7 L337.9,341.2 L338.1,341.7 L338.4,342.2 L338.6,342.7 L338.8,343.1 L339.1,343.6 L339.3,344.1 L339.5,344.6 L339.7,345.0 L340.0,345.5 L340.2,346.0 L340.4,346.5 L340.6,346.9 L340.8,347.4 L341.1,347.9 L341.3,348.3 L341.5,348.8 L341.7,349.2 L342.0,349.7 L342.2,350.1 L342.4,350.6 L342.6,351.0 L342.8,351.5 L343.1,351.9 L343.3,352.4 L343.5,352.8 L343.7,353.3 L343.9,353.7 L344.1,354.1 L344.4,354.6 L344.6,355.0 L344.8,355.4 L345.0,355.8 L345.2,356.3 L345.4,356.7 L345.6,357.1 L345.9,357.5 L346.1,357.9 L346.3,358.3 L346.5,358.7 L346.7,359.1 L346.9,359.6 L347.1,360.0 L347.3,360.4 L347.5,360.8 L347.8,361.1 L348.0,361.5 L348.2,361.9 L348.4,362.3 L348.6,362.7 L348.8,363.1 L349.0,363.5 L349.2,363.8 L349.4,364.2 L349.6,364.6 L349.8,365.0 L350.0,365.3 L350.2,365.7 L350.4,366.1 L350.6,366.4 L350.8,366.8 L351.0,367.1 L351.2,367.5 L351.4,367.9 L351.6,368.2 L351.8,368.5 L352.0,368.9 L352.2,369.2 L352.4,369.6 L352.6,369.9 L352.8,370.2 L353.0,370.6 L353.2,370.9 L353.4,371.2 L353.6,371.6 L353.8,371.9 L354.0,372.2 L354.1,372.5 L354.3,372.8 L354.5,373.1 L354.7,373.5 L354.9,373.8 L355.1,374.1 L355.3,374.4 L355.5,374.7 L355.6,375.0 L355.8,375.3 L356.0,375.5 L356.2,375.8 L356.4,376.1 L356.6,376.4 L356.7,376.7 L356.9,377.0 L357.1,377.2 L357.3,377.5 L357.5,377.8 L357.6,378.1 L357.8,378.3 L358.0,378.6 L358.2,378.8 L358.3,379.1 L358.5,379.4 L358.7,379.6 L358.9,379.9 L359.0,380.1 L359.2,380.3 L359.4,380.6 L359.6,380.8 L359.7,381.1 L359.9,381.3 L360.1,381.5 L360.2,381.7 L360.4,382.0 L360.6,382.2 L360.7,382.4 L360.9,382.6 L361.0,382.8 L361.2,383.1 L361.4,383.3 L361.5,383.5 L361.7,383.7 L361.9,383.9 L362.0,384.1 L362.2,384.3 L362.3,384.5 L362.5,384.6 L362.6,384.8 L362.8,385.0 L362.9,385.2 L363.1,385.4 L363.3,385.5 L363.4,385.7 L363.6,385.9 L363.7,386.1 L363.9,386.2 L364.0,386.4 L364.1,386.5 L364.3,386.7 L364.4,386.8 L364.6,387.0 L364.7,387.1 L364.9,387.3 L365.0,387.4 L365.2,387.6 L365.3,387.7 L365.4,387.8 L365.6,388.0 L365.7,388.1 L365.9,388.2 L366.0,388.3 L366.1,388.5 L366.3,388.6 L366.4,388.7 L366.5,388.8 L366.7,388.9 L366.8,389.0 L366.9,389.1 L367.1,389.2 L367.2,389.3 L367.3,389.4 L367.4,389.5 L367.6,389.6 L367.7,389.7 L367.8,389.7 L367.9,389.8 L368.1,389.9 L368.2,390.0 L368.3,390.0 L368.4,390.1 L368.5,390.2 L368.7,390.2 L368.8,390.3 L368.9,390.3 L369.0,390.4 L369.1,390.5 L369.2,390.5 L369.3,390.5 L369.5,390.6 L369.6,390.6 L369.7,390.7 L369.8,390.7 L369.9,390.7 L370.0,390.7 L370.1,390.8 L370.2,390.8 L370.3,390.8 L370.4,390.8 L370.5,390.8 L370.6,390.8 L370.7,390.9 L370.8,390.9 L370.9,390.9 L371.0,390.9 L371.1,390.9 L371.2,390.8 L371.3,390.8 L371.4,390.8 L371.5,390.8 L371.6,390.8 L371.7,390.8 L371.8,390.7 L371.9,390.7M321.0,301.5 L320.9,302.1 L320.8,302.7 L320.6,303.4 L320.5,304.0 L320.4,304.6 L320.3,305.2 L320.2,305.9 L320.0,306.5 L319.9,307.1 L319.8,307.7 L319.7,308.3 L319.5,309.0 L319.4,309.6 L319.3,310.2 L319.2,310.8 L319.1,311.4 L318.9,312.0 L318.8,312.7 L318.7,313.3 L318.6,313.9 L318.5,314.5 L318.3,315.1 L318.2,315.7 L318.1,316.3 L318.0,316.9 L317.9,317.5 L317.7,318.1 L317.6,318.7 L317.5,319.3 L317.4,319.9 L317.3,320.5 L317.1,321.0 L317.0,321.6 L316.9,322.2 L316.8,322.8 L316.7,323.4 L316.5,324.0 L316.4,324.6 L316.3,325.1 L316.2,325.7 L316.1,326.3 L315.9,326.9 L315.8,327.4 L315.7,328.0 L315.6,328.6 L315.5,329.1 L315.3,329.7 L315.2,330.3 L315.1,330.8 L315.0,331.4 L314.9,331.9 L314.7,332.5 L314.6,333.1 L314.5,333.6 L314.4,334.2 L314.3,334.7 L314.2,335.3 L314.0,335.8 L313.9,336.3 L313.8,336.9 L313.7,337.4 L313.6,338.0 L313.5,338.5 L313.3,339.0 L313.2,339.6 L313.1,340.1 L313.0,340.6 L312.9,341.2 L312.8,341.7 L312.6,342.2 L312.5,342.7 L312.4,343.2 L312.3,343.8 L312.2,344.3 L312.1,344.8 L311.9,345.3 L311.8,345.8 L311.7,346.3 L311.6,346.8 L311.5,347.3 L311.4,347.8 L311.3,348.3 L311.2,348.8 L311.0,349.3 L310.9,349.8 L310.8,350.3 L310.7,350.8 L310.6,351.3 L310.5,351.8 L310.4,352.2 L310.2,352.7 L310.1,353.2 L310.0,353.7 L309.9,354.1 L309.8,354.6 L309.7,355.1 L309.6,355.5 L309.5,356.0 L309.4,356.5 L309.3,356.9 L309.1,357.4 L309.0,357.8 L308.9,358.3 L308.8,358.7 L308.7,359.2 L308.6,359.6 L308.5,360.1 L308.4,360.5 L308.3,361.0 L308.2,361.4 L308.1,361.8 L307.9,362.3 L307.8,362.7 L307.7,363.1 L307.6,363.6 L307.5,364.0 L307.4,364.4 L307.3,364.8 L307.2,365.2 L307.1,365.6 L307.0,366.1 L306.9,366.5 L306.8,366.9 L306.7,367.3 L306.6,367.7 L306.5,368.1 L306.4,368.5 L306.3,368.9 L306.2,369.3 L306.1,369.6 L306.0,370.0 L305.9,370.4 L305.8,370.8 L305.7,371.2 L305.6,371.5 L305.5,371.9 L305.4,372.3 L305.3,372.7 L305.2,373.0 L305.1,373.4 L305.0,373.7 L304.9,374.1 L304.8,374.5 L304.7,374.8 L304.6,375.2 L304.5,375.5 L304.4,375.9 L304.3,376.2 L304.2,376.5 L304.1,376.9 L304.0,377.2 L303.9,377.5 L303.8,377.9 L303.7,378.2 L303.6,378.5 L303.5,378.9 L303.4,379.2 L303.3,379.5 L303.2,379.8 L303.1,380.1 L303.0,380.4 L302.9,380.7 L302.9,381.0 L302.8,381.3 L302.7,381.6 L302.6,381.9 L302.5,382.2 L302.4,382.5 L302.3,382.8 L302.2,383.1 L302.1,383.4 L302.0,383.6 L302.0,383.9 L301.9,384.2 L301.8,384.5 L301.7,384.7 L301.6,385.0 L301.5,385.2 L301.4,385.5 L301.3,385.8 L301.3,386.0 L301.2,386.3 L301.1,386.5 L301.0,386.8 L300.9,387.0 L300.8,387.2 L300.8,387.5 L300.7,387.7 L300.6,387.9 L300.5,388.2 L300.4,388.4 L300.3,388.6 L300.3,388.8 L300.2,389.0 L300.1,389.3 L300.0,389.5 L299.9,389.7 L299.9,389.9 L299.8,390.1 L299.7,390.3 L299.6,390.5 L299.5,390.7 L299.5,390.9 L299.4,391.1 L299.3,391.2 L299.2,391.4 L299.2,391.6 L299.1,391.8 L299.0,392.0 L298.9,392.1 L298.9,392.3 L298.8,392.5 L298.7,392.6 L298.7,392.8 L298.6,392.9 L298.5,393.1 L298.4,393.2 L298.4,393.4 L298.3,393.5 L298.2,393.7 L298.2,393.8 L298.1,393.9 L298.0,394.1 L298.0,394.2 L297.9,394.3 L297.8,394.5 L297.8,394.6 L297.7,394.7 L297.6,394.8 L297.6,394.9 L297.5,395.0 L297.4,395.1 L297.4,395.2 L297.3,395.3 L297.2,395.4 L297.2,395.5 L297.1,395.6 L297.0,395.7 L297.0,395.8 L296.9,395.9 L296.9,395.9 L296.8,396.0 L296.7,396.1 L296.7,396.2 L296.6,396.2 L296.6,396.3 L296.5,396.4 L296.5,396.4 L296.4,396.5 L296.3,396.5 L296.3,396.6 L296.2,396.6 L296.2,396.7 L296.1,396.7 L296.1,396.7 L296.0,396.8 L296.0,396.8 L295.9,396.8 L295.9,396.9 L295.8,396.9 L295.8,396.9 L295.7,396.9 L295.7,396.9 L295.6,396.9 L295.6,396.9 L295.5,396.9 L295.5,396.9 L295.4,396.9 L295.4,396.9M269.5,349.5 L269.3,349.3 L269.0,349.1 L268.7,348.9 L268.5,348.7 L268.2,348.5 L268.0,348.3 L267.7,348.0 L267.4,347.8 L267.2,347.6 L266.9,347.4 L266.7,347.2 L266.4,347.0 L266.2,346.7 L265.9,346.5 L265.6,346.3 L265.4,346.1 L265.1,345.9 L264.9,345.6 L264.6,345.4 L264.4,345.2 L264.1,345.0 L263.9,344.7 L263.7,344.5 L263.4,344.3 L263.2,344.0 L262.9,343.8 L262.7,343.6 L262.5,343.3 L262.2,343.1 L262.0,342.9 L261.7,342.6 L261.5,342.4 L261.3,342.1 L261.0,341.9 L260.8,341.7 L260.6,341.4 L260.4,341.2 L260.1,340.9 L259.9,340.7 L259.7,340.4 L259.5,340.2 L259.2,339.9 L259.0,339.7 L258.8,339.4 L258.6,339.2 L258.4,338.9 L258.1,338.7 L257.9,338.4 L257.7,338.2 L257.5,337.9 L257.3,337.7 L257.1,337.4 L256.9,337.2 L256.7,336.9 L256.4,336.6 L256.2,336.4 L256.0,336.1 L255.8,335.9 L255.6,335.6 L255.4,335.3 L255.2,335.1 L255.0,334.8 L254.8,334.5 L254.6,334.3 L254.4,334.0 L254.2,333.7 L254.1,333.5 L253.9,333.2 L253.7,332.9 L253.5,332.7 L253.3,332.4 L253.1,332.1 L252.9,331.8 L252.7,331.6 L252.6,331.3 L252.4,331.0 L252.2,330.8 L252.0,330.5 L251.8,330.2 L251.7,329.9 L251.5,329.6 L251.3,329.4 L251.2,329.1 L251.0,328.8 L250.8,328.5 L250.7,328.2 L250.5,328.0 L250.3,327.7 L250.2,327.4 L250.0,327.1 L249.8,326.8 L249.7,326.5 L249.5,326.2 L249.4,326.0 L249.2,325.7 L249.1,325.4 L248.9,325.1 L248.7,324.8 L248.6,324.5 L248.5,324.2 L248.3,323.9 L248.2,323.6 L248.0,323.3 L247.9,323.0 L247.7,322.8 L247.6,322.5 L247.5,322.2 L247.3,321.9 L247.2,321.6 L247.0,321.3 L246.9,321.0 L246.8,320.7 L246.6,320.4 L246.5,320.1 L246.4,319.8 L246.3,319.5 L246.1,319.2 L246.0,318.9 L245.9,318.6 L245.8,318.3 L245.7,318.0 L245.5,317.7 L245.4,317.4 L245.3,317.1 L245.2,316.8 L245.1,316.5 L245.0,316.2 L244.9,315.8 L244.8,315.5 L244.7,315.2 L244.6,314.9 L244.4,314.6 L244.3,314.3 L244.2,314.0 L244.1,313.7 L244.1,313.4 L244.0,313.1 L243.9,312.8 L243.8,312.5 L243.7,312.1 L243.6,311.8 L243.5,311.5 L243.4,311.2 L243.3,310.9 L243.2,310.6 L243.2,310.3 L243.1,310.0 L243.0,309.7 L242.9,309.3 L242.8,309.0 L242.8,308.7 L242.7,308.4 L242.6,308.1 L242.6,307.8 L242.5,307.5 L242.4,307.1 L242.4,306.8 L242.3,306.5 L242.2,306.2 L242.2,305.9 L242.1,305.6 L242.0,305.2 L242.0,304.9 L241.9,304.6 L241.9,304.3 L241.8,304.0 L241.8,303.6 L241.7,303.3 L241.7,303.0 L241.6,302.7 L241.6,302.4 L241.5,302.1 L241.5,301.7 L241.5,301.4 L241.4,301.1 L241.4,300.8 L241.4,300.5 L241.3,300.1 L241.3,299.8 L241.3,299.5 L241.2,299.2 L241.2,298.9 L241.2,298.5 L241.1,298.2 L241.1,297.9 L241.1,297.6 L241.1,297.3 L241.1,296.9 L241.0,296.6 L241.0,296.3 L241.0,296.0 L241.0,295.6 L241.0,295.3 L241.0,295.0 L241.0,294.7 L241.0,294.4 L241.0,294.0 L241.0,293.7 L241.0,293.4 L240.9,293.1 L241.0,292.8 L241.0,292.4 L241.0,292.1 L241.0,291.8 L241.0,291.5 L241.0,291.1 L241.0,290.8 L241.0,290.5 L241.0,290.2 L241.0,289.9 L241.0,289.5 L241.1,289.2 L241.1,288.9 L241.1,288.6 L241.1,288.3 L241.1,287.9 L241.2,287.6 L241.2,287.3 L241.2,287.0 L241.3,286.7 L241.3,286.3 L241.3,286.0 L241.4,285.7 L241.4,285.4 L241.4,285.1 L241.5,284.7 L241.5,284.4 L241.5,284.1 L241.6,283.8 L241.6,283.5 L241.7,283.1 L241.7,282.8 L241.8,282.5 L241.8,282.2 L241.9,281.9 L241.9,281.5 L242.0,281.2 L242.0,280.9 L242.1,280.6 L242.2,280.3 L242.2,280.0 L242.3,279.6 L242.4,279.3 L242.4,279.0 L242.5,278.7 L242.6,278.4 L242.6,278.1 L242.7,277.8 L242.8,277.4 L242.8,277.1 L242.9,276.8 L243.0,276.5 L243.1,276.2 L243.2,275.9 L243.2,275.6 L243.3,275.2 L243.4,274.9 L243.5,274.6 L243.6,274.3 L243.7,274.0 L243.8,273.7 L243.9,273.4 L244.0,273.1 L244.1,272.8 L244.1,272.5 L244.2,272.1 L244.3,271.8 L244.4,271.5 L244.6,271.2 L244.7,270.9 L244.8,270.6 L244.9,270.3 L245.0,270.0 L245.1,269.7 L245.2,269.4 L245.3,269.1 L245.4,268.8 L245.5,268.5 L245.7,268.2 L245.8,267.9 L245.9,267.6 L246.0,267.3 L246.1,267.0 L246.3,266.7 L246.4,266.4 L246.5,266.1 L246.6,265.8 L246.8,265.5 L246.9,265.2 L247.0,264.9 L247.2,264.6 L247.3,264.3 L247.5,264.0 L247.6,263.7 L247.7,263.4 L247.9,263.1 L248.0,262.8 L248.2,262.5 L248.3,262.2 L248.5,261.9 L248.6,261.6 L248.7,261.4 L248.9,261.1 L249.1,260.8 L249.2,260.5 L249.4,260.2 L249.5,259.9 L249.7,259.6 L249.8,259.3 L250.0,259.1 L250.2,258.8 L250.3,258.5 L250.5,258.2 L250.7,257.9 L250.8,257.6 L251.0,257.4 L251.2,257.1 L251.3,256.8 L251.5,256.5 L251.7,256.2 L251.8,256.0 L252.0,255.7 L252.2,255.4 L252.4,255.1 L252.6,254.8 L252.7,254.6 L252.9,254.3 L253.1,254.0 L253.3,253.8 L253.5,253.5 L253.7,253.2 L253.9,252.9 L254.1,252.7 L254.2,252.4 L254.4,252.1 L254.6,251.9 L254.8,251.6 L255.0,251.3 L255.2,251.1 L255.4,250.8 L255.6,250.5 L255.8,250.3 L256.0,250.0 L256.2,249.8 L256.4,249.5 L256.7,249.2 L256.9,249.0 L257.1,248.7 L257.3,248.5 L257.5,248.2 L257.7,248.0 L257.9,247.7 L258.1,247.5 L258.4,247.2 L258.6,247.0 L258.8,246.7 L259.0,246.5 L259.2,246.2 L259.5,246.0 L259.7,245.7 L259.9,245.5 L260.1,245.2 L260.4,245.0 L260.6,244.7 L260.8,244.5 L261.0,244.2 L261.3,244.0 L261.5,243.8 L261.7,243.5 L262.0,243.3 L262.2,243.1 L262.5,242.8 L262.7,242.6 L262.9,242.4 L263.2,242.1 L263.4,241.9 L263.7,241.7 L263.9,241.4 L264.1,241.2 L264.4,241.0 L264.6,240.7 L264.9,240.5 L265.1,240.3 L265.4,240.1 L265.6,239.8 L265.9,239.6 L266.2,239.4 L266.4,239.2 L266.7,239.0 L266.9,238.7 L267.2,238.5 L267.4,238.3 L267.7,238.1 L268.0,237.9 L268.2,237.7 L268.5,237.5 L268.7,237.3 L269.0,237.0 L269.3,236.8 L269.5,236.6 L269.8,236.4 L270.1,236.2 L270.4,236.0 L270.6,235.8 L270.9,235.6 L271.2,235.4 L271.4,235.2 L271.7,235.0 L272.0,234.8 L272.3,234.6 L272.5,234.4 L272.8,234.2 L273.1,234.0 L273.4,233.8 L273.7,233.7 L273.9,233.5 L274.2,233.3 L274.5,233.1 L274.8,232.9 L275.1,232.7 L275.4,232.5 L275.7,232.3 L275.9,232.2 L276.2,232.0 L276.5,231.8 L276.8,231.6 L277.1,231.5 L277.4,231.3 L277.7,231.1 L278.0,230.9 L278.3,230.8 L278.6,230.6 L278.9,230.4 L279.2,230.2 L279.5,230.1 L279.8,229.9 L280.1,229.7 L280.4,229.6 L280.7,229.4 L281.0,229.3 L281.3,229.1 L281.6,228.9 L281.9,228.8 L282.2,228.6 L282.5,228.5 L282.8,228.3 L283.1,228.2 L283.4,228.0 L283.7,227.9 L284.0,227.7 L284.3,227.6 L284.7,227.4 L285.0,227.3 L285.3,227.1 L285.6,227.0 L285.9,226.8 L286.2,226.7 L286.5,226.6 L286.9,226.4 L287.2,226.3 L287.5,226.2 L287.8,226.0 L288.1,225.9 L288.4,225.8 L288.8,225.6 L289.1,225.5 L289.4,225.4 L289.7,225.2 L290.0,225.1 L290.4,225.0 L290.7,224.9 L291.0,224.8 L291.3,224.6 L291.7,224.5 L292.0,224.4 L292.3,224.3 L292.6,224.2 L293.0,224.1 L293.3,223.9 L293.6,223.8 L293.9,223.7 L294.3,223.6 L294.6,223.5 L294.9,223.4 L295.3,223.3 L295.6,223.2 L295.9,223.1 L296.3,223.0 L296.6,222.9 L296.9,222.8 L297.3,222.7 L297.6,222.6 L297.9,222.5 L298.3,222.4 L298.6,222.3 L298.9,222.2 L299.3,222.2 L299.6,222.1 L299.9,222.0 L300.3,221.9 L300.6,221.8 L301.0,221.7 L301.3,221.7 L301.6,221.6 L302.0,221.5 L302.3,221.4 L302.7,221.4 L303.0,221.3 L303.3,221.2 L303.7,221.1 L304.0,221.1 L304.4,221.0 L304.7,220.9 L305.0,220.9 L305.4,220.8 L305.7,220.7 L306.1,220.7 L306.4,220.6 L306.8,220.6 L307.1,220.5 L307.4,220.5 L307.8,220.4 L308.1,220.3 L308.5,220.3 L308.8,220.2 L309.2,220.2 L309.5,220.2 L309.9,220.1 L310.2,220.1 L310.6,220.0 L310.9,220.0 L311.2,219.9 L311.6,219.9 L311.9,219.9 L312.3,219.8 L312.6,219.8 L313.0,219.8 L313.3,219.7 L313.7,219.7 L314.0,219.7 L314.4,219.6 L314.7,219.6 L315.1,219.6 L315.4,219.6 L315.8,219.5 L316.1,219.5 L316.5,219.5 L316.8,219.5 L317.2,219.5 L317.5,219.5 L317.9,219.4 L318.2,219.4 L318.6,219.4 L318.9,219.4 L319.3,219.4 L319.6,219.4 L320.0,219.4 L320.3,219.4 L320.7,219.4 L321.0,219.4 L321.3,219.4 L321.7,219.4 L322.0,219.4 L322.4,219.4 L322.7,219.4 L323.1,219.4 L323.4,219.4 L323.8,219.4 L324.1,219.4 L324.5,219.5 L324.8,219.5 L325.2,219.5 L325.5,219.5 L325.9,219.5 L326.2,219.5 L326.6,219.6 L326.9,219.6 L327.3,219.6 L327.6,219.6 L328.0,219.7 L328.3,219.7 L328.7,219.7 L329.0,219.8 L329.4,219.8 L329.7,219.8 L330.1,219.9 L330.4,219.9 L330.8,219.9 L331.1,220.0 L331.4,220.0 L331.8,220.1 L332.1,220.1 L332.5,220.2 L332.8,220.2 L333.2,220.2 L333.5,220.3 L333.9,220.3 L334.2,220.4 L334.6,220.5 L334.9,220.5 L335.2,220.6 L335.6,220.6 L335.9,220.7 L336.3,220.7 L336.6,220.8 L337.0,220.9 L337.3,220.9 L337.6,221.0 L338.0,221.1 L338.3,221.1 L338.7,221.2 L339.0,221.3 L339.3,221.4 L339.7,221.4 L340.0,221.5 L340.4,221.6 L340.7,221.7 L341.0,221.7 L341.4,221.8 L341.7,221.9 L342.1,222.0 L342.4,222.1 L342.7,222.2 L343.1,222.2 L343.4,222.3 L343.7,222.4 L344.1,222.5 L344.4,222.6 L344.7,222.7 L345.1,222.8 L345.4,222.9 L345.7,223.0 L346.1,223.1 L346.4,223.2 L346.7,223.3 L347.1,223.4 L347.4,223.5 L347.7,223.6 L348.1,223.7 L348.4,223.8 L348.7,223.9 L349.0,224.1 L349.4,224.2 L349.7,224.3 L350.0,224.4 L350.3,224.5 L350.7,224.6 L351.0,224.8 L351.3,224.9 L351.6,225.0 L352.0,225.1 L352.3,225.2 L352.6,225.4 L352.9,225.5 L353.2,225.6 L353.6,225.8 L353.9,225.9 L354.2,226.0 L354.5,226.2 L354.8,226.3 L355.1,226.4 L355.5,226.6 L355.8,226.7 L356.1,226.8 L356.4,227.0 L356.7,227.1 L357.0,227.3 L357.3,227.4 L357.7,227.6 L358.0,227.7 L358.3,227.9 L358.6,228.0 L358.9,228.2 L359.2,228.3 L359.5,228.5 L359.8,228.6 L360.1,228.8 L360.4,228.9 L360.7,229.1 L361.0,229.3 L361.3,229.4 L361.6,229.6 L361.9,229.7 L362.2,229.9 L362.5,230.1 L362.8,230.2 L363.1,230.4 L363.4,230.6 L363.7,230.8 L364.0,230.9 L364.3,231.1 L364.6,231.3 L364.9,231.5 L365.2,231.6 L365.5,231.8 L365.8,232.0 L366.1,232.2 L366.3,232.3 L366.6,232.5 L366.9,232.7 L367.2,232.9 L367.5,233.1 L367.8,233.3 L368.1,233.5 L368.3,233.7 L368.6,233.8 L368.9,234.0 L369.2,234.2 L369.5,234.4 L369.7,234.6 L370.0,234.8 L370.3,235.0 L370.6,235.2 L370.8,235.4 L371.1,235.6 L371.4,235.8 L371.6,236.0 L371.9,236.2 L372.2,236.4 L372.5,236.6 L372.7,236.8 L373.0,237.0 L373.3,237.3 L373.5,237.5 L373.8,237.7 L374.0,237.9 L374.3,238.1 L374.6,238.3 L374.8,238.5 L375.1,238.7 L375.3,239.0 L375.6,239.2 L375.8,239.4 L376.1,239.6 L376.4,239.8 L376.6,240.1 L376.9,240.3 L377.1,240.5 L377.4,240.7 L377.6,241.0 L377.9,241.2 L378.1,241.4 L378.3,241.7 L378.6,241.9 L378.8,242.1 L379.1,242.4 L379.3,242.6 L379.5,242.8 L379.8,243.1 L380.0,243.3 L380.3,243.5 L380.5,243.8 L380.7,244.0 L381.0,244.2 L381.2,244.5 L381.4,244.7 L381.6,245.0 L381.9,245.2 L382.1,245.5 L382.3,245.7 L382.5,246.0 L382.8,246.2 L383.0,246.5 L383.2,246.7 L383.4,247.0 L383.6,247.2 L383.9,247.5 L384.1,247.7 L384.3,248.0 L384.5,248.2 L384.7,248.5 L384.9,248.7 L385.1,249.0 L385.3,249.2 L385.6,249.5 L385.8,249.8 L386.0,250.0 L386.2,250.3 L386.4,250.5 L386.6,250.8 L386.8,251.1 L387.0,251.3 L387.2,251.6 L387.4,251.9 L387.6,252.1 L387.8,252.4 L387.9,252.7 L388.1,252.9 L388.3,253.2 L388.5,253.5 L388.7,253.8 L388.9,254.0 L389.1,254.3 L389.3,254.6 L389.4,254.8 L389.6,255.1 L389.8,255.4 L390.0,255.7 L390.2,256.0 L390.3,256.2 L390.5,256.5 L390.7,256.8 L390.8,257.1 L391.0,257.4 L391.2,257.6 L391.3,257.9 L391.5,258.2 L391.7,258.5 L391.8,258.8 L392.0,259.1 L392.2,259.3 L392.3,259.6 L392.5,259.9 L392.6,260.2 L392.8,260.5 L392.9,260.8 L393.1,261.1 L393.3,261.4 L393.4,261.6 L393.5,261.9 L393.7,262.2 L393.8,262.5 L394.0,262.8 L394.1,263.1 L394.3,263.4 L394.4,263.7 L394.5,264.0 L394.7,264.3 L394.8,264.6 L395.0,264.9 L395.1,265.2 L395.2,265.5 L395.4,265.8 L395.5,266.1 L395.6,266.4 L395.7,266.7 L395.9,267.0 L396.0,267.3 L396.1,267.6 L396.2,267.9 L396.3,268.2 L396.5,268.5 L396.6,268.8 L396.7,269.1 L396.8,269.4 L396.9,269.7 L397.0,270.0 L397.1,270.3 L397.2,270.6 L397.3,270.9 L397.4,271.2 L397.6,271.5 L397.7,271.8 L397.8,272.1 L397.9,272.5 L397.9,272.8 L398.0,273.1 L398.1,273.4 L398.2,273.7 L398.3,274.0 L398.4,274.3 L398.5,274.6 L398.6,274.9 L398.7,275.2 L398.8,275.6 L398.8,275.9 L398.9,276.2 L399.0,276.5 L399.1,276.8 L399.2,277.1 L399.2,277.4 L399.3,277.8 L399.4,278.1 L399.4,278.4 L399.5,278.7 L399.6,279.0 L399.6,279.3 L399.7,279.6 L399.8,280.0 L399.8,280.3 L399.9,280.6 L400.0,280.9 L400.0,281.2 L400.1,281.5 L400.1,281.9 L400.2,282.2 L400.2,282.5 L400.3,282.8 L400.3,283.1 L400.4,283.5 L400.4,283.8 L400.5,284.1 L400.5,284.4 L400.5,284.7 L400.6,285.1 L400.6,285.4 L400.6,285.7 L400.7,286.0 L400.7,286.3 L400.7,286.7 L400.8,287.0 L400.8,287.3 L400.8,287.6 L400.9,287.9 L400.9,288.3 L400.9,288.6 L400.9,288.9 L400.9,289.2 L401.0,289.5 L401.0,289.9 L401.0,290.2 L401.0,290.5 L401.0,290.8 L401.0,291.1 L401.0,291.5 L401.0,291.8 L401.0,292.1 L401.0,292.4 L401.0,292.8 L401.1,293.1 L401.0,293.4 L401.0,293.7 L401.0,294.0 L401.0,294.4 L401.0,294.7 L401.0,295.0 L401.0,295.3 L401.0,295.6 L401.0,296.0 L401.0,296.3 L401.0,296.6 L400.9,296.9 L400.9,297.3 L400.9,297.6 L400.9,297.9 L400.9,298.2 L400.8,298.5 L400.8,298.9 L400.8,299.2 L400.7,299.5 L400.7,299.8 L400.7,300.1 L400.6,300.5 L400.6,300.8 L400.6,301.1 L400.5,301.4 L400.5,301.7 L400.5,302.1 L400.4,302.4 L400.4,302.7 L400.3,303.0 L400.3,303.3 L400.2,303.6 L400.2,304.0 L400.1,304.3 L400.1,304.6 L400.0,304.9 L400.0,305.2 L399.9,305.6 L399.8,305.9 L399.8,306.2 L399.7,306.5 L399.6,306.8 L399.6,307.1 L399.5,307.5 L399.4,307.8 L399.4,308.1 L399.3,308.4 L399.2,308.7 L399.2,309.0 L399.1,309.3 L399.0,309.7 L398.9,310.0 L398.8,310.3 L398.8,310.6 L398.7,310.9 L398.6,311.2 L398.5,311.5 L398.4,311.8 L398.3,312.1 L398.2,312.5 L398.1,312.8 L398.0,313.1 L397.9,313.4 L397.9,313.7 L397.8,314.0 L397.7,314.3 L397.6,314.6 L397.4,314.9 L397.3,315.2 L397.2,315.5 L397.1,315.8 L397.0,316.2 L396.9,316.5 L396.8,316.8 L396.7,317.1 L396.6,317.4 L396.5,317.7 L396.3,318.0 L396.2,318.3 L396.1,318.6 L396.0,318.9 L395.9,319.2 L395.7,319.5 L395.6,319.8 L395.5,320.1 L395.4,320.4 L395.2,320.7 L395.1,321.0 L395.0,321.3 L394.8,321.6 L394.7,321.9 L394.5,322.2 L394.4,322.5 L394.3,322.8 L394.1,323.0 L394.0,323.3 L393.8,323.6 L393.7,323.9 L393.5,324.2 L393.4,324.5 L393.3,324.8 L393.1,325.1 L392.9,325.4 L392.8,325.7 L392.6,326.0 L392.5,326.2 L392.3,326.5 L392.2,326.8 L392.0,327.1 L391.8,327.4 L391.7,327.7 L391.5,328.0 L391.3,328.2 L391.2,328.5 L391.0,328.8 L390.8,329.1 L390.7,329.4 L390.5,329.6 L390.3,329.9 L390.2,330.2 L390.0,330.5 L389.8,330.8 L389.6,331.0 L389.4,331.3 L389.3,331.6 L389.1,331.8 L388.9,332.1 L388.7,332.4 L388.5,332.7 L388.3,332.9 L388.1,333.2 L387.9,333.5 L387.8,333.7 L387.6,334.0 L387.4,334.3 L387.2,334.5 L387.0,334.8 L386.8,335.1 L386.6,335.3 L386.4,335.6 L386.2,335.9 L386.0,336.1 L385.8,336.4 L385.6,336.6 L385.3,336.9 L385.1,337.2 L384.9,337.4 L384.7,337.7 L384.5,337.9 L384.3,338.2 L384.1,338.4 L383.9,338.7 L383.6,338.9 L383.4,339.2 L383.2,339.4 L383.0,339.7 L382.8,339.9 L382.5,340.2 L382.3,340.4 L382.1,340.7 L381.9,340.9 L381.6,341.2 L381.4,341.4 L381.2,341.7 L381.0,341.9 L380.7,342.1 L380.5,342.4 L380.3,342.6 L380.0,342.9 L379.8,343.1 L379.5,343.3 L379.3,343.6 L379.1,343.8 L378.8,344.0 L378.6,344.3 L378.3,344.5 L378.1,344.7 L377.9,345.0 L377.6,345.2 L377.4,345.4 L377.1,345.6 L376.9,345.9 L376.6,346.1 L376.4,346.3 L376.1,346.5 L375.8,346.7 L375.6,347.0 L375.3,347.2 L375.1,347.4 L374.8,347.6 L374.6,347.8 L374.3,348.0 L374.0,348.3 L373.8,348.5 L373.5,348.7 L373.3,348.9 L373.0,349.1 L372.7,349.3 L372.5,349.5 L372.2,349.7 L371.9,349.9 L371.6,350.1 L371.4,350.3 L371.1,350.5 L370.8,350.7 L370.6,350.9 L370.3,351.1 L370.0,351.3 L369.7,351.5 L369.5,351.7 L369.2,351.9 L368.9,352.1 L368.6,352.3 L368.3,352.5 L368.1,352.7 L367.8,352.9 L367.5,353.1 L367.2,353.3 L366.9,353.4 L366.6,353.6 L366.3,353.8 L366.1,354.0 L365.8,354.2 L365.5,354.3 L365.2,354.5 L364.9,354.7 L364.6,354.9 L364.3,355.0 L364.0,355.2 L363.7,355.4 L363.4,355.6 L363.1,355.7 L362.8,355.9 L362.5,356.1 L362.2,356.2 L361.9,356.4 L361.6,356.6 L361.3,356.7 L361.0,356.9 L360.7,357.0 L360.4,357.2 L360.1,357.4 L359.8,357.5 L359.5,357.7 L359.2,357.8 L358.9,358.0 L358.6,358.1 L358.3,358.3 L358.0,358.4 L357.7,358.6 L357.3,358.7 L357.0,358.9 L356.7,359.0 L356.4,359.2 L356.1,359.3 L355.8,359.4 L355.5,359.6 L355.1,359.7 L354.8,359.9 L354.5,360.0 L354.2,360.1 L353.9,360.3 L353.6,360.4 L353.2,360.5 L352.9,360.6 L352.6,360.8 L352.3,360.9 L352.0,361.0 L351.6,361.2 L351.3,361.3 L351.0,361.4 L350.7,361.5 L350.3,361.6 L350.0,361.8 L349.7,361.9 L349.4,362.0 L349.0,362.1 L348.7,362.2 L348.4,362.3 L348.1,362.4 L347.7,362.5 L347.4,362.6 L347.1,362.7 L346.7,362.9 L346.4,363.0 L346.1,363.1 L345.7,363.2 L345.4,363.3 L345.1,363.4 L344.7,363.4 L344.4,363.5 L344.1,363.6 L343.7,363.7 L343.4,363.8 L343.1,363.9 L342.7,364.0 L342.4,364.1 L342.1,364.2 L341.7,364.3 L341.4,364.3 L341.0,364.4 L340.7,364.5 L340.4,364.6 L340.0,364.6 L339.7,364.7 L339.3,364.8 L339.0,364.9 L338.7,364.9 L338.3,365.0 L338.0,365.1 L337.6,365.2 L337.3,365.2 L337.0,365.3 L336.6,365.3 L336.3,365.4 L335.9,365.5 L335.6,365.5 L335.2,365.6 L334.9,365.6 L334.6,365.7 L334.2,365.8 L333.9,365.8 L333.5,365.9 L333.2,365.9 L332.8,366.0 L332.5,366.0 L332.1,366.0 L331.8,366.1 L331.4,366.1 L331.1,366.2 L330.8,366.2 L330.4,366.3 L330.1,366.3 L329.7,366.3 L329.4,366.4 L329.0,366.4 L328.7,366.4 L328.3,366.5 L328.0,366.5 L327.6,366.5 L327.3,366.5 L326.9,366.6 L326.6,366.6 L326.2,366.6 L325.9,366.6 L325.5,366.6 L325.2,366.7 L324.8,366.7 L324.5,366.7 L324.1,366.7 L323.8,366.7 L323.4,366.7 L323.1,366.7 L322.7,366.7 L322.4,366.8 L322.0,366.8 L321.7,366.8 L321.3,366.8 L321.0,366.8 L320.7,366.8 L320.3,366.8 L320.0,366.8 L319.6,366.8 L319.3,366.7 L318.9,366.7 L318.6,366.7 L318.2,366.7 L317.9,366.7 L317.5,366.7 L317.2,366.7 L316.8,366.7 L316.5,366.6 L316.1,366.6 L315.8,366.6 L315.4,366.6 L315.1,366.6 L314.7,366.5 L314.4,366.5 L314.0,366.5 L313.7,366.5 L313.3,366.4 L313.0,366.4 L312.6,366.4 L312.3,366.3 L311.9,366.3 L311.6,366.3 L311.2,366.2 L310.9,366.2 L310.6,366.1 L310.2,366.1 L309.9,366.0 L309.5,366.0 L309.2,366.0 L308.8,365.9 L308.5,365.9 L308.1,365.8 L307.8,365.8 L307.4,365.7 L307.1,365.6 L306.8,365.6 L306.4,365.5 L306.1,365.5 L305.7,365.4 L305.4,365.3 L305.0,365.3 L304.7,365.2 L304.4,365.2 L304.0,365.1 L303.7,365.0 L303.3,364.9 L303.0,364.9 L302.7,364.8 L302.3,364.7 L302.0,364.6 L301.6,364.6 L301.3,364.5 L301.0,364.4 L300.6,364.3 L300.3,364.3 L299.9,364.2 L299.6,364.1 L299.3,364.0 L298.9,363.9 L298.6,363.8 L298.3,363.7 L297.9,363.6 L297.6,363.5 L297.3,363.4 L296.9,363.4 L296.6,363.3 L296.3,363.2 L295.9,363.1 L295.6,363.0 L295.3,362.9 L294.9,362.7 L294.6,362.6 L294.3,362.5 L293.9,362.4 L293.6,362.3 L293.3,362.2 L293.0,362.1 L292.6,362.0 L292.3,361.9 L292.0,361.8 L291.7,361.6 L291.3,361.5 L291.0,361.4 L290.7,361.3 L290.4,361.2 L290.0,361.0 L289.7,360.9 L289.4,360.8 L289.1,360.6 L288.8,360.5 L288.4,360.4 L288.1,360.3 L287.8,360.1 L287.5,360.0 L287.2,359.9 L286.9,359.7 L286.5,359.6 L286.2,359.4 L285.9,359.3 L285.6,359.2 L285.3,359.0 L285.0,358.9 L284.7,358.7 L284.3,358.6 L284.0,358.4 L283.7,358.3 L283.4,358.1 L283.1,358.0 L282.8,357.8 L282.5,357.7 L282.2,357.5 L281.9,357.4 L281.6,357.2 L281.3,357.0 L281.0,356.9 L280.7,356.7 L280.4,356.6 L280.1,356.4 L279.8,356.2 L279.5,356.1 L279.2,355.9 L278.9,355.7 L278.6,355.6 L278.3,355.4 L278.0,355.2 L277.7,355.0 L277.4,354.9 L277.1,354.7 L276.8,354.5 L276.5,354.3 L276.2,354.2 L275.9,354.0 L275.7,353.8 L275.4,353.6 L275.1,353.4 L274.8,353.3 L274.5,353.1 L274.2,352.9 L273.9,352.7 L273.7,352.5 L273.4,352.3 L273.1,352.1 L272.8,351.9 L272.5,351.7 L272.3,351.5 L272.0,351.3 L271.7,351.1 L271.4,350.9 L271.2,350.7 L270.9,350.5 L270.6,350.3 L270.4,350.1 L270.1,349.9 L269.8,349.7 L269.5,349.5M231.9,367.9 L231.4,367.6 L231.0,367.2 L230.5,366.9 L230.0,366.5 L229.6,366.1 L229.1,365.8 L228.7,365.4 L228.2,365.0 L227.8,364.7 L227.3,364.3 L226.9,363.9 L226.4,363.5 L226.0,363.1 L225.6,362.8 L225.1,362.4 L224.7,362.0 L224.3,361.6 L223.8,361.2 L223.4,360.8 L223.0,360.4 L222.5,360.0 L222.1,359.6 L221.7,359.2 L221.3,358.8 L220.8,358.4 L220.4,358.0 L220.0,357.6 L219.6,357.2 L219.2,356.8 L218.8,356.4 L218.4,356.0 L218.0,355.6 L217.6,355.2 L217.2,354.7 L216.8,354.3 L216.4,353.9 L216.0,353.5 L215.6,353.1 L215.2,352.6 L214.8,352.2 L214.4,351.8 L214.0,351.4 L213.6,350.9 L213.2,350.5 L212.9,350.1 L212.5,349.6 L212.1,349.2 L211.7,348.8 L211.4,348.3 L211.0,347.9 L210.6,347.4 L210.3,347.0 L209.9,346.5 L209.5,346.1 L209.2,345.6 L208.8,345.2 L208.5,344.7 L208.1,344.3 L207.8,343.8 L207.4,343.4 L207.1,342.9 L206.7,342.5 L206.4,342.0 L206.1,341.5 L205.7,341.1 L205.4,340.6 L205.0,340.2 L204.7,339.7 L204.4,339.2 L204.1,338.8 L203.7,338.3 L203.4,337.8 L203.1,337.3 L202.8,336.9 L202.5,336.4 L202.2,335.9 L201.8,335.4 L201.5,335.0 L201.2,334.5 L200.9,334.0 L200.6,333.5 L200.3,333.0 L200.0,332.5 L199.7,332.1 L199.4,331.6 L199.2,331.1 L198.9,330.6 L198.6,330.1 L198.3,329.6 L198.0,329.1 L197.7,328.6 L197.5,328.1 L197.2,327.6 L196.9,327.1 L196.6,326.6 L196.4,326.1 L196.1,325.6 L195.9,325.1 L195.6,324.6 L195.3,324.1 L195.1,323.6 L194.8,323.1 L194.6,322.6 L194.3,322.1 L194.1,321.6 L193.8,321.1 L193.6,320.6 L193.4,320.0 L193.1,319.5 L192.9,319.0 L192.7,318.5 L192.4,318.0 L192.2,317.5 L192.0,317.0 L191.8,316.4 L191.6,315.9 L191.3,315.4 L191.1,314.9 L190.9,314.4 L190.7,313.8 L190.5,313.3 L190.3,312.8 L190.1,312.3 L189.9,311.7 L189.7,311.2 L189.5,310.7 L189.3,310.1 L189.1,309.6 L188.9,309.1 L188.8,308.6 L188.6,308.0 L188.4,307.5 L188.2,307.0 L188.1,306.4 L187.9,305.9 L187.7,305.4 L187.6,304.8 L187.4,304.3 L187.2,303.7 L187.1,303.2 L186.9,302.7 L186.8,302.1 L186.6,301.6 L186.5,301.1 L186.3,300.5 L186.2,300.0 L186.0,299.4 L185.9,298.9 L185.8,298.3 L185.6,297.8 L185.5,297.3 L185.4,296.7 L185.3,296.2 L185.1,295.6 L185.0,295.1 L184.9,294.5 L184.8,294.0 L184.7,293.4 L184.6,292.9 L184.5,292.3 L184.4,291.8 L184.3,291.2 L184.2,290.7 L184.1,290.1 L184.0,289.6 L183.9,289.0 L183.8,288.5 L183.7,287.9 L183.6,287.4 L183.5,286.8 L183.5,286.3 L183.4,285.7 L183.3,285.2 L183.2,284.6 L183.2,284.1 L183.1,283.5 L183.0,283.0 L183.0,282.4 L182.9,281.9 L182.9,281.3 L182.8,280.7 L182.8,280.2 L182.7,279.6 L182.7,279.1 L182.6,278.5 L182.6,278.0 L182.6,277.4 L182.5,276.9 L182.5,276.3 L182.5,275.7 L182.5,275.2 L182.4,274.6 L182.4,274.1 L182.4,273.5 L182.4,273.0 L182.4,272.4 L182.4,271.8 L182.4,271.3 L182.4,270.7 L182.3,270.2 L182.4,269.6 L182.4,269.1 L182.4,268.5 L182.4,268.0 L182.4,267.4 L182.4,266.8 L182.4,266.3 L182.4,265.7 L182.5,265.2 L182.5,264.6 L182.5,264.1 L182.5,263.5 L182.6,262.9 L182.6,262.4 L182.6,261.8 L182.7,261.3 L182.7,260.7 L182.8,260.2 L182.8,259.6 L182.9,259.1 L182.9,258.5 L183.0,257.9 L183.0,257.4 L183.1,256.8 L183.2,256.3 L183.2,255.7 L183.3,255.2 L183.4,254.6 L183.5,254.1 L183.5,253.5 L183.6,253.0 L183.7,252.4 L183.8,251.9 L183.9,251.3 L184.0,250.8 L184.1,250.2 L184.2,249.7 L184.3,249.1 L184.4,248.6 L184.5,248.0 L184.6,247.5 L184.7,246.9 L184.8,246.4 L184.9,245.8 L185.0,245.3 L185.1,244.7 L185.3,244.2 L185.4,243.6 L185.5,243.1 L185.6,242.6 L185.8,242.0 L185.9,241.5 L186.0,240.9 L186.2,240.4 L186.3,239.8 L186.5,239.3 L186.6,238.8 L186.8,238.2 L186.9,237.7 L187.1,237.1 L187.2,236.6 L187.4,236.1 L187.6,235.5 L187.7,235.0 L187.9,234.5 L188.1,233.9 L188.2,233.4 L188.4,232.9 L188.6,232.3 L188.8,231.8 L188.9,231.3 L189.1,230.7 L189.3,230.2 L189.5,229.7 L189.7,229.2 L189.9,228.6 L190.1,228.1 L190.3,227.6 L190.5,227.1 L190.7,226.5 L190.9,226.0 L191.1,225.5 L191.3,225.0 L191.6,224.4 L191.8,223.9 L192.0,223.4 L192.2,222.9 L192.4,222.4 L192.7,221.9 L192.9,221.3 L193.1,220.8 L193.4,220.3 L193.6,219.8 L193.8,219.3 L194.1,218.8 L194.3,218.3 L194.6,217.8 L194.8,217.3 L195.1,216.7 L195.3,216.2 L195.6,215.7 L195.9,215.2 L196.1,214.7 L196.4,214.2 L196.6,213.7 L196.9,213.2 L197.2,212.7 L197.5,212.2 L197.7,211.7 L198.0,211.2 L198.3,210.8 L198.6,210.3 L198.9,209.8 L199.2,209.3 L199.4,208.8 L199.7,208.3 L200.0,207.8 L200.3,207.3 L200.6,206.8 L200.9,206.4 L201.2,205.9 L201.5,205.4 L201.8,204.9 L202.2,204.4 L202.5,204.0 L202.8,203.5 L203.1,203.0 L203.4,202.5 L203.7,202.1 L204.1,201.6 L204.4,201.1 L204.7,200.7 L205.0,200.2 L205.4,199.7 L205.7,199.3 L206.1,198.8 L206.4,198.3 L206.7,197.9 L207.1,197.4 L207.4,197.0 L207.8,196.5 L208.1,196.1 L208.5,195.6 L208.8,195.2 L209.2,194.7 L209.5,194.3 L209.9,193.8 L210.3,193.4 L210.6,192.9 L211.0,192.5 L211.4,192.0 L211.7,191.6 L212.1,191.2 L212.5,190.7 L212.9,190.3 L213.2,189.9 L213.6,189.4 L214.0,189.0 L214.4,188.6 L214.8,188.1 L215.2,187.7 L215.6,187.3 L216.0,186.9 L216.4,186.4 L216.8,186.0 L217.2,185.6 L217.6,185.2 L218.0,184.8 L218.4,184.4 L218.8,184.0 L219.2,183.5 L219.6,183.1 L220.0,182.7 L220.4,182.3 L220.8,181.9 L221.3,181.5 L221.7,181.1 L222.1,180.7 L222.5,180.3 L223.0,179.9 L223.4,179.5 L223.8,179.1 L224.3,178.8 L224.7,178.4 L225.1,178.0 L225.6,177.6 L226.0,177.2 L226.4,176.8 L226.9,176.5 L227.3,176.1 L227.8,175.7 L228.2,175.3 L228.7,175.0 L229.1,174.6 L229.6,174.2 L230.0,173.9 L230.5,173.5 L231.0,173.1 L231.4,172.8 L231.9,172.4 L232.3,172.1 L232.8,171.7 L233.3,171.3 L233.7,171.0 L234.2,170.6 L234.7,170.3 L235.2,169.9 L235.6,169.6 L236.1,169.3 L236.6,168.9 L237.1,168.6 L237.6,168.2 L238.0,167.9 L238.5,167.6 L239.0,167.3 L239.5,166.9 L240.0,166.6 L240.5,166.3 L241.0,166.0 L241.5,165.6 L242.0,165.3 L242.5,165.0 L243.0,164.7 L243.5,164.4 L244.0,164.1 L244.5,163.8 L245.0,163.4 L245.5,163.1 L246.0,162.8 L246.5,162.5 L247.0,162.2 L247.5,161.9 L248.0,161.6 L248.6,161.4 L249.1,161.1 L249.6,160.8 L250.1,160.5 L250.6,160.2 L251.2,159.9 L251.7,159.6 L252.2,159.4 L252.7,159.1 L253.3,158.8 L253.8,158.6 L254.3,158.3 L254.8,158.0 L255.4,157.8 L255.9,157.5 L256.4,157.2 L257.0,157.0 L257.5,156.7 L258.1,156.5 L258.6,156.2 L259.1,156.0 L259.7,155.7 L260.2,155.5 L260.8,155.2 L261.3,155.0 L261.9,154.7 L262.4,154.5 L263.0,154.3 L263.5,154.0 L264.1,153.8 L264.6,153.6 L265.2,153.4 L265.7,153.1 L266.3,152.9 L266.8,152.7 L267.4,152.5 L267.9,152.3 L268.5,152.1 L269.1,151.8 L269.6,151.6 L270.2,151.4 L270.7,151.2 L271.3,151.0 L271.9,150.8 L272.4,150.6 L273.0,150.4 L273.6,150.2 L274.1,150.1 L274.7,149.9 L275.3,149.7 L275.9,149.5 L276.4,149.3 L277.0,149.1 L277.6,149.0 L278.2,148.8 L278.7,148.6 L279.3,148.5 L279.9,148.3 L280.5,148.1 L281.0,148.0 L281.6,147.8 L282.2,147.6 L282.8,147.5 L283.4,147.3 L283.9,147.2 L284.5,147.0 L285.1,146.9 L285.7,146.8 L286.3,146.6 L286.9,146.5 L287.5,146.3 L288.0,146.2 L288.6,146.1 L289.2,145.9 L289.8,145.8 L290.4,145.7 L291.0,145.6 L291.6,145.5 L292.2,145.3 L292.8,145.2 L293.4,145.1 L294.0,145.0 L294.5,144.9 L295.1,144.8 L295.7,144.7 L296.3,144.6 L296.9,144.5 L297.5,144.4 L298.1,144.3 L298.7,144.2 L299.3,144.1 L299.9,144.0 L300.5,144.0 L301.1,143.9 L301.7,143.8 L302.3,143.7 L302.9,143.6 L303.5,143.6 L304.1,143.5 L304.7,143.4 L305.3,143.4 L305.9,143.3 L306.5,143.2 L307.1,143.2 L307.7,143.1 L308.3,143.1 L308.9,143.0 L309.5,143.0 L310.1,142.9 L310.7,142.9 L311.3,142.9 L311.9,142.8 L312.5,142.8 L313.1,142.8 L313.7,142.7 L314.3,142.7 L315.0,142.7 L315.6,142.6 L316.2,142.6 L316.8,142.6 L317.4,142.6 L318.0,142.6 L318.6,142.6 L319.2,142.6 L319.8,142.6 L320.4,142.6 L321.0,142.5 L321.6,142.6 L322.2,142.6 L322.8,142.6 L323.4,142.6 L324.0,142.6 L324.6,142.6 L325.2,142.6 L325.8,142.6 L326.4,142.6 L327.0,142.7 L327.7,142.7 L328.3,142.7 L328.9,142.8 L329.5,142.8 L330.1,142.8 L330.7,142.9 L331.3,142.9 L331.9,142.9 L332.5,143.0 L333.1,143.0 L333.7,143.1 L334.3,143.1 L334.9,143.2 L335.5,143.2 L336.1,143.3 L336.7,143.4 L337.3,143.4 L337.9,143.5 L338.5,143.6 L339.1,143.6 L339.7,143.7 L340.3,143.8 L340.9,143.9 L341.5,144.0 L342.1,144.0 L342.7,144.1 L343.3,144.2 L343.9,144.3 L344.5,144.4 L345.1,144.5 L345.7,144.6 L346.3,144.7 L346.9,144.8 L347.5,144.9 L348.0,145.0 L348.6,145.1 L349.2,145.2 L349.8,145.3 L350.4,145.5 L351.0,145.6 L351.6,145.7 L352.2,145.8 L352.8,145.9 L353.4,146.1 L354.0,146.2 L354.5,146.3 L355.1,146.5 L355.7,146.6 L356.3,146.8 L356.9,146.9 L357.5,147.0 L358.1,147.2 L358.6,147.3 L359.2,147.5 L359.8,147.6 L360.4,147.8 L361.0,148.0 L361.5,148.1 L362.1,148.3 L362.7,148.5 L363.3,148.6 L363.8,148.8 L364.4,149.0 L365.0,149.1 L365.6,149.3 L366.1,149.5 L366.7,149.7 L367.3,149.9 L367.9,150.1 L368.4,150.2 L369.0,150.4 L369.6,150.6 L370.1,150.8 L370.7,151.0 L371.3,151.2 L371.8,151.4 L372.4,151.6 L372.9,151.8 L373.5,152.1 L374.1,152.3 L374.6,152.5 L375.2,152.7 L375.7,152.9 L376.3,153.1 L376.8,153.4 L377.4,153.6 L377.9,153.8 L378.5,154.0 L379.0,154.3 L379.6,154.5 L380.1,154.7 L380.7,155.0 L381.2,155.2 L381.8,155.5 L382.3,155.7 L382.9,156.0 L383.4,156.2 L383.9,156.5 L384.5,156.7 L385.0,157.0 L385.6,157.2 L386.1,157.5 L386.6,157.8 L387.2,158.0 L387.7,158.3 L388.2,158.6 L388.7,158.8 L389.3,159.1 L389.8,159.4 L390.3,159.6 L390.8,159.9 L391.4,160.2 L391.9,160.5 L392.4,160.8 L392.9,161.1 L393.4,161.4 L394.0,161.6 L394.5,161.9 L395.0,162.2 L395.5,162.5 L396.0,162.8 L396.5,163.1 L397.0,163.4 L397.5,163.8 L398.0,164.1 L398.5,164.4 L399.0,164.7 L399.5,165.0 L400.0,165.3 L400.5,165.6 L401.0,166.0 L401.5,166.3 L402.0,166.6 L402.5,166.9 L403.0,167.3 L403.5,167.6 L404.0,167.9 L404.4,168.2 L404.9,168.6 L405.4,168.9 L405.9,169.3 L406.4,169.6 L406.8,169.9 L407.3,170.3 L407.8,170.6 L408.3,171.0 L408.7,171.3 L409.2,171.7 L409.7,172.1 L410.1,172.4 L410.6,172.8 L411.0,173.1 L411.5,173.5 L412.0,173.9 L412.4,174.2 L412.9,174.6 L413.3,175.0 L413.8,175.3 L414.2,175.7 L414.7,176.1 L415.1,176.5 L415.6,176.8 L416.0,177.2 L416.4,177.6 L416.9,178.0 L417.3,178.4 L417.7,178.8 L418.2,179.1 L418.6,179.5 L419.0,179.9 L419.5,180.3 L419.9,180.7 L420.3,181.1 L420.7,181.5 L421.2,181.9 L421.6,182.3 L422.0,182.7 L422.4,183.1 L422.8,183.5 L423.2,184.0 L423.6,184.4 L424.0,184.8 L424.4,185.2 L424.8,185.6 L425.2,186.0 L425.6,186.4 L426.0,186.9 L426.4,187.3 L426.8,187.7 L427.2,188.1 L427.6,188.6 L428.0,189.0 L428.4,189.4 L428.8,189.9 L429.1,190.3 L429.5,190.7 L429.9,191.2 L430.3,191.6 L430.6,192.0 L431.0,192.5 L431.4,192.9 L431.7,193.4 L432.1,193.8 L432.5,194.3 L432.8,194.7 L433.2,195.2 L433.5,195.6 L433.9,196.1 L434.2,196.5 L434.6,197.0 L434.9,197.4 L435.3,197.9 L435.6,198.3 L435.9,198.8 L436.3,199.3 L436.6,199.7 L437.0,200.2 L437.3,200.7 L437.6,201.1 L437.9,201.6 L438.3,202.1 L438.6,202.5 L438.9,203.0 L439.2,203.5 L439.5,204.0 L439.8,204.4 L440.2,204.9 L440.5,205.4 L440.8,205.9 L441.1,206.4 L441.4,206.8 L441.7,207.3 L442.0,207.8 L442.3,208.3 L442.6,208.8 L442.8,209.3 L443.1,209.8 L443.4,210.3 L443.7,210.8 L444.0,211.2 L444.3,211.7 L444.5,212.2 L444.8,212.7 L445.1,213.2 L445.4,213.7 L445.6,214.2 L445.9,214.7 L446.1,215.2 L446.4,215.7 L446.7,216.2 L446.9,216.7 L447.2,217.3 L447.4,217.8 L447.7,218.3 L447.9,218.8 L448.2,219.3 L448.4,219.8 L448.6,220.3 L448.9,220.8 L449.1,221.3 L449.3,221.9 L449.6,222.4 L449.8,222.9 L450.0,223.4 L450.2,223.9 L450.4,224.4 L450.7,225.0 L450.9,225.5 L451.1,226.0 L451.3,226.5 L451.5,227.1 L451.7,227.6 L451.9,228.1 L452.1,228.6 L452.3,229.2 L452.5,229.7 L452.7,230.2 L452.9,230.7 L453.1,231.3 L453.2,231.8 L453.4,232.3 L453.6,232.9 L453.8,233.4 L453.9,233.9 L454.1,234.5 L454.3,235.0 L454.4,235.5 L454.6,236.1 L454.8,236.6 L454.9,237.1 L455.1,237.7 L455.2,238.2 L455.4,238.8 L455.5,239.3 L455.7,239.8 L455.8,240.4 L456.0,240.9 L456.1,241.5 L456.2,242.0 L456.4,242.6 L456.5,243.1 L456.6,243.6 L456.7,244.2 L456.9,244.7 L457.0,245.3 L457.1,245.8 L457.2,246.4 L457.3,246.9 L457.4,247.5 L457.5,248.0 L457.6,248.6 L457.7,249.1 L457.8,249.7 L457.9,250.2 L458.0,250.8 L458.1,251.3 L458.2,251.9 L458.3,252.4 L458.4,253.0 L458.5,253.5 L458.5,254.1 L458.6,254.6 L458.7,255.2 L458.8,255.7 L458.8,256.3 L458.9,256.8 L459.0,257.4 L459.0,257.9 L459.1,258.5 L459.1,259.1 L459.2,259.6 L459.2,260.2 L459.3,260.7 L459.3,261.3 L459.4,261.8 L459.4,262.4 L459.4,262.9 L459.5,263.5 L459.5,264.1 L459.5,264.6 L459.5,265.2 L459.6,265.7 L459.6,266.3 L459.6,266.8 L459.6,267.4 L459.6,268.0 L459.6,268.5 L459.6,269.1 L459.6,269.6 L459.7,270.2 L459.6,270.7 L459.6,271.3 L459.6,271.8 L459.6,272.4 L459.6,273.0 L459.6,273.5 L459.6,274.1 L459.6,274.6 L459.5,275.2 L459.5,275.7 L459.5,276.3 L459.5,276.9 L459.4,277.4 L459.4,278.0 L459.4,278.5 L459.3,279.1 L459.3,279.6 L459.2,280.2 L459.2,280.7 L459.1,281.3 L459.1,281.9 L459.0,282.4 L459.0,283.0 L458.9,283.5 L458.8,284.1 L458.8,284.6 L458.7,285.2 L458.6,285.7 L458.5,286.3 L458.5,286.8 L458.4,287.4 L458.3,287.9 L458.2,288.5 L458.1,289.0 L458.0,289.6 L457.9,290.1 L457.8,290.7 L457.7,291.2 L457.6,291.8 L457.5,292.3 L457.4,292.9 L457.3,293.4 L457.2,294.0 L457.1,294.5 L457.0,295.1 L456.9,295.6 L456.7,296.2 L456.6,296.7 L456.5,297.3 L456.4,297.8 L456.2,298.3 L456.1,298.9 L456.0,299.4 L455.8,300.0 L455.7,300.5 L455.5,301.1 L455.4,301.6 L455.2,302.1 L455.1,302.7 L454.9,303.2 L454.8,303.7 L454.6,304.3 L454.4,304.8 L454.3,305.4 L454.1,305.9 L453.9,306.4 L453.8,307.0 L453.6,307.5 L453.4,308.0 L453.2,308.6 L453.1,309.1 L452.9,309.6 L452.7,310.1 L452.5,310.7 L452.3,311.2 L452.1,311.7 L451.9,312.3 L451.7,312.8 L451.5,313.3 L451.3,313.8 L451.1,314.4 L450.9,314.9 L450.7,315.4 L450.4,315.9 L450.2,316.4 L450.0,317.0 L449.8,317.5 L449.6,318.0 L449.3,318.5 L449.1,319.0 L448.9,319.5 L448.6,320.0 L448.4,320.6 L448.2,321.1 L447.9,321.6 L447.7,322.1 L447.4,322.6 L447.2,323.1 L446.9,323.6 L446.7,324.1 L446.4,324.6 L446.1,325.1 L445.9,325.6 L445.6,326.1 L445.4,326.6 L445.1,327.1 L444.8,327.6 L444.5,328.1 L444.3,328.6 L444.0,329.1 L443.7,329.6 L443.4,330.1 L443.1,330.6 L442.8,331.1 L442.6,331.6 L442.3,332.1 L442.0,332.5 L441.7,333.0 L441.4,333.5 L441.1,334.0 L440.8,334.5 L440.5,335.0 L440.2,335.4 L439.8,335.9 L439.5,336.4 L439.2,336.9 L438.9,337.3 L438.6,337.8 L438.3,338.3 L437.9,338.8 L437.6,339.2 L437.3,339.7 L437.0,340.2 L436.6,340.6 L436.3,341.1 L435.9,341.5 L435.6,342.0 L435.3,342.5 L434.9,342.9 L434.6,343.4 L434.2,343.8 L433.9,344.3 L433.5,344.7 L433.2,345.2 L432.8,345.6 L432.5,346.1 L432.1,346.5 L431.7,347.0 L431.4,347.4 L431.0,347.9 L430.6,348.3 L430.3,348.8 L429.9,349.2 L429.5,349.6 L429.1,350.1 L428.8,350.5 L428.4,350.9 L428.0,351.4 L427.6,351.8 L427.2,352.2 L426.8,352.6 L426.4,353.1 L426.0,353.5 L425.6,353.9 L425.2,354.3 L424.8,354.7 L424.4,355.2 L424.0,355.6 L423.6,356.0 L423.2,356.4 L422.8,356.8 L422.4,357.2 L422.0,357.6 L421.6,358.0 L421.2,358.4 L420.7,358.8 L420.3,359.2 L419.9,359.6 L419.5,360.0 L419.0,360.4 L418.6,360.8 L418.2,361.2 L417.7,361.6 L417.3,362.0 L416.9,362.4 L416.4,362.8 L416.0,363.1 L415.6,363.5 L415.1,363.9 L414.7,364.3 L414.2,364.7 L413.8,365.0 L413.3,365.4 L412.9,365.8 L412.4,366.1 L412.0,366.5 L411.5,366.9 L411.0,367.2 L410.6,367.6 L410.1,367.9 L409.7,368.3 L409.2,368.7 L408.7,369.0 L408.3,369.4 L407.8,369.7 L407.3,370.1 L406.8,370.4 L406.4,370.8 L405.9,371.1 L405.4,371.4 L404.9,371.8 L404.4,372.1 L404.0,372.4 L403.5,372.8 L403.0,373.1 L402.5,373.4 L402.0,373.8 L401.5,374.1 L401.0,374.4 L400.5,374.7 L400.0,375.0 L399.5,375.4 L399.0,375.7 L398.5,376.0 L398.0,376.3 L397.5,376.6 L397.0,376.9 L396.5,377.2 L396.0,377.5 L395.5,377.8 L395.0,378.1 L394.5,378.4 L394.0,378.7 L393.4,379.0 L392.9,379.3 L392.4,379.6 L391.9,379.9 L391.4,380.1 L390.8,380.4 L390.3,380.7 L389.8,381.0 L389.3,381.3 L388.7,381.5 L388.2,381.8 L387.7,382.1 L387.2,382.3 L386.6,382.6 L386.1,382.9 L385.6,383.1 L385.0,383.4 L384.5,383.6 L383.9,383.9 L383.4,384.1 L382.9,384.4 L382.3,384.6 L381.8,384.9 L381.2,385.1 L380.7,385.4 L380.1,385.6 L379.6,385.8 L379.0,386.1 L378.5,386.3 L377.9,386.5 L377.4,386.8 L376.8,387.0 L376.3,387.2 L375.7,387.4 L375.2,387.7 L374.6,387.9 L374.1,388.1 L373.5,388.3 L372.9,388.5 L372.4,388.7 L371.8,388.9 L371.3,389.1 L370.7,389.3 L370.1,389.5 L369.6,389.7 L369.0,389.9 L368.4,390.1 L367.9,390.3 L367.3,390.5 L366.7,390.7 L366.1,390.9 L365.6,391.0 L365.0,391.2 L364.4,391.4 L363.8,391.6 L363.3,391.7 L362.7,391.9 L362.1,392.1 L361.5,392.2 L361.0,392.4 L360.4,392.6 L359.8,392.7 L359.2,392.9 L358.6,393.0 L358.1,393.2 L357.5,393.3 L356.9,393.5 L356.3,393.6 L355.7,393.7 L355.1,393.9 L354.5,394.0 L354.0,394.1 L353.4,394.3 L352.8,394.4 L352.2,394.5 L351.6,394.7 L351.0,394.8 L350.4,394.9 L349.8,395.0 L349.2,395.1 L348.6,395.2 L348.0,395.4 L347.5,395.5 L346.9,395.6 L346.3,395.7 L345.7,395.8 L345.1,395.9 L344.5,396.0 L343.9,396.1 L343.3,396.1 L342.7,396.2 L342.1,396.3 L341.5,396.4 L340.9,396.5 L340.3,396.6 L339.7,396.6 L339.1,396.7 L338.5,396.8 L337.9,396.9 L337.3,396.9 L336.7,397.0 L336.1,397.0 L335.5,397.1 L334.9,397.2 L334.3,397.2 L333.7,397.3 L333.1,397.3 L332.5,397.4 L331.9,397.4 L331.3,397.5 L330.7,397.5 L330.1,397.5 L329.5,397.6 L328.9,397.6 L328.3,397.6 L327.7,397.7 L327.0,397.7 L326.4,397.7 L325.8,397.7 L325.2,397.7 L324.6,397.8 L324.0,397.8 L323.4,397.8 L322.8,397.8 L322.2,397.8 L321.6,397.8 L321.0,397.8 L320.4,397.8 L319.8,397.8 L319.2,397.8 L318.6,397.8 L318.0,397.8 L317.4,397.8 L316.8,397.7 L316.2,397.7 L315.6,397.7 L315.0,397.7 L314.3,397.7 L313.7,397.6 L313.1,397.6 L312.5,397.6 L311.9,397.5 L311.3,397.5 L310.7,397.5 L310.1,397.4 L309.5,397.4 L308.9,397.3 L308.3,397.3 L307.7,397.2 L307.1,397.2 L306.5,397.1 L305.9,397.0 L305.3,397.0 L304.7,396.9 L304.1,396.9 L303.5,396.8 L302.9,396.7 L302.3,396.6 L301.7,396.6 L301.1,396.5 L300.5,396.4 L299.9,396.3 L299.3,396.2 L298.7,396.1 L298.1,396.1 L297.5,396.0 L296.9,395.9 L296.3,395.8 L295.7,395.7 L295.1,395.6 L294.5,395.5 L294.0,395.4 L293.4,395.2 L292.8,395.1 L292.2,395.0 L291.6,394.9 L291.0,394.8 L290.4,394.7 L289.8,394.5 L289.2,394.4 L288.6,394.3 L288.0,394.1 L287.5,394.0 L286.9,393.9 L286.3,393.7 L285.7,393.6 L285.1,393.5 L284.5,393.3 L283.9,393.2 L283.4,393.0 L282.8,392.9 L282.2,392.7 L281.6,392.6 L281.0,392.4 L280.5,392.2 L279.9,392.1 L279.3,391.9 L278.7,391.7 L278.2,391.6 L277.6,391.4 L277.0,391.2 L276.4,391.0 L275.9,390.9 L275.3,390.7 L274.7,390.5 L274.1,390.3 L273.6,390.1 L273.0,389.9 L272.4,389.7 L271.9,389.5 L271.3,389.3 L270.7,389.1 L270.2,388.9 L269.6,388.7 L269.1,388.5 L268.5,388.3 L267.9,388.1 L267.4,387.9 L266.8,387.7 L266.3,387.4 L265.7,387.2 L265.2,387.0 L264.6,386.8 L264.1,386.5 L263.5,386.3 L263.0,386.1 L262.4,385.8 L261.9,385.6 L261.3,385.4 L260.8,385.1 L260.2,384.9 L259.7,384.6 L259.1,384.4 L258.6,384.1 L258.1,383.9 L257.5,383.6 L257.0,383.4 L256.4,383.1 L255.9,382.9 L255.4,382.6 L254.8,382.3 L254.3,382.1 L253.8,381.8 L253.3,381.5 L252.7,381.3 L252.2,381.0 L251.7,380.7 L251.2,380.4 L250.6,380.1 L250.1,379.9 L249.6,379.6 L249.1,379.3 L248.6,379.0 L248.0,378.7 L247.5,378.4 L247.0,378.1 L246.5,377.8 L246.0,377.5 L245.5,377.2 L245.0,376.9 L244.5,376.6 L244.0,376.3 L243.5,376.0 L243.0,375.7 L242.5,375.4 L242.0,375.0 L241.5,374.7 L241.0,374.4 L240.5,374.1 L240.0,373.8 L239.5,373.4 L239.0,373.1 L238.5,372.8 L238.0,372.4 L237.6,372.1 L237.1,371.8 L236.6,371.4 L236.1,371.1 L235.6,370.8 L235.2,370.4 L234.7,370.1 L234.2,369.7 L233.7,369.4 L233.3,369.0 L232.8,368.7 L232.3,368.3 L231.9,367.9M160.9,238.9 L160.9,238.3 L160.9,237.6 L160.9,237.0 L160.9,236.3 L160.9,235.7 L161.0,235.0 L161.0,234.4 L161.0,233.8 L161.0,233.1 L161.1,232.5 L161.1,231.8 L161.1,231.2 L161.2,230.5 L161.2,229.9 L161.2,229.3 L161.3,228.6 L161.3,228.0 L161.4,227.3 L161.4,226.7 L161.5,226.1 L161.6,225.4 L161.6,224.8 L161.7,224.1 L161.8,223.5 L161.9,222.9 L161.9,222.2 L162.0,221.6 L162.1,220.9 L162.2,220.3 L162.3,219.7 L162.4,219.0 L162.5,218.4 L162.6,217.8 L162.7,217.1 L162.8,216.5 L162.9,215.8 L163.0,215.2 L163.1,214.6 L163.2,213.9 L163.3,213.3 L163.5,212.7 L163.6,212.0 L163.7,211.4 L163.8,210.8 L164.0,210.1 L164.1,209.5 L164.3,208.9 L164.4,208.3 L164.5,207.6 L164.7,207.0 L164.8,206.4 L165.0,205.7 L165.2,205.1 L165.3,204.5 L165.5,203.9 L165.7,203.2 L165.8,202.6 L166.0,202.0 L166.2,201.4 L166.4,200.8 L166.5,200.1 L166.7,199.5 L166.9,198.9 L167.1,198.3 L167.3,197.7 L167.5,197.0 L167.7,196.4 L167.9,195.8 L168.1,195.2 L168.3,194.6 L168.5,194.0 L168.7,193.4 L169.0,192.7 L169.2,192.1 L169.4,191.5 L169.6,190.9 L169.9,190.3 L170.1,189.7 L170.3,189.1 L170.6,188.5 L170.8,187.9 L171.0,187.3 L171.3,186.7 L171.5,186.1 L171.8,185.5 L172.0,184.9 L172.3,184.3 L172.6,183.7 L172.8,183.1 L173.1,182.5 L173.4,181.9 L173.6,181.3 L173.9,180.7 L174.2,180.1 L174.5,179.5 L174.7,179.0 L175.0,178.4 L175.3,177.8 L175.6,177.2 L175.9,176.6 L176.2,176.0 L176.5,175.5 L176.8,174.9 L177.1,174.3 L177.4,173.7 L177.7,173.1 L178.0,172.6 L178.3,172.0 L178.7,171.4 L179.0,170.9 L179.3,170.3 L179.6,169.7 L180.0,169.1 L180.3,168.6 L180.6,168.0 L181.0,167.5 L181.3,166.9 L181.7,166.3 L182.0,165.8 L182.3,165.2 L182.7,164.7 L183.1,164.1 L183.4,163.5 L183.8,163.0 L184.1,162.4 L184.5,161.9 L184.9,161.4 L185.2,160.8 L185.6,160.3 L186.0,159.7 L186.3,159.2 L186.7,158.6 L187.1,158.1 L187.5,157.6 L187.9,157.0 L188.3,156.5 L188.7,156.0 L189.1,155.4 L189.5,154.9 L189.9,154.4 L190.3,153.8 L190.7,153.3 L191.1,152.8 L191.5,152.3 L191.9,151.8 L192.3,151.2 L192.7,150.7 L193.1,150.2 L193.6,149.7 L194.0,149.2 L194.4,148.7 L194.8,148.2 L195.3,147.7 L195.7,147.2 L196.1,146.7 L196.6,146.2 L197.0,145.7 L197.5,145.2 L197.9,144.7 L198.4,144.2 L198.8,143.7 L199.3,143.2 L199.7,142.7 L200.2,142.2 L200.6,141.7 L201.1,141.2 L201.6,140.8 L202.0,140.3 L202.5,139.8 L203.0,139.3 L203.4,138.9 L203.9,138.4 L204.4,137.9 L204.9,137.5 L205.3,137.0 L205.8,136.5 L206.3,136.1 L206.8,135.6 L207.3,135.1 L207.8,134.7 L208.3,134.2 L208.8,133.8 L209.3,133.3 L209.8,132.9 L210.3,132.4 L210.8,132.0 L211.3,131.6 L211.8,131.1 L212.3,130.7 L212.8,130.2 L213.4,129.8 L213.9,129.4 L214.4,129.0 L214.9,128.5 L215.4,128.1 L216.0,127.7 L216.5,127.3 L217.0,126.8 L217.6,126.4 L218.1,126.0 L218.6,125.6 L219.2,125.2 L219.7,124.8 L220.2,124.4 L220.8,124.0 L221.3,123.6 L221.9,123.2 L222.4,122.8 L223.0,122.4 L223.5,122.0 L224.1,121.6 L224.6,121.2 L225.2,120.8 L225.8,120.4 L226.3,120.1 L226.9,119.7 L227.5,119.3 L228.0,118.9 L228.6,118.5 L229.2,118.2 L229.7,117.8 L230.3,117.4 L230.9,117.1 L231.5,116.7 L232.1,116.4 L232.6,116.0 L233.2,115.7 L233.8,115.3 L234.4,115.0 L235.0,114.6 L235.6,114.3 L236.2,113.9 L236.8,113.6 L237.3,113.2 L237.9,112.9 L238.5,112.6 L239.1,112.2 L239.7,111.9 L240.3,111.6 L241.0,111.3 L241.6,111.0 L242.2,110.6 L242.8,110.3 L243.4,110.0 L244.0,109.7 L244.6,109.4 L245.2,109.1 L245.8,108.8 L246.5,108.5 L247.1,108.2 L247.7,107.9 L248.3,107.6 L248.9,107.3 L249.6,107.0 L250.2,106.7 L250.8,106.4 L251.4,106.2 L252.1,105.9 L252.7,105.6 L253.3,105.3 L254.0,105.1 L254.6,104.8 L255.2,104.5 L255.9,104.3 L256.5,104.0 L257.2,103.8 L257.8,103.5 L258.4,103.2 L259.1,103.0 L259.7,102.7 L260.4,102.5 L261.0,102.3 L261.7,102.0 L262.3,101.8 L263.0,101.5 L263.6,101.3 L264.3,101.1 L264.9,100.9 L265.6,100.6 L266.2,100.4 L266.9,100.2 L267.6,100.0 L268.2,99.8 L268.9,99.6 L269.5,99.3 L270.2,99.1 L270.9,98.9 L271.5,98.7 L272.2,98.5 L272.9,98.3 L273.5,98.2 L274.2,98.0 L274.9,97.8 L275.5,97.6 L276.2,97.4 L276.9,97.2 L277.5,97.1 L278.2,96.9 L278.9,96.7 L279.6,96.5 L280.2,96.4 L280.9,96.2 L281.6,96.1 L282.3,95.9 L282.9,95.8 L283.6,95.6 L284.3,95.5 L285.0,95.3 L285.7,95.2 L286.3,95.0 L287.0,94.9 L287.7,94.7 L288.4,94.6 L289.1,94.5 L289.8,94.4 L290.5,94.2 L291.1,94.1 L291.8,94.0 L292.5,93.9 L293.2,93.8 L293.9,93.7 L294.6,93.5 L295.3,93.4 L296.0,93.3 L296.6,93.2 L297.3,93.1 L298.0,93.1 L298.7,93.0 L299.4,92.9 L300.1,92.8 L300.8,92.7 L301.5,92.6 L302.2,92.5 L302.9,92.5 L303.6,92.4 L304.3,92.3 L305.0,92.3 L305.7,92.2 L306.4,92.1 L307.0,92.1 L307.7,92.0 L308.4,92.0 L309.1,91.9 L309.8,91.9 L310.5,91.8 L311.2,91.8 L311.9,91.8 L312.6,91.7 L313.3,91.7 L314.0,91.7 L314.7,91.6 L315.4,91.6 L316.1,91.6 L316.8,91.6 L317.5,91.6 L318.2,91.5 L318.9,91.5 L319.6,91.5 L320.3,91.5 L321.0,91.5 L321.7,91.5 L322.4,91.5 L323.1,91.5 L323.8,91.5 L324.5,91.6 L325.2,91.6 L325.9,91.6 L326.6,91.6 L327.3,91.6 L328.0,91.7 L328.7,91.7 L329.4,91.7 L330.1,91.8 L330.8,91.8 L331.5,91.8 L332.2,91.9 L332.9,91.9 L333.6,92.0 L334.3,92.0 L335.0,92.1 L335.6,92.1 L336.3,92.2 L337.0,92.3 L337.7,92.3 L338.4,92.4 L339.1,92.5 L339.8,92.5 L340.5,92.6 L341.2,92.7 L341.9,92.8 L342.6,92.9 L343.3,93.0 L344.0,93.1 L344.7,93.1 L345.4,93.2 L346.0,93.3 L346.7,93.4 L347.4,93.5 L348.1,93.7 L348.8,93.8 L349.5,93.9 L350.2,94.0 L350.9,94.1 L351.5,94.2 L352.2,94.4 L352.9,94.5 L353.6,94.6 L354.3,94.7 L355.0,94.9 L355.7,95.0 L356.3,95.2 L357.0,95.3 L357.7,95.5 L358.4,95.6 L359.1,95.8 L359.7,95.9 L360.4,96.1 L361.1,96.2 L361.8,96.4 L362.4,96.5 L363.1,96.7 L363.8,96.9 L364.5,97.1 L365.1,97.2 L365.8,97.4 L366.5,97.6 L367.1,97.8 L367.8,98.0 L368.5,98.2 L369.1,98.3 L369.8,98.5 L370.5,98.7 L371.1,98.9 L371.8,99.1 L372.5,99.3 L373.1,99.6 L373.8,99.8 L374.4,100.0 L375.1,100.2 L375.8,100.4 L376.4,100.6 L377.1,100.9 L377.7,101.1 L378.4,101.3 L379.0,101.5 L379.7,101.8 L380.3,102.0 L381.0,102.3 L381.6,102.5 L382.3,102.7 L382.9,103.0 L383.6,103.2 L384.2,103.5 L384.8,103.8 L385.5,104.0 L386.1,104.3 L386.8,104.5 L387.4,104.8 L388.0,105.1 L388.7,105.3 L389.3,105.6 L389.9,105.9 L390.6,106.2 L391.2,106.4 L391.8,106.7 L392.4,107.0 L393.1,107.3 L393.7,107.6 L394.3,107.9 L394.9,108.2 L395.5,108.5 L396.2,108.8 L396.8,109.1 L397.4,109.4 L398.0,109.7 L398.6,110.0 L399.2,110.3 L399.8,110.6 L400.4,111.0 L401.0,111.3 L401.7,111.6 L402.3,111.9 L402.9,112.2 L403.5,112.6 L404.1,112.9 L404.7,113.2 L405.2,113.6 L405.8,113.9 L406.4,114.3 L407.0,114.6 L407.6,115.0 L408.2,115.3 L408.8,115.7 L409.4,116.0 L409.9,116.4 L410.5,116.7 L411.1,117.1 L411.7,117.4 L412.3,117.8 L412.8,118.2 L413.4,118.5 L414.0,118.9 L414.5,119.3 L415.1,119.7 L415.7,120.1 L416.2,120.4 L416.8,120.8 L417.4,121.2 L417.9,121.6 L418.5,122.0 L419.0,122.4 L419.6,122.8 L420.1,123.2 L420.7,123.6 L421.2,124.0 L421.8,124.4 L422.3,124.8 L422.8,125.2 L423.4,125.6 L423.9,126.0 L424.4,126.4 L425.0,126.8 L425.5,127.3 L426.0,127.7 L426.6,128.1 L427.1,128.5 L427.6,129.0 L428.1,129.4 L428.6,129.8 L429.2,130.2 L429.7,130.7 L430.2,131.1 L430.7,131.6 L431.2,132.0 L431.7,132.4 L432.2,132.9 L432.7,133.3 L433.2,133.8 L433.7,134.2 L434.2,134.7 L434.7,135.1 L435.2,135.6 L435.7,136.1 L436.2,136.5 L436.7,137.0 L437.1,137.5 L437.6,137.9 L438.1,138.4 L438.6,138.9 L439.0,139.3 L439.5,139.8 L440.0,140.3 L440.4,140.8 L440.9,141.2 L441.4,141.7 L441.8,142.2 L442.3,142.7 L442.7,143.2 L443.2,143.7 L443.6,144.2 L444.1,144.7 L444.5,145.2 L445.0,145.7 L445.4,146.2 L445.9,146.7 L446.3,147.2 L446.7,147.7 L447.2,148.2 L447.6,148.7 L448.0,149.2 L448.4,149.7 L448.9,150.2 L449.3,150.7 L449.7,151.2 L450.1,151.8 L450.5,152.3 L450.9,152.8 L451.3,153.3 L451.7,153.8 L452.1,154.4 L452.5,154.9 L452.9,155.4 L453.3,156.0 L453.7,156.5 L454.1,157.0 L454.5,157.6 L454.9,158.1 L455.3,158.6 L455.7,159.2 L456.0,159.7 L456.4,160.3 L456.8,160.8 L457.1,161.4 L457.5,161.9 L457.9,162.4 L458.2,163.0 L458.6,163.5 L458.9,164.1 L459.3,164.7 L459.7,165.2 L460.0,165.8 L460.3,166.3 L460.7,166.9 L461.0,167.5 L461.4,168.0 L461.7,168.6 L462.0,169.1 L462.4,169.7 L462.7,170.3 L463.0,170.9 L463.3,171.4 L463.7,172.0 L464.0,172.6 L464.3,173.1 L464.6,173.7 L464.9,174.3 L465.2,174.9 L465.5,175.5 L465.8,176.0 L466.1,176.6 L466.4,177.2 L466.7,177.8 L467.0,178.4 L467.3,179.0 L467.5,179.5 L467.8,180.1 L468.1,180.7 L468.4,181.3 L468.6,181.9 L468.9,182.5 L469.2,183.1 L469.4,183.7 L469.7,184.3 L470.0,184.9 L470.2,185.5 L470.5,186.1 L470.7,186.7 L471.0,187.3 L471.2,187.9 L471.4,188.5 L471.7,189.1 L471.9,189.7 L472.1,190.3 L472.4,190.9 L472.6,191.5 L472.8,192.1 L473.0,192.7 L473.3,193.4 L473.5,194.0 L473.7,194.6 L473.9,195.2 L474.1,195.8 L474.3,196.4 L474.5,197.0 L474.7,197.7 L474.9,198.3 L475.1,198.9 L475.3,199.5 L475.5,200.1 L475.6,200.8 L475.8,201.4 L476.0,202.0 L476.2,202.6 L476.3,203.2 L476.5,203.9 L476.7,204.5 L476.8,205.1 L477.0,205.7 L477.2,206.4 L477.3,207.0 L477.5,207.6 L477.6,208.3 L477.7,208.9 L477.9,209.5 L478.0,210.1 L478.2,210.8 L478.3,211.4 L478.4,212.0 L478.5,212.7 L478.7,213.3 L478.8,213.9 L478.9,214.6 L479.0,215.2 L479.1,215.8 L479.2,216.5 L479.3,217.1 L479.4,217.8 L479.5,218.4 L479.6,219.0 L479.7,219.7 L479.8,220.3 L479.9,220.9 L480.0,221.6 L480.1,222.2 L480.1,222.9 L480.2,223.5 L480.3,224.1 L480.4,224.8 L480.4,225.4 L480.5,226.1 L480.6,226.7 L480.6,227.3 L480.7,228.0 L480.7,228.6 L480.8,229.3 L480.8,229.9 L480.8,230.5 L480.9,231.2 L480.9,231.8 L480.9,232.5 L481.0,233.1 L481.0,233.8 L481.0,234.4 L481.0,235.0 L481.1,235.7 L481.1,236.3 L481.1,237.0 L481.1,237.6 L481.1,238.3 L481.1,238.9" fill="none" stroke="#909090" stroke-opacity="0.6" stroke-width="0.8"/></g>
<circle cx="321.0" cy="238.9" r="160.1" fill="none" stroke="#858585" stroke-width="1.6"/>
<path d="M197.0,136.0 200.0,132.8 206.0,126.5 212.5,121.5 217.0,118.5 222.5,115.2 230.0,109.5 237.5,104.0 244.0,100.5 250.0,97.8 257.0,95.2 265.0,93.4 270.0,92.4 277.5,91.1 286.2,90.2 290.6,91.1 293.1,93.6M222.5,115.2 223.8,115.9 222.5,119.0 218.8,124.0 216.2,127.8 215.5,131.5 216.2,134.0 220.0,136.0 225.0,136.5 232.5,139.0 235.0,138.8 243.8,137.7 245.9,141.6 246.5,148.1 247.6,156.9 248.7,162.4 250.3,167.8 251.4,173.3 250.9,178.8 252.0,182.0 254.0,184.7 255.0,189.4 256.9,187.5 257.8,192.2 258.8,196.9 257.8,200.6 259.7,202.5 261.6,205.3 264.4,209.0 267.2,212.8 268.1,214.7 270.9,215.1 273.8,216.1 277.5,215.1 281.2,213.3 277.5,212.3 274.7,210.9 273.8,210.0 272.8,208.1 271.9,204.4 272.8,200.6 273.8,196.9 271.9,195.0 270.0,191.2 271.9,187.5 272.8,182.8 270.5,180.5 271.1,178.8 273.3,175.5 274.4,172.2 278.8,170.0 283.1,166.7 284.2,163.4 282.0,160.2 279.5,157.6 278.8,156.3 279.9,158.0 283.1,158.5 288.6,155.8 291.9,151.4 294.1,147.0 296.3,143.8 299.6,139.4 300.0,134.2 302.5,131.8 307.5,129.2 313.8,128.0 318.8,125.5 322.5,120.5 323.8,115.5 325.0,109.2 330.0,106.1 335.6,102.4 335.0,100.5 328.8,97.4 320.0,95.5 307.5,94.2 295.0,94.2 293.1,93.6 291.3,95.3 288.0,95.8 282.5,98.0 276.0,100.2 268.3,102.4 266.1,104.6 262.8,106.8 257.4,109.0 249.7,111.2 240.9,115.5 234.4,118.8M268.3,102.4 263.9,104.0 257.4,103.5 250.8,106.8M299.3,232.3 297.7,235.4 298.2,240.6 300.8,245.8 302.2,252.3 304.4,257.4 305.5,263.2 308.8,265.4 313.1,267.3 317.5,269.8 320.4,268.7 323.4,269.5 327.7,266.9 330.7,263.2 335.0,260.3 338.7,257.4 340.8,258.5 343.5,257.1 346.3,257.8 350.3,256.4 354.4,257.8 357.1,257.1 357.8,259.1 361.2,262.5 365.2,266.6 367.9,270.6 370.7,276.1 373.4,280.1 375.4,281.5 374.7,286.9 378.8,289.6 381.5,292.3 382.8,295.0 386.2,300.0 383.8,303.8 381.2,306.2 378.8,311.2 376.2,315.0 372.5,318.8 372.5,322.5 373.8,326.2 376.2,327.5 375.0,328.8 372.5,331.2 370.0,333.8 367.5,337.5 366.2,340.0 361.2,343.8 355.6,345.6 351.3,348.9 346.9,350.6 342.5,351.1 338.1,353.3 333.8,352.7 331.6,354.4 326.1,356.0 319.5,354.4 315.2,353.3 311.9,352.2 306.4,348.9 300.9,345.6 296.6,341.3 295.5,338.0 300.9,335.8 306.4,332.5 307.5,330.3 306.4,329.2 303.1,328.1 300.2,325.4 297.3,321.0 292.9,316.6 290.0,313.7 287.1,312.3 284.2,309.4 279.8,303.5 276.9,299.2 275.4,296.2 276.9,291.9 278.3,286.0 281.2,283.1 282.7,280.2 278.3,278.7 277.6,275.8 279.8,272.9 282.7,271.5 286.2,268.8 290.4,266.7 293.5,264.0 296.7,262.5 294.6,260.4 292.5,258.3 290.4,257.3 289.4,255.2 291.5,253.1 294.0,252.0 293.5,245.8 294.6,239.6 296.7,234.4 299.3,232.3M380.0,90.5 387.3,96.6 394.6,102.4 402.0,107.0 409.2,111.2 420.8,118.4 428.1,124.3 435.4,131.6 441.2,140.3 442.7,143.2 444.1,147.6 445.0,149.5M442.5,145.0 445.0,148.8 446.9,152.5 447.5,157.5 446.9,163.8 445.0,166.2 442.5,167.5 440.6,170.0 440.0,176.2 440.0,182.5 438.8,187.5 437.5,192.5 436.9,197.5 436.9,201.0 436.6,203.9 434.0,207.7 433.4,210.3 435.3,214.2 437.9,216.8 440.5,219.4 444.4,225.8 448.2,227.7 452.1,228.4 456.0,229.0 458.5,227.1 461.1,229.0 463.7,230.3 466.3,224.5 467.6,223.9 469.5,227.7 472.7,231.0 475.3,229.0 476.6,224.5 476.3,220.0 477.9,216.8M453.3,159.7 456.0,160.6 458.6,164.2 461.3,169.5 463.9,176.6 467.5,183.6M470.1,191.6 470.1,199.6 471.0,201.4M472.8,194.3 474.6,199.6 475.4,201.4M471.9,210.2 471.0,217.3M474.6,217.3 476.3,224.4 474.6,229.7M465.0,250.3 467.6,246.5 472.7,243.9 474.0,242.6 474.7,247.7 476.6,249.7 475.3,254.2 472.7,256.8 466.3,258.1 465.0,254.2 465.0,250.3M286.0,395.5 287.5,395.0 292.5,393.8 298.8,392.5 305.0,392.2 310.0,393.1 315.0,392.9 320.0,393.1 322.5,394.4 326.2,396.2 330.0,395.6 335.0,396.2 340.0,395.6 345.0,395.0 350.0,394.4 355.0,392.5 362.0,389.2 369.0,387.1 376.1,385.0 380.3,385.3 385.2,385.3M303.1,388.8 305.0,388.1 310.0,388.8 310.6,390.0 307.5,390.6 303.8,390.0 303.1,388.8M242.0,368.2 246.0,369.4 250.6,370.2 254.5,371.3 258.4,371.7 262.3,372.5 266.2,373.3 270.2,374.8 267.8,376.0 262.3,375.2 258.4,374.5 255.3,373.7 252.2,372.9 249.0,373.3 248.3,374.0 249.0,376.4" fill="none" stroke="#333" stroke-opacity="0.85" stroke-width="0.9" stroke-linejoin="round"/>
<defs><linearGradient id="cb" x1="331" x2="530.5" y1="0" y2="0" gradientUnits="userSpaceOnUse"><stop offset="0.0000" stop-color="#eeeaea"/><stop offset="0.0100" stop-color="#eedcd8"/><stop offset="0.0200" stop-color="#f0d4dc"/><stop offset="0.0400" stop-color="#e8b4e4"/><stop offset="0.0550" stop-color="#d8a0ec"/><stop offset="0.0700" stop-color="#a888f4"/><stop offset="0.0850" stop-color="#8070ff"/><stop offset="0.1000" stop-color="#5060ff"/><stop offset="0.1200" stop-color="#0840ff"/><stop offset="0.1400" stop-color="#0858ff"/><stop offset="0.1650" stop-color="#1080ff"/><stop offset="0.2000" stop-color="#10a0ff"/><stop offset="0.2500" stop-color="#20b8ff"/><stop offset="0.3000" stop-color="#30d0ff"/><stop offset="0.3300" stop-color="#38e8ff"/><stop offset="0.3500" stop-color="#38f0ff"/><stop offset="0.3700" stop-color="#30f8e8"/><stop offset="0.4000" stop-color="#40f8c0"/><stop offset="0.4200" stop-color="#50f870"/><stop offset="0.4400" stop-color="#50f850"/><stop offset="0.4800" stop-color="#70f840"/><stop offset="0.5200" stop-color="#a8f040"/><stop offset="0.5600" stop-color="#e8f040"/><stop offset="0.5900" stop-color="#f8f040"/><stop offset="0.6300" stop-color="#f8e040"/><stop offset="0.6700" stop-color="#f8b040"/><stop offset="0.7200" stop-color="#f88040"/><stop offset="0.7600" stop-color="#f85040"/><stop offset="0.8100" stop-color="#f82838"/><stop offset="0.8700" stop-color="#f01020"/><stop offset="0.9100" stop-color="#b82028"/><stop offset="0.9600" stop-color="#782020"/><stop offset="1.0000" stop-color="#582020"/></linearGradient></defs>
<rect x="331" y="423.6" width="199.5" height="17.4" fill="url(#cb)"/>
<path d="M331,423.6 L322.4,432.3 L331,441 Z" fill="#e6dcda"/>
<path d="M530.5,423.6 L539.8,432.3 L530.5,441 Z" fill="#3e3636"/>
<path d="M331,423.6 L322.4,432.3 L331,441 L530.5,441 L539.8,432.3 L530.5,423.6 Z M331,423.6 V441 M530.5,423.6 V441" fill="none" stroke="#000" stroke-width="1.5" stroke-linejoin="miter"/>
<path d="M330.9,441.8 V446.6M340.9,441.8 V443.9M350.9,441.8 V443.9M360.9,441.8 V443.9M370.9,441.8 V446.6M380.9,441.8 V443.9M390.9,441.8 V443.9M400.9,441.8 V443.9M410.9,441.8 V446.6M420.9,441.8 V443.9M430.9,441.8 V443.9M440.9,441.8 V443.9M450.9,441.8 V446.6M460.9,441.8 V443.9M470.9,441.8 V443.9M480.9,441.8 V443.9M490.9,441.8 V446.6M500.9,441.8 V443.9M510.9,441.8 V443.9M520.9,441.8 V443.9M530.9,441.8 V446.6" stroke="#808080" stroke-width="1" fill="none"/>
<path d="M568.1,400.7 L568.1,392 L568.6,386 L569.5,381 L570.3,376.5 L571.2,381 L572,386 L572.5,390.7 L573.2,390.7 L574,386 L574.6,381 L575.3,375.8 L576.1,381 L577,386 L577.6,392 L578,400.7 Z" fill="#6c6c6c"/>
<path d="M560,400.3 C563,398.5 566,397 568.5,396.8 M577.6,395.6 C584,398 590,403 597,402.9 C605,402.6 614,398.6 623,396.2" fill="none" stroke="#1818d8" stroke-width="2"/>
<path d="M567.8,440.4 L578.3,431.6 L618.2,431.6 L607.8,440.4 Z M605.7,431.6 L605.7,417.3 L581.6,441.4 L581.6,454.2 L605.7,430.1" fill="none" stroke="#000" stroke-width="2.7" stroke-linejoin="miter" stroke-miterlimit="10"/>
</svg>

<div class="t" style="left:17.5px;top:19.5px;font-size:18px;letter-spacing:0.1px">GOME–2 / MetOp Analysis</div>
<div class="t" style="left:17.5px;top:44.5px;font-size:18px">ClONO<sub style="font-size:11px">2</sub> at 55.4 hPa</div>
<div class="t" style="right:16.9px;top:18.7px;font-size:18px">Oct 02, 2011, 12:00 GMT</div>
<div class="t" style="right:16.9px;top:47.2px;font-size:18px">Southern Hemisphere</div>
<div class="t" style="left:17.5px;top:405.3px;font-size:14px">4DVar Chemical Data Assimilation</div>
<div class="t" style="left:17.5px;top:428px;font-size:14px">SACADA Version 2.4</div>
<div class="t" style="left:17.5px;top:450px;font-size:14px">http://wdc.dlr.de</div>
<div class="t" style="left:338.5px;top:403.3px;font-size:14px">Volume Mixing Ratio [ppbv]</div>
<div class="t" style="left:331px;top:452px;font-size:13px;transform:translateX(-50%)">0</div>
<div class="t" style="left:370.8px;top:452px;font-size:13px;transform:translateX(-50%)">1</div>
<div class="t" style="left:410.6px;top:452px;font-size:13px;transform:translateX(-50%)">2</div>
<div class="t" style="left:450.5px;top:452px;font-size:13px;transform:translateX(-50%)">3</div>
<div class="t" style="left:490.5px;top:452px;font-size:13px;transform:translateX(-50%)">4</div>
<div class="t" style="left:530.3px;top:452px;font-size:13px;transform:translateX(-50%)">5</div>
<div class="t" style="left:580px;top:375px;font-size:24px;font-style:italic">RIU</div>
<div class="t" style="left:595.5px;top:450.8px;font-size:13.5px">DLR</div>

</body></html>
